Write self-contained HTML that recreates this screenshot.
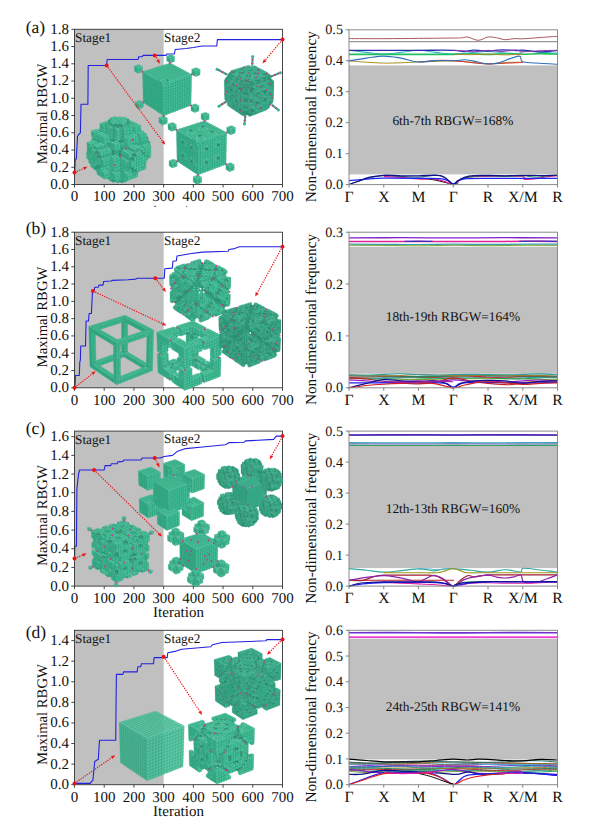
<!DOCTYPE html><html><head><meta charset="utf-8"><title>figure</title>
<style>html,body{margin:0;padding:0;background:#fff;}body{width:610px;height:833px;overflow:hidden;font-family:"Liberation Serif", serif;}svg{display:block;}.v path{stroke:#2b9876;stroke-width:2.8;stroke-linejoin:round}.vf path{stroke:#2a9474;stroke-width:2.8;stroke-linejoin:round}.vf .c0{fill:#3aae8c}.vf .c1{fill:#33a381}.vf .c2{fill:#48bf9b}.vf .c3{fill:#339f7e}.vf .c4{fill:#2e9476}.vf .c5{fill:#40b190}.vf .c6{fill:#2c8c6e}.vf .c7{fill:#278266}.vf .c8{fill:#369c7d}.vf .c9{fill:#1f6b56}.vf .c10{fill:#1b634f}.vf .c11{fill:#277a63}.c0{fill:#45c39b}.c1{fill:#3ab38d}.c2{fill:#58d1aa}.c3{fill:#3bb08c}.c4{fill:#35a582}.c5{fill:#54c8a4}.c6{fill:#2f9475}.c7{fill:#2a896c}.c8{fill:#40a787}.c9{fill:#20705a}.c10{fill:#1c6752}.c11{fill:#2a8269}.dot{stroke:#cc3594;stroke-linecap:round;fill:none}text{font-family:"Liberation Serif", serif;fill:#111;text-rendering:geometricPrecision;}</style>
</head><body>
<svg width="610" height="833" viewBox="0 0 610 833">
<rect width="610" height="833" fill="#fff"/>
<g>
<rect x="74.50" y="29.30" width="89.14" height="155.20" fill="#c0c0c0"/>
<path d="M74.5 172.4 L74.8 172.4 L75.1 160.4 L76.3 158.6 L77.5 136.2 L78.7 134.5 L80.4 132.8 L81.0 104.3 L87.9 104.3 L88.2 65.5 L106.6 65.5 L107.2 59.5 L138.1 59.5 L138.7 56.7 L142.2 56.7 L143.1 55.4 L166.0 55.4 L166.9 54.0 L174.3 54.0 L175.2 49.5 L185.9 48.5 L193.4 47.5 L202.3 46.0 L216.8 45.9 L217.4 39.6 L282.5 39.6" fill="none" stroke="#2222e0" stroke-width="1.1" stroke-linejoin="round"/>
<rect x="74.50" y="29.30" width="208.00" height="155.20" fill="none" stroke="#333" stroke-width="0.9"/>
<text x="69.1" y="188.9" font-size="15" text-anchor="end">0.0</text>
<text x="69.1" y="171.7" font-size="15" text-anchor="end">0.2</text>
<text x="69.1" y="154.4" font-size="15" text-anchor="end">0.4</text>
<text x="69.1" y="137.2" font-size="15" text-anchor="end">0.6</text>
<text x="69.1" y="119.9" font-size="15" text-anchor="end">0.8</text>
<text x="69.1" y="102.7" font-size="15" text-anchor="end">1.0</text>
<text x="69.1" y="85.4" font-size="15" text-anchor="end">1.2</text>
<text x="69.1" y="68.2" font-size="15" text-anchor="end">1.4</text>
<text x="69.1" y="50.9" font-size="15" text-anchor="end">1.6</text>
<text x="69.1" y="33.7" font-size="15" text-anchor="end">1.8</text>
<text x="74.5" y="201.3" font-size="15" text-anchor="middle">0</text>
<text x="104.2" y="201.3" font-size="15" text-anchor="middle">100</text>
<text x="133.9" y="201.3" font-size="15" text-anchor="middle">200</text>
<text x="163.6" y="201.3" font-size="15" text-anchor="middle">300</text>
<text x="193.4" y="201.3" font-size="15" text-anchor="middle">400</text>
<text x="223.1" y="201.3" font-size="15" text-anchor="middle">500</text>
<text x="252.8" y="201.3" font-size="15" text-anchor="middle">600</text>
<text x="282.5" y="201.3" font-size="15" text-anchor="middle">700</text>
<path d="M74.50 184.50h-3.2M74.50 167.26h-3.2M74.50 150.01h-3.2M74.50 132.77h-3.2M74.50 115.52h-3.2M74.50 98.28h-3.2M74.50 81.03h-3.2M74.50 63.79h-3.2M74.50 46.54h-3.2M74.50 29.30h-3.2M74.50 184.50v3M104.21 184.50v3M133.93 184.50v3M163.64 184.50v3M193.36 184.50v3M223.07 184.50v3M252.79 184.50v3M282.50 184.50v3" stroke="#333" stroke-width="0.9" fill="none"/>
<text x="25.7" y="33.1" font-size="17.5">(a)</text>
<text x="75.0" y="42.1" font-size="13.3">Stage1</text>
<text x="164.1" y="41.6" font-size="13.3">Stage2</text>
<text transform="translate(47.3 113.9) rotate(-90)" font-size="14.7" text-anchor="middle">Maximal RBGW</text>
<circle cx="74.5" cy="172.4" r="2" fill="#f01010"/>
<circle cx="106.6" cy="65.5" r="2" fill="#f01010"/>
<circle cx="154.7" cy="55.4" r="2" fill="#f01010"/>
<circle cx="282.5" cy="39.6" r="2" fill="#f01010"/>
</g>
<g>
<rect x="74.50" y="232.20" width="89.14" height="155.60" fill="#c0c0c0"/>
<path d="M74.5 387.8 L75.1 384.3 L75.4 375.5 L79.3 375.5 L79.8 361.9 L80.4 360.1 L80.7 346.0 L85.5 346.0 L86.1 321.0 L88.5 321.0 L89.1 313.5 L91.4 313.5 L92.0 301.4 L92.6 291.0 L94.1 291.0 L94.7 287.3 L98.3 287.3 L98.9 285.1 L103.0 285.1 L103.6 281.5 L111.3 281.0 L111.9 280.4 L128.0 279.7 L135.7 279.1 L137.5 278.2 L164.2 278.2 L164.8 268.7 L172.3 268.1 L172.9 261.3 L176.4 260.7 L177.0 256.0 L189.8 253.8 L202.3 252.1 L228.1 251.2 L229.0 249.5 L234.7 248.6 L239.4 246.7 L282.5 246.7" fill="none" stroke="#2222e0" stroke-width="1.1" stroke-linejoin="round"/>
<rect x="74.50" y="232.20" width="208.00" height="155.60" fill="none" stroke="#333" stroke-width="0.9"/>
<text x="69.1" y="392.2" font-size="15" text-anchor="end">0.0</text>
<text x="69.1" y="374.9" font-size="15" text-anchor="end">0.2</text>
<text x="69.1" y="357.6" font-size="15" text-anchor="end">0.4</text>
<text x="69.1" y="340.3" font-size="15" text-anchor="end">0.6</text>
<text x="69.1" y="323.0" font-size="15" text-anchor="end">0.8</text>
<text x="69.1" y="305.8" font-size="15" text-anchor="end">1.0</text>
<text x="69.1" y="288.5" font-size="15" text-anchor="end">1.2</text>
<text x="69.1" y="271.2" font-size="15" text-anchor="end">1.4</text>
<text x="69.1" y="253.9" font-size="15" text-anchor="end">1.6</text>
<text x="69.1" y="236.6" font-size="15" text-anchor="end">1.8</text>
<text x="74.5" y="404.6" font-size="15" text-anchor="middle">0</text>
<text x="104.2" y="404.6" font-size="15" text-anchor="middle">100</text>
<text x="133.9" y="404.6" font-size="15" text-anchor="middle">200</text>
<text x="163.6" y="404.6" font-size="15" text-anchor="middle">300</text>
<text x="193.4" y="404.6" font-size="15" text-anchor="middle">400</text>
<text x="223.1" y="404.6" font-size="15" text-anchor="middle">500</text>
<text x="252.8" y="404.6" font-size="15" text-anchor="middle">600</text>
<text x="282.5" y="404.6" font-size="15" text-anchor="middle">700</text>
<path d="M74.50 387.80h-3.2M74.50 370.51h-3.2M74.50 353.22h-3.2M74.50 335.93h-3.2M74.50 318.64h-3.2M74.50 301.36h-3.2M74.50 284.07h-3.2M74.50 266.78h-3.2M74.50 249.49h-3.2M74.50 232.20h-3.2M74.50 387.80v3M104.21 387.80v3M133.93 387.80v3M163.64 387.80v3M193.36 387.80v3M223.07 387.80v3M252.79 387.80v3M282.50 387.80v3" stroke="#333" stroke-width="0.9" fill="none"/>
<text x="25.7" y="234.4" font-size="17.5">(b)</text>
<text x="75.0" y="245.0" font-size="13.3">Stage1</text>
<text x="164.1" y="244.5" font-size="13.3">Stage2</text>
<text transform="translate(47.3 317.0) rotate(-90)" font-size="14.7" text-anchor="middle">Maximal RBGW</text>
<circle cx="74.5" cy="387.8" r="2" fill="#f01010"/>
<circle cx="92.9" cy="291.0" r="2" fill="#f01010"/>
<circle cx="155.3" cy="278.2" r="2" fill="#f01010"/>
<circle cx="282.5" cy="246.7" r="2" fill="#f01010"/>
</g>
<g>
<rect x="74.50" y="431.10" width="89.14" height="155.00" fill="#c0c0c0"/>
<path d="M74.5 558.5 L74.8 546.2 L76.4 546.2 L76.9 488.5 L78.5 474.4 L79.6 470.0 L104.2 470.0 L105.1 465.6 L110.8 465.6 L111.3 463.8 L117.0 463.8 L117.9 461.9 L122.9 461.4 L123.8 460.0 L141.1 459.9 L142.2 458.0 L160.1 458.0 L164.2 456.5 L172.6 455.4 L177.0 451.6 L185.6 448.6 L202.6 447.0 L225.4 444.7 L229.3 442.6 L243.9 442.3 L245.4 440.9 L273.6 439.4 L276.3 436.1 L282.5 436.1" fill="none" stroke="#2222e0" stroke-width="1.1" stroke-linejoin="round"/>
<rect x="74.50" y="431.10" width="208.00" height="155.00" fill="none" stroke="#333" stroke-width="0.9"/>
<text x="69.1" y="590.5" font-size="15" text-anchor="end">0.0</text>
<text x="69.1" y="571.8" font-size="15" text-anchor="end">0.2</text>
<text x="69.1" y="553.2" font-size="15" text-anchor="end">0.4</text>
<text x="69.1" y="534.5" font-size="15" text-anchor="end">0.6</text>
<text x="69.1" y="515.8" font-size="15" text-anchor="end">0.8</text>
<text x="69.1" y="497.1" font-size="15" text-anchor="end">1.0</text>
<text x="69.1" y="478.5" font-size="15" text-anchor="end">1.2</text>
<text x="69.1" y="459.8" font-size="15" text-anchor="end">1.4</text>
<text x="69.1" y="441.1" font-size="15" text-anchor="end">1.6</text>
<text x="74.5" y="602.9" font-size="15" text-anchor="middle">0</text>
<text x="104.2" y="602.9" font-size="15" text-anchor="middle">100</text>
<text x="133.9" y="602.9" font-size="15" text-anchor="middle">200</text>
<text x="163.6" y="602.9" font-size="15" text-anchor="middle">300</text>
<text x="193.4" y="602.9" font-size="15" text-anchor="middle">400</text>
<text x="223.1" y="602.9" font-size="15" text-anchor="middle">500</text>
<text x="252.8" y="602.9" font-size="15" text-anchor="middle">600</text>
<text x="282.5" y="602.9" font-size="15" text-anchor="middle">700</text>
<path d="M74.50 586.10h-3.2M74.50 567.43h-3.2M74.50 548.75h-3.2M74.50 530.08h-3.2M74.50 511.40h-3.2M74.50 492.73h-3.2M74.50 474.05h-3.2M74.50 455.38h-3.2M74.50 436.70h-3.2M74.50 586.10v3M104.21 586.10v3M133.93 586.10v3M163.64 586.10v3M193.36 586.10v3M223.07 586.10v3M252.79 586.10v3M282.50 586.10v3" stroke="#333" stroke-width="0.9" fill="none"/>
<text x="25.7" y="434.2" font-size="17.5">(c)</text>
<text x="75.0" y="443.9" font-size="13.3">Stage1</text>
<text x="164.1" y="443.4" font-size="13.3">Stage2</text>
<text transform="translate(47.3 515.6) rotate(-90)" font-size="14.7" text-anchor="middle">Maximal RBGW</text>
<text x="178.5" y="617.1" font-size="15" text-anchor="middle">Iteration</text>
<circle cx="74.5" cy="558.5" r="2" fill="#f01010"/>
<circle cx="94.1" cy="470.0" r="2" fill="#f01010"/>
<circle cx="154.7" cy="458.0" r="2" fill="#f01010"/>
<circle cx="282.5" cy="436.1" r="2" fill="#f01010"/>
</g>
<g>
<rect x="74.50" y="630.30" width="89.14" height="154.40" fill="#c0c0c0"/>
<path d="M74.5 783.4 L90.2 783.4 L91.4 781.6 L92.9 780.3 L94.7 761.5 L98.3 759.3 L99.5 740.2 L115.7 740.2 L116.4 674.4 L122.9 674.4 L123.5 671.9 L137.2 671.9 L137.8 666.8 L140.8 666.8 L141.4 663.7 L153.5 663.7 L154.1 657.6 L167.2 657.6 L167.8 652.7 L176.1 651.1 L181.5 649.3 L210.9 646.8 L212.4 644.7 L221.9 642.5 L266.2 640.8 L266.8 639.6 L282.5 639.6" fill="none" stroke="#2222e0" stroke-width="1.1" stroke-linejoin="round"/>
<rect x="74.50" y="630.30" width="208.00" height="154.40" fill="none" stroke="#333" stroke-width="0.9"/>
<text x="69.1" y="789.1" font-size="15" text-anchor="end">0.0</text>
<text x="69.1" y="768.5" font-size="15" text-anchor="end">0.2</text>
<text x="69.1" y="747.9" font-size="15" text-anchor="end">0.4</text>
<text x="69.1" y="727.3" font-size="15" text-anchor="end">0.6</text>
<text x="69.1" y="706.8" font-size="15" text-anchor="end">0.8</text>
<text x="69.1" y="686.2" font-size="15" text-anchor="end">1.0</text>
<text x="69.1" y="665.6" font-size="15" text-anchor="end">1.2</text>
<text x="69.1" y="645.0" font-size="15" text-anchor="end">1.4</text>
<text x="74.5" y="801.5" font-size="15" text-anchor="middle">0</text>
<text x="104.2" y="801.5" font-size="15" text-anchor="middle">100</text>
<text x="133.9" y="801.5" font-size="15" text-anchor="middle">200</text>
<text x="163.6" y="801.5" font-size="15" text-anchor="middle">300</text>
<text x="193.4" y="801.5" font-size="15" text-anchor="middle">400</text>
<text x="223.1" y="801.5" font-size="15" text-anchor="middle">500</text>
<text x="252.8" y="801.5" font-size="15" text-anchor="middle">600</text>
<text x="282.5" y="801.5" font-size="15" text-anchor="middle">700</text>
<path d="M74.50 784.70h-3.2M74.50 764.11h-3.2M74.50 743.53h-3.2M74.50 722.94h-3.2M74.50 702.35h-3.2M74.50 681.77h-3.2M74.50 661.18h-3.2M74.50 640.59h-3.2M74.50 784.70v3M104.21 784.70v3M133.93 784.70v3M163.64 784.70v3M193.36 784.70v3M223.07 784.70v3M252.79 784.70v3M282.50 784.70v3" stroke="#333" stroke-width="0.9" fill="none"/>
<text x="25.7" y="637.8" font-size="17.5">(d)</text>
<text x="75.0" y="643.1" font-size="13.3">Stage1</text>
<text x="164.1" y="642.6" font-size="13.3">Stage2</text>
<text transform="translate(47.3 714.5) rotate(-90)" font-size="14.7" text-anchor="middle">Maximal RBGW</text>
<text x="178.5" y="815.7" font-size="15" text-anchor="middle">Iteration</text>
<circle cx="74.5" cy="783.4" r="2" fill="#f01010"/>
<circle cx="163.6" cy="656.8" r="2" fill="#f01010"/>
<circle cx="282.5" cy="639.6" r="2" fill="#f01010"/>
</g>
<g class="v" transform="scale(.1)"><path class="c4" d="M1092 1800l20 13-1-28-19-13zM1112 1813l19 12 0-28-20-12zM919 1412l19 11-1-28-19-12zM988 1320l19 11-1-29-19-11zM1221 1775l20 12 0-28-20-13zM1007 1331l19 11-1-29-19-11zM1221 1746l20 13 0-29-19-12zM975 1417l19 11-1-28-19-12zM1026 1342l19 11 0-29-20-11zM1222 1718l19 12 1-28-20-13zM994 1428l19 12-1-29-19-11zM1045 1353l19 12 0-30-19-11zM934 1687l19 12-1-29-19-12zM1137 1711l20 12 0-29-20-12zM1064 1437l19 11 0-29-20-12zM1143 1572l20 13 0-30-20-12zM1083 1448l20 12 0-30-20-11zM1251 1671l20 12 0-29-20-13zM1143 1543l20 12 0-30-20-12zM1103 1460l20 12 0-30-20-12zM1271 1683l21 13 0-30-21-12zM1210 1558l20 12 1-30-21-12zM1143 1513l20 12 0-29-20-12zM1129 1392l20 11 0-29-20-12zM1230 1570l21 12 0-29-20-13zM1129 1362l20 12 0-30-20-12zM1222 1367l21 12 0-30-21-12zM1251 1582l21 13 0-30-21-12zM1304 1504l21 12 0-30-21-12zM1129 1332l20 12 0-30-20-12zM1222 1337l21 12 0-30-21-12zM1010 1619l20 13 0-30-20-12zM1292 1637l21 12 0-29-21-13zM1272 1595l20 12 1-30-21-12zM1325 1516l21 12 0-30-21-12zM1129 1302l20 12 0-31-20-11zM1222 1307l21 12 0-30-20-12z"/><path class="c3" d="M1272 1812l-25 9 0-28 25-9zM1500 1475l-24 8 0-28 25-9zM1247 1821l-26 10 0-28 26-10zM1501 1446l-25 9 1-29 24-9zM1131 1797l-26 10 0-29 26-9zM1131 1769l-26 9 0-28 26-9zM1221 1775l-25 9 0-28 25-10zM1452 1435l-25 9 0-29 25-9zM1131 1741l-26 9 0-28 26-10zM1221 1746l-25 10 0-29 26-9zM1427 1444l-26 8 1-29 25-8zM1387 1363l-25 9 0-30 25-8zM1131 1712l-26 10-1-29 26-10zM1222 1718l-26 9 0-28 26-10zM1401 1452l-25 9 1-29 25-9zM1346 1432l-26 9 1-29 25-9zM1184 1714l-27 9 0-29 27-9zM1393 1406l-26 8 0-29 26-9zM1004 1343l-26 9 0-30 26-8zM1117 1640l-26 10 0-30 26-9zM1300 1371l-25 8 0-29 26-9zM1091 1650l-27 9 0-29 27-10zM1190 1575l-27 10 0-30 27-9zM1269 1459l-27 9 1-29 26-9zM1064 1659l-26 10-1-30 27-9zM1190 1546l-27 9 0-30 27-9zM1242 1468l-26 9 0-29 27-9zM1301 1311l-26 9 0-30 26-9zM1038 1669l-27 9-1-29 27-10zM1117 1552l-27 10 0-30 27-9zM1190 1516l-27 9 0-29 27-9zM1216 1477l-26 10 0-30 26-9zM1222 1397l-26 9 0-30 26-9zM1301 1281l-26 9 0-30 26-9zM1090 1562l-26 9-1-30 27-9zM1129 1362l-26 9-1-30 27-9zM1222 1367l-26 9 0-30 26-9zM1292 1666l-26 10 0-30 26-9zM1064 1571l-27 9-1-29 27-10zM1023 1487l-27 10 0-30 27-9zM1129 1332l-27 9 0-30 27-9zM1222 1337l-26 9 0-30 26-9zM1010 1619l-27 10 0-30 27-9zM1292 1637l-26 9 0-29 26-10zM1037 1580l-27 10-1-30 27-9zM996 1497l-27 9 0-30 27-9zM1129 1302l-27 9 0-30 27-9zM1222 1307l-26 9 0-30 27-9zM1249 1269l-26 8 0-30 26-9z"/><path class="c2" d="M1332 1310l20 11-25 9-20-11zM1397 1295l20 11-25 8-20-11zM1440 1620l20 12-25 9-20-12zM1013 1283l19 11-26 8-19-11zM1417 1306l20 11-25 8-20-11zM1032 1294l19 11-26 8-19-11zM1392 1314l20 11-25 9-20-11zM1051 1305l19 11-25 8-20-11zM1367 1323l20 11-25 8-20-11zM1070 1316l20 11-26 8-19-11zM1342 1331l20 11-25 9-21-11zM1102 1201l19 11-25 8-20-11zM1328 1213l20 11-26 9-20-11zM1076 1209l20 11-26 8-19-11zM1302 1222l20 11-25 8-20-11zM1348 1224l20 11-25 8-21-10zM1013 1687l20 12-27 10-19-12zM1333 1707l21 13-26 9-20-12zM1051 1217l19 11-26 9-19-11zM1322 1233l21 10-26 9-20-11zM1368 1235l20 11-25 8-20-11zM1033 1699l19 13-26 9-20-12zM1308 1717l20 12-26 10-20-13zM1025 1226l19 11-26 8-20-11zM1070 1228l19 11-26 9-19-11zM1343 1243l20 11-26 9-20-11zM1388 1246l21 11-26 9-20-12zM1052 1712l20 12-27 10-19-13zM1282 1726l20 13-26 10-20-13zM1044 1237l19 11-26 8-19-11zM1363 1254l20 12-25 8-21-11zM966 1291l19 12-27 8-19-11zM939 1300l19 11-26 9-19-11zM985 1303l19 11-26 8-20-11zM958 1311l20 11-27 9-19-11zM1154 1164l20 11-26 8-20-11zM1200 1166l20 11-26 8-20-10zM1246 1169l20 11-26 8-20-11zM1128 1172l20 11-26 8-20-11zM1174 1175l20 10-26 9-20-11zM1220 1177l20 11-26 8-20-11zM1148 1183l20 11-26 8-20-11zM1194 1185l20 11-26 9-20-11zM1289 1441l21 12-26 9-21-12zM1168 1194l20 11-26 8-20-11zM1214 1196l20 11-26 9-20-11zM1016 1315l20 12-27 9-19-12zM1188 1205l20 11-26 8-20-11zM1234 1207l21 12-26 8-21-11zM1070 1490l20 12-27 9-20-12zM1003 1446l20 12-27 9-20-12zM1162 1213l20 11-27 9-20-11zM1208 1216l21 11-27 9-20-12zM1043 1499l20 12-27 10-20-12zM1278 1513l20 13-26 9-21-12zM976 1455l20 12-27 9-20-12zM1009 1336l20 11-27 9-20-12zM1182 1224l20 12-26 8-21-11zM1229 1227l20 11-26 9-21-11zM1016 1509l20 12-27 9-20-12zM1298 1526l21 12-26 9-21-12zM1029 1347l20 12-27 9-20-12zM1176 1275l20 11-27 9-20-12zM1049 1359l20 11-27 9-20-11zM1284 1372l21 12-27 9-20-12z"/><path class="c6" d="M1157 1816l-26 9 0-28 26-9zM1202 1819l-26 9 0-28 26-10zM1481 1406l-25 9 1-29 25-9zM1247 1680l-25 9 0-29 25-9zM1222 1689l-26 10 0-29 26-10zM1376 1461l-25 9 0-29 26-9zM1216 1653l-26 10 0-29 26-10zM1346 1462l-26 9 0-30 26-9zM1143 1572l-26 10 0-30 26-9zM1248 1418l-26 9 0-30 26-9zM1143 1543l-26 9 0-29 26-10zM1216 1507l-26 9 0-29 26-10zM1222 1427l-26 9 0-30 26-9zM990 1577l-27 10-1-30 28-9zM1319 1598l-27 9 1-30 26-9zM970 1536l-27 9-1-30 27-9zM1345 1558l-26 10 0-30 27-10zM1155 1263l-26 9 0-30 26-9zM1202 1266l-26 9 0-31 26-8z"/><path class="c7" d="M1157 1816l19 12 0-28-19-12zM1202 1819l19 12 0-28-19-13zM1190 1634l20 12 0-29-20-13zM1090 1398l20 12-1-30-19-11zM1190 1575l20 12 0-29-20-12zM1110 1410l19 11 0-29-20-12zM1190 1546l20 12 0-30-20-12zM1123 1501l20 12 0-29-20-12zM1129 1421l20 12 0-30-20-11zM991 1666l20 12-1-29-19-12zM990 1577l20 13-1-30-19-12zM1319 1598l21 12 0-30-21-12zM970 1536l20 12-1-30-20-12zM1345 1558l21 13 1-30-21-13zM1155 1263l21 12 0-31-21-11zM1202 1266l21 11 0-30-21-11z"/><path class="c1" d="M1053 1692l20 12-1-29-19-12zM1066 1782l20 12-1-28-19-12zM1086 1794l19 13 0-29-20-12zM1389 1695l20 12 1-28-21-12zM912 1432l18 11 0-29-19-11zM1150 1810l20 12 0-28-20-13zM1085 1766l20 12 0-28-20-12zM1085 1738l20 12 0-28-20-13zM969 1741l19 13-1-29-19-12zM1085 1709l20 13-1-29-19-12zM872 1539l18 11 0-28-19-12zM988 1754l19 12 0-28-20-13zM968 1713l19 12 0-28-19-13zM871 1510l19 12-1-29-18-12zM1007 1766l19 13 0-29-19-12zM987 1725l20 13-1-29-19-12zM890 1522l19 11-1-29-19-11zM871 1481l18 12 0-29-19-12zM999 1293l19 11 0-30-19-11zM1026 1779l20 12 0-28-20-13zM1007 1738l19 12 0-29-20-12zM889 1493l19 11 0-29-19-11zM1437 1525l21 12 0-29-20-12zM870 1452l19 12-1-29-19-12zM1018 1304l20 11-1-30-19-11zM999 1263l19 11 0-29-20-11zM1317 1281l20 11 0-29-20-11zM1026 1750l20 13-1-29-19-13zM889 1464l19 11-1-29-19-11zM1438 1496l20 12 1-29-21-12zM1018 1274l19 11 0-29-19-11zM1337 1292l20 12 1-30-21-11zM895 1633l19 13-1-29-19-13zM1111 1778l20 13 0-29-20-13zM914 1367l19 12-1-30-19-11zM913 1338l19 11 0-29-19-11zM1050 1346l20 11 0-29-20-12zM867 1585l19 12 0-29-20-13zM932 1349l19 12 0-30-19-11zM926 1680l19 12 0-29-20-12zM886 1597l19 12 0-29-19-12zM925 1651l20 12-1-29-19-13zM905 1609l20 12-1-29-19-12zM1184 1626l20 13 0-30-20-12zM925 1621l19 13 0-30-20-12zM905 1580l19 12 0-30-20-12zM1184 1597l20 12 0-30-20-12zM1083 1389l20 12 0-30-20-12zM944 1634l20 12-1-29-19-13zM924 1592l20 12-1-29-19-13zM1204 1609l20 12 1-29-21-13zM1083 1359l20 12-1-30-19-12zM944 1604l19 13 0-30-20-12zM1224 1621l21 13 0-30-20-12zM924 1562l19 13 0-30-20-12zM1149 1374l21 11-1-30-20-11zM1083 1329l19 12 0-30-20-12zM1124 1667l21 13-1-30-20-12zM963 1617l20 12 0-30-20-12zM1245 1634l21 12 0-29-21-13zM943 1575l20 12-1-30-19-12zM1251 1553l21 12 0-30-21-12zM983 1374l19 12 0-30-20-12zM1149 1344l20 11 0-30-20-11zM1124 1638l20 12 0-30-20-12zM990 1548l19 12 0-30-20-12zM1272 1565l21 12 0-30-21-12zM1149 1314l20 11 0-30-20-12zM1124 1608l20 12 0-29-20-13zM1257 1411l21 12 0-30-20-12z"/><path class="c8" d="M944 1375l19 11-26 9-19-12zM1481 1406l20 11-24 9-21-11zM1461 1366l21 11-25 9-21-11zM1064 1437l19 11-26 9-20-11zM1083 1448l20 12-26 9-20-12zM1269 1459l20 12-26 9-21-12zM1103 1460l20 12-26 9-20-12zM1242 1468l21 12-26 9-21-12zM990 1577l20 13-27 9-20-12zM1319 1598l21 12-27 10-21-13zM970 1536l20 12-28 9-19-12zM1345 1558l21 13-26 9-21-12zM1155 1263l21 12-27 8-20-11zM1202 1266l21 11-27 9-20-11z"/><path class="c5" d="M1442 1326l20 11-25 9-20-11zM937 1395l19 11-26 8-19-11zM1477 1426l20 11-25 9-20-11zM956 1406l19 11-26 9-19-12zM1452 1435l20 11-25 9-20-11zM975 1417l19 11-26 9-19-11zM1427 1444l20 11-25 9-21-12zM1111 1671l19 12-26 10-19-12zM1247 1680l20 12-25 10-20-13zM1401 1452l21 12-25 9-21-12zM1378 1344l20 12-25 8-21-11zM1433 1517l21 12-26 9-21-12zM1272 1190l20 11-26 8-20-10zM900 1496l19 12-26 9-19-12zM1373 1364l20 12-26 9-20-12zM1108 1191l20 11-26 8-20-11zM1292 1201l20 11-26 8-20-11zM1090 1398l20 12-27 9-20-12zM1110 1410l19 11-26 9-20-11zM1248 1418l21 12-26 9-21-12zM1129 1421l20 12-26 9-20-12zM1222 1427l21 12-27 9-20-12zM1117 1552l20 12-27 10-20-12zM1210 1558l20 12-26 9-20-12zM1077 1469l20 12-27 9-20-12zM1263 1480l20 12-26 9-20-12zM1196 1436l20 12-26 9-20-12zM1090 1562l20 12-26 9-20-12zM1230 1570l21 12-26 10-21-13zM1050 1478l20 12-27 9-20-12zM1283 1492l21 12-26 9-21-12zM1064 1571l20 12-27 10-20-13zM1251 1582l21 13-27 9-20-12zM1023 1487l20 12-27 10-20-12zM1304 1504l21 12-27 10-20-13zM1275 1260l21 11-27 9-20-11zM1037 1580l20 13-27 9-20-12zM1272 1595l20 12-26 10-21-13zM996 1497l20 12-27 9-20-12zM1325 1516l21 12-27 10-21-12zM1372 1519l21 12-26 10-21-13zM1249 1269l20 11-26 9-20-12z"/><path class="c0" d="M1292 1796l-25 10 0-28 25-10zM1459 1689l-25 9 1-28 25-10zM1267 1806l-26 9 0-28 26-9zM1434 1698l-25 9 1-28 25-9zM1460 1660l-25 10 0-29 25-9zM1497 1466l-25 9 0-29 25-9zM1196 1813l-26 9 0-28 26-10zM1267 1778l-26 9 0-28 26-10zM1477 1397l-25 9 1-29 25-9zM1452 1406l-25 9 1-29 25-9zM1379 1767l-26 10 0-29 26-9zM1267 1721l-26 9 1-28 25-10zM1507 1577l-25 9 1-29 25-9zM1421 1493l-25 9 1-29 25-9zM1427 1415l-25 8 0-29 26-8zM1353 1777l-25 10 0-29 25-10zM1379 1739l-26 9 1-28 25-10zM1482 1586l-25 9 0-29 26-9zM1508 1548l-25 9 0-29 26-9zM1098 1772l-26 10 0-29 26-10zM1328 1787l-26 9 0-28 26-10zM1353 1748l-25 10 0-29 26-9zM1483 1557l-26 9 1-29 25-9zM1509 1519l-26 9 1-29 25-9zM1408 1316l-25 8 0-29 25-9zM1072 1782l-26 9 0-28 26-10zM1098 1743l-26 10 0-29 26-9zM1328 1758l-26 10 0-29 26-10zM1483 1528l-25 9 0-29 26-9zM961 1457l-27 9 0-29 26-9zM1064 1306l-26 9-1-30 26-8zM1408 1286l-25 9 0-29 26-9zM1072 1753l-26 10-1-29 27-10zM934 1466l-26 9-1-29 27-9zM1063 1277l-26 8 0-29 26-8zM1383 1295l-26 9 1-30 25-8zM1117 1669l-26 10 0-29 26-10zM1178 1765l-27 10 0-29 27-10zM978 1352l-27 9 0-30 27-9zM1065 1688l-27 10 0-29 26-10zM1038 1698l-27 10 0-30 27-9zM1391 1680l-26 9 0-29 26-10zM1417 1641l-26 9 1-29 26-10zM1444 1602l-26 9 0-30 26-9zM1450 1521l-26 9 0-29 26-10zM1327 1273l-26 8 0-30 26-8zM1111 1633l-27 9 0-29 26-10zM1391 1650l-26 10 1-30 26-9zM1418 1611l-26 10 0-30 26-10zM1084 1642l-27 10 0-30 27-9zM1365 1660l-26 9 0-29 27-10zM1110 1603l-26 10 0-30 26-9zM1392 1621l-26 9 0-30 26-9zM1418 1581l-26 10 1-30 26-9zM1269 1370l-26 9 0-30 26-9zM1057 1652l-27 10 0-30 27-10zM1084 1613l-27 9 0-29 27-10zM1366 1630l-27 10 1-30 26-10zM1392 1591l-26 9 0-29 27-10zM1090 1532l-27 9 0-30 27-9zM1196 1376l-26 9-1-30 27-9zM1269 1340l-26 9 0-30 26-9zM1296 1301l-27 9 0-30 27-9zM1057 1622l-27 10 0-30 27-9zM1198 1631l-27 10 0-30 27-10zM1339 1640l-26 9 0-29 27-10zM1366 1600l-26 10 0-30 26-9zM1063 1541l-27 10 0-30 27-10zM1393 1561l-27 10 1-30 26-10zM1096 1421l-27 10 0-31 27-9zM1357 1396l-26 9 0-30 27-9zM1196 1346l-27 9 0-30 27-9zM1269 1310l-26 9 0-30 26-9zM1171 1641l-27 9 0-30 27-9zM1198 1601l-27 10 0-30 27-10zM1036 1551l-27 9 0-30 27-9zM1319 1568l-26 9 0-30 26-9zM1096 1391l-27 9 0-30 27-9zM1331 1405l-26 9 0-30 26-9zM1196 1316l-27 9 0-30 27-9zM1171 1611l-27 9 0-29 27-10zM1069 1400l-27 10 0-31 27-9zM1305 1414l-27 9 0-30 27-9z"/><path class="c4" d="M1131 1797l19 13 0-29-19-12zM1221 1803l20 12 0-28-20-12zM937 1395l19 11-1-29-18-11zM956 1406l19 11-1-29-19-11zM1006 1431l19 12 0-30-20-11zM1118 1727l20 13-1-29-19-13zM1118 1698l19 13 0-29-20-13zM1302 1710l21 13 0-30-20-12zM979 1411l19 11 0-29-20-12zM953 1699l19 13 0-29-20-13zM1323 1723l21 12 0-29-21-13zM874 1534l19 12 0-29-19-12zM1373 1364l20 12 1-30-21-11zM1082 1229l20 11 0-30-20-11zM1263 1480l20 12 1-30-21-12zM1222 1397l21 12 0-30-21-12zM1069 1268l20 11 0-30-20-11zM1283 1492l21 12 0-30-20-12zM1010 1649l20 13 0-30-20-13zM1137 1505l20 12 0-30-20-12z"/><path class="c3" d="M1221 1803l-25 10 0-29 25-9zM1477 1426l-25 9 0-29 25-9zM1437 1346l-25 8 0-29 25-8zM1242 1673l-26 9 0-29 26-9zM1216 1682l-26 10 0-29 26-10zM1371 1453l-25 9 0-30 26-9zM1210 1733l-26 10 0-29 26-10zM1418 1426l-26 9 1-29 25-9zM1395 1716l-25 9 0-29 26-9zM1474 1600l-26 9 1-29 25-9zM1025 1413l-27 9 0-29 26-9zM999 1702l-27 10 0-29 27-10zM1370 1725l-26 10 0-29 26-10zM1474 1571l-25 9 0-29 26-10zM1312 1242l-26 8 0-30 26-8zM1077 1469l-27 9 0-29 26-10zM1129 1392l-26 9 0-30 26-9zM1050 1478l-27 9 0-29 27-9zM1210 1499l-26 9 0-30 26-9zM1184 1508l-27 9 0-30 27-9zM1210 1469l-26 9 0-30 26-9z"/><path class="c2" d="M1457 1357l21 11-25 9-21-11zM1347 1312l20 11-25 8-20-11zM1322 1320l20 11-26 9-20-11zM1287 1704l21 13-26 9-20-12zM922 1406l19 11-26 9-19-12zM1468 1438l21 11-25 9-21-12zM1262 1714l20 12-26 10-20-13zM896 1414l19 12-27 9-19-12zM941 1417l19 11-26 9-19-11zM1443 1446l21 12-26 9-21-12zM1489 1449l21 12-26 9-20-12zM915 1426l19 11-27 9-19-11zM1464 1458l20 12-25 9-21-12zM1424 1317l21 12-26 8-20-11zM998 1422l20 12-27 9-19-12zM1367 1444l20 12-25 9-21-12zM1399 1326l20 11-25 9-21-11zM1445 1329l21 11-26 9-21-12zM1157 1723l21 13-27 10-20-13zM972 1431l19 12-27 9-19-12zM1387 1456l21 11-26 10-20-12zM1419 1337l21 12-26 9-20-12zM945 1440l19 12-26 9-20-12zM1266 1180l21 11-26 8-21-11zM918 1449l20 12-27 9-20-12zM1037 1416l20 12-27 9-20-12zM1315 1432l21 12-26 9-21-12zM1076 1219l19 11-26 8-20-11zM1307 1232l20 11-26 8-20-11zM1240 1188l21 11-27 8-20-11zM1057 1428l19 11-26 10-20-12zM1030 1437l20 12-27 9-20-12zM1310 1453l21 12-27 9-20-12zM1331 1465l20 12-26 9-21-12zM990 1324l19 12-27 8-19-11zM1036 1327l20 11-27 9-20-11zM1363 1345l21 12-26 9-21-12zM1157 1547l20 12-26 10-21-13zM1130 1556l21 13-27 9-20-12zM1177 1559l21 12-27 10-20-12zM1151 1569l20 12-27 10-20-13z"/><path class="c1" d="M1066 1697l19 12 0-28-20-13zM1236 1781l20 13 0-29-20-13zM1317 1311l20 11 0-30-20-11zM1256 1794l20 12 0-29-20-12zM1236 1752l20 13 0-29-20-13zM1417 1485l21 11 0-29-21-12zM1337 1322l20 11 0-29-20-12zM1256 1765l20 12 0-28-20-13zM1131 1791l20 13 0-29-20-13zM1111 1749l20 13 0-29-20-13zM1210 1675l20 13 0-30-20-12zM933 1379l19 11-1-29-19-12zM1131 1762l20 13 0-29-20-13zM906 1667l20 13-1-29-19-13zM1230 1688l20 12 1-29-21-13zM887 1626l19 12-1-29-19-12zM1393 1376l21 11 0-29-20-12zM1050 1316l20 12-1-30-19-11zM1250 1700l21 13 0-30-20-12zM906 1638l19 13 0-30-20-12zM866 1555l20 13-1-30-19-12zM1050 1287l19 11 0-30-20-11zM991 1695l20 13 0-30-20-12zM1271 1713l21 12 0-29-21-13zM886 1568l19 12-1-30-19-12zM892 1488l19 12 0-30-20-12zM1049 1257l20 11 0-30-20-11zM1104 1684l20 13 0-30-20-12zM1124 1697l21 13 0-30-21-13zM1104 1655l20 12 0-29-20-13zM983 1404l20 12-1-30-19-12zM1104 1625l20 13 0-30-20-12zM1003 1416l20 12-1-30-20-12zM1237 1430l20 12 0-31-20-11zM1082 1299l20 12 0-30-20-12zM1104 1596l20 12 0-30-20-12zM1023 1428l20 12-1-30-20-12zM1257 1442l21 12 0-31-21-12zM1002 1386l20 12 0-30-20-12zM1237 1400l20 11 1-30-21-11zM1022 1398l20 12 0-31-20-11zM1110 1454l20 12 0-30-20-12zM1130 1466l20 12 0-30-20-12z"/><path class="c2" d="M1059 1690l19 12-26 10-19-13zM1078 1702l20 13-26 9-20-12zM1408 1467l21 12-26 10-21-12zM1429 1479l21 12-26 10-21-12zM1010 1425l20 12-27 9-19-12zM1336 1444l21 12-26 9-21-12zM984 1434l19 12-27 9-19-12zM1357 1456l21 12-27 9-20-12zM957 1443l19 12-27 9-19-12z"/><path class="c0" d="M1302 1796l-26 10 0-29 26-9zM1509 1490l-25 9 0-29 26-9zM1383 1324l-26 9 0-29 26-9zM1302 1768l-26 9 0-28 26-10zM1484 1499l-26 9 1-29 25-9zM1447 1668l-26 9 1-29 26-9zM1204 1784l-26 10 0-29 26-10zM1465 1399l-26 9 1-29 25-9zM1178 1794l-27 10 0-29 27-10zM1204 1755l-26 10 0-29 26-10zM1439 1408l-26 9 1-30 26-8zM1326 1362l-26 9 1-30 26-9zM1465 1370l-25 9 0-30 26-9zM1091 1679l-26 9-1-29 27-9zM1440 1379l-26 8 0-29 26-9zM1327 1332l-26 9 0-30 26-9zM1391 1709l-26 10 0-30 26-9zM1470 1592l-26 10 0-30 26-9zM1327 1302l-26 9 0-30 26-8zM1318 1716l-26 9 0-29 26-10zM1383 1387l-26 9 1-30 26-9zM1331 1435l-27 9 1-30 26-9zM1069 1431l-26 9-1-30 27-10zM1304 1444l-26 10 0-31 27-9zM1204 1490l-27 9 0-30 27-9zM1177 1499l-26 10-1-31 27-9z"/><path class="c4" d="M960 1399l19 12-1-30-19-11zM1346 1432l21 12 0-30-21-11zM1393 1406l20 11 1-30-21-11zM1210 1646l20 12 0-29-20-12zM1230 1658l21 13 0-30-21-12z"/><path class="c3" d="M1210 1704l-26 10 0-29 26-10zM1392 1435l-25 9 0-30 26-8zM978 1381l-26 9-1-29 27-9zM1301 1341l-26 9 0-30 26-9z"/><path class="c5" d="M1190 1663l20 12-26 10-20-13zM1137 1711l20 12-26 10-20-13zM1184 1714l20 12-26 10-21-13zM1454 1529l21 12-26 10-21-13zM1382 1477l21 12-26 9-21-12zM938 1461l19 12-27 9-19-12zM1403 1489l21 12-26 9-21-12zM1089 1249l20 12-27 8-20-11zM1109 1261l20 11-27 9-20-12z"/><path class="c6" d="M1421 1677l-25 10 0-29 26-10zM1448 1639l-26 9 0-29 26-10zM972 1683l-27 9 0-29 27-10zM1344 1706l-26 10 0-30 26-9zM1449 1551l-26 9 1-30 26-9zM1286 1220l-26 9 1-30 26-8zM1318 1686l-26 10 0-30 26-9zM1424 1530l-26 10 0-30 26-9z"/><path class="c0" d="M1417 1699l-26 10 0-29 26-10zM1443 1660l-26 10 0-29 26-10zM1469 1622l-26 9 1-29 26-10zM1417 1670l-26 10 0-30 26-9zM1443 1631l-26 10 1-30 26-9zM1295 1361l-26 9 0-30 26-9zM1198 1690l-27 10 0-30 27-9zM1383 1417l-26 9 0-30 26-9zM1295 1331l-26 9 0-30 27-9zM1171 1700l-26 10 0-30 26-10zM1198 1661l-27 9 0-29 27-10zM1357 1426l-26 9 0-30 26-9zM1171 1670l-26 10-1-30 27-9z"/><path class="c7" d="M972 1683l19 12 0-29-19-13zM1344 1706l21 13 0-30-21-12zM893 1517l19 12-1-29-19-12zM1102 1210l20 11 0-30-20-11zM1318 1686l21 13 0-30-21-12zM911 1500l20 11-1-29-19-12z"/><path class="c8" d="M893 1517l19 12-27 9-19-12zM1449 1551l21 12-26 9-21-12zM1102 1210l20 11-27 9-19-11zM1286 1220l21 12-26 8-21-11zM911 1500l20 11-27 10-20-12zM1424 1530l21 12-26 10-21-12zM1095 1230l20 11-26 8-20-11zM1281 1240l20 11-26 9-20-11z"/><path class="c11" d="M1123 1501l20 12-26 10-20-12zM1216 1507l20 12-26 9-20-12z"/><path class="c9" d="M1123 1501l-26 10 0-30 26-9zM1176 1424l-27 9 0-30 27-9z"/><path class="c10" d="M1216 1507l20 12 1-30-21-12zM1176 1424l20 12 0-30-20-12z"/><path class="c6" d="M991 1666l-27 9 0-29 27-9zM1281 1240l-26 9 0-30 26-9z"/><path class="c1" d="M945 1663l19 12 0-29-20-12zM1204 1639l20 12 0-30-20-12zM885 1538l19 12 0-29-20-12zM1063 1348l20 11 0-30-20-11zM1224 1651l21 13 0-30-21-13zM904 1550l20 12-1-29-19-12zM1210 1528l21 12 0-29-21-12zM964 1393l19 11 0-30-20-11zM1149 1403l21 12 0-30-21-11zM1063 1318l20 11-1-30-20-11zM964 1646l19 13 0-30-20-12zM1245 1664l21 12 0-30-21-12zM904 1521l19 12 0-30-20-12zM1231 1540l20 13 0-30-20-12zM963 1363l20 11-1-30-19-11zM1062 1288l20 11 0-30-20-11zM923 1533l20 12-1-30-19-12z"/><path class="c0" d="M1365 1689l-26 10 0-30 26-9zM1444 1572l-26 9 1-29 26-10zM1117 1523l-27 9 0-30 27-9zM1196 1406l-26 9 0-30 26-9zM1339 1669l-26 10 0-30 26-9zM1419 1552l-26 9 0-30 26-9z"/><path class="c7" d="M1095 1230l20 11 0-30-20-11z"/><path class="c2" d="M1122 1191l20 11-27 9-20-11zM1261 1199l20 11-26 9-21-12zM1097 1481l20 12-27 9-20-12zM1237 1489l20 12-26 10-21-12zM1342 1334l21 11-26 9-21-11zM1142 1202l20 11-27 9-20-11zM1257 1501l21 12-27 10-20-12zM1378 1468l21 12-27 9-21-12zM1316 1343l21 11-27 9-20-11zM1115 1211l20 11-26 8-20-11zM1255 1219l20 11-26 8-20-11zM1351 1477l21 12-26 9-21-12zM1056 1338l20 12-27 9-20-12zM1290 1352l20 11-26 9-21-11zM1337 1354l21 12-27 9-21-12zM1135 1222l20 11-26 9-20-12zM1076 1350l20 11-27 9-20-11zM1263 1361l21 11-26 9-21-11zM1310 1363l21 12-26 9-21-12zM1163 1406l21 12-27 9-21-12zM1136 1415l21 12-27 9-20-12z"/><path class="c3" d="M1010 1649l-27 10 0-30 27-10zM1398 1510l-26 9 0-30 27-9zM1275 1260l-26 9 0-31 26-8zM1372 1519l-26 9 0-30 26-9z"/><path class="c4" d="M1292 1666l21 13 0-30-21-12zM930 1482l20 12-1-30-19-12zM1117 1493l20 12 0-30-21-12zM1089 1249l20 12 0-31-20-11zM950 1494l19 12 0-30-20-12zM1109 1261l20 11 0-30-20-12z"/><path class="c5" d="M930 1482l20 12-27 9-20-12zM1398 1510l21 12-26 9-21-12zM950 1494l19 12-27 9-19-12zM1190 1427l20 12-26 9-21-12z"/><path class="c1" d="M1110 1484l20 12 0-30-20-12zM1130 1496l21 13-1-31-20-12z"/><path class="c0" d="M1204 1460l-27 9 0-30 27-9zM1177 1469l-27 9 0-30 27-9z"/><path class="c2" d="M1184 1418l20 12-27 9-20-12zM1157 1427l20 12-27 9-20-12z"/></g>
<g class="v" transform="scale(.1)"><path class="c1" d="M1355 1068l16 11-1-25-16-10zM1909 1104l18 11 1-25-18-11zM1667 611l17 9 0-25-17-9zM1371 1079l16 11 0-25-17-11zM1927 1115l19 11 0-25-18-11zM1354 1044l16 10 0-24-16-11zM1910 1079l18 11 0-25-18-11zM1684 620l17 9 0-25-17-9zM1667 586l17 9 0-26-17-9zM1370 1054l17 11-1-25-16-10zM1928 1090l18 11 1-25-19-11zM1432 1024l17 11-1-25-16-11zM1684 595l17 9 0-26-17-9zM1449 1035l16 10 0-25-17-10zM1432 999l16 11 0-26-17-10zM1465 1045l17 11-1-25-16-11zM1448 1010l17 10-1-25-16-11zM1431 974l17 10-1-25-16-10zM1482 1056l17 11-1-25-17-11zM1465 1020l16 11 0-25-17-11zM1448 984l16 11 0-25-17-11zM1431 949l16 10 0-25-17-11zM1499 1067l17 11-1-25-17-11zM1481 1031l17 11 0-25-17-11zM1464 995l17 11 0-25-17-11zM1447 959l17 11-1-26-16-10zM1430 923l17 11-1-26-16-10zM1516 1078l17 11-1-25-17-11zM1498 1042l17 11 0-25-17-11zM1481 1006l17 11-1-26-16-10zM1464 970l17 11-1-26-17-11zM1447 934l16 10 0-25-17-11zM1430 898l16 10 0-25-17-10zM1533 1089l17 11-1-25-17-11zM1515 1053l17 11 0-25-17-11zM1498 1017l17 11-1-26-17-11zM1481 981l16 10 0-25-17-11zM1463 944l17 11 0-26-17-10zM1446 908l17 11-1-26-16-10zM1429 873l17 10-1-26-17-10zM1550 1100l17 12 0-26-18-11zM1532 1064l17 11 0-25-17-11zM1515 1028l17 11 0-26-18-11zM1497 991l17 11 0-26-17-10zM1480 955l17 11 0-26-17-11zM1463 919l17 10-1-25-17-11zM1446 883l16 10 0-25-17-11zM1428 847l17 10 0-26-17-10zM1567 1112l17 11 0-25-17-12zM1549 1075l18 11-1-25-17-11zM1532 1039l17 11 0-26-17-11zM1514 1002l18 11-1-26-17-11zM1497 966l17 10 0-25-17-11zM1480 929l17 11-1-26-17-10zM1462 893l17 11 0-26-17-10zM1445 857l17 11-1-26-16-11zM1428 821l17 10-1-26-17-10zM1584 1123l18 12 0-26-18-11zM1567 1086l17 12 0-26-18-11zM1549 1050l17 11 0-26-17-11zM1532 1013l17 11 0-26-18-11zM1514 976l17 11 0-25-17-11zM1497 940l17 11-1-26-17-11zM1479 904l17 10 0-26-17-10zM1462 868l17 10-1-26-17-10zM1445 831l16 11 0-26-17-11zM1427 795l17 10-1-26-16-10zM1602 1135l18 11-1-26-17-11zM1584 1098l18 11 0-26-18-11zM1566 1061l18 11 0-26-18-11zM1549 1024l17 11 0-26-17-11zM1531 987l18 11-1-26-17-10zM1514 951l17 11 0-26-18-11zM1496 914l17 11 0-26-17-11zM1479 878l17 10-1-26-17-10zM1461 842l17 10 0-26-17-10zM1444 805l17 11-1-27-17-10zM1427 769l16 10 0-26-17-10zM1620 1146l17 12 0-26-18-12zM1602 1109l17 11 0-25-17-12zM1584 1072l18 11-1-26-17-11zM1566 1035l18 11-1-26-17-11zM1549 998l17 11 0-26-18-11zM1531 962l17 10 0-26-17-10zM1513 925l18 11-1-26-17-11zM1496 888l17 11 0-26-18-11zM1478 852l17 10 0-26-17-10zM1461 816l17 10-1-26-17-11zM1443 779l17 10 0-26-17-10zM1426 743l17 10-1-26-16-10zM1590 1227l18 12 0-26-18-12zM1619 1120l18 12 0-26-18-11zM1602 1083l17 12 0-26-18-12zM1584 1046l17 11 0-26-18-11zM1566 1009l17 11 0-26-17-11zM1548 972l18 11-1-26-17-11zM1531 936l17 10 0-26-18-10zM1513 899l17 11 0-27-17-10zM1495 862l18 11-1-26-17-11zM1478 826l17 10 0-26-18-10zM1460 789l17 11 0-27-17-10zM1443 753l17 10-1-26-17-10zM1345 712l16 10-1-26-16-10zM1917 745l19 10 1-27-19-10zM1608 1239l18 12 0-26-18-12zM1590 1201l18 12 0-25-18-12zM1619 1095l18 11 0-26-18-11zM1601 1057l18 12 0-26-18-12zM1583 1020l18 11 0-26-18-11zM1566 983l17 11 0-26-18-11zM1548 946l17 11 0-26-17-11zM1530 910l18 10-1-26-17-11zM1513 873l17 10 0-26-18-10zM1495 836l17 11 0-27-17-10zM1477 800l18 10-1-27-17-10zM1460 763l17 10-1-26-17-10zM1361 722l17 10-1-26-17-10zM1936 755l19 10 1-27-19-10zM1344 686l16 10 0-27-17-9zM1918 718l19 10 0-27-19-10zM1608 1213l18 12 0-26-18-11zM1619 1069l18 11 0-26-18-11zM1601 1031l18 12 0-26-18-12zM1583 994l18 11 0-26-18-11zM1565 957l18 11 0-26-18-11zM1548 920l17 11 0-26-18-11zM1530 883l17 11 0-26-17-11zM1512 847l18 10-1-26-17-11zM1495 810l17 10-1-26-17-11zM1477 773l17 10 0-26-18-10zM1360 696l17 10-1-27-16-10zM1937 728l19 10 0-27-19-10zM1619 1043l18 11 0-26-18-11zM1601 1005l18 12 0-27-18-11zM1583 968l18 11 0-26-18-11zM1565 931l18 11 0-27-18-10zM1547 894l18 11 0-27-18-10zM1530 857l17 11 0-27-18-10zM1512 820l17 11 0-27-18-10zM1494 783l17 11 0-27-17-10zM1619 1017l18 11 0-27-18-11zM1601 979l18 11 0-26-18-11zM1583 942l18 11 0-27-18-11zM1565 905l18 10-1-26-17-11zM1547 868l18 10-1-26-17-11zM1529 831l18 10-1-27-17-10zM1511 794l18 10 0-27-18-10zM1619 990l18 11 0-26-18-11zM1601 953l18 11 0-27-18-11zM1583 915l18 11-1-26-18-11zM1565 878l17 11 0-27-18-10zM1547 841l17 11 0-27-18-11zM1529 804l17 10 0-26-17-11zM1619 964l18 11 0-27-18-11zM1601 926l18 11-1-26-18-11zM1582 889l18 11 0-27-18-11zM1564 852l18 10 0-26-18-11zM1546 814l18 11 0-27-18-10zM1619 937l18 11 0-26-19-11zM1600 900l18 11 0-27-18-11zM1582 862l18 11 0-27-18-10zM1564 825l18 11 0-27-18-11zM1618 911l19 11-1-27-18-11zM1600 873l18 11 0-27-18-11zM1582 836l18 10 0-27-18-10zM1618 884l18 11 0-27-18-11z"/><path class="c0" d="M1433 1073l-23 9 0-25 23-8zM1989 1109l-22 8 1-25 22-8zM1745 615l-22 7 0-25 22-7zM1410 1082l-23 8 0-25 23-8zM1967 1117l-21 9 0-25 22-9zM1433 1049l-23 8-1-25 23-8zM1990 1084l-22 8 1-25 22-8zM1723 622l-22 7 0-25 22-7zM1745 590l-22 7 1-26 22-7zM1410 1057l-23 8-1-25 23-8zM1968 1092l-22 9 1-25 22-9zM1910 1054l-22 8 1-25 22-8zM1723 597l-22 7 0-26 23-7zM1888 1062l-22 9 0-25 23-9zM1911 1029l-22 8 0-25 22-8zM1866 1071l-22 8 0-25 22-8zM1889 1037l-23 9 1-26 22-8zM1911 1004l-22 8 1-25 22-9zM1844 1079l-23 9 1-26 22-8zM1866 1046l-22 8 0-25 23-9zM1889 1012l-22 8 0-25 23-8zM1912 978l-22 9 0-26 22-8zM1821 1088l-22 8 0-25 23-9zM1844 1054l-22 8 0-25 22-8zM1867 1020l-23 9 1-26 22-8zM1890 987l-23 8 1-26 22-8zM1912 953l-22 8 1-26 22-8zM1799 1096l-23 9 0-25 23-9zM1822 1062l-23 9 0-26 23-8zM1844 1029l-22 8 0-26 23-8zM1867 995l-22 8 0-26 23-8zM1890 961l-22 8 0-25 23-9zM1913 927l-22 8 0-25 23-8zM1776 1105l-23 9 0-26 23-8zM1799 1071l-23 9 1-26 22-9zM1822 1037l-23 8 1-25 22-9zM1845 1003l-23 8 1-25 22-9zM1868 969l-23 8 1-25 22-8zM1891 935l-23 9 1-26 22-8zM1914 902l-23 8 1-26 22-8zM1753 1114l-23 8 0-25 23-9zM1776 1080l-23 8 1-25 23-9zM1799 1045l-22 9 0-26 23-8zM1822 1011l-22 9 0-26 23-8zM1845 977l-22 9 0-26 23-8zM1868 944l-22 8 0-26 23-8zM1891 910l-22 8 0-26 23-8zM1914 876l-22 8 0-26 23-8zM1730 1122l-23 9 0-25 23-9zM1753 1088l-23 9 1-26 23-8zM1777 1054l-23 9 0-26 23-9zM1800 1020l-23 8 0-25 23-9zM1823 986l-23 8 0-26 23-8zM1846 952l-23 8 0-26 23-8zM1869 918l-23 8 1-26 22-8zM1892 884l-23 8 1-26 22-8zM1915 850l-23 8 1-26 22-8zM1707 1131l-23 9 0-26 23-8zM1730 1097l-23 9 0-26 24-9zM1754 1063l-23 8 0-26 23-8zM1777 1028l-23 9 0-26 23-8zM1800 994l-23 9 0-26 23-9zM1823 960l-23 8 1-26 22-8zM1846 926l-23 8 1-26 23-8zM1869 892l-22 8 0-26 23-8zM1892 858l-22 8 0-26 23-8zM1915 824l-22 8 0-27 23-7zM1684 1140l-23 9 0-26 23-9zM1707 1106l-23 8 0-25 23-9zM1731 1071l-24 9 1-26 23-9zM1754 1037l-23 8 0-25 23-9zM1777 1003l-23 8 0-26 23-8zM1800 968l-23 9 1-26 23-9zM1823 934l-22 8 0-26 23-8zM1847 900l-23 8 0-26 23-8zM1870 866l-23 8 0-26 23-8zM1893 832l-23 8 1-27 22-8zM1916 798l-23 7 1-26 22-8zM1661 1149l-24 9 0-26 24-9zM1684 1114l-23 9 0-26 23-8zM1707 1080l-23 9 0-26 24-9zM1731 1045l-23 9 0-26 23-8zM1754 1011l-23 9 0-26 23-9zM1777 977l-23 8 0-26 24-8zM1801 942l-23 9 0-27 23-8zM1824 908l-23 8 0-26 23-8zM1847 874l-23 8 1-26 22-8zM1870 840l-23 8 1-27 23-8zM1893 805l-22 8 0-26 23-8zM1916 771l-22 8 0-27 23-7zM1673 1233l-23 9 0-26 23-9zM1661 1123l-24 9 0-26 24-9zM1684 1089l-23 8 0-26 23-8zM1708 1054l-24 9 0-26 24-9zM1731 1020l-23 8 0-26 23-8zM1754 985l-23 9 0-27 23-8zM1778 951l-24 8 1-26 23-9zM1801 916l-23 8 0-26 23-8zM1824 882l-23 8 1-26 23-8zM1847 848l-22 8 0-27 23-8zM1871 813l-23 8 0-26 23-8zM1894 779l-23 8 1-27 22-8zM1426 717l-24 8-1-27 24-7zM2000 749l-22 8 0-26 23-8zM1650 1242l-24 9 0-26 24-9zM1673 1207l-23 9 0-26 23-9zM1661 1097l-24 9 0-26 24-9zM1684 1063l-23 8 0-26 23-8zM1708 1028l-24 9 0-26 24-9zM1731 994l-23 8 0-26 23-9zM1754 959l-23 8 0-26 24-8zM1778 924l-23 9 0-27 23-8zM1801 890l-23 8 0-26 24-8zM1825 856l-23 8 0-27 23-8zM1848 821l-23 8 0-26 23-8zM1871 787l-23 8 1-27 23-8zM1402 725l-24 7-1-26 24-8zM1978 757l-23 8 1-27 22-7zM1425 691l-24 7-1-26 24-8zM2001 723l-23 8 1-27 23-8zM1650 1216l-24 9 0-26 24-9zM1661 1071l-24 9 0-26 24-9zM1684 1037l-23 8 0-26 23-8zM1708 1002l-24 9 0-27 24-8zM1731 967l-23 9 0-26 23-9zM1755 933l-24 8 0-26 24-9zM1778 898l-23 8 0-26 23-8zM1802 864l-24 8 1-27 23-8zM1825 829l-23 8 0-26 23-8zM1848 795l-23 8 1-27 23-8zM1401 698l-24 8-1-27 24-7zM1978 731l-22 7 0-27 23-7zM1661 1045l-24 9 0-26 24-9zM1684 1011l-23 8 0-26 23-9zM1708 976l-24 8 0-26 24-8zM1731 941l-23 9 0-27 23-8zM1755 906l-24 9 1-27 23-8zM1778 872l-23 8 0-27 24-8zM1802 837l-23 8 0-26 23-8zM1825 803l-23 8 0-27 24-8zM1661 1019l-24 9 0-27 24-8zM1684 984l-23 9 0-27 23-8zM1708 950l-24 8 0-27 24-8zM1731 915l-23 8 0-27 24-8zM1755 880l-23 8 0-26 23-9zM1779 845l-24 8 0-26 24-8zM1802 811l-23 8 0-27 23-8zM1661 993l-24 8 0-26 24-9zM1684 958l-23 8 0-26 23-9zM1708 923l-24 8 0-26 24-9zM1732 888l-24 8 0-26 24-8zM1755 853l-23 9 0-27 23-8zM1779 819l-24 8 1-27 23-8zM1661 966l-24 9 0-27 24-8zM1684 931l-23 9 0-27 23-8zM1708 896l-24 9 0-27 24-8zM1732 862l-24 8 0-27 24-8zM1755 827l-23 8 0-27 24-8zM1661 940l-24 8 0-26 24-9zM1684 905l-23 8 0-27 23-8zM1708 870l-24 8 0-27 24-8zM1732 835l-24 8 0-27 24-8zM1661 913l-24 9-1-27 25-9zM1684 878l-23 8-1-27 24-8zM1661 886l-25 9 0-27 24-9z"/><path class="c2" d="M1400 1003l16 10-23 8-16-10zM1954 1037l18 11-22 8-18-10zM1711 546l17 9-22 7-17-9zM1377 1011l16 10-23 9-16-11zM1416 1013l16 11-23 8-16-11zM1932 1046l18 10-22 9-18-11zM1972 1048l19 11-22 8-19-11zM1689 553l17 9-22 7-17-9zM1728 555l18 9-22 7-18-9zM1393 1021l16 11-23 8-16-10zM1950 1056l19 11-22 9-19-11zM1701 629l17 10-22 7-17-9zM1706 562l18 9-23 7-17-9zM1679 637l17 9-22 7-18-9zM1718 639l18 9-23 7-17-9zM1656 644l18 9-23 7-17-9zM1696 646l17 9-22 7-17-9zM1736 648l17 9-22 8-18-10zM1634 651l17 9-23 7-17-9zM1674 653l17 9-23 8-17-10zM1713 655l18 10-23 7-17-10zM1753 657l18 10-22 7-18-9zM1611 658l17 9-22 8-17-10zM1651 660l17 10-22 7-18-10zM1691 662l17 10-22 7-18-9zM1731 665l18 9-23 7-18-9zM1771 667l18 9-23 8-17-10zM1589 665l17 10-23 7-17-10zM1628 667l18 10-23 7-17-9zM1668 670l18 9-23 7-17-9zM1708 672l18 9-23 8-17-10zM1749 674l17 10-22 7-18-10zM1789 676l18 10-23 7-18-9zM1566 672l17 10-23 7-17-9zM1606 675l17 9-23 8-17-10zM1646 677l17 9-23 8-17-10zM1686 679l17 10-22 7-18-10zM1726 681l18 10-23 7-18-9zM1766 684l18 9-22 8-18-10zM1807 686l18 9-23 8-18-10zM1543 680l17 9-24 8-17-10zM1583 682l17 10-23 7-17-10zM1623 684l17 10-23 7-17-9zM1663 686l18 10-23 8-18-10zM1703 689l18 9-23 8-17-10zM1744 691l18 10-23 7-18-10zM1784 693l18 10-22 7-18-9zM1825 695l18 10-23 8-18-10zM1519 687l17 10-23 7-17-9zM1560 689l17 10-23 8-18-10zM1600 692l17 9-23 8-17-10zM1640 694l18 10-23 7-18-10zM1681 696l17 10-23 7-17-9zM1721 698l18 10-23 8-18-10zM1762 701l18 9-23 8-18-10zM1802 703l18 10-22 7-18-10zM1843 705l18 10-22 8-19-10zM1496 695l17 9-23 8-17-10zM1536 697l18 10-24 7-17-10zM1577 699l17 10-23 7-17-9zM1617 701l18 10-23 8-18-10zM1658 704l17 9-23 8-17-10zM1698 706l18 10-23 7-18-10zM1739 708l18 10-23 8-18-10zM1780 710l18 10-23 8-18-10zM1820 713l19 10-23 7-18-10zM1861 715l19 10-23 7-18-9zM1473 702l17 10-24 7-17-10zM1513 704l17 10-23 8-17-10zM1554 707l17 9-24 8-17-10zM1594 709l18 10-24 7-17-10zM1635 711l17 10-23 8-17-10zM1675 713l18 10-23 8-18-10zM1716 716l18 10-23 7-18-10zM1757 718l18 10-23 7-18-9zM1798 720l18 10-23 8-18-10zM1839 723l18 9-23 8-18-10zM1880 725l18 10-22 7-19-10zM1449 709l17 10-24 8-16-10zM1490 712l17 10-24 7-17-10zM1530 714l17 10-23 8-17-10zM1571 716l17 10-23 8-18-10zM1612 719l17 10-23 7-18-10zM1652 721l18 10-23 7-18-9zM1693 723l18 10-23 8-18-10zM1734 726l18 9-23 8-18-10zM1775 728l18 10-23 7-18-10zM1816 730l18 10-22 8-19-10zM1857 732l19 10-23 8-19-10zM1898 735l19 10-23 7-18-10zM1637 1158l18 11-23 9-18-11zM1466 719l17 10-24 8-17-10zM1507 722l17 10-24 7-17-10zM1547 724l18 10-24 7-17-9zM1588 726l18 10-24 8-17-10zM1629 729l18 9-24 8-17-10zM1670 731l18 10-23 8-18-11zM1711 733l18 10-23 8-18-10zM1752 735l18 10-23 8-18-10zM1793 738l19 10-23 8-19-11zM1834 740l19 10-23 8-18-10zM1876 742l18 10-22 8-19-10zM1391 645l17 10-24 7-17-10zM1963 676l19 10-22 8-19-10zM1614 1167l18 11-24 10-18-12zM1655 1169l18 12-23 9-18-12zM1483 729l17 10-24 8-17-10zM1524 732l17 9-24 8-17-10zM1565 734l17 10-23 8-18-11zM1606 736l17 10-23 8-18-10zM1647 738l18 11-24 7-18-10zM1688 741l18 10-23 8-18-10zM1729 743l18 10-23 8-18-10zM1770 745l19 11-24 7-18-10zM1812 748l18 10-23 8-18-10zM1853 750l19 10-23 8-19-10zM1367 652l17 10-24 7-17-9zM1408 655l16 9-24 8-16-10zM1941 684l19 10-23 7-19-10zM1982 686l20 10-23 8-19-10zM1632 1178l18 12-24 9-18-11zM1500 739l17 10-23 8-18-10zM1541 741l18 11-24 7-18-10zM1582 744l18 10-24 8-17-10zM1623 746l18 10-23 8-18-10zM1665 749l18 10-24 7-18-10zM1706 751l18 10-23 8-18-10zM1747 753l18 10-23 8-18-10zM1789 756l18 10-23 8-19-11zM1830 758l19 10-23 8-19-10zM1384 662l16 10-24 7-16-10zM1960 694l19 10-23 7-19-10zM1517 749l18 10-24 8-17-10zM1559 752l17 10-24 8-17-11zM1600 754l18 10-24 8-18-10zM1641 756l18 10-24 8-17-10zM1683 759l18 10-24 8-18-11zM1724 761l18 10-23 8-18-10zM1765 763l19 11-23 7-19-10zM1807 766l19 10-24 8-18-10zM1535 759l17 11-23 7-18-10zM1576 762l18 10-24 8-18-10zM1618 764l17 10-23 8-18-10zM1659 766l18 11-24 8-18-11zM1701 769l18 10-24 8-18-10zM1742 771l19 10-24 8-18-10zM1784 774l18 10-23 8-18-11zM1552 770l18 10-24 8-17-11zM1594 772l18 10-24 8-18-10zM1635 774l18 11-23 8-18-11zM1677 777l18 10-23 8-19-10zM1719 779l18 10-23 8-19-10zM1761 781l18 11-23 8-19-11zM1570 780l18 10-24 8-18-10zM1612 782l18 11-24 8-18-11zM1653 785l19 10-24 8-18-10zM1695 787l19 10-24 8-18-10zM1737 789l19 11-24 8-18-11zM1588 790l18 11-24 8-18-11zM1714 797l18 11-24 8-18-11zM1606 801l18 10-24 8-18-10z"/><path class="c6" d="M1672 822l-24 8 0-27 24-8z"/><path class="c10" d="M1672 822l18 10 0-27-18-10z"/><path class="c0" d="M1708 843l-24 8 0-27 24-8zM1684 851l-24 8 0-27 24-8zM1649 871l-25 8 0-27 25-9z"/><path class="c2" d="M1690 805l18 11-24 8-18-10zM1666 814l18 10-24 8-18-10zM1636 786l19 11-25 8-18-11zM1612 794l18 11-24 8-19-11zM1655 797l18 10-24 9-19-11zM1630 805l19 11-25 8-18-11z"/><path class="c1" d="M1588 857l18 11 0-27-19-11zM1606 868l18 11 0-27-18-11zM1587 830l19 11 0-28-19-11zM1606 841l18 11 0-28-18-11z"/><path class="c0" d="M1673 862l-24 9 0-28 24-8zM1673 835l-24 8 0-27 24-9zM1649 843l-25 9 0-28 25-8z"/></g><path class="dot" stroke-width="1.9" d="M170.1 62.9h.01M143.2 102.4h.01M142.6 71.7h.01M191.0 105.4h.01M191.7 74.5h.01M163.7 115.8h.01"/>
<g class="v" transform="scale(.1)"><path class="c1" d="M1691 1658l17 11-1-26-16-11zM2259 1694l18 11 1-25-19-11zM2011 1189l17 10 0-26-17-10zM1708 1669l16 11 0-25-17-12zM2277 1705l19 12 1-26-19-11zM1691 1632l16 11-1-25-16-11zM2259 1669l19 11 1-26-19-11zM2028 1199l18 9 0-26-18-9zM2011 1163l17 10 0-27-17-9zM1707 1643l17 12-1-26-17-11zM2278 1680l19 11 1-26-19-11zM1771 1612l16 11 0-25-17-11zM2028 1173l18 9 0-27-18-9zM1787 1623l17 11 0-25-17-11zM1770 1587l17 11-1-26-17-11zM1804 1634l17 11 0-25-17-11zM1787 1598l17 11-1-26-17-11zM1769 1561l17 11 0-26-17-11zM1821 1645l17 12 0-26-17-11zM1804 1609l17 11-1-26-17-11zM1786 1572l17 11 0-26-17-11zM1769 1535l17 11-1-26-17-11zM1838 1657l18 11-1-26-17-11zM1821 1620l17 11 0-26-18-11zM1803 1583l17 11 0-26-17-11zM1786 1546l17 11-1-26-17-11zM1768 1509l17 11 0-26-17-11zM1856 1668l17 11 0-26-18-11zM1838 1631l17 11 0-26-17-11zM1820 1594l18 11-1-26-17-11zM1803 1557l17 11-1-26-17-11zM1785 1520l17 11 0-26-17-11zM1768 1483l17 11-1-26-17-11zM1873 1679l18 12-1-26-17-12zM1855 1642l18 11 0-26-18-11zM1838 1605l17 11 0-26-18-11zM1802 1531l17 11 0-27-17-10zM1785 1494l17 11-1-27-17-10zM1767 1457l17 11 0-27-17-10zM1891 1691l17 11 0-26-18-11zM1873 1653l17 12 0-26-17-12zM1855 1616l18 11-1-26-17-11zM1802 1505l17 10 0-26-18-11zM1784 1468l17 10 0-26-17-11zM1767 1431l17 10-1-26-17-10zM1908 1702l18 12 0-26-18-12zM1890 1665l18 11 0-26-18-11zM1873 1627l17 12 0-27-18-11zM1819 1515l17 11 0-26-17-11zM1801 1478l18 11-1-26-17-11zM1784 1441l17 11-1-26-17-11zM1766 1405l17 10-1-27-17-10zM1926 1714l18 12 0-27-18-11zM1908 1676l18 12 0-27-18-11zM1890 1639l18 11 0-26-18-12zM1872 1601l18 11 0-26-18-11zM1854 1564l18 11-1-27-17-11zM1836 1526l18 11-1-26-17-11zM1819 1489l17 11 0-27-18-10zM1801 1452l17 11 0-27-18-10zM1783 1415l17 11 0-27-18-11zM1765 1378l17 10 0-26-17-10zM1944 1726l18 11 0-26-18-12zM1926 1688l18 11 0-26-18-12zM1908 1650l18 11 0-26-18-11zM1890 1612l18 12-1-27-17-11zM1872 1575l18 11-1-27-18-11zM1854 1537l17 11 0-26-18-11zM1836 1500l17 11 0-27-17-11zM1818 1463l18 10-1-26-17-11zM1800 1426l18 10-1-27-17-10zM1782 1388l18 11-1-27-17-10zM1765 1352l17 10-1-27-17-10zM1962 1737l18 12 0-26-18-12zM1944 1699l18 12 0-26-18-12zM1926 1661l18 12 0-26-18-12zM1890 1586l17 11 0-26-18-12zM1871 1548l18 11 0-26-18-11zM1853 1511l18 11 0-27-18-11zM1836 1473l17 11 0-27-18-10zM1800 1399l17 10 0-26-18-11zM1782 1362l17 10 0-27-18-10zM1764 1325l17 10 0-27-17-10zM1932 1820l19 12-1-26-18-12zM1962 1711l18 12 0-27-18-11zM1944 1673l18 12 0-27-18-11zM1889 1559l18 12 0-27-18-11zM1871 1522l18 11 0-27-18-11zM1853 1484l18 11-1-27-17-11zM1799 1372l18 11-1-27-17-11zM1781 1335l18 10-1-27-17-10zM1681 1293l17 10-1-27-17-10zM2267 1326l19 11 1-28-19-10zM1951 1832l18 13 0-26-19-13zM1932 1794l18 12 0-26-18-12zM1962 1685l18 11 0-26-18-12zM1907 1571l18 11 0-27-18-11zM1889 1533l18 11 0-27-18-11zM1871 1495l18 11-1-27-18-11zM1817 1383l17 10 0-27-18-10zM1799 1345l17 11 0-28-18-10zM1698 1303l17 10-1-27-17-10zM2286 1337l20 10 1-27-20-11zM1680 1266l17 10-1-27-17-10zM2268 1299l19 10 1-27-20-10zM1950 1806l19 13 0-27-19-12zM1962 1658l18 12 0-27-18-12zM1944 1620l18 11 0-26-19-12zM1925 1582l18 11 0-27-18-11zM1907 1544l18 11 0-27-18-11zM1889 1506l18 11-1-27-18-11zM1870 1468l18 11 0-27-18-11zM1852 1431l18 10 0-27-18-10zM1834 1393l18 11 0-28-18-10zM1816 1356l18 10-1-27-17-11zM1697 1276l17 10-1-27-17-10zM2287 1309l20 11 0-28-19-10zM1962 1631l18 12 0-27-18-11zM1943 1593l19 12 0-27-19-12zM1925 1555l18 11 0-27-18-11zM1907 1517l18 11 0-27-19-11zM1888 1479l18 11 0-27-18-11zM1870 1441l18 11 0-27-18-11zM1852 1404l18 10-1-27-17-11zM1834 1366l18 10-1-27-18-10zM1962 1605l18 11 0-27-18-11zM1943 1566l19 12-1-27-18-12zM1925 1528l18 11 0-27-18-11zM1888 1452l18 11 0-27-18-11zM1870 1414l18 11-1-27-18-11zM1852 1376l17 11 0-27-18-11zM1962 1578l18 11 0-27-19-11zM1943 1539l18 12 0-27-18-12zM1888 1425l18 11 0-28-19-10zM1869 1387l18 11 0-28-18-10zM1961 1551l19 11 0-27-19-11zM1906 1436l18 11 0-28-18-11zM1887 1398l19 10-1-27-18-11zM1961 1524l19 11 0-28-19-11zM1943 1485l18 11 0-27-19-11zM1924 1447l18 11 0-28-18-11zM1906 1408l18 11 0-27-19-11zM1961 1496l19 11 0-27-19-11zM1942 1458l19 11 0-28-19-11zM1924 1419l18 11 0-27-18-11zM1961 1469l19 11 0-28-19-11z"/><path class="c0" d="M1772 1663l-24 8-1-25 24-8zM2341 1699l-22 9 0-26 23-8zM2091 1194l-22 7 0-26 22-7zM1748 1671l-24 9 0-25 23-9zM2319 1708l-23 9 1-26 22-9zM1771 1638l-24 8 0-25 24-9zM2342 1674l-23 8 1-25 22-9zM2069 1201l-23 7 0-26 23-7zM2091 1168l-22 7 0-27 22-7zM1747 1646l-23 9-1-26 24-8zM2319 1682l-22 9 1-26 22-8zM2260 1643l-23 9 1-26 23-9zM2069 1175l-23 7 0-27 23-7zM2237 1652l-22 8 0-26 23-8zM2261 1617l-23 9 0-26 23-9zM2215 1660l-23 9 0-26 23-9zM2238 1626l-23 8 1-26 22-8zM2261 1591l-23 9 1-26 23-8zM2192 1669l-23 9 0-26 23-9zM2215 1634l-23 9 1-26 23-9zM2238 1600l-22 8 0-26 23-8zM2262 1566l-23 8 1-26 22-9zM2169 1678l-23 8 0-26 23-8zM2192 1643l-23 9 1-26 23-9zM2216 1608l-23 9 0-26 23-9zM2239 1574l-23 8 1-26 23-8zM2262 1539l-22 9 0-26 23-9zM2146 1686l-23 9 0-26 23-9zM2169 1652l-23 8 0-26 24-8zM2193 1617l-23 9 0-27 23-8zM2216 1582l-23 9 1-26 23-9zM2240 1548l-23 8 0-26 23-8zM2263 1513l-23 9 1-27 22-8zM2123 1695l-24 9 0-26 24-9zM2146 1660l-23 9 0-26 23-9zM2170 1626l-24 8 1-26 23-9zM2217 1556l-23 9 0-27 23-8zM2240 1522l-23 8 1-27 23-8zM2263 1487l-22 8 0-26 23-9zM2099 1704l-23 9 0-26 23-9zM2123 1669l-24 9 1-26 23-9zM2146 1634l-23 9 0-26 24-9zM2217 1530l-23 8 0-26 24-9zM2241 1495l-23 8 0-26 23-8zM2264 1460l-23 9 1-27 23-8zM2076 1713l-24 9 0-26 24-9zM2099 1678l-23 9 0-26 24-9zM2123 1643l-23 9 0-27 23-8zM2147 1608l-24 9 1-27 23-8zM2194 1538l-23 9 0-27 23-8zM2218 1503l-24 9 1-27 23-8zM2241 1469l-23 8 1-27 23-8zM2265 1434l-23 8 0-27 23-8zM2052 1722l-24 9 0-26 24-9zM2076 1687l-24 9 0-26 24-9zM2100 1652l-24 9 0-27 24-9zM2123 1617l-23 8 0-26 24-9zM2147 1582l-23 8 0-26 23-9zM2171 1547l-24 8 1-26 23-9zM2194 1512l-23 8 1-26 23-9zM2218 1477l-23 8 0-27 24-8zM2242 1442l-23 8 0-27 23-8zM2265 1407l-23 8 1-27 23-8zM2028 1731l-23 9-1-26 24-9zM2052 1696l-24 9 0-27 24-8zM2076 1661l-24 9 0-27 24-9zM2100 1625l-24 9 0-26 24-9zM2124 1590l-24 9 0-27 24-8zM2147 1555l-23 9 0-27 24-8zM2171 1520l-23 9 0-27 24-8zM2195 1485l-23 9 0-27 23-9zM2219 1450l-24 8 1-26 23-9zM2242 1415l-23 8 1-27 23-8zM2266 1380l-23 8 0-27 23-8zM2005 1740l-25 9 0-26 24-9zM2028 1705l-24 9 0-27 24-9zM2052 1670l-24 8 1-26 23-9zM2100 1599l-24 9 1-27 23-9zM2124 1564l-24 8 1-26 23-9zM2148 1529l-24 8 0-27 24-8zM2172 1494l-24 8 0-27 24-8zM2219 1423l-23 9 0-27 24-9zM2243 1388l-23 8 0-27 23-8zM2266 1353l-23 8 1-27 23-8zM2017 1826l-24 9 0-26 24-9zM2004 1714l-24 9 0-27 24-9zM2028 1678l-24 9 0-26 25-9zM2100 1572l-23 9 0-27 24-8zM2124 1537l-23 9 0-27 23-9zM2148 1502l-24 8 1-27 23-8zM2220 1396l-24 9 1-28 23-8zM2243 1361l-23 8 1-27 23-8zM1764 1298l-25 8-1-27 25-8zM2352 1331l-23 8 1-27 23-8zM1993 1835l-24 10 0-26 24-10zM2017 1800l-24 9 0-26 24-10zM2004 1687l-24 9 0-26 24-9zM2029 1652l-25 9 0-27 25-9zM2077 1581l-24 9 0-27 24-9zM2101 1546l-24 8 0-27 24-8zM2124 1510l-23 9 0-27 24-9zM2148 1475l-23 8 0-27 24-8zM2196 1405l-23 8 0-27 24-9zM2220 1369l-23 8 0-27 24-8zM1739 1306l-24 7-1-27 24-7zM2329 1339l-23 8 1-27 23-8zM1763 1271l-25 8 0-28 24-7zM2353 1304l-23 8 1-28 23-8zM1993 1809l-24 10 0-27 24-9zM2004 1661l-24 9 0-27 24-9zM2029 1625l-25 9 0-27 25-8zM2053 1590l-24 9 0-27 24-9zM2077 1554l-24 9 0-27 24-9zM2101 1519l-24 8 0-27 24-8zM2125 1483l-24 9 0-27 24-9zM2149 1448l-24 8 0-27 24-8zM2173 1413l-24 8 0-27 24-8zM2197 1377l-24 9 0-28 24-8zM1738 1279l-24 7-1-27 25-8zM2330 1312l-23 8 0-28 24-8zM2004 1634l-24 9 0-27 24-9zM2029 1599l-25 8 0-27 25-8zM2053 1563l-24 9 0-27 24-9zM2077 1527l-24 9 0-27 24-9zM2101 1492l-24 8 0-27 24-8zM2125 1456l-24 9 0-27 24-9zM2149 1421l-24 8 1-27 23-8zM2173 1386l-24 8 1-28 23-8zM2004 1607l-24 9 0-27 24-9zM2029 1572l-25 8 0-27 25-8zM2053 1536l-24 9 0-27 24-9zM2101 1465l-24 8 0-27 24-8zM2125 1429l-24 9 1-28 24-8zM2149 1394l-23 8 0-27 24-9zM2004 1580l-24 9 0-27 24-9zM2029 1545l-25 8 0-27 25-8zM2101 1438l-24 8 0-27 25-9zM2126 1402l-24 8 0-27 24-8zM2004 1553l-24 9 0-27 24-9zM2029 1518l-25 8 0-27 25-9zM2077 1446l-24 8 0-27 24-8zM2102 1410l-25 9 1-28 24-8zM2004 1526l-24 9 0-28 24-8zM2029 1490l-25 9 0-28 25-8zM2053 1454l-24 9 0-28 24-8zM2077 1419l-24 8 0-28 25-8zM2004 1499l-24 8 0-27 24-9zM2029 1463l-25 8 0-27 25-9zM2053 1427l-24 8 0-27 24-9zM2004 1471l-24 9 0-28 24-8zM2029 1435l-25 9 0-28 25-8z"/><path class="c2" d="M1737 1590l17 11-24 9-16-11zM2305 1626l19 11-23 9-19-12zM2056 1123l18 9-23 7-17-9zM1714 1599l16 11-24 8-16-11zM1754 1601l17 11-24 9-17-11zM2282 1634l19 12-22 8-19-11zM2324 1637l18 11-22 9-19-11zM2034 1130l17 9-23 7-17-9zM2074 1132l17 9-22 7-18-9zM1730 1610l17 11-24 8-17-11zM2301 1646l19 11-22 8-19-11zM2046 1208l18 10-23 7-18-10zM2051 1139l18 9-23 7-18-9zM2023 1215l18 10-23 7-18-9zM2064 1218l17 9-22 8-18-10zM2000 1223l18 9-23 8-18-10zM2041 1225l18 10-23 7-18-10zM2081 1227l18 10-23 7-17-9zM1977 1230l18 10-24 7-17-10zM2018 1232l18 10-24 7-17-9zM2059 1235l17 9-23 8-17-10zM2099 1237l18 9-22 8-19-10zM1954 1237l17 10-23 8-17-10zM1995 1240l17 9-23 8-18-10zM2036 1242l17 10-23 7-18-10zM2076 1244l19 10-24 7-18-9zM2117 1246l19 10-23 8-18-10zM1931 1245l17 10-23 7-18-10zM1971 1247l18 10-23 7-18-9zM2012 1249l18 10-23 8-18-10zM2053 1252l18 9-23 8-18-10zM2095 1254l18 10-23 7-19-10zM2136 1256l18 10-23 8-18-10zM1907 1252l18 10-24 8-17-10zM1948 1255l18 9-24 8-17-10zM1989 1257l18 10-23 7-18-10zM2071 1261l19 10-24 8-18-10zM2113 1264l18 10-23 7-18-10zM2154 1266l19 10-24 7-18-9zM1884 1260l17 10-24 7-17-10zM1925 1262l17 10-23 8-18-10zM1966 1264l18 10-24 8-18-10zM2090 1271l18 10-23 8-19-10zM2131 1274l18 9-23 8-18-10zM2173 1276l18 10-23 7-19-10zM1860 1267l17 10-24 8-17-10zM1901 1270l18 10-24 7-18-10zM1942 1272l18 10-24 7-17-9zM1984 1274l17 10-23 8-18-10zM2108 1281l18 10-23 8-18-10zM2149 1283l19 10-23 8-19-10zM2191 1286l19 10-23 8-19-11zM1836 1275l17 10-24 8-17-10zM1877 1277l18 10-24 8-18-10zM1919 1280l17 9-24 8-17-10zM1960 1282l18 10-24 8-18-11zM2085 1289l18 10-23 8-19-11zM2126 1291l19 10-23 8-19-10zM2168 1293l19 11-23 7-19-10zM2210 1296l19 10-23 8-19-10zM1812 1283l17 10-24 7-17-10zM1853 1285l18 10-24 8-18-10zM1895 1287l17 10-24 8-17-10zM1936 1289l18 11-24 7-18-10zM1978 1292l18 10-24 8-18-10zM2019 1294l19 10-24 8-18-10zM2061 1296l19 11-24 7-18-10zM2103 1299l19 10-24 8-18-10zM2145 1301l19 10-24 8-18-10zM2187 1304l19 10-24 8-18-11zM2229 1306l19 10-23 8-19-10zM1788 1290l17 10-24 8-17-10zM1829 1293l18 10-24 7-18-10zM1871 1295l17 10-24 8-17-10zM1954 1300l18 10-24 7-18-10zM1996 1302l18 10-24 8-18-10zM2038 1304l18 10-24 8-18-10zM2080 1307l18 10-24 8-18-11zM2164 1311l18 11-23 7-19-10zM2206 1314l19 10-24 8-19-10zM2248 1316l19 10-23 8-19-10zM1980 1749l19 12-24 10-19-13zM1805 1300l18 10-25 8-17-10zM1847 1303l17 10-24 8-17-11zM1972 1310l18 10-24 8-18-11zM2014 1312l18 10-24 8-18-10zM2056 1314l18 11-23 8-19-11zM2182 1322l19 10-23 8-19-11zM2225 1324l19 10-23 8-20-10zM1728 1224l17 10-24 7-17-9zM2315 1256l19 10-23 8-20-10zM1956 1758l19 13-25 9-18-12zM1999 1761l18 12-24 10-18-12zM1823 1310l17 11-24 7-18-10zM1864 1313l18 10-24 8-18-10zM1990 1320l18 10-24 8-18-10zM2032 1322l19 11-24 7-19-10zM2074 1325l19 10-24 8-18-10zM2201 1332l20 10-24 8-19-10zM1704 1232l17 9-25 8-17-10zM1745 1234l17 10-24 7-17-10zM2291 1264l20 10-23 8-20-10zM2334 1266l20 10-23 8-20-10zM1975 1771l18 12-24 9-19-12zM1840 1321l18 10-25 8-17-11zM1966 1328l18 10-24 8-18-10zM2008 1330l19 10-24 8-19-10zM2051 1333l18 10-24 8-18-11zM2178 1340l19 10-24 8-19-10zM1721 1241l17 10-25 8-17-10zM2311 1274l20 10-24 8-19-10zM1858 1331l18 10-25 8-18-10zM1900 1333l18 11-24 8-18-11zM1942 1336l18 10-24 8-18-10zM1984 1338l19 10-24 9-19-11zM2027 1340l18 11-24 8-18-11zM2069 1343l19 10-24 8-19-10zM2112 1345l19 11-24 8-19-11zM2154 1348l19 10-23 8-19-10zM1876 1341l18 11-25 8-18-11zM1918 1344l18 10-24 8-18-10zM1960 1346l19 11-25 8-18-11zM2045 1351l19 10-24 9-19-11zM2088 1353l19 11-24 8-19-11zM2131 1356l19 10-24 9-19-11zM1894 1352l18 10-25 8-18-10zM1936 1354l18 11-24 8-18-11zM2064 1361l19 11-24 8-19-10zM2107 1364l19 11-24 8-19-11zM1912 1362l18 11-25 8-18-11zM1954 1365l19 10-25 8-18-10zM2083 1372l19 11-24 8-19-11zM1930 1373l18 10-24 9-19-11zM2059 1380l19 11-25 8-19-11zM1948 1383l19 11-25 9-18-11zM2034 1388l19 11-24 9-19-11zM2010 1397l19 11-25 8-19-11z"/><path class="c11" d="M1844 1559l17 11-24 9-17-11zM2174 1580l19 11-23 8-19-11zM1932 1615l18 11-24 9-18-11zM2058 1623l18 11-24 9-18-11zM1842 1428l17 11-24 8-17-11zM2176 1448l19 10-23 9-19-11zM1931 1482l18 11-24 8-19-11zM2058 1489l19 11-24 9-19-11z"/><path class="c9" d="M1844 1559l-24 9-1-26 24-9zM2174 1580l-23 8 1-26 23-8zM2030 1286l-23 7 0-26 23-8zM1932 1615l-24 9-1-27 25-8zM2058 1623l-24 9 0-27 24-9zM1842 1428l-24 8-1-27 24-8zM2176 1448l-23 8 0-27 24-8zM1913 1324l-24 8-1-27 24-8zM2121 1336l-23 8 0-27 24-8zM1931 1482l-25 8 0-27 25-8zM2058 1489l-24 9 0-27 24-9zM2003 1376l-24 8 0-27 24-9z"/><path class="c10" d="M2174 1580l19 11 1-26-19-11zM2030 1286l18 10 0-27-18-10zM2058 1623l18 11 0-26-18-12zM2176 1448l19 10 1-26-19-11zM1913 1324l17 10 0-27-18-10zM2121 1336l19 10 0-27-18-10zM2058 1489l19 11 0-27-19-11zM2003 1376l18 10 0-27-18-11z"/><path class="c1" d="M1837 1579l18 11-1-26-17-11zM1819 1542l18 11-1-27-17-11zM1855 1590l17 11 0-26-18-11zM1837 1553l17 11 0-27-18-11zM1926 1635l18 12 0-27-19-11zM1907 1597l18 12 0-27-18-11zM1835 1447l18 10-1-26-17-11zM1817 1409l18 11-1-27-17-10zM1944 1647l18 11 0-27-18-11zM1925 1609l19 11-1-27-18-11zM1853 1457l17 11 0-27-18-10zM1835 1420l17 11 0-27-18-11zM1925 1501l18 11 0-27-19-11zM1906 1463l18 11 0-27-18-11zM1943 1512l18 12 0-28-18-11zM1924 1474l19 11-1-27-18-11zM1930 1441l18 12 0-28-19-12zM1948 1453l19 11 0-28-19-11zM1929 1413l19 12 0-29-19-11zM1948 1425l19 11 0-29-19-11z"/><path class="c0" d="M2170 1599l-23 9 0-26 23-9zM2194 1565l-24 8 1-26 23-9zM2170 1573l-23 9 0-27 24-8zM2052 1643l-23 9 0-27 24-8zM2076 1608l-23 9 0-27 24-9zM2172 1467l-24 8 1-27 23-8zM2196 1432l-24 8 1-27 23-8zM2053 1617l-24 8 0-26 24-9zM2172 1440l-23 8 0-27 24-8zM2053 1509l-24 9 0-28 24-8zM2077 1473l-24 9 0-28 24-8zM2053 1482l-24 8 0-27 24-9zM2017 1447l-25 8 0-28 25-8zM1992 1455l-25 9 0-28 25-9zM1992 1427l-25 9 0-29 25-8z"/><path class="c2" d="M2007 1267l18 10-24 7-17-10zM2048 1269l18 10-23 7-18-9zM2025 1277l18 9-24 8-18-10zM2066 1279l19 10-24 7-18-10zM2001 1284l18 10-23 8-18-10zM2043 1286l18 10-23 8-19-10zM1888 1305l18 10-24 8-18-10zM1930 1307l18 10-24 8-18-10zM2098 1317l19 10-24 8-19-10zM2140 1319l19 10-24 8-18-10zM1906 1315l18 10-24 8-18-10zM1948 1317l18 11-24 8-18-11zM2117 1327l18 10-23 8-19-10zM2159 1329l19 11-24 8-19-11zM1882 1323l18 10-24 8-18-10zM1924 1325l18 11-24 8-18-11zM2093 1335l19 10-24 8-19-10zM2135 1337l19 11-23 8-19-11zM1979 1357l18 10-24 8-19-10zM2021 1359l19 11-24 8-19-11zM1997 1367l19 11-25 8-18-11zM2040 1370l19 10-25 8-18-10zM2016 1378l18 10-24 9-19-11zM1954 1377l19 11-25 8-19-11zM1973 1388l19 11-25 8-19-11z"/><path class="c2" d="M1979 1368l19 11-25 9-19-11zM1998 1379l19 11-25 9-19-11z"/><path class="c0" d="M2017 1419l-25 8 0-28 25-9z"/></g><path class="dot" stroke-width="1.9" d="M204.6 120.8h.01M177.1 161.2h.01M176.4 129.8h.01M226.0 164.3h.01M226.7 132.6h.01M198.0 174.9h.01"/>
<g class="vf" transform="scale(.1)"><path class="c4" d="M2308 1077l13 8-1-18-12-8zM2346 1102l12 8 0-18-13-9zM2396 1136l39 26 0-19-39-26zM2291 1065l12 8 0-18-13-9zM2315 1081l25 17 0-19-25-16zM2379 1123l13 9-1-19-13-9zM2404 1141l14 8-1-19-13-8zM2278 1038l12 8 0-18-12-8zM2265 1012l25 16-1-19-24-16zM2417 1111l13 9 0-20-13-8zM2483 1157l13 9 0-19-13-9zM2254 801l12 7-1-19-12-8zM2288 751l12 7 0-20-13-7zM2248 814l13 7-1-19-12-8zM2654 798l14 8 1-20-14-8zM2443 1051l14 8 0-19-14-9zM2475 1053l13 8 0-19-13-9zM2323 800l13 8-1-20-13-8zM2375 831l13 8 0-21-13-7zM2603 816l14 8 0-20-14-8zM2340 774l13 8 0-20-13-8zM2393 805l13 7 0-20-13-8zM2443 972l14 8-1-20-13-8zM2475 974l13 8 0-20-13-8zM2532 840l14 8 0-20-14-8zM2415 895l28 16 0-20-28-16zM2415 875l14 8 0-20-14-8z"/><path class="c3" d="M2665 1100l-66 26 0-19 67-25zM2565 1139l-69 27 0-19 69-27zM2733 1001l-17 6 1-19 16-6zM2733 982l-16 6 0-19 17-6zM2679 1090l-16 6 0-18 17-7zM2646 1103l-33 13 0-19 33-13zM2562 1135l-18 7 1-19 17-7zM2527 1149l-17 6 0-19 17-6zM2730 1015l-16 6 0-19 17-6zM2734 963l-17 6 1-19 16-6zM2734 944l-16 6 0-19 17-6zM2443 1051l-18 6 0-19 18-7zM2731 977l-16 6 0-19 17-6zM2732 958l-17 6 1-19 16-6zM2475 1053l-18 6 0-19 18-7zM2736 887l-17 5 1-19 16-6zM2736 867l-16 6 0-19 17-6zM2443 972l-18 6 0-20 18-6zM2737 848l-17 6 1-20 16-6zM2453 1155l-18 7 0-19 18-7zM2734 881l-17 6 0-20 17-6zM2475 974l-18 6-1-20 19-6zM2737 828l-16 6 0-19 17-6zM2710 774l-16 6 0-20 17-5zM2735 842l-17 6 0-20 17-6zM2417 1130l-17 7 0-19 17-7zM2510 1117l-18 7 0-19 18-7zM2702 834l-17 6 0-20 17-6zM2510 901l-36 12 0-20 36-13zM2354 802l-18 6-1-20 18-6zM2634 818l-17 6 0-20 17-6zM2620 790l-17 6 0-20 18-6zM2550 814l-18 6 1-21 17-6zM2406 833l-18 6 0-21 18-6zM2510 880l-18 7 1-21 18-6z"/><path class="c6" d="M2699 1050l-16 7 0-19 16-6zM2277 1001l-17 6-1-19 18-6zM2340 1060l-18 7 0-19 18-7zM2275 925l-17 6-1-19 18-6zM2429 700l-35 11 0-19 35-11zM2579 709l-17 5 0-20 17-5zM2389 770l-18 6 0-20 18-6zM2314 987l-18 6 0-19 17-6zM2275 906l-18 6 0-19 17-6zM2502 711l-34 11 0-20 34-11zM2433 733l-35 11 0-20 35-11zM2313 968l-17 6-1-19 18-6zM2435 1143l-17 6-1-19 18-6zM2496 1147l-17 6 0-19 17-6zM2708 788l-17 5 0-19 17-6zM2447 877l-18 6 0-20 18-7zM2312 910l-18 6 0-19 18-6zM2273 829l-18 6 0-20 18-6zM2312 891l-18 6-1-20 18-6zM2376 950l-17 6-1-19 18-7zM2499 770l-17 5 0-20 17-5zM2416 1014l-17 7-1-20 18-6zM2479 1018l-18 7 0-20 18-7zM2336 847l-18 6 0-19 18-6zM2354 822l-18 6 0-20 18-6zM2602 836l-34 12 0-20 35-12zM2479 879l-18 6 0-21 18-6zM2371 796l-17 6-1-20 18-6zM2575 781l-35 11 0-20 35-11zM2487 810l-18 6 0-20 18-6zM2416 995l-18 6 0-20 18-6zM2479 998l-18 7 0-20 18-6zM2416 915l-18 6-1-20 18-6zM2461 905l-18 6 0-20 18-6zM2433 848l-18 7 0-21 18-6zM2465 850l-18 6 0-20 18-6zM2497 852l-18 6 0-20 18-6z"/><path class="c4" d="M2649 1088l14 8 0-18-13-9zM2599 1107l14 9 0-19-14-9zM2531 1133l13 9 1-19-14-9zM2417 1130l14 9-1-19-13-9zM2510 1136l13 9 0-19-13-9zM2475 993l13 9 0-20-13-8z"/><path class="c3" d="M2696 1065l-16 6 0-19 17-6zM2713 1040l-33 12 1-19 33-12z"/><path class="c5" d="M2501 667l12 7-16 5-13-7zM2530 669l13 6-17 6-13-7zM2720 854l14 7-17 6-13-7zM2461 945l14 9-19 6-13-8zM2271 776l12 7-18 6-12-8zM2724 801l14 8-17 6-14-8zM2305 726l12 7-17 5-13-7zM2697 748l14 7-17 5-14-7zM2317 713l13 8-18 5-13-7zM2681 734l14 7-17 5-14-7zM2260 802l13 7-18 6-13-8zM2718 828l15 8-17 6-14-8zM2661 752l14 7-17 6-14-7zM2469 816l14 8-36 12-14-8zM2461 1083l14 9-18 6-13-8zM2461 1025l14 8-18 7-14-9zM2323 800l13 8-18 6-13-8zM2340 774l13 8-18 6-13-8zM2582 836l14 8-36 12-14-8zM2375 831l13 8-18 6-13-8zM2393 805l13 7-18 6-13-7zM2483 824l14 8-18 6-14-8z"/><path class="c1" d="M2358 1110l13 9 0-19-13-8zM2273 1053l88 58 0-19-89-58zM2387 1128l13 9 0-19-14-9zM2247 999l13 8-1-19-12-8zM2272 1015l63 41-1-19-62-41zM2360 1073l26 17 0-19-26-17zM2247 980l152 99 0-19-153-99zM2246 961l50 32 0-19-50-32zM2399 1060l27 17-1-20-26-17zM2246 942l50 32-1-19-50-32zM2334 999l12 8 0-20-13-8zM2386 1032l39 25 0-19-40-26zM2310 1058l12 9 0-19-13-8zM2373 1101l13 8 0-19-13-9zM2245 923l13 8-1-19-12-8zM2295 955l64 41 0-20-64-40zM2385 1012l14 9-1-20-13-8zM2245 904l12 8 0-19-13-8zM2270 920l128 81 0-20-129-80zM2412 1009l13 9 0-20-13-8zM2244 885l50 31 0-19-50-31zM2333 940l26 16-1-19-26-16zM2398 981l27 17 0-20-27-17zM2244 866l50 31-1-20-50-31zM2385 953l40 25 0-20-41-25zM2243 846l63 39 0-20-63-38zM2332 901l13 8 0-20-13-8zM2384 933l41 25 0-20-41-25zM2243 827l12 8 0-20-13-8zM2293 858l105 63-1-20-104-63zM2305 846l13 7 0-19-13-8zM2371 885l13 8 0-20-14-8zM2305 826l26 15 0-20-26-15zM2357 857l27 16-1-20-26-16zM2353 782l13 7 0-20-13-7zM2475 1013l13 9 0-20-13-9z"/><path class="c0" d="M2599 1126l-34 13 0-19 34-13zM2694 1079l-101 39 0-19 101-38zM2558 1132l-35 13 0-19 35-13zM2728 1029l-17 6 0-19 17-6zM2661 1054l-34 13 0-19 34-13zM2576 1087l-35 13 0-19 35-14zM2735 925l-17 6 1-19 16-6zM2728 1010l-17 6 1-19 17-6zM2678 1029l-154 58 0-19 154-58zM2735 906l-16 6 0-20 17-5zM2729 991l-67 25 0-19 67-25zM2611 1035l-18 7 1-20 17-6zM2541 1061l-53 20 0-20 53-19zM2661 1073l-34 13 0-19 34-13zM2576 1106l-35 13 0-19 35-13zM2729 972l-67 25 0-20 68-24zM2611 1016l-17 6 0-19 17-7zM2541 1042l-53 19 0-19 53-20zM2730 953l-17 6 0-19 17-7zM2679 971l-17 6 1-19 17-6zM2628 990l-52 19 1-20 52-18zM2541 1022l-17 6 0-19 18-7zM2730 933l-17 7 1-20 17-6zM2680 952l-156 57 0-20 156-57zM2714 901l-51 18 1-20 51-18zM2612 937l-17 7 0-20 17-6zM2542 963l-54 19 0-20 54-19zM2732 875l-68 24 0-20 68-24zM2612 918l-17 6 0-20 17-6zM2542 943l-36 12 0-20 36-12zM2680 932l-17 7 0-20 18-6zM2629 951l-52 19 0-20 52-19zM2542 983l-18 6 0-20 18-6zM2732 855l-17 6 1-19 17-6zM2681 873l-157 56 0-20 158-55zM2665 860l-35 12 0-20 35-12zM2578 890l-36 13 0-21 36-12zM2648 846l-18 6 1-20 17-6zM2578 870l-18 6 0-20 18-6z"/><path class="c8" d="M2290 1028l12 8-17 6-13-8zM2680 1052l14 9-17 6-13-8zM2613 1078l14 8-34 13-14-8zM2527 1111l14 8-18 7-13-9zM2340 1060l13 9-18 6-13-8zM2275 925l13 8-18 6-12-8zM2699 951l14 8-17 6-14-8zM2510 1020l14 8-18 7-14-8zM2353 1069l12 8-17 7-13-9zM2314 987l12 8-17 6-13-8zM2648 1008l14 8-34 13-14-9zM2580 1033l13 9-34 13-14-9zM2326 995l13 8-18 7-12-9zM2265 789l13 7-18 6-12-8zM2721 815l14 7-17 6-14-8zM2461 905l13 8-18 7-13-9zM2283 764l12 7-18 6-12-8zM2708 788l14 7-17 6-14-8zM2447 877l14 8-18 6-14-8zM2300 738l12 8-17 5-13-7zM2694 760l14 8-17 6-14-8zM2433 848l14 8-18 7-14-8zM2404 1103l13 8-17 7-14-9zM2364 1020l13 8-17 6-13-8zM2691 774l14 7-17 6-14-8zM2589 808l14 8-35 12-14-8zM2465 850l14 8-18 6-14-8zM2377 1028l13 8-17 7-13-9zM2363 922l13 8-18 7-13-8zM2581 936l14 8-18 6-14-8zM2416 1014l14 9-18 6-13-8zM2448 1016l13 9-18 6-13-8zM2479 1018l13 9-17 6-14-8zM2336 847l13 8-18 6-13-8zM2616 864l14 8-35 12-14-8zM2528 894l14 9-18 6-14-8zM2371 796l14 8-18 5-13-7zM2349 855l13 8-18 6-13-8zM2402 887l13 8-18 6-13-8zM2479 879l13 8-18 6-13-8zM2497 852l14 8-18 6-14-8z"/><path class="c9" d="M2680 1052l-16 7 0-19 17-7zM2613 1078l-34 13 0-19 34-13zM2527 1111l-17 6 0-19 17-7zM2697 1027l-16 6 0-19 17-6zM2510 1098l-18 7 0-20 18-6zM2699 951l-17 6 1-19 16-6zM2510 1020l-18 7 0-20 18-7zM2648 1008l-34 12 0-19 34-12zM2580 1033l-35 13 0-19 35-13zM2699 932l-16 6 0-20 17-6zM2510 1000l-18 7 0-20 18-6zM2648 989l-17 6 1-19 17-7zM2563 1020l-18 7 0-20 18-6zM2404 1103l-18 6 0-19 18-7zM2364 1020l-17 6-1-19 18-7zM2649 930l-17 7 0-20 18-6zM2563 962l-17 6 0-20 17-6zM2701 854l-17 6 1-20 17-6zM2510 921l-18 6 0-20 18-6zM2555 740l-17 5 0-20 17-5zM2468 768l-17 6 0-20 17-6zM2647 745l-17 5 0-20 17-5zM2456 808l-18 6 0-20 18-6zM2650 911l-35 12 1-20 34-12zM2581 936l-35 12 0-20 35-12zM2685 840l-17 6 0-20 17-6zM2616 864l-35 12 0-20 35-12zM2528 894l-18 7 0-21 18-6zM2448 1075l-18 6 0-19 18-7zM2479 1077l-18 6 0-19 18-7zM2315 799l-18 6 0-20 18-6zM2654 818l-17 6 0-20 17-6zM2532 860l-17 6 0-20 17-6zM2333 773l-18 6 0-20 17-5zM2640 791l-17 6 1-20 17-6zM2589 808l-35 12 0-20 35-12zM2519 832l-18 6 0-20 18-6zM2363 922l-18 7 0-20 18-6zM2448 1016l-18 7 0-20 18-7zM2448 996l-18 7 0-20 17-6zM2447 937l-18 6 0-20 18-6zM2479 939l-18 6 0-20 18-6zM2407 853l-19 6 0-20 18-6zM2424 827l-18 6 0-21 18-5zM2402 887l-18 6 0-20 18-6z"/><path class="c7" d="M2697 1027l14 8 0-19-13-8zM2526 681l13 7 1-20-14-7zM2579 709l27 14 0-20-27-14zM2647 745l14 7 0-20-14-7zM2457 1140l13 8 0-19-13-8zM2613 1078l14 8 0-19-14-8zM2699 951l14 8 0-19-14-8zM2429 700l13 7 0-19-13-7zM2575 781l14 7 0-20-14-7zM2648 1008l14 8 0-19-14-8zM2699 932l14 8 1-20-14-8zM2502 711l26 14 0-20-26-14zM2555 740l27 14 0-20-27-14zM2648 989l14 8 0-20-13-8zM2435 1143l13 8 0-19-13-8zM2466 1145l13 8 0-19-13-8zM2496 1147l14 8 0-19-14-8zM2265 789l13 7-1-19-12-8zM2461 905l13 8 0-20-13-8zM2283 764l12 7 0-20-13-7zM2479 879l13 8 1-21-14-8zM2300 738l12 8 0-20-13-7zM2479 1134l13 9 0-19-13-9zM2649 930l14 9 0-20-13-8zM2701 854l14 7 1-19-14-8zM2277 777l13 7 0-20-13-7zM2354 822l13 7 0-20-13-7zM2447 877l14 8 0-21-14-8zM2295 751l12 8 0-20-13-7zM2465 850l14 8 0-20-14-8zM2650 911l13 8 1-20-14-8zM2510 1098l14 9 0-20-14-8zM2563 1020l13 9 0-20-13-8zM2563 962l14 8 0-20-14-8zM2468 768l14 7 0-20-14-7zM2448 1016l13 9 0-20-13-9zM2510 1020l14 8 0-19-14-9zM2616 864l14 8 0-20-14-8zM2602 836l14 8 1-20-14-8zM2589 808l14 8 0-20-14-8zM2389 770l26 15 0-20-26-15zM2456 808l13 8 0-20-13-8zM2448 996l13 9 0-20-14-8zM2510 1000l14 9 0-20-14-8zM2510 921l14 8 0-20-14-8zM2433 848l14 8 0-20-14-8z"/><path class="c6" d="M2497 679l-17 5 0-19 17-5zM2342 728l-17 5-1-19 18-6zM2466 1145l-18 6 0-19 18-6zM2721 815l-17 5 1-19 17-6zM2694 760l-17 6 1-20 17-5zM2448 1132l-17 7-1-19 18-7zM2479 1134l-18 7 0-19 18-7zM2705 801l-17 6 0-20 17-6zM2691 774l-17 5 1-20 17-5zM2688 787l-17 6 1-20 17-6z"/><path class="c2" d="M2484 653l13 7-173 54-12-8zM2543 656l13 7-16 5-14-7zM2510 667l13 6-156 49-12-7zM2556 663l13 7-189 60-13-8zM2480 665l13 7-51 16-13-7zM2394 692l13 7-52 16-13-7zM2569 670l14 7-68 21-13-7zM2468 702l13 7-35 11-13-7zM2398 724l13 7-35 12-13-8zM2583 677l13 7-68 21-13-7zM2498 704l13 7-52 17-13-8zM2393 737l14 7-54 18-13-8zM2596 684l14 7-17 5-14-7zM2562 694l14 8-103 33-14-7zM2407 744l13 8-18 6-13-8zM2371 756l13 7-18 6-13-7zM2610 691l13 7-17 5-13-7zM2576 702l13 7-121 39-13-7zM2420 752l13 7-18 6-13-7zM2384 763l13 8-18 6-13-8zM2623 698l14 7-68 22-14-7zM2538 725l14 8-70 22-14-7zM2451 754l13 7-71 23-14-7zM2637 705l13 7-68 22-13-7zM2517 744l13 7-17 6-14-7zM2464 761l14 8-72 23-13-8zM2650 712l14 7-85 28-14-7zM2478 769l13 7-72 24-13-8zM2664 719l14 8-17 5-14-7zM2630 730l14 8-104 34-13-7zM2491 776l14 8-36 12-13-8zM2438 794l13 8-18 6-14-8zM2610 749l14 8-35 11-14-7zM2540 772l14 8-53 18-14-8zM2607 762l14 8-106 35-14-7zM2336 808l13 7-18 6-13-7zM2617 824l14 8-35 12-14-8zM2349 815l13 8-18 6-13-8z"/><path class="c1" d="M2285 1042l25 16-1-18-25-17zM2361 1092l12 9 0-20-13-8zM2270 939l25 16 0-19-25-16zM2412 1029l13 9 0-20-13-9zM2334 1018l13 8-1-19-12-8zM2386 1051l13 9 0-20-13-8zM2386 1090l13 8 0-19-13-8zM2346 1007l13 8 0-19-13-9zM2292 818l13 8 0-20-13-8zM2384 873l13 8 0-20-14-8zM2345 909l13 8 0-20-13-8zM2475 1033l13 9 0-20-13-9zM2357 877l14 8-1-20-13-8z"/><path class="c0" d="M2677 1067l-16 6 0-19 17-6zM2593 1099l-17 7 0-19 17-7zM2694 1042l-33 12 0-19 34-12zM2627 1067l-51 20 0-20 51-19zM2711 1016l-33 13 0-19 34-13zM2524 1087l-18 7 0-20 18-6zM2696 965l-17 6 1-19 17-6zM2662 977l-34 13 1-19 34-13zM2576 1009l-35 13 1-20 35-13zM2506 1035l-18 7 0-20 18-7zM2697 946l-17 6 0-20 17-6zM2506 1015l-18 7 0-20 18-7zM2714 920l-34 12 1-19 33-12zM2524 989l-36 13 0-20 36-13zM2628 1029l-17 6 0-19 17-7zM2559 1055l-18 6 0-19 18-7zM2645 1003l-34 13 0-20 34-12zM2559 1035l-18 7 0-20 18-6zM2664 899l-52 19 0-20 52-19zM2577 930l-35 13 0-20 35-13zM2443 1031l-18 7 0-20 18-7zM2559 956l-17 7 0-20 18-7zM2630 852l-52 18 0-20 53-18zM2603 796l-35 12 0-20 35-12zM2443 1011l-18 7 0-20 18-7zM2595 884l-17 6 0-20 17-6z"/><path class="c4" d="M2366 1115l13 8-1-19-12-8zM2260 802l25 15 0-20-25-15zM2312 726l13 7-1-19-12-8zM2430 1120l14 8 0-19-14-9zM2475 1072l13 9 0-20-13-8zM2327 767l13 7 0-20-13-7zM2406 812l27 16 0-20-27-16zM2443 991l14 9 0-20-14-8zM2362 823l13 8 0-20-14-8zM2402 847l13 8 0-21-14-8zM2474 933l14 9 0-21-14-8zM2510 880l14 9 0-21-13-8z"/><path class="c3" d="M2579 1129l-17 6 0-19 17-6zM2733 900l-16 6 0-19 17-6zM2475 993l-18 7 0-20 18-6zM2510 1136l-18 7 0-19 18-7zM2718 828l-16 6 0-20 17-6zM2678 746l-17 6 0-20 17-5zM2492 1124l-17 7 0-20 17-6zM2444 1109l-18 7 0-20 18-6zM2443 1070l-17 7-1-20 18-6zM2638 784l-18 6 1-20 17-6zM2568 808l-18 6 0-21 18-5zM2443 991l-18 7 0-20 18-6zM2582 836l-36 12 0-20 36-12z"/><path class="c10" d="M2340 1060l13 9-1-19-12-9zM2404 1103l13 8 0-19-13-9zM2314 987l12 8 0-19-13-8zM2364 1020l13 8 0-19-13-9zM2527 1111l14 8 0-19-14-9zM2580 1033l13 9 1-20-14-8zM2312 910l13 8-1-19-12-8zM2273 829l13 7-1-19-12-8zM2416 915l13 8 0-20-14-8zM2342 728l13 7 0-20-13-7zM2487 810l14 8 0-20-14-8zM2433 733l13 7 0-20-13-7zM2499 770l14 7 0-20-14-7zM2312 891l12 8 0-20-13-8zM2363 922l13 8 0-19-13-8zM2448 1075l13 8 0-19-13-9zM2654 818l14 8 0-20-14-8zM2640 791l14 7 1-20-14-7zM2581 936l14 8 0-20-14-8zM2336 847l13 8 0-20-13-7zM2402 887l13 8 0-20-13-8zM2371 796l14 8-1-20-13-8zM2447 937l14 8 0-20-14-8zM2532 860l14 8 0-20-14-8zM2519 832l13 8 0-20-13-8zM2528 894l14 9 0-21-14-8z"/><path class="c0" d="M2593 1118l-35 14 0-19 35-14zM2731 914l-17 6 0-19 17-6zM2731 895l-17 6 1-20 17-6zM2541 1100l-17 7 0-20 17-6zM2506 1113l-18 7 0-20 18-6zM2594 1022l-18 7 0-20 18-6zM2682 834l-34 12 0-20 35-12zM2560 876l-36 13 0-21 36-12zM2595 924l-18 6 0-20 18-6z"/><path class="c1" d="M2361 1111l26 17-1-19-25-17zM2348 1084l13 8-1-19-13-9zM2335 1056l25 17 0-19-26-17zM2321 1010l13 8 0-19-13-9zM2373 1043l13 8 0-19-14-9zM2308 982l26 17-1-20-25-16zM2306 885l26 16 0-20-26-16zM2358 917l26 16 0-20-26-16zM2371 945l14 8-1-20-13-8zM2344 869l13 8 0-20-13-8zM2331 841l26 16 0-20-26-16zM2366 789l14 8-1-20-13-8z"/><path class="c7" d="M2448 1132l13 9 0-19-13-9zM2461 1122l14 9 0-20-14-8z"/><path class="c11" d="M2312 910l13 8-18 6-13-8zM2649 930l14 9-17 6-14-8zM2563 962l14 8-18 6-13-8zM2273 829l13 7-18 6-13-7zM2701 854l14 7-17 6-14-7zM2510 921l14 8-18 6-14-8zM2342 728l13 7-18 6-12-8zM2433 733l13 7-17 6-13-8zM2555 740l14 7-18 6-13-8zM2647 745l14 7-17 6-14-8zM2456 808l13 8-18 6-13-8zM2448 1075l13 8-17 7-14-9zM2479 1077l13 8-17 7-14-9zM2376 950l14 8-18 7-13-9zM2447 937l14 8-18 7-14-9zM2479 939l13 8-17 7-14-9zM2519 832l13 8-17 6-14-8zM2416 915l13 8-18 7-13-9zM2487 810l14 8-18 6-14-8z"/><path class="c8" d="M2277 777l13 7-18 6-12-8zM2705 801l14 7-17 6-14-7zM2295 751l12 8-17 5-13-7zM2324 899l13 8-18 6-12-8zM2632 917l14 8-17 6-14-8zM2285 817l13 7-18 6-13-7zM2685 840l14 8-17 6-14-8zM2290 764l12 8-18 5-12-7zM2688 787l15 7-17 6-15-7z"/><path class="c5" d="M2312 726l13 7-18 6-13-7zM2678 746l14 8-17 5-14-7zM2307 739l13 7-18 6-13-7zM2675 759l14 8-17 6-14-8zM2672 773l14 7-17 6-14-8zM2638 784l14 8-35 12-14-8zM2568 808l14 8-36 12-14-8zM2515 826l14 8-18 6-14-8zM2668 806l15 8-52 18-14-8zM2546 848l14 8-36 12-13-8zM2310 792l13 8-18 6-13-8zM2362 823l13 8-18 6-13-8zM2380 797l13 8-18 6-14-8zM2388 839l14 8-19 6-13-8zM2429 903l14 8-19 7-13-9zM2492 907l14 8-18 6-14-8zM2402 847l13 8-18 6-14-8zM2420 820l13 8-18 6-14-8z"/><path class="c6" d="M2461 1122l-17 6 0-19 17-6zM2417 1092l-18 6 0-19 18-6zM2377 1009l-18 6 0-19 18-7zM2551 753l-17 5 0-20 18-5zM2644 758l-17 5 0-20 17-5z"/><path class="c1" d="M2307 924l26 16-1-19-25-16zM2372 965l26 16 0-20-27-16zM2268 842l25 16 0-20-26-15zM2411 930l14 8-1-20-13-9zM2413 1107l13 9 0-20-14-8zM2399 1079l27 17 0-19-27-17zM2372 1023l14 9-1-20-13-8zM2359 996l26 16 0-19-26-17zM2319 913l26 16 0-20-26-16zM2280 830l25 16 0-20-26-16z"/><path class="c0" d="M2646 945l-17 6 0-20 17-6zM2559 976l-17 7 0-20 17-7zM2698 867l-17 6 1-19 17-6zM2506 935l-18 7 0-21 18-6zM2629 931l-17 6 0-19 17-7zM2682 854l-17 6 0-20 17-6zM2506 1094l-18 6 0-19 18-7zM2506 955l-18 7 0-20 18-7z"/><path class="c4" d="M2272 790l13 7-1-20-12-7zM2444 1109l13 9 0-20-13-8zM2475 1111l13 9 0-20-13-8zM2302 752l25 15 0-20-26-15zM2380 797l13 8 0-21-14-7zM2475 1092l13 8 0-19-13-9zM2443 1070l14 9 0-20-14-8zM2475 954l13 8 0-20-14-9zM2443 931l13 9 0-20-13-9zM2483 824l14 8 0-21-14-7z"/><path class="c3" d="M2702 814l-17 6 1-20 17-6zM2475 1111l-18 7 0-20 18-6zM2686 800l-18 6 1-20 17-6zM2651 812l-17 6 0-20 18-6zM2528 854l-17 6 0-20 18-6zM2672 773l-34 11 0-20 34-11zM2532 820l-35 12 0-21 36-12zM2444 1090l-18 6 0-19 17-7zM2475 1072l-18 7 0-20 18-6zM2443 952l-18 6 0-20 18-7zM2443 931l-18 7-1-20 19-7zM2474 933l-18 7 0-20 18-7zM2415 875l-18 6 0-20 18-6zM2451 822l-18 6 0-20 18-6z"/><path class="c7" d="M2290 764l12 8 0-20-13-7zM2337 741l13 7 0-20-13-7zM2429 746l13 7 0-20-13-7zM2497 852l14 8 0-20-14-8z"/><path class="c2" d="M2355 715l12 7-17 6-13-7zM2319 726l13 8-18 5-13-7zM2446 720l13 8-17 5-13-7zM2411 731l13 8-17 5-14-7zM2367 722l13 8-53 17-13-8zM2459 728l14 7-53 17-13-8zM2534 738l14 8-18 5-13-7zM2565 740l14 7-88 29-13-7zM2627 743l14 8-17 6-14-8zM2658 745l14 8-51 17-14-8zM2501 798l14 7-18 6-14-7zM2363 735l13 8-36 11-13-7zM2455 741l13 7-35 11-13-7zM2527 765l13 7-35 12-14-8z"/><path class="c1" d="M2267 803l25 15 0-20-26-15z"/><path class="c5" d="M2284 777l13 8-18 6-13-8zM2686 800l14 8-17 6-15-8zM2302 752l13 7-18 6-13-7zM2297 785l13 7-18 6-13-7z"/><path class="c0" d="M2699 828l-17 6 1-20 17-6z"/><path class="c3" d="M2315 779l-18 6 0-20 18-6z"/><path class="c4" d="M2284 777l13 8 0-20-13-7zM2310 792l13 8-1-20-13-8z"/><path class="c5" d="M2327 767l13 7-18 6-13-8z"/></g><path class="dot" stroke-width="1.6" d="M270.2 104.8h.01M226.6 102.0h.01M251.2 66.0h.01M270.5 94.3h.01M226.3 91.6h.01M241.8 69.0h.01M270.8 83.5h.01M226.1 80.9h.01M232.2 72.0h.01M261.0 108.3h.01M233.5 106.6h.01M258.4 69.9h.01M261.1 97.7h.01M233.3 96.0h.01M249.0 72.9h.01M261.3 86.8h.01M233.1 85.1h.01M239.3 76.1h.01M251.5 112.0h.01M240.6 111.2h.01M266.0 73.9h.01M251.5 101.2h.01M240.5 100.5h.01M256.5 77.0h.01M251.5 90.2h.01M240.4 89.5h.01M246.7 80.3h.01M266.4 89.9h.01M229.3 87.7h.01M239.8 72.4h.01M255.9 105.5h.01M237.3 104.3h.01M258.2 73.4h.01M256.9 86.3h.01M236.4 85.1h.01M240.8 78.5h.01M272.1 97.5h.01M225.2 94.6h.01M243.9 67.2h.01"/>
<g class="v" transform="scale(.1)"><path class="c3" d="M1242 3570l-17 6 0-19 17-6zM1276 3520l-17 6 0-19 17-6zM1242 3551l-17 6 0-19 17-6zM1259 3526l-17 6 0-19 17-6zM1277 3227l-17 5 0-20 17-5zM979 3645l-18 6 0-19 18-7zM1260 3232l-17 6 0-20 17-6zM1243 3198l-18 5 0-20 18-6zM935 3336l-19 6-1-21 19-6zM971 3283l-19 5 0-20 19-6z"/><path class="c4" d="M1242 3570l13 8 0-19-13-8zM1216 3516l13 8 0-19-13-8zM1242 3551l13 8 0-19-13-8zM1229 3524l13 8 0-19-13-8zM1216 3224l13 7 0-20-13-8zM1447 3674l15 9 0-20-14-8zM1229 3231l14 7 0-20-14-7zM1243 3218l13 7 0-20-13-7zM1243 3198l13 7 0-21-13-7zM1469 3359l15 8 1-21-15-8zM1484 3367l15 8 1-21-15-8zM1456 3310l14 7 1-21-15-7z"/><path class="c5" d="M1216 3516l13 8-17 6-13-8zM1276 3520l13 8-17 6-13-8zM1229 3524l13 8-17 6-13-8zM1259 3526l13 8-17 6-13-8zM953 3608l13 9-18 6-13-8zM966 3617l13 8-18 7-13-9zM1465 3648l14 9-17 6-14-8zM961 3632l12 8-18 7-13-9zM942 3638l13 9-18 6-13-8zM1477 3672l14 9-17 6-15-8zM1194 3766l14 9-18 7-14-9zM1143 3771l14 9-19 7-14-9zM1208 3775l15 9-19 8-14-10z"/><path class="c0" d="M1225 3576l-17 6 0-19 17-6zM1276 3501l-17 6 0-19 17-6zM1208 3582l-17 6 0-19 17-6zM1225 3557l-17 6 0-19 17-6zM1259 3507l-17 6 0-20 17-5zM1276 3482l-17 6 0-20 17-6zM1208 3563l-17 6-1-19 18-6zM1259 3488l-17 5 0-19 17-6zM1276 3462l-17 6 0-19 17-6zM1259 3468l-17 6 0-19 17-6zM1276 3443l-17 6 0-19 17-6zM1259 3449l-17 6 0-19 17-6zM1139 3607l-18 6 0-19 18-6zM1121 3613l-17 6 0-19 17-6zM1139 3588l-18 6 0-19 18-7zM1104 3619l-18 7 0-20 18-6zM1121 3594l-17 6 0-19 17-6zM1276 3366l-17 5 0-19 18-6zM1086 3626l-17 6 0-19 17-7zM1104 3600l-18 6 0-19 18-6zM1259 3371l-17 6 0-20 17-5zM1277 3346l-18 6 1-20 17-6zM1069 3632l-18 6 0-19 18-6zM1086 3606l-17 7-1-20 18-6zM1259 3352l-17 5 0-19 18-6zM1277 3326l-17 6 0-20 17-5zM1051 3638l-18 7 0-20 18-6zM1069 3613l-18 6 0-19 17-7zM1260 3332l-18 6 0-20 18-6zM1277 3307l-17 5 0-20 17-5zM1033 3645l-18 6 0-19 18-7zM1051 3619l-18 6 0-19 18-6zM1260 3312l-18 6 0-20 18-6zM1277 3287l-17 5 0-20 17-5zM1015 3651l-17 7-1-20 18-6zM1033 3625l-18 7 0-20 18-6zM1260 3292l-18 6 0-20 18-6zM1277 3267l-17 5 0-20 17-5zM998 3658l-18 6-1-19 18-7zM1015 3632l-18 6 0-19 18-7zM1260 3272l-18 6 1-20 17-6zM1277 3247l-17 5 0-20 17-5zM997 3638l-18 7 0-20 18-6zM1260 3252l-17 6 0-20 17-6zM1524 3707l-17 6 1-19 17-7zM1507 3713l-17 7 1-20 17-6zM1525 3687l-17 7 0-20 18-7zM1490 3720l-17 7 0-20 18-7zM1508 3694l-17 6 0-19 17-7zM1526 3667l-18 7 1-20 17-6zM1473 3727l-17 7 0-20 17-7zM1491 3700l-18 7 1-20 17-6zM1508 3674l-17 7 1-20 17-7zM1526 3648l-17 6 1-20 17-6zM1456 3734l-18 6 0-19 18-7zM1473 3707l-17 7 0-20 18-7zM942 3618l-19 7 0-20 18-6zM1509 3654l-17 7 0-20 18-7zM960 3592l-19 7 0-20 18-6zM1527 3628l-17 6 0-20 17-6zM1208 3229l-18 5 0-20 18-5zM1225 3203l-17 6 0-21 17-5zM1438 3740l-17 7 0-19 17-7zM1456 3714l-18 7 1-20 17-7zM941 3599l-18 6-1-20 19-6zM1510 3634l-18 7 1-20 17-7zM959 3573l-18 6-1-20 19-6zM1527 3608l-17 6 1-20 17-6zM1190 3234l-18 6 0-20 18-6zM1208 3209l-18 5 0-20 18-6zM1421 3747l-18 7 0-20 18-6zM1438 3721l-17 7 0-20 18-7zM941 3579l-19 6 0-19 18-7zM1510 3614l-17 7 0-20 18-7zM959 3553l-19 6 0-20 18-6zM1528 3588l-17 6 0-20 18-6zM1172 3240l-18 6 0-21 18-5zM1190 3214l-18 6 0-21 18-5zM1403 3754l-18 7 1-20 17-7zM1421 3728l-18 6 1-20 17-6zM940 3559l-18 7-1-20 19-7zM1511 3594l-18 7 1-20 17-7zM958 3533l-18 6-1-20 19-6zM1529 3568l-18 6 1-20 17-6zM1154 3246l-18 5 0-20 18-6zM1172 3220l-18 5 0-20 18-6zM1385 3761l-17 7 0-20 18-7zM1403 3734l-17 7 0-20 18-7zM940 3539l-19 7 0-20 18-7zM1511 3574l-17 7 0-20 18-7zM958 3513l-19 6 0-20 18-6zM1529 3548l-17 6 0-20 18-7zM1136 3251l-18 6 0-21 18-5zM1154 3225l-18 6 0-21 18-5zM1368 3768l-18 7 0-20 18-7zM1386 3741l-18 7 0-20 18-7zM939 3519l-18 7-1-20 19-7zM1512 3554l-18 7 1-21 17-6zM957 3493l-18 6-1-20 19-6zM1530 3527l-18 7 1-20 17-7zM1118 3257l-18 6 0-21 18-6zM1136 3231l-18 5 0-20 18-6zM1350 3775l-18 7 0-20 18-7zM1368 3748l-18 7 0-20 18-7zM939 3499l-19 7 0-21 18-6zM1512 3534l-17 6 1-20 17-6zM957 3473l-19 6 0-20 18-6zM1530 3507l-17 7 1-21 17-6zM1100 3263l-18 5 0-20 18-6zM1118 3236l-18 6 0-20 18-6zM1332 3782l-18 7 0-20 18-7zM1350 3755l-18 7 0-20 18-7zM938 3479l-18 6-1-20 19-6zM1513 3514l-17 6 0-21 18-6zM956 3453l-18 6-1-20 19-7zM1531 3487l-17 6 0-20 18-7zM1082 3268l-18 6 0-20 18-6zM1100 3242l-18 6 0-21 18-5zM1314 3789l-18 7 0-20 18-7zM1332 3762l-18 7 0-20 18-7zM938 3459l-19 6 0-20 18-6zM1514 3493l-18 6 1-20 17-6zM956 3432l-19 7 0-21 18-6zM1532 3466l-18 7 1-21 17-6zM1064 3274l-18 6-1-21 19-5zM1082 3248l-18 6-1-21 19-6zM1296 3796l-19 7 1-20 18-7zM1314 3769l-18 7 0-20 18-7zM937 3439l-18 6-1-21 19-6zM1514 3473l-17 6 0-21 18-6zM955 3412l-18 6-1-20 19-6zM1532 3446l-17 6 0-21 18-6zM1046 3280l-19 6 0-21 18-6zM1064 3254l-19 5 0-20 18-6zM1277 3803l-18 7 0-20 19-7zM1296 3776l-18 7 0-20 18-7zM937 3418l-19 6-1-20 19-6zM1515 3452l-18 6 1-20 17-7zM955 3392l-19 6 0-21 18-6zM1533 3425l-18 6 1-20 18-6zM1027 3286l-18 6-1-21 19-6zM1045 3259l-18 6 0-21 18-5zM1259 3810l-18 8 0-21 18-7zM1278 3783l-19 7 0-20 19-7zM936 3398l-19 6 0-21 19-6zM1515 3431l-17 7 0-21 18-6zM954 3371l-18 6-1-20 19-6zM1534 3405l-18 6 1-21 17-6zM1009 3292l-19 5 0-20 18-6zM1027 3265l-19 6 0-21 19-6zM1241 3818l-19 7 0-20 19-8zM1259 3790l-18 7 0-20 18-7zM936 3377l-19 6-1-20 19-6zM1516 3411l-18 6 1-21 18-6zM954 3351l-19 6 0-21 18-6zM1534 3384l-17 6 0-21 18-6zM990 3297l-18 6-1-20 19-6zM1008 3271l-18 6-1-21 19-6zM1222 3825l-18 7 0-20 18-7zM1241 3797l-19 8 1-21 18-7zM935 3357l-19 6 0-21 19-6zM1517 3390l-18 6 0-21 18-6zM1535 3363l-18 6 1-21 17-6zM990 3277l-19 6 0-21 18-6zM1204 3832l-19 7 0-20 19-7zM1222 3805l-18 7 0-20 19-8zM1517 3369l-18 6 1-21 18-6zM1535 3342l-17 6 0-21 18-6zM1185 3839l-18 8 0-21 18-7zM1204 3812l-19 7 0-20 19-7zM1518 3348l-18 6 1-21 17-6zM1536 3321l-18 6 1-21 18-6zM1185 3819l-18 7-1-20 19-7zM1500 3354l-18 6 1-21 18-6zM1518 3327l-17 6 0-21 18-6zM1185 3799l-19 7 0-20 19-8zM1501 3333l-18 6 0-21 18-6zM1185 3778l-19 8 0-21 19-7zM1204 3751l-19 7 0-21 19-7zM1464 3367l-18 6 1-21 18-7zM1483 3339l-18 6 0-21 18-6zM1185 3758l-19 7 0-20 19-8zM1204 3730l-19 7 0-20 19-7zM1446 3373l-18 6 0-21 19-6zM1185 3737l-19 8 0-21 19-7zM1204 3710l-19 7 0-21 19-7zM1428 3379l-18 6 0-21 18-6zM1447 3352l-19 6 1-22 18-6zM1185 3717l-19 7 0-21 19-7zM1204 3689l-19 7 0-21 19-7zM1410 3385l-19 7 1-22 18-6zM1428 3358l-18 6 1-21 18-7zM1185 3696l-19 7 0-21 19-7zM1204 3668l-19 7 0-21 19-7zM1391 3392l-18 6 0-21 19-7zM1410 3364l-18 6 0-21 19-6zM1185 3675l-19 7 0-21 19-7zM1204 3647l-19 7 0-21 19-6zM1373 3398l-18 6 0-21 18-6zM1392 3370l-19 7 1-22 18-6zM1185 3654l-19 7 0-21 19-7zM1204 3627l-19 6 0-21 19-6zM1355 3404l-19 7 0-22 19-6zM1373 3377l-18 6 0-22 19-6zM1185 3633l-19 7 0-21 19-7zM1204 3606l-19 6 0-21 19-7zM1336 3411l-19 6 1-21 18-7zM1355 3383l-19 6 1-21 18-7zM1185 3612l-19 7 0-21 19-7zM1317 3417l-18 6 0-21 19-6zM1336 3389l-18 7 0-22 19-6zM1185 3591l-19 7 0-21 19-7zM1299 3423l-19 7 0-22 19-6zM1318 3396l-19 6 0-22 19-6zM1185 3570l-19 7-1-21 20-7zM1299 3402l-19 6 0-21 19-7zM1204 3521l-19 6 0-21 19-7zM1280 3408l-19 7 0-22 19-6zM1185 3527l-20 7 0-21 20-7zM1204 3499l-19 7-1-22 20-6zM1261 3415l-19 6 0-21 19-7zM1185 3506l-20 7 0-22 19-7zM1204 3478l-20 6 0-21 20-7zM1242 3421l-19 7 0-22 19-6zM1184 3484l-19 7 0-22 19-6zM1204 3456l-20 7 0-22 20-7zM1223 3428l-19 6 0-21 19-7zM1184 3463l-19 6 0-21 19-7zM1204 3434l-20 7 0-22 20-6zM1184 3441l-19 7 0-22 19-7z"/><path class="c1" d="M1255 3578l13 8 0-19-13-8zM1216 3497l13 8 0-19-13-8zM1268 3586l13 8 0-19-13-8zM1255 3559l13 8 0-19-13-8zM1229 3505l13 8 0-20-13-7zM1216 3478l13 8 0-19-13-8zM1281 3594l14 8 0-19-14-8zM1268 3567l13 8 1-19-14-8zM1229 3486l13 7 0-19-13-7zM1216 3459l13 8 0-20-13-7zM1295 3602l13 8 0-19-13-8zM1281 3575l14 8 0-19-13-8zM1229 3467l13 7 0-19-13-8zM1308 3610l14 8 0-19-14-8zM1295 3583l13 8 0-19-13-8zM1229 3447l13 8 0-19-13-8zM1322 3618l13 8 0-19-13-8zM1308 3591l14 8 0-19-14-8zM1335 3626l14 9 0-20-14-8zM1322 3599l13 8 1-19-14-8zM1216 3382l13 7 0-19-13-8zM1349 3635l14 8 0-19-14-9zM1335 3607l14 8 0-19-13-8zM1229 3389l13 8 0-20-13-7zM1216 3362l13 8 0-20-13-8zM1363 3643l14 8 0-19-14-8zM1349 3615l14 9 0-20-14-8zM1229 3370l13 7 0-20-13-7zM1216 3342l13 8 0-20-13-7zM1377 3651l13 9 1-20-14-8zM1363 3624l14 8 0-19-14-9zM1229 3350l13 7 0-19-13-8zM1216 3323l13 7 0-20-13-7zM1390 3660l14 8 1-19-14-9zM1377 3632l14 8 0-19-14-8zM1229 3330l13 8 0-20-13-8zM1216 3303l13 7 0-19-13-8zM1404 3668l15 9 0-20-14-8zM1391 3640l14 9 0-20-14-8zM1229 3310l13 8 0-20-13-7zM1216 3283l13 8 0-20-13-8zM1419 3677l14 8 0-19-14-9zM1405 3649l14 8 0-19-14-9zM1229 3291l13 7 0-20-13-7zM1216 3263l13 8 0-20-13-7zM1433 3685l14 9 0-20-14-8zM1419 3657l14 9 1-20-15-8zM1229 3271l13 7 1-20-14-7zM1216 3244l13 7 0-20-13-7zM1433 3666l14 8 1-19-14-9zM1229 3251l14 7 0-20-14-7zM900 3667l12 8 0-19-13-9zM912 3675l13 9-1-20-12-8zM899 3647l13 9-1-20-12-8zM925 3684l13 8-1-19-13-9zM912 3656l12 8 0-19-13-9zM899 3628l12 8 0-19-13-9zM938 3692l13 9-1-20-13-8zM924 3664l13 9 0-20-13-8zM911 3636l13 9-1-20-12-8zM898 3608l13 9-1-20-13-8zM1256 3225l14 7 0-20-14-7zM951 3701l13 9-1-20-13-9zM937 3673l13 8 0-19-13-9zM911 3617l12 8 0-20-13-8zM897 3589l13 8 0-20-13-8zM1463 3624l15 8 0-20-14-8zM1270 3232l14 8 0-21-14-7zM1256 3205l14 7 0-21-14-7zM964 3710l13 8-1-19-13-9zM950 3681l13 9 0-20-13-8zM910 3597l13 8-1-20-12-8zM1478 3632l14 9 1-20-15-9zM897 3569l13 8-1-20-13-8zM1464 3604l14 8 1-20-15-8zM1284 3240l14 7 0-21-14-7zM1270 3212l14 7 0-20-14-8zM977 3718l13 9-1-19-13-9zM963 3690l13 9 0-20-13-9zM910 3577l12 8 0-19-13-9zM1478 3612l15 9 0-20-14-9zM896 3549l13 8-1-20-12-8zM1464 3584l15 8 0-20-14-8zM1298 3247l13 7 1-20-14-8zM1284 3219l14 7 0-20-14-7zM990 3727l13 9-1-20-13-8zM976 3699l13 9 0-20-13-9zM909 3557l13 9-1-20-13-9zM1479 3592l14 9 1-20-15-9zM896 3529l12 8 0-20-13-8zM1465 3564l14 8 1-20-15-8zM1311 3254l14 8 1-21-14-7zM1298 3226l14 8 0-21-14-7zM1003 3736l13 9 0-20-14-9zM989 3708l13 8 0-19-13-9zM908 3537l13 9 0-20-13-9zM1479 3572l15 9 0-20-14-9zM895 3509l13 8-1-20-13-8zM1465 3544l15 8 0-20-14-8zM1325 3262l14 7 1-20-14-8zM1312 3234l14 7 0-20-14-8zM1016 3745l13 9 0-20-13-9zM1002 3716l14 9-1-20-13-8zM908 3517l13 9-1-20-13-9zM1480 3552l14 9 1-21-15-8zM894 3489l13 8 0-20-13-8zM1466 3524l14 8 1-20-15-9zM1339 3269l15 8 0-21-14-7zM1326 3241l14 8 0-21-14-7zM1029 3754l14 9-1-20-13-9zM1016 3725l13 9 0-20-14-9zM907 3497l13 9 0-21-13-8zM1480 3532l15 8 1-20-15-8zM894 3469l13 8-1-20-13-8zM1466 3503l15 9 0-21-14-8zM1354 3277l14 7 0-20-14-8zM1340 3249l14 7 0-21-14-7zM1043 3763l13 9 0-20-14-9zM1029 3734l13 9 0-20-13-9zM907 3477l13 8-1-20-13-8zM1481 3512l15 8 0-21-15-8zM893 3449l13 8 0-20-13-8zM1467 3483l14 8 1-20-15-8zM1368 3284l14 8 1-21-15-7zM1354 3256l14 8 0-21-14-8zM1056 3772l14 9-1-20-13-9zM1042 3743l14 9-1-20-13-9zM906 3457l13 8 0-20-13-8zM1481 3491l15 8 1-20-15-8zM893 3429l13 8-1-21-13-8zM1467 3463l15 8 0-21-15-8zM1382 3292l15 7 0-20-14-8zM1368 3264l15 7 0-21-15-7zM1070 3781l13 9 0-20-14-9zM1056 3752l13 9 0-20-14-9zM906 3437l13 8-1-21-13-8zM1482 3471l15 8 0-21-15-8zM892 3408l13 8-1-20-13-8zM1467 3442l15 8 1-20-15-9zM1397 3299l14 8 1-21-15-7zM1383 3271l14 8 0-21-14-8zM1083 3790l14 10 0-20-14-10zM1069 3761l14 9 0-20-14-9zM905 3416l13 8-1-20-13-8zM1482 3450l15 8 1-20-15-8zM891 3388l13 8 0-21-13-7zM1468 3421l15 9 0-21-15-8zM1411 3307l15 8 0-21-14-8zM1397 3279l15 7 0-21-15-7zM1097 3800l14 9 0-20-14-9zM1083 3770l14 10-1-21-13-9zM904 3396l13 8 0-21-13-8zM1483 3430l15 8 0-21-15-8zM891 3368l13 7-1-20-13-8zM1468 3401l15 8 1-21-15-8zM1426 3315l14 8 1-21-15-8zM1412 3286l14 8 1-21-15-8zM1111 3809l14 9-1-20-13-9zM1097 3780l14 9-1-20-14-10zM904 3375l13 8-1-20-13-8zM1483 3409l15 8 1-21-15-8zM890 3347l13 8 0-21-13-8zM1469 3380l15 8 0-21-15-8zM1440 3323l15 7 1-20-15-8zM1426 3294l15 8 0-21-14-8zM1125 3818l14 10-1-21-14-9zM1111 3789l13 9 0-20-14-9zM903 3355l13 8 0-21-13-8zM1484 3388l15 8 0-21-15-8zM890 3326l13 8-1-21-13-7zM1441 3302l15 8 0-21-15-8zM1139 3828l14 9-1-20-14-10zM1124 3798l14 9 0-20-14-9zM903 3334l13 8-1-21-13-8zM889 3306l13 7-1-20-13-8zM1153 3837l14 10 0-21-15-9zM1138 3807l14 10 0-20-14-10zM902 3313l13 8 0-21-14-7zM888 3285l13 8 0-21-13-8zM1152 3817l15 9-1-20-14-9zM915 3321l13 8 0-21-13-8zM901 3293l14 7-1-21-13-7zM1152 3797l14 9 0-20-14-10zM928 3329l14 8-1-21-13-8zM915 3300l13 8-1-21-13-8zM1138 3746l14 10 0-21-14-9zM942 3337l13 8-1-21-13-8zM928 3308l13 8 0-21-14-8zM1152 3756l14 9 0-20-14-10zM1138 3726l14 9 0-20-14-10zM955 3345l13 8 0-21-14-8zM941 3316l13 8 0-21-13-8zM1152 3735l14 10 0-21-14-9zM1138 3705l14 10 0-21-14-9zM968 3353l14 8-1-21-13-8zM954 3324l14 8-1-22-13-7zM1152 3715l14 9 0-21-14-9zM1138 3685l14 9 0-21-15-9zM982 3361l13 8 0-21-14-8zM968 3332l13 8 0-22-14-8zM1152 3694l14 9 0-21-14-9zM1137 3664l15 9 0-21-15-9zM995 3369l14 8 0-21-14-8zM981 3340l14 8 0-22-14-8zM1152 3673l14 9 0-21-14-9zM1137 3643l15 9-1-21-14-9zM1009 3377l14 8-1-21-13-8zM995 3348l14 8-1-22-13-8zM1152 3652l14 9 0-21-15-9zM1137 3622l14 9 0-21-14-9zM1023 3385l14 8-1-21-14-8zM1009 3356l13 8 0-22-14-8zM1151 3631l15 9 0-21-15-9zM1137 3601l14 9 0-21-14-9zM1037 3393l14 9-1-22-14-8zM1022 3364l14 8 0-21-14-9zM1151 3610l15 9 0-21-15-9zM1051 3402l14 8-1-22-14-8zM1036 3372l14 8 0-21-14-8zM1151 3589l15 9 0-21-15-9zM1065 3410l14 8-1-21-14-9zM1050 3380l14 8 0-21-14-8zM1079 3418l14 9 0-22-15-8zM1064 3388l14 9 0-22-14-8zM1136 3517l15 8 0-21-15-9zM1093 3427l14 8 0-22-14-8zM1078 3397l15 8-1-22-14-8zM1151 3525l14 9 0-21-14-9zM1136 3495l15 9 0-22-15-8zM1107 3435l14 9 0-22-14-9zM1093 3405l14 8 0-21-15-9zM1151 3504l14 9 0-22-14-9zM1136 3474l15 8-1-21-14-9zM1121 3444l15 8 0-22-15-8zM1107 3413l14 9 0-22-14-8zM1151 3482l14 9 0-22-15-8zM1136 3452l14 9 0-22-14-9zM1121 3422l15 8 0-21-15-9zM1150 3461l15 8 0-21-15-9zM1136 3430l14 9 0-22-14-8zM1150 3439l15 9 0-22-15-9z"/><path class="c2" d="M1199 3522l13 8-17 6-13-8zM1289 3528l13 7-17 6-13-7zM1212 3530l13 8-17 6-13-8zM1272 3534l13 7-17 7-13-8zM1302 3535l13 8-16 6-14-8zM1195 3536l13 8-18 6-13-8zM1285 3541l14 8-17 7-14-8zM1315 3543l14 8-17 6-13-8zM1147 3540l13 8-17 6-13-8zM1299 3549l13 8-17 7-13-8zM1329 3551l13 8-16 6-14-8zM1130 3546l13 8-17 6-13-8zM1312 3557l14 8-18 7-13-8zM1342 3559l14 8-17 6-13-8zM1113 3552l13 8-18 7-13-9zM1143 3554l13 8-17 6-13-8zM1326 3565l13 8-17 7-14-8zM1356 3567l14 8-17 7-14-9zM1095 3558l13 9-17 6-13-8zM1126 3560l13 8-18 7-13-8zM1339 3573l14 9-17 6-14-8zM1370 3575l14 8-17 7-14-8zM1078 3565l13 8-18 6-13-8zM1108 3567l13 8-17 6-13-8zM1353 3582l14 8-18 6-13-8zM1384 3583l13 9-17 6-13-8zM1060 3571l13 8-18 6-12-8zM1091 3573l13 8-18 6-13-8zM1367 3590l13 8-17 6-14-8zM1397 3592l14 8-17 6-14-8zM1043 3577l12 8-17 6-13-8zM1073 3579l13 8-18 6-13-8zM1380 3598l14 8-17 7-14-9zM1411 3600l14 8-17 7-14-9zM1025 3583l13 8-18 7-13-8zM1055 3585l13 8-17 7-13-9zM1394 3606l14 9-17 6-14-8zM1425 3608l14 8-17 7-14-8zM1007 3590l13 8-18 6-13-8zM1038 3591l13 9-18 6-13-8zM1408 3615l14 8-17 6-14-8zM1439 3616l15 9-18 6-14-8zM989 3596l13 8-18 6-13-8zM1020 3598l13 8-18 6-13-8zM1422 3623l14 8-17 7-14-9zM1454 3625l14 8-17 7-15-9zM971 3602l13 8-18 7-13-9zM1002 3604l13 8-18 7-13-9zM1436 3631l15 9-17 6-15-8zM1468 3633l14 9-17 6-14-8zM984 3610l13 9-18 6-13-8zM1451 3640l14 8-17 7-14-9zM1251 3152l13 7-17 6-14-7zM1233 3158l14 7-18 5-13-7zM1264 3159l14 7-18 6-13-7zM1216 3163l13 7-17 6-14-8zM1247 3165l13 7-17 5-14-7zM1278 3166l13 7-17 6-14-7zM973 3640l13 9-18 6-13-8zM1445 3670l14 9-17 6-15-8zM1198 3168l14 8-18 5-13-7zM1229 3170l14 7-18 6-13-7zM1260 3172l14 7-18 5-13-7zM1291 3173l14 8-17 5-14-7zM955 3647l13 8-18 7-13-9zM986 3649l13 8-18 7-13-9zM1427 3677l15 8-18 7-14-9zM1459 3679l15 8-18 7-14-9zM1181 3174l13 7-18 5-13-7zM1212 3176l13 7-17 5-14-7zM1274 3179l14 7-18 5-14-7zM1305 3181l14 7-17 5-14-7zM968 3655l13 9-18 6-13-8zM999 3657l13 9-18 6-13-8zM1410 3683l14 9-17 7-15-9zM1442 3685l14 9-17 7-15-9zM1163 3179l13 7-17 6-14-7zM1194 3181l14 7-18 6-14-8zM1288 3186l14 7-18 6-14-8zM1319 3188l14 7-18 5-13-7zM981 3664l13 8-18 7-13-9zM1012 3666l14 8-19 7-13-9zM1392 3690l15 9-18 7-14-9zM1424 3692l15 9-18 7-14-9zM1145 3185l14 7-18 6-14-8zM1176 3186l14 8-18 5-13-7zM1302 3193l13 7-17 6-14-7zM1333 3195l14 7-18 6-14-8zM994 3672l13 9-18 7-13-9zM1026 3674l13 9-19 7-13-9zM1375 3697l14 9-18 6-14-8zM1407 3699l14 9-17 6-15-8zM1127 3190l14 8-18 5-14-7zM1159 3192l13 7-18 6-13-7zM1315 3200l14 8-17 5-14-7zM1347 3202l14 7-18 6-14-7zM1007 3681l13 9-18 7-13-9zM1039 3683l13 9-18 7-14-9zM1357 3704l14 8-17 7-15-9zM1389 3706l15 8-18 7-15-9zM1109 3196l14 7-18 6-14-8zM1141 3198l13 7-18 5-13-7zM1329 3208l14 7-17 6-14-8zM1361 3209l14 8-17 5-15-7zM1020 3690l14 9-19 6-13-8zM1052 3692l14 9-19 6-13-8zM1339 3710l15 9-18 7-15-9zM1371 3712l15 9-18 7-14-9zM1091 3201l14 8-18 5-14-7zM1123 3203l13 7-18 6-13-7zM1343 3215l15 7-18 6-14-7zM1375 3217l14 7-17 6-14-8zM1034 3699l13 8-18 7-14-9zM1066 3701l13 8-18 7-14-9zM1321 3717l15 9-18 7-14-9zM1354 3719l14 9-18 7-14-9zM1073 3207l14 7-19 6-13-7zM1105 3209l13 7-18 6-13-8zM1358 3222l14 8-18 5-14-7zM1389 3224l15 7-18 6-14-7zM1047 3707l14 9-19 7-13-9zM1079 3709l14 9-19 7-13-9zM1304 3724l14 9-18 7-14-9zM1336 3726l14 9-18 7-14-9zM1055 3213l13 7-18 6-13-8zM1087 3214l13 8-18 5-14-7zM1372 3230l14 7-18 6-14-8zM1404 3231l14 8-17 6-15-8zM1061 3716l13 9-19 7-13-9zM1093 3718l13 9-18 7-14-9zM1286 3731l14 9-18 7-15-9zM1318 3733l14 9-18 7-14-9zM1037 3218l13 8-18 5-13-7zM1068 3220l14 7-19 6-13-7zM1386 3237l15 8-18 5-15-7zM1418 3239l15 7-18 6-14-7zM1074 3725l14 9-19 7-14-9zM1106 3727l14 9-19 7-13-9zM1267 3738l15 9-19 7-14-9zM1300 3740l14 9-18 7-14-9zM1019 3224l13 7-19 6-13-8zM1050 3226l13 7-18 6-13-8zM1401 3245l14 7-18 6-14-8zM1433 3246l14 8-17 6-15-8zM1088 3734l13 9-18 7-14-9zM1120 3736l14 9-19 7-14-9zM1249 3745l14 9-18 7-14-9zM1282 3747l14 9-18 7-15-9zM1000 3229l13 8-18 6-13-8zM1032 3231l13 8-18 5-14-7zM1415 3252l15 8-18 5-15-7zM1447 3254l15 7-18 6-14-7zM1101 3743l14 9-19 7-13-9zM1134 3745l14 10-19 7-14-10zM1231 3752l14 9-18 7-14-9zM1263 3754l15 9-19 7-14-9zM982 3235l13 8-19 5-13-7zM1013 3237l14 7-19 6-13-7zM1430 3260l14 7-17 6-15-8zM1462 3261l15 8-18 6-15-8zM1115 3752l14 10-19 7-14-10zM1148 3755l14 9-19 7-14-9zM1213 3759l14 9-19 7-14-9zM1245 3761l14 9-18 7-14-9zM963 3241l13 7-19 6-13-7zM995 3243l13 7-19 6-13-8zM1444 3267l15 8-18 6-14-8zM1477 3269l15 8-18 6-15-8zM1129 3762l14 9-19 7-14-9zM1227 3768l14 9-18 7-15-9zM944 3247l13 7-18 6-13-8zM976 3248l13 8-18 6-14-8zM1459 3275l15 8-18 6-15-8zM1492 3277l15 7-18 6-15-7zM926 3252l13 8-19 6-13-8zM957 3254l14 8-19 6-13-8zM1474 3283l15 7-18 6-15-7zM1507 3284l15 8-18 6-15-8zM907 3258l13 8-19 6-13-8zM939 3260l13 8-19 5-13-7zM1489 3290l15 8-18 6-15-8zM1522 3292l15 8-18 6-15-8zM920 3266l13 7-19 6-13-7zM952 3268l13 7-19 6-13-8zM1471 3296l15 8-18 6-15-8zM1504 3298l15 8-18 6-15-8zM933 3273l13 8-19 6-13-8zM965 3275l14 8-19 6-14-8zM1453 3302l15 8-18 6-15-8zM1486 3304l15 8-18 6-15-8zM946 3281l14 8-19 6-14-8zM979 3283l13 8-19 6-13-8zM1435 3308l15 8-18 6-15-8zM1468 3310l15 8-18 6-15-8zM960 3289l13 8-19 6-13-8zM992 3291l13 7-18 6-14-7zM1417 3314l15 8-18 6-15-8zM1450 3316l15 8-18 6-15-8zM973 3297l14 7-20 6-13-7zM1005 3298l14 8-19 6-13-8zM1399 3320l15 8-18 7-15-8zM1432 3322l15 8-18 6-15-8zM987 3304l13 8-19 6-14-8zM1019 3306l14 8-19 6-14-8zM1381 3327l15 8-19 6-15-8zM1414 3328l15 8-18 7-15-8zM1000 3312l14 8-19 6-14-8zM1033 3314l14 8-20 6-13-8zM1362 3333l15 8-18 6-15-8zM1396 3335l15 8-19 6-15-8zM1014 3320l13 8-19 6-13-8zM1047 3322l13 8-19 6-14-8zM1344 3339l15 8-19 6-15-8zM1377 3341l15 8-18 6-15-8zM1027 3328l14 8-19 6-14-8zM1060 3330l14 8-19 6-14-8zM1325 3345l15 8-18 6-15-8zM1359 3347l15 8-19 6-15-8zM1041 3336l14 8-19 7-14-9zM1074 3338l14 8-19 6-14-8zM1307 3351l15 8-19 7-15-8zM1340 3353l15 8-18 7-15-9zM1055 3344l14 8-19 7-14-8zM1088 3346l14 8-19 7-14-9zM1288 3358l15 8-19 6-15-8zM1322 3359l15 9-19 6-15-8zM1069 3352l14 9-19 6-14-8zM1102 3354l15 9-20 6-14-8zM1269 3364l15 8-19 6-14-8zM1303 3366l15 8-19 6-15-8zM1083 3361l14 8-19 6-14-8zM1117 3363l14 8-19 6-15-8zM1251 3370l14 8-19 7-14-8zM1284 3372l15 8-19 7-15-9zM1097 3369l15 8-20 6-14-8zM1131 3371l14 8-19 6-14-8zM1232 3377l14 8-19 6-14-8zM1265 3378l15 9-19 6-15-8zM1112 3377l14 8-19 7-15-9zM1145 3379l15 8-20 7-14-9zM1213 3383l14 8-19 7-14-9zM1246 3385l15 8-19 7-15-9zM1126 3385l14 9-19 6-14-8zM1160 3387l14 9-19 6-15-8zM1194 3389l14 9-19 6-15-8zM1227 3391l15 9-19 6-15-8zM1140 3394l15 8-19 7-15-9zM1174 3396l15 8-19 7-15-9zM1208 3398l15 8-19 7-15-9zM1155 3402l15 9-20 6-14-8zM1189 3404l15 9-20 6-14-8zM1170 3411l14 8-19 7-15-9z"/><path class="c5" d="M1462 3663l15 9-18 7-14-9z"/><path class="c3" d="M961 3632l-19 6 0-20 18-6zM1243 3218l-18 5 0-20 18-5zM942 3638l-18 7-1-20 19-7z"/><path class="c4" d="M1462 3663l15 9 0-20-14-8zM1477 3672l14 9 1-20-15-9z"/><path class="c0" d="M960 3612l-18 6-1-19 19-7zM1225 3223l-17 6 0-20 17-6zM1204 3792l-19 7 0-21 19-7zM1204 3771l-19 7 0-20 19-7zM1482 3360l-18 7 1-22 18-6zM1465 3345l-18 7 0-22 18-6zM1204 3584l-19 7 0-21 19-7zM1204 3563l-19 7 0-21 19-7zM1204 3542l-19 7 0-22 19-6zM1280 3430l-19 6 0-21 19-7zM1185 3549l-20 7 0-22 20-7zM1261 3436l-19 7 0-22 19-6zM1242 3443l-19 7 0-22 19-7zM1223 3450l-19 6 0-22 19-6z"/><path class="c1" d="M1463 3644l14 8 1-20-15-8zM1477 3652l15 9 0-20-14-9zM1138 3787l14 10 0-21-14-9zM1138 3767l14 9 0-20-14-10zM1152 3776l14 10 0-21-14-9zM1137 3580l14 9 0-21-14-9zM1137 3559l14 9 0-21-14-9zM1151 3568l15 9-1-21-14-9zM1137 3538l14 9 0-22-15-8zM1151 3547l14 9 0-22-14-9z"/></g>
<g class="v" transform="scale(.1)"><path class="c0" d="M2244 3097l-20 7 1-23 20-7zM2265 3066l-20 8 0-24 21-7zM1991 2877l-21 7 0-23 21-8zM2117 3163l-21 8 0-24 21-8zM2286 2912l-20 7 0-24 21-7zM2214 3113l-21 8 1-24 21-8zM2278 3018l-21 8 1-24 21-8zM2152 3113l-22 8 1-24 21-8zM2173 3081l-21 8 0-24 22-8zM2238 2986l-21 8 0-25 21-7zM2259 2954l-21 8 1-25 21-7zM2130 3121l-21 8 0-24 22-8zM2152 3089l-21 8 0-24 21-8zM2238 2962l-21 7 1-24 21-8zM2260 2930l-21 7 0-24 21-7zM2131 3097l-22 8 1-24 21-8zM2152 3065l-21 8 0-24 22-8zM2217 2969l-21 8 1-24 21-8zM2239 2937l-21 8 0-24 21-8zM2066 3170l-22 8 0-24 22-8zM2109 3105l-21 9 0-24 22-9zM2131 3073l-21 8 0-24 21-8zM2218 2945l-21 8 0-25 21-7zM2239 2913l-21 8 1-25 21-7zM2283 2849l-21 8 0-25 21-7zM2045 3057l-22 8 0-24 22-8zM2067 3025l-22 8 0-25 22-8zM2155 2895l-22 7 0-25 22-7zM2221 2797l-22 8 1-25 21-8zM2045 3033l-22 8 0-25 22-8zM2067 3000l-22 8 0-25 22-8zM2133 2902l-22 8 1-25 21-8zM2155 2870l-22 7 1-25 22-7zM2023 3041l-23 8 0-25 23-8zM2045 3008l-22 8 0-25 22-8zM2133 2877l-21 8 0-25 22-8zM2023 3016l-23 8 0-25 23-8zM2045 2983l-22 8 0-25 22-8zM2112 2885l-22 8 0-25 22-8zM2134 2852l-22 8 0-25 22-8zM2001 2949l-23 8 0-25 23-8zM2068 2850l-22 8 0-26 22-7z"/><path class="c8" d="M2228 3064l17 10-20 7-17-10zM1754 3056l15 10-21 7-16-10zM2239 3086l17 11-21 8-17-11zM1775 3025l16 10-22 7-15-10zM2011 2623l16 9-21 6-16-8zM2048 2625l16 9-21 6-16-8zM2159 3123l17 11-21 8-17-11zM2185 3027l17 10-21 8-17-10zM1800 3086l16 10-22 8-15-10zM2176 3110l17 11-21 8-17-11zM2198 3079l17 10-21 8-17-10zM1737 2952l15 10-22 7-15-9zM2261 2984l18 10-21 8-17-10zM1985 2645l16 9-21 6-16-8zM1864 3128l16 10-22 8-16-10zM2092 3142l17 11-22 8-17-10zM1734 2857l16 10-22 7-16-10zM2264 2888l17 10-21 8-17-10zM2011 3180l16 11-21 8-17-11zM2016 3090l16 10-21 9-17-11zM2188 2835l17 10-21 7-17-9zM1856 2685l16 9-21 7-16-9zM2159 2702l18 9-22 7-17-9zM1934 3128l16 10-22 9-16-11zM2011 3133l16 10-21 9-17-11zM1917 3093l17 11-22 8-17-11zM2032 3100l17 11-22 8-16-10zM1863 3056l16 11-22 8-16-11zM1901 3059l16 10-22 8-16-10zM2054 3068l17 11-22 8-17-11zM2093 3071l17 10-22 9-17-11zM1846 3022l16 10-22 8-16-10zM1884 3024l17 11-22 8-17-11zM2076 3036l17 11-22 8-17-11zM2114 3039l17 10-21 8-17-10zM1868 2990l16 10-22 8-16-10zM2097 3004l17 11-21 8-17-11zM1797 2920l16 10-22 7-16-10zM1835 2922l16 10-22 8-16-10zM2141 2940l17 11-21 7-18-10zM2179 2943l18 10-22 8-17-10zM1781 2886l16 10-22 7-16-10zM1819 2888l16 10-22 7-16-9zM2162 2909l18 9-22 8-17-10zM2201 2911l17 10-21 7-17-10zM1803 2854l15 10-22 7-16-9zM1954 2863l17 10-22 7-16-9zM2184 2877l17 9-21 8-17-10zM1786 2820l16 10-22 7-16-9zM2205 2845l18 9-21 8-18-10zM1770 2787l16 9-22 7-16-9zM2227 2813l18 10-22 7-17-10zM1910 2696l16 10-21 7-17-10zM1948 2699l16 9-21 7-17-9zM2062 2705l17 9-22 7-16-9zM2100 2707l17 9-21 7-17-9zM2215 2713l17 10-21 7-17-10zM1839 2783l16 10-22 7-16-10zM2146 2801l18 9-22 8-17-10zM2125 2808l17 10-21 7-18-9zM2016 2895l17 10-22 8-17-10zM1927 2976l17 10-22 8-17-10zM2006 2981l17 10-23 8-17-10zM2028 2948l17 10-22 8-17-10zM1860 2836l16 10-22 8-17-10zM2094 2850l18 10-22 8-18-10zM1943 2774l17 9-23 8-16-10z"/><path class="c7" d="M2228 3064l17 10 0-24-16-10zM1754 3056l15 10 0-24-15-10zM1738 3022l16 10-1-23-15-10zM2260 3055l17 10 0-23-17-10zM2027 2656l16 8 0-24-16-8zM2048 2625l16 9 0-24-16-9zM2185 3027l17 10 0-24-17-10zM2265 2967l17 10 1-24-18-10zM2176 3110l17 11 1-24-17-10zM1753 2985l15 10-1-23-15-10zM2240 3016l17 10 1-24-17-10zM1948 2643l16 9 0-25-16-8zM2092 3142l17 11 0-24-17-10zM2264 2888l17 10 1-24-18-10zM1862 2670l16 9 0-25-16-9zM2163 2686l17 9 1-24-17-9zM2269 2798l17 10 1-25-17-9zM1879 3115l17 10-1-24-16-10zM2016 3090l16 10 0-24-16-10zM1749 2842l16 10-1-24-15-10zM2188 2835l17 10 1-25-17-9zM2011 3133l16 10 0-24-16-10zM2032 3100l17 11 0-24-17-11zM1863 3056l16 11 0-24-17-11zM2054 3068l17 11 0-24-17-11zM2093 3071l17 10 0-24-17-10zM1846 3022l16 10 0-24-16-10zM2076 3036l17 11 0-24-17-11zM2114 3039l17 10 1-24-18-10zM1797 2920l16 10 0-25-16-9zM2141 2940l17 11 0-25-17-10zM2179 2943l18 10 0-25-17-10zM1781 2886l16 10-1-25-16-9zM2162 2909l18 9 0-24-17-10zM2201 2911l17 10 1-25-18-10zM1954 2863l17 10 0-25-17-9zM2184 2877l17 9 1-24-18-10zM2205 2845l18 9 0-24-17-10zM2227 2813l18 10 0-25-17-10zM1965 2732l16 9 0-24-17-9zM2155 2743l17 9 1-24-18-10zM1910 2696l16 10 0-25-16-9zM1948 2699l16 9 0-25-16-9zM2062 2705l17 9 0-25-17-9zM2100 2707l17 9 0-25-17-9zM1972 3058l17 10 0-24-17-10zM1839 2783l16 10 0-25-16-9zM1972 3034l17 10 0-24-17-11zM1855 2793l17 9-1-25-16-9zM1855 2768l16 9 0-25-16-9zM2016 2895l17 10 0-25-17-10zM2006 2981l17 10 0-25-17-10zM1877 2871l16 10 0-25-17-10zM2072 2883l18 10 0-25-18-10zM2094 2850l18 10 0-25-17-10zM1904 2771l17 10-1-25-16-10zM2060 2780l18 10 0-25-18-10z"/><path class="c4" d="M2208 3048l17 10 1-23-17-10zM1755 3102l15 10 0-23-15-10zM1770 3112l16 10-1-23-15-10zM1786 3122l15 11 0-24-16-10zM1801 3133l16 10-1-23-15-11zM2138 3155l17 10 0-23-17-11zM1706 2933l15 9 0-23-15-10zM1895 2656l16 9 0-24-16-9zM2043 2640l16 9 0-24-16-9zM1864 3175l16 10 0-23-16-11zM1880 3185l16 11 0-23-16-11zM1896 3196l16 11 0-24-16-10zM1912 3207l17 11 0-24-17-11zM1972 3178l17 10 0-23-17-11zM1702 2766l15 9-1-24-15-9zM2027 3167l17 11 0-24-17-11zM1896 3125l16 11 0-24-17-11zM1879 3091l16 10 0-24-16-10zM2071 3103l17 11 0-24-17-11zM1765 2852l15 10 0-25-16-9zM1749 2818l15 10 0-25-16-9zM2244 2847l18 10 0-25-17-9zM1797 2690l16 9-1-24-15-9zM1872 2694l16 9 0-24-16-9zM2177 2711l17 9 0-24-17-9zM1962 3144l16 11 0-24-17-11zM1972 3009l17 11 0-25-17-10zM1961 3120l17 11 0-25-17-10zM1778 2739l16 9 0-25-17-9zM1865 2769l17 10-1-25-16-10zM1961 2972l17 10 0-25-17-10zM1961 2947l17 10 0-25-17-10zM1892 2806l17 9 0-25-17-10z"/><path class="c3" d="M2238 3133l-21 8 0-23 21-8zM2300 3040l-20 7 1-23 20-8zM2217 3141l-21 8 1-23 20-8zM2301 3016l-20 8 0-24 21-7zM2196 3149l-20 8 0-23 21-8zM2302 2993l-21 7 1-23 20-8zM1838 3135l-21 8-1-23 22-8zM2138 3155l-21 8 0-24 21-8zM2176 3157l-21 8 0-23 21-8zM2302 2969l-20 8 1-24 20-8zM2286 2935l-21 8 1-24 20-7zM2154 2670l-20 7 0-24 21-7zM1816 3120l-21 8-1-24 22-8zM2091 3190l-21 8 0-24 22-8zM2305 2873l-21 8 1-24 21-8zM1956 3190l-22 9 0-24 22-8zM2070 3198l-21 8 0-23 21-9zM2306 2849l-21 8 1-25 21-7zM2255 2748l-20 7 0-24 21-7zM2049 3206l-22 9 0-24 22-8zM2307 2825l-21 7 0-24 21-7zM2027 3215l-21 8 0-24 21-8zM2307 2801l-21 7 1-25 21-7zM1912 3160l-22 8 0-24 22-8zM2049 3135l-22 8 0-24 22-8zM1879 3091l-22 8 0-24 22-8zM2071 3103l-22 8 0-24 22-8zM1971 2897l-22 8 0-25 22-7zM1992 2865l-21 8 0-25 21-7zM2222 2879l-21 7 1-24 21-8zM1749 2818l-23 7 0-24 22-7zM2244 2847l-21 7 0-24 22-7zM1835 2692l-22 7-1-24 22-7zM2138 2709l-21 7 0-25 22-7zM2215 2713l-21 7 0-24 21-7zM2027 3119l-21 9 0-25 22-8zM2049 3087l-21 8 0-24 21-8zM2202 2862l-22 7 1-24 21-8zM2223 2830l-21 7 1-24 21-8zM1962 3144l-23 9 0-25 22-8zM1972 3009l-22 8 0-24 22-8zM2103 2816l-21 7 0-25 22-7zM1961 3120l-22 8 0-24 22-8zM1950 3017l-22 8-1-24 23-8zM2104 2791l-22 7 0-25 22-7zM2204 2763l-22 7 0-25 22-7zM1961 2972l-23 8 0-25 23-8zM2073 2807l-22 8 0-26 22-7zM1961 2947l-23 8 0-25 23-8zM2051 2815l-23 7 0-25 23-8z"/><path class="c1" d="M1733 3087l15 10 0-24-16-10zM1702 3020l15 10-1-23-15-10zM1748 3097l16 10-1-23-15-11zM1701 2997l15 10-1-24-15-10zM1764 3107l15 10 0-23-16-10zM1748 3073l15 11 0-24-16-10zM1700 2973l15 10 0-23-15-10zM1779 3117l16 11-1-24-15-10zM1763 3084l16 10-1-24-15-10zM1715 2983l16 10-1-24-15-9zM1700 2950l15 10-1-24-15-10zM1810 3115l16 10-1-23-16-11zM1842 3159l16 11 0-24-16-10zM1826 3125l16 11-1-24-16-10zM1809 3091l16 11 0-24-16-11zM1745 2956l15 9 0-23-16-10zM1713 2888l15 10 0-24-16-10zM1697 2855l15 9 0-24-16-9zM1989 3212l17 11 0-24-17-11zM1858 3170l16 11 0-24-16-11zM1825 3102l16 10 0-24-16-10zM1809 3067l16 11 0-24-16-10zM1744 2932l16 10-1-25-15-9zM1728 2898l16 10-1-24-15-10zM1696 2831l16 9-1-24-15-9zM1744 2704l16 9-1-25-15-9zM1874 3181l16 11 0-24-16-11zM1825 3078l16 10 0-24-16-10zM1760 2942l16 9-1-24-16-10zM1744 2908l15 9 0-24-16-9zM1696 2807l15 9-1-24-15-10zM1890 3192l17 11-1-24-16-11zM1874 3157l16 11 0-24-16-11zM1841 3088l16 11 0-24-16-11zM1825 3054l16 10-1-24-16-10zM1759 2917l16 10 0-24-16-10zM1743 2884l16 9-1-24-15-10zM1711 2816l15 9 0-24-16-9zM1695 2782l15 10 0-25-16-9zM1906 3131l17 11-1-25-16-10zM1873 3061l16 11 0-25-17-10zM1806 2923l17 10-1-25-16-10zM1923 3142l16 11 0-25-17-11zM1922 3117l17 11 0-24-17-11zM1889 3047l16 11 0-25-16-10zM1889 3023l16 10 0-24-17-11zM1822 2884l16 10 0-25-17-10zM1805 2849l16 10 0-25-16-10zM1905 3033l17 11 0-25-17-10zM1983 3038l17 11 0-25-17-10zM1888 2998l17 11 0-25-17-10zM1821 2859l17 10-1-25-16-10zM1905 3009l17 10 0-25-17-10zM1838 2869l16 10 0-25-17-10zM1821 2834l16 10 0-25-17-10zM1870 2839l17 9-1-25-16-10z"/><path class="c0" d="M2255 3120l-20 8 0-23 21-8zM2297 3057l-20 8 0-23 21-8zM2235 3128l-21 8 0-23 21-8zM2298 3034l-21 8 1-24 21-8zM2214 3136l-21 8 0-23 21-8zM2299 3010l-21 8 1-24 20-7zM2193 3144l-21 8 0-23 21-8zM2299 2987l-20 7 0-24 21-7zM2151 3137l-21 8 0-24 22-8zM2109 3177l-22 8 0-24 22-8zM2130 3145l-21 8 0-24 21-8zM2281 2922l-21 8 0-24 21-8zM2302 2891l-21 7 1-24 21-8zM1951 3210l-22 8 0-24 22-8zM2087 3185l-21 9 0-24 21-9zM2303 2866l-21 8 1-25 20-7zM2273 2733l-20 7 0-24 21-7zM2066 3194l-22 8 0-24 22-8zM2303 2842l-20 7 0-24 21-8zM2044 3202l-22 8 0-24 22-8zM2304 2817l-21 8 1-25 21-7zM2000 3122l-22 9 0-25 22-8zM2177 2862l-22 8 1-25 21-8z"/><path class="c6" d="M2239 3086l-21 8 0-23 21-8zM1738 3022l-21 8-1-23 22-8zM1775 3025l-21 7-1-23 22-8zM2260 3055l-21 8 1-24 20-7zM2027 2656l-21 6 0-24 21-6zM2011 2623l-21 7 0-24 21-7zM1800 3086l-21 8-1-24 22-7zM2198 3079l-21 8 0-24 21-8zM1753 2985l-22 8-1-24 22-7zM2240 3016l-21 7 1-23 21-8zM1737 2952l-22 8-1-24 22-8zM1985 2645l-21 7 0-25 21-6zM2097 2651l-21 7 0-25 21-6zM1864 3128l-22 8-1-24 22-8zM1734 2857l-22 7 0-24 22-7zM1862 2670l-21 7-1-25 22-7zM2163 2686l-21 7 1-24 21-7zM2011 3180l-22 8 0-23 22-9zM1739 2768l-22 7-1-24 23-7zM2269 2798l-21 8 1-25 21-7zM1782 2706l-22 7-1-25 22-7zM2071 3127l-22 8 0-24 22-8zM2243 2871l-21 8 1-25 21-7zM1917 3093l-22 8 0-24 22-8zM1863 3056l-22 8-1-24 22-8zM2093 3071l-22 8 0-24 22-8zM1884 3024l-22 8 0-24 22-8zM2114 3039l-21 8 0-24 21-8zM1797 2920l-22 7 0-24 22-7zM2179 2943l-21 8 0-25 22-8zM1781 2886l-22 7-1-24 22-7zM1819 2888l-22 8-1-25 22-7zM2201 2911l-21 7 0-24 21-8zM1803 2854l-23 8 0-25 22-7zM1786 2820l-22 8 0-25 22-7zM1770 2787l-22 7-1-25 23-7zM1851 2726l-22 7 0-25 22-7zM2155 2743l-21 7 0-25 21-7zM1910 2696l-22 7 0-24 22-7zM1948 2699l-22 7 0-25 22-7zM2100 2707l-21 7 0-25 21-7zM2071 3055l-22 8 1-24 21-8zM2093 3023l-22 8 0-25 22-8zM2158 2926l-21 8 0-25 22-7zM2180 2894l-21 8 0-25 21-8zM2028 3095l-22 8 0-24 22-8zM1972 3058l-22 8 0-24 22-8zM2202 2837l-21 8 0-25 22-7zM2146 2801l-21 7 0-25 22-7zM1972 3034l-22 8 0-25 22-8zM2125 2808l-22 8 1-25 21-8zM1950 3042l-22 8 0-25 22-8zM2125 2783l-21 8 0-25 22-8zM1927 2976l-22 8-1-25 23-8zM1877 2871l-23 8 0-25 22-8zM2072 2883l-22 7 0-25 22-7zM1860 2836l-23 8 0-25 22-8zM1904 2771l-22 8-1-25 23-8zM1943 2774l-22 7-1-25 23-8zM2060 2780l-22 8 0-26 22-7z"/><path class="c8" d="M2222 3053l17 10-21 8-17-11zM1790 3011l16 10-22 8-16-10zM2202 3037l17 10-21 8-17-10zM1784 3052l16 11-22 7-15-10zM2181 3021l18 10-21 8-18-10zM1934 3175l17 11-22 8-17-11zM2235 2731l18 9-21 7-18-9zM1879 3115l17 10-22 8-17-10zM1749 2842l16 10-22 7-16-9zM2027 3167l17 11-22 8-16-10zM1797 2690l16 9-22 7-16-9zM1949 2856l16 10-21 7-17-10zM2006 3079l17 11-23 8-16-11zM1950 3042l17 10-23 8-16-10zM1989 3044l17 11-22 8-17-11zM2181 2820l18 10-22 7-17-10zM2164 2786l18 9-22 8-17-10zM2011 2888l17 10-22 8-17-10z"/><path class="c7" d="M2222 3053l17 10 1-24-17-10zM2202 3037l17 10 0-24-17-10zM2022 2671l16 9 0-24-16-9zM2261 2984l18 10 0-24-17-10zM2059 2649l17 9 0-25-17-8zM2181 3021l18 10 0-24-17-10zM1934 3175l17 11-1-24-16-11zM2235 2731l18 9 0-24-17-10zM1856 2685l16 9 0-24-16-9zM2159 2702l18 9 0-24-17-9zM1733 2784l15 10-1-25-15-9zM2266 2815l17 10 1-25-18-9zM1949 2856l16 10 0-25-16-10zM1967 3077l17 10 0-24-17-11zM2006 3079l17 11 0-25-17-10zM2142 2818l18 9 0-24-17-10zM2181 2820l18 10 0-25-17-10zM2125 2783l18 10 0-25-17-10zM1839 2734l16 9-1-25-16-9zM2147 2751l18 10 0-25-17-10zM2011 2888l17 10 0-25-17-10z"/><path class="c5" d="M2121 2629l17 9-21 6-16-8zM1727 2902l16 9-22 8-15-10zM2286 2935l17 10-20 8-18-10zM1916 2626l16 8-21 7-16-9zM2138 2638l17 8-21 7-17-9zM1769 3042l15 10-21 8-16-10zM2218 3071l18 10-21 8-17-10zM2006 2638l16 9-21 7-16-9zM2043 2640l16 9-21 7-16-9zM1721 2919l15 9-22 8-15-10zM2283 2953l17 10-21 7-17-10zM2239 2690l18 9-21 7-17-9zM2252 2765l18 9-21 7-18-9zM1766 2672l15 9-22 7-15-9zM2257 2699l17 10-21 7-17-10zM1896 3125l16 11-22 8-16-11zM2049 3135l17 11-22 8-17-11zM1765 2852l15 10-22 7-15-10zM2222 2879l18 10-21 7-18-10zM1733 2784l15 10-22 7-16-9zM2266 2815l17 10-21 7-17-9zM1754 2753l16 9-23 7-15-9zM2249 2781l17 10-21 7-17-10zM1835 2692l16 9-22 7-16-9zM1872 2694l16 9-21 7-16-9zM2138 2709l17 9-21 7-17-9zM2177 2711l17 9-21 8-18-10zM1746 2720l16 9-22 8-16-10zM1762 2729l16 10-22 7-16-9zM1778 2739l16 9-23 7-15-9zM2204 2763l17 9-21 8-18-10zM1994 2878l17 10-22 8-17-10zM1843 2802l16 9-22 8-17-10zM2117 2817l17 10-22 8-17-10zM1859 2786l17 10-23 7-17-9zM2095 2800l17 10-22 7-17-10zM1876 2796l16 10-22 7-17-10zM2073 2807l17 10-22 8-17-10zM1892 2806l17 9-23 8-16-10zM2051 2815l17 10-22 7-18-10z"/><path class="c2" d="M1995 2591l16 8-21 7-16-9zM2068 2595l17 8-21 7-16-9zM1974 2597l16 9-21 6-16-8zM2085 2603l16 8-21 7-16-8zM1953 2604l16 8-21 7-16-9zM1990 2606l16 8-21 7-16-9zM2064 2610l16 8-21 7-16-9zM2101 2611l17 9-21 7-17-9zM1932 2610l16 9-22 6-15-8zM1969 2612l16 9-21 6-16-8zM2080 2618l17 9-21 6-17-8zM2118 2620l16 9-21 6-16-8zM2076 2633l16 9-21 7-16-9zM2055 2640l16 9-21 7-16-9zM1846 2637l16 8-22 7-15-9zM1884 2639l16 8-22 7-16-9zM1959 2643l16 8-22 7-16-9zM2071 2649l17 9-21 6-17-8zM2147 2653l17 9-21 7-17-9zM2185 2655l17 9-21 7-17-9zM1723 2735l16 9-23 7-15-9zM2290 2767l18 9-21 7-17-9zM1825 2643l15 9-21 7-16-9zM1900 2647l16 9-22 7-16-9zM1937 2649l16 9-21 7-16-9zM2088 2658l17 8-21 7-17-9zM2126 2660l17 9-21 6-17-9zM2202 2664l17 9-21 7-17-9zM1803 2650l16 9-22 7-16-9zM1840 2652l16 9-22 7-15-9zM1878 2654l16 9-22 7-16-9zM1916 2656l16 9-22 7-16-9zM1953 2658l17 9-22 7-16-9zM2105 2666l17 9-22 7-16-9zM2143 2669l17 9-21 6-17-9zM2181 2671l17 9-21 7-17-9zM2219 2673l17 9-21 7-17-9zM1716 2751l16 9-22 7-16-9zM2287 2783l18 10-21 7-18-9zM1781 2657l16 9-22 7-16-9zM1819 2659l15 9-22 7-15-9zM1894 2663l16 9-22 7-16-9zM1932 2665l16 9-22 7-16-9zM2084 2673l16 9-21 7-17-9zM2122 2675l17 9-22 7-17-9zM2198 2680l17 9-21 7-17-9zM2236 2682l18 9-21 7-18-9zM1806 2691l16 9-22 7-16-9zM1882 2695l17 9-22 7-17-9zM1921 2697l16 9-22 7-16-9zM2074 2705l17 10-21 7-17-9zM2113 2708l17 9-21 7-18-9zM2190 2712l18 9-22 7-17-9zM1784 2698l16 9-23 7-15-9zM1822 2700l16 9-22 7-16-9zM1860 2702l17 9-23 7-16-9zM1899 2704l16 9-22 7-16-9zM1937 2706l17 9-22 7-17-9zM2053 2713l17 9-22 7-17-9zM2091 2715l18 9-22 7-17-9zM2130 2717l18 9-22 7-17-9zM2169 2719l17 9-21 8-17-10zM2208 2721l17 10-21 7-18-10zM1800 2707l16 9-22 7-17-9zM1877 2711l16 9-22 7-17-9zM1915 2713l17 9-22 8-17-10zM2070 2722l17 9-22 7-17-9zM2109 2724l17 9-22 8-17-10zM2186 2728l18 10-22 7-17-9zM1893 2720l17 10-23 7-16-10zM1932 2722l16 10-22 7-16-9zM2087 2731l17 10-22 7-17-10zM2138 2810l18 10-22 7-17-10zM1871 2727l16 10-22 7-17-9zM1910 2730l16 9-22 7-17-9zM2065 2738l17 10-22 7-17-9zM2104 2741l18 9-22 7-18-9zM1887 2737l17 9-23 8-16-10zM1926 2739l17 9-23 8-16-10zM2082 2748l18 9-22 8-18-10zM1920 2756l17 9-22 8-17-10zM1898 2763l17 10-23 7-17-9zM1915 2773l17 10-23 7-17-10z"/><path class="c0" d="M2235 3105l-21 8 1-24 21-8zM2277 3042l-20 7 0-23 21-8zM2280 2946l-21 8 1-24 21-8zM2253 2716l-21 7 1-25 21-7zM2066 3073l-21 9 0-25 22-8zM2088 3041l-21 8 0-24 22-8zM2176 2912l-21 7 0-24 21-8zM2198 2879l-22 8 1-25 21-7zM2023 3114l-23 8 0-24 23-8zM2045 3082l-22 8 0-25 22-8zM2067 3049l-22 8 0-24 22-8zM2089 3017l-22 8 0-25 22-8zM2155 2919l-22 8 0-25 22-7zM2176 2887l-21 8 0-25 22-8zM2198 2855l-21 7 0-25 22-7zM2220 2822l-21 8 0-25 22-8zM1944 3036l-22 8 0-25 22-8zM2156 2845l-22 7 0-25 22-7zM2121 2775l-22 8 1-26 22-7z"/><path class="c4" d="M1769 3042l15 10 0-23-16-10zM1753 3009l15 10 0-24-15-10zM2240 3039l17 10 0-23-17-10zM2155 3142l17 10 0-23-17-11zM1911 2641l16 9-1-25-15-8zM1989 3165l17 11 0-24-17-11zM1895 3077l16 11 0-24-16-11zM1764 2803l16 10-1-25-16-9zM1987 2858l17 10 0-25-17-9zM1746 2720l16 9 0-24-16-10zM1762 2729l16 10-1-25-15-9zM1983 3014l17 10 0-25-17-10zM1961 2997l17 10 0-25-17-10zM1876 2796l16 10 0-26-17-9z"/><path class="c3" d="M2218 3071l-20 8 0-24 21-8zM1753 3009l-22 8 0-24 22-8zM2240 3039l-21 8 0-24 21-7zM2006 2638l-21 7 0-24 21-7zM2134 2653l-21 7 0-25 21-6zM2198 3055l-21 8 1-24 21-8zM2219 3023l-20 8 0-24 21-7zM1972 3178l-21 8-1-24 22-8zM2252 2765l-21 7 1-25 21-7zM1966 2890l-22 8 0-25 21-7zM1987 2858l-22 8 0-25 22-7zM2225 2756l-21 7 0-25 21-7zM1944 3011l-22 8 0-25 22-8zM2099 2783l-21 7 0-25 22-8z"/><path class="c1" d="M1716 3007l15 10 0-24-16-10zM1794 3104l16 11-1-24-15-10zM1778 3070l16 11-1-24-15-10zM1730 2969l15 10 0-23-16-10zM1714 2936l15 10 0-24-15-10zM1794 3081l15 10 0-24-16-10zM1745 2979l16 10-1-24-15-9zM1729 2946l16 10-1-24-15-10zM1714 2912l15 10-1-24-15-10zM1729 2922l15 10 0-24-16-10zM1858 3146l16 11 0-24-17-10zM1841 3112l16 11 0-24-16-11zM1728 2874l15 10 0-25-16-9zM1712 2840l15 10-1-25-15-9zM2006 3199l16 11 0-24-16-10zM1759 2688l16 9 0-24-16-9zM1856 3026l16 11 0-25-16-10zM1790 2889l16 9 0-24-17-10zM1774 2854l15 10 0-25-16-9zM1741 2786l16 9-1-24-16-10zM1725 2752l15 9 0-24-16-10zM1906 3107l16 10 0-24-16-11zM1889 3072l17 10-1-24-16-11zM1872 3037l17 10 0-24-17-11zM1806 2898l16 10 0-24-16-10zM1789 2864l17 10-1-25-16-10zM1773 2830l16 9 0-24-16-10zM1757 2795l16 10-1-25-16-9zM1740 2761l16 10 0-25-16-9zM1872 3012l17 11-1-25-16-10zM1806 2874l16 10-1-25-16-10zM1789 2839l16 10 0-25-16-9zM1756 2771l16 9-1-25-15-9zM1922 2994l16 11 0-25-17-10zM1854 2854l16 10 0-25-17-10zM1870 2864l17 10 0-26-17-9zM1853 2829l17 10 0-26-17-10z"/><path class="c6" d="M1790 3011l-22 8 0-24 22-7zM2022 2671l-21 7 0-24 21-7zM1948 2643l-21 7-1-25 22-6zM1879 3115l-22 8 0-24 22-8zM1749 2842l-22 8-1-25 23-7zM1856 2685l-21 7-1-24 22-7zM2159 2702l-21 7 1-25 21-6zM2027 3167l-21 9 0-24 21-9zM1733 2784l-23 8 0-25 22-7zM2266 2815l-21 8 0-25 21-7zM1797 2690l-22 7 0-24 22-7zM2006 3152l-22 8 0-24 22-8zM2245 2798l-21 7 0-25 22-7zM1928 3074l-22 8-1-24 23-8zM1967 3077l-22 8-1-25 23-8zM1795 2798l-22 7-1-25 22-7zM2164 2786l-21 7 0-25 22-7zM1839 2734l-23 7 0-25 22-7zM2147 2751l-21 7 0-25 22-7z"/><path class="c9" d="M2176 3110l-21 8 1-23 21-8zM2261 2984l-20 8 0-24 21-8zM2092 3142l-22 9 1-24 21-8zM2264 2888l-21 8 0-25 21-7zM2006 3079l-22 8 0-24 22-8zM2181 2820l-21 7 0-24 22-8zM2006 2981l-23 8 0-25 23-8zM2094 2850l-22 8 1-25 22-8z"/><path class="c11" d="M2164 3011l17 10-21 8-16-10zM2144 2995l17 10-21 8-17-10zM1918 3164l16 11-22 8-16-10zM2123 2979l17 10-21 8-17-11zM2102 2962l17 10-21 8-17-10zM1823 2774l16 9-22 7-16-9zM2059 2929l17 10-21 8-17-10zM1801 2756l16 10-23 7-16-9zM2038 2912l17 10-22 8-17-10zM1915 2823l17 10-23 8-16-10z"/><path class="c10" d="M2164 3011l17 10 1-24-17-10zM2144 2995l17 10 0-24-17-10zM1918 3164l16 11 0-24-16-10zM2123 2979l17 10 0-24-17-10zM2102 2962l17 10 0-24-17-10zM2081 2946l17 10 0-25-17-10zM1823 2774l16 9 0-24-16-10zM2059 2929l17 10 1-24-17-10zM1801 2756l16 10-1-25-16-9zM2038 2912l17 10 0-24-17-10zM1915 2823l17 10 0-25-17-10z"/><path class="c7" d="M2097 2651l16 9 0-25-16-8zM2017 2687l17 8 0-24-17-9zM2161 3005l17 10 0-24-17-10zM2199 3007l17 11 1-24-18-11zM2140 2989l17 10 1-24-18-10zM2071 3127l17 11 0-24-17-11zM2243 2871l18 10 1-24-18-10zM1912 3160l17 10-1-23-16-11zM2097 3004l17 11 1-25-17-10zM2119 2972l17 11 1-25-18-10zM2215 2713l17 10 1-25-18-9zM2098 2956l17 10 0-24-17-11zM2076 2939l18 10 0-24-17-10zM1817 2766l16 9 0-25-17-9zM2055 2922l17 10 0-24-17-10zM1943 2848l17 10 0-25-17-9zM2033 2905l17 10 0-25-17-10zM1966 2904l17 10 0-25-17-11z"/><path class="c4" d="M1784 3029l15 10 0-24-16-10zM1768 2995l15 10 0-23-16-10zM1962 3168l16 11 0-24-16-11zM1982 2851l17 10 0-25-17-10zM1961 3096l17 10 0-24-17-11zM1984 3063l16 11 0-25-17-11zM2160 2803l18 9 0-25-18-10zM1794 2748l16 9 0-25-16-9zM2143 2768l17 9 1-25-18-9zM1909 2815l17 10 0-25-17-10z"/><path class="c8" d="M1805 2998l16 10-22 7-16-10zM1799 3015l16 11-22 7-16-10zM2178 3039l17 10-21 8-18-10zM2161 3005l17 10-21 8-17-10zM2140 2989l17 10-21 8-17-10zM2071 3127l17 11-22 8-17-11zM2243 2871l18 10-21 8-18-10zM1912 3160l17 10-23 9-16-11zM2119 2972l17 11-21 7-17-10zM2098 2956l17 10-22 8-17-10zM2076 2939l18 10-22 8-17-10zM1928 3074l17 11-23 8-16-11zM1795 2798l16 9-22 8-16-10zM1817 2766l16 9-22 7-17-9zM2055 2922l17 10-22 8-17-10zM1943 2848l17 10-22 8-17-10zM2033 2905l17 10-22 8-17-10z"/><path class="c6" d="M1805 2998l-22 7 0-23 22-8zM2017 2687l-21 6 0-24 21-7zM2178 3039l-22 8 1-24 21-8zM1783 2982l-22 7-1-24 22-7zM2199 3007l-21 8 0-24 21-8zM2157 3023l-21 8 0-24 21-8zM2178 2991l-21 8 1-24 21-8zM2093 2974l-21 8 0-25 22-8zM2115 2942l-21 7 0-24 22-8zM1833 2800l-22 7 0-25 22-7zM1855 2768l-22 7 0-25 22-7zM2072 2957l-22 8 0-25 22-8zM2094 2925l-22 7 0-24 22-8zM2028 2948l-22 8 0-25 22-8z"/><path class="c5" d="M2001 2654l16 8-21 7-16-9zM2038 2656l17 8-21 7-17-9zM2136 3007l17 10-21 8-18-10zM2246 2748l18 10-21 7-18-9zM2225 2756l18 9-22 7-17-9zM1944 3060l17 11-22 8-17-10zM1984 3063l16 11-22 8-17-11zM1811 2782l16 10-23 7-16-9zM2160 2803l18 9-22 8-18-10zM1794 2748l16 9-22 8-17-10zM2182 2770l18 10-22 7-18-10zM2050 2940l17 11-22 7-17-10zM1909 2815l17 10-23 8-17-10z"/><path class="c0" d="M2172 3129l-21 8 1-24 21-8zM2194 3097l-21 8 0-24 21-8zM2258 3002l-21 8 1-24 21-8zM2279 2970l-20 8 0-24 21-8zM2173 3105l-21 8 0-24 21-8zM2194 3073l-21 8 1-24 21-8zM2237 3010l-21 8 1-24 21-8zM2259 2978l-21 8 0-24 21-8zM2174 3057l-22 8 1-24 21-8zM2217 2994l-21 7 0-24 21-8zM2087 3161l-21 9 0-24 22-8zM2109 3129l-21 9 0-24 21-9zM2260 2906l-21 7 1-24 21-8zM2282 2874l-21 7 1-24 21-8zM1929 3194l-22 9-1-24 23-9zM2000 3171l-22 8 0-24 22-8zM2023 3138l-23 9 0-25 23-8zM2242 2815l-22 7 1-25 21-7zM2263 2783l-21 7 1-25 21-7zM2000 3147l-22 8 0-24 22-9zM2242 2790l-21 7 0-25 22-7zM2000 3098l-22 8 0-24 22-8zM2023 3065l-23 9 0-25 23-8zM2177 2837l-21 8 0-25 22-8zM2199 2805l-21 7 0-25 22-7zM2000 2999l-22 8 0-25 22-8zM2023 2966l-23 8 1-25 22-8zM2090 2868l-22 7 0-25 22-8zM2112 2835l-22 7 0-25 22-7zM2000 2974l-22 8 0-25 23-8zM2090 2842l-22 8 0-25 22-8z"/><path class="c2" d="M1926 2625l16 9-21 7-16-9zM1964 2627l16 9-21 7-17-9zM2113 2635l17 9-21 7-17-9zM1905 2632l16 9-21 6-16-8zM1942 2634l17 9-22 6-16-8zM1980 2636l16 9-21 6-16-8zM2092 2642l17 9-21 7-17-9zM2130 2644l17 9-21 7-17-9zM1921 2641l16 8-21 7-16-9zM2109 2651l17 9-21 6-17-8zM1768 2688l16 10-22 7-16-10zM2229 2714l18 9-22 8-17-10zM1816 2716l16 9-22 7-16-9zM1854 2718l17 9-23 8-16-10zM2126 2733l17 10-21 7-18-9zM2165 2736l17 9-21 7-18-9zM1827 2792l16 10-23 7-16-10zM2078 2765l17 9-22 8-17-10z"/><path class="c1" d="M1778 3047l15 10 0-24-16-10zM1793 3057l16 10 0-23-16-11zM1760 2965l16 10 0-24-16-9zM1923 3166l16 11 0-24-16-11zM1922 3093l17 11 0-25-17-10zM1905 3058l17 11 0-25-17-11zM1789 2815l16 9-1-25-16-9zM1772 2780l16 10 0-25-17-10zM1805 2824l16 10-1-25-16-10zM1849 2760l16 9 0-25-17-9zM1837 2819l16 10 0-26-17-9z"/><path class="c7" d="M1799 3015l16 11-1-24-15-10zM1783 2982l16 10-1-24-16-10zM2012 2702l17 9 0-24-17-9zM2034 2671l16 9 0-24-16-9zM2178 2991l18 10 0-24-17-10zM2094 2925l17 10 0-25-17-10zM1938 2841l17 10-1-25-16-10z"/><path class="c8" d="M1820 2984l16 10-22 8-15-10zM1996 2669l16 9-21 7-16-9zM2034 2671l16 9-21 7-17-9zM1814 3002l16 10-22 8-16-11zM2157 3023l17 10-21 8-17-10zM2072 2957l17 10-22 8-17-10zM1938 2841l17 10-23 7-17-10z"/><path class="c6" d="M1820 2984l-21 8-1-24 22-8zM2012 2702l-21 7 0-24 21-7zM1996 2669l-21 7 0-25 21-6zM1798 2968l-22 7 0-24 22-7z"/><path class="c1" d="M1793 3033l16 11-1-24-16-11zM1809 3044l16 10-1-24-16-10zM1776 2951l15 10 0-24-16-10z"/><path class="c7" d="M1814 3002l16 10 0-24-16-10zM1798 2968l16 10 0-24-16-10zM2007 2718l17 9 0-24-17-9zM2029 2687l16 9 0-25-16-9zM1932 2833l17 10 0-25-17-10z"/><path class="c8" d="M1836 2970l16 10-22 8-16-10zM1991 2685l16 9-21 7-16-9zM2029 2687l16 9-21 7-17-9zM1932 2833l17 10-23 8-17-10z"/><path class="c6" d="M1836 2970l-22 8 0-24 22-8zM2007 2718l-21 7 0-24 21-7zM1991 2685l-21 7 0-25 21-7zM1846 3022l-22 8 0-24 22-8zM2062 2705l-21 7 0-25 21-7z"/><path class="c2" d="M1975 2651l16 9-21 7-17-9zM2050 2656l17 8-22 7-16-9zM2067 2664l17 9-22 7-17-9zM1970 2667l16 9-22 7-16-9zM2045 2671l17 9-21 7-17-9zM1881 2754l17 9-23 8-16-10z"/><path class="c1" d="M1808 3020l16 10 0-24-16-10z"/><path class="c5" d="M1830 2988l16 10-22 8-16-10zM1986 2701l17 9-22 7-17-9zM2024 2703l17 9-22 7-16-9z"/><path class="c0" d="M2153 3041l-22 8 1-24 21-8zM2196 2977l-21 8 0-24 22-8zM2067 2975l-22 8 0-25 22-7zM2111 2910l-22 8 1-25 22-8z"/><path class="c4" d="M1830 2988l16 10 0-24-17-10zM1814 2954l15 10 0-24-16-10zM2158 2975l17 10 0-24-17-10zM2024 2703l17 9 0-25-17-9zM1833 2750l16 10-1-25-16-10zM2072 2908l17 10 1-25-18-10zM1994 2878l17 10 0-25-17-10zM1859 2786l17 10-1-25-16-10z"/><path class="c8" d="M1851 2956l17 10-22 8-17-10z"/><path class="c3" d="M2136 3007l-22 8 1-25 21-7zM1814 2954l-23 7 0-24 22-7zM2158 2975l-22 8 1-25 21-7zM1986 2701l-22 7 0-25 22-7zM2115 2990l-22 8 0-24 22-8zM2137 2958l-22 8 0-24 22-8zM1962 3168l-23 9 0-24 23-9zM2246 2748l-21 8 0-25 22-8zM1960 2883l-22 8 0-25 22-8zM1982 2851l-22 7 0-25 22-7zM1961 3096l-22 8 0-25 22-8zM1944 3060l-22 9 0-25 22-8zM1811 2782l-23 8 0-25 22-8zM1833 2750l-23 7 0-25 22-7zM2143 2768l-22 7 1-25 21-7zM2182 2770l-22 7 1-25 21-7zM2050 2940l-22 8 0-25 22-8zM2072 2908l-22 7 0-25 22-7zM2028 2923l-22 8 0-25 22-8zM2050 2890l-22 8 0-25 22-8zM1961 2997l-23 8 0-25 23-8zM2095 2800l-22 7 0-25 22-8z"/><path class="c6" d="M1851 2956l-22 8 0-24 22-8zM2003 2734l-22 7 0-24 22-7zM2006 2906l-23 8 0-25 23-8zM2028 2873l-22 8 0-26 22-7z"/><path class="c7" d="M2003 2734l16 10 0-25-16-9zM2115 2942l18 10 0-25-17-10z"/><path class="c4" d="M1846 2974l16 10-1-24-16-10zM1829 2940l16 10 0-25-16-10zM1977 2843l17 10 0-25-17-10zM2028 2873l17 10 1-25-18-10z"/><path class="c8" d="M1867 2942l17 10-23 8-16-10zM1861 2960l17 10-23 8-16-11zM2093 2974l18 10-22 8-17-10zM2011 2838l17 10-22 7-17-10z"/><path class="c6" d="M1867 2942l-22 8 0-25 22-7zM1997 2751l-21 7 0-25 21-7zM1845 2925l-22 8-1-25 22-7z"/><path class="c5" d="M1981 2717l16 9-21 7-17-9zM2019 2719l17 9-22 7-17-9zM2006 2906l17 10-22 8-18-10zM1989 2871l17 10-23 8-17-11z"/><path class="c7" d="M1997 2751l17 9 0-25-17-9zM1861 2960l17 10-1-25-16-10zM1845 2925l16 10 0-24-17-10zM2014 2735l17 10 0-25-17-10z"/><path class="c1" d="M1839 2992l17 10-1-24-16-11zM1856 3002l16 10 0-24-17-10zM1855 2978l17 10-1-25-16-10zM1822 2908l16 10 0-24-16-10zM1872 2988l16 10 0-24-17-11z"/><path class="c0" d="M2110 3009l-21 8 0-25 22-8zM2154 2944l-21 8 0-25 22-8zM2089 2992l-22 8 0-25 22-8zM2133 2927l-22 8 0-25 22-8zM2023 2941l-22 8 0-25 22-8zM2068 2875l-23 8 1-25 22-8zM2001 2924l-23 8 0-25 23-8zM2046 2858l-23 8 0-26 23-8z"/><path class="c8" d="M1883 2928l17 10-23 7-16-10zM1976 2733l16 9-22 8-16-10zM2014 2735l17 10-22 7-17-10zM1877 2945l17 10-23 8-16-10z"/><path class="c6" d="M1883 2928l-22 7 0-24 22-8zM1992 2767l-21 7-1-24 22-8zM1976 2733l-22 7 0-25 22-7zM1861 2911l-23 7 0-24 22-8z"/><path class="c7" d="M1992 2767l17 10 0-25-17-10zM1877 2945l17 10 0-24-17-10zM1861 2911l16 10 0-25-17-10zM2009 2752l17 9 0-25-17-9z"/><path class="c2" d="M1959 2699l17 9-22 7-17-9zM2036 2703l17 10-22 7-17-10zM1954 2715l16 10-22 7-16-10zM2031 2720l17 9-22 7-17-9zM2048 2729l17 9-22 8-17-10zM2026 2736l17 10-22 7-17-10zM2043 2746l17 9-22 7-17-9z"/><path class="c8" d="M1899 2913l17 10-22 8-17-10zM1970 2750l17 9-22 7-17-9zM2009 2752l17 9-22 8-17-10zM1910 2941l17 10-23 8-16-10z"/><path class="c6" d="M1899 2913l-22 8 0-25 22-8zM1987 2784l-22 7 0-25 22-7zM1970 2750l-22 7 0-25 22-7z"/><path class="c7" d="M1987 2784l17 10 0-25-17-10zM2021 2778l17 10 0-26-17-9z"/><path class="c1" d="M1871 2963l17 11 0-25-17-10zM1838 2894l16 10 0-25-16-10zM1888 2974l17 10-1-25-16-10zM1921 2970l17 10 0-25-17-11z"/><path class="c5" d="M1894 2931l16 10-22 8-17-10zM1965 2766l17 10-22 7-17-9zM2004 2769l17 9-22 8-17-10z"/><path class="c4" d="M1894 2931l16 10 0-25-17-10zM1877 2896l16 10 0-25-16-10zM2004 2769l17 9 0-25-17-10zM1989 2871l17 10 0-26-17-10z"/><path class="c8" d="M1916 2898l16 10-22 8-17-10z"/><path class="c3" d="M1877 2896l-23 8 0-25 23-8zM1965 2766l-22 8 0-26 22-7zM1955 2876l-23 7 0-25 23-7zM1977 2843l-22 8-1-25 23-8z"/><path class="c6" d="M1916 2898l-23 8 0-25 23-8zM1982 2801l-22 7 0-25 22-7z"/><path class="c7" d="M1982 2801l17 10 0-25-17-10z"/><path class="c2" d="M1948 2732l17 9-22 7-17-9zM2038 2762l18 10-23 8-17-10zM1937 2765l17 10-22 8-17-10zM2016 2770l17 10-22 7-17-10zM2056 2772l17 10-22 7-18-9zM2033 2780l18 9-23 8-17-10z"/><path class="c4" d="M1910 2916l17 10 0-25-17-10zM1893 2881l17 10 0-25-17-10z"/><path class="c8" d="M1932 2883l17 10-22 8-17-10z"/><path class="c6" d="M1932 2883l-22 8 0-25 22-8zM1977 2818l-23 8 0-26 23-7zM1966 2904l-22 7-1-25 23-8z"/><path class="c5" d="M1960 2783l17 10-23 7-17-9zM1999 2786l17 9-22 8-17-10zM1927 2901l17 10-23 8-17-10zM1949 2868l17 10-23 8-16-10z"/><path class="c7" d="M1977 2818l17 10 0-25-17-10zM1927 2901l17 10-1-25-16-10zM1910 2866l17 10-1-25-17-10z"/><path class="c1" d="M1904 2959l17 11 0-26-17-10zM1904 2934l17 10 0-25-17-10zM1921 2944l17 11 0-25-17-11zM1921 2919l17 11 0-26-17-10z"/><path class="c3" d="M1910 2866l-23 8 0-26 22-7zM1949 2868l-22 8-1-25 23-8zM1971 2836l-22 7 0-25 22-8zM1954 2800l-22 8 0-25 22-8zM1961 2922l-23 8 0-26 23-8z"/><path class="c8" d="M1954 2800l17 10-22 8-17-10zM1994 2803l17 10-23 7-17-10z"/><path class="c6" d="M2011 2838l-22 7-1-25 23-7z"/><path class="c4" d="M1971 2836l18 9-1-25-17-10zM1994 2803l17 10 0-26-17-10zM1961 2922l17 10 0-25-17-11z"/><path class="c2" d="M1943 2886l18 10-23 8-17-10zM1983 2889l18 10-23 8-17-11zM1932 2783l17 9-23 8-17-10zM2011 2787l17 10-22 7-18-9z"/><path class="c0" d="M1926 2851l-22 8-1-26 23-8zM1949 2818l-23 7 0-25 23-8z"/><path class="c1" d="M1887 2848l17 11-1-26-17-10zM2006 2855l17 11 0-26-17-10zM1988 2820l18 10 0-26-18-9z"/><path class="c5" d="M2028 2822l18 10-23 8-17-10z"/><path class="c3" d="M2028 2822l-22 8 0-26 22-7z"/></g><path class="dot" stroke-width="1.9" d="M205.6 291.7h.01M187.9 290.6h.01M197.9 275.9h.01M223.0 285.6h.01M205.5 311.4h.01M222.6 304.9h.01M175.0 282.8h.01M188.1 310.3h.01M175.4 302.0h.01M215.4 270.2h.01M184.7 268.5h.01M202.0 263.0h.01M195.9 304.0h.01M213.3 278.4h.01M182.8 276.6h.01M229.5 291.8h.01M170.9 288.3h.01M212.8 316.4h.01M183.4 314.5h.01M187.4 264.1h.01M216.5 265.7h.01"/>
<g class="v" transform="scale(.1)"><path class="c4" d="M1914 3655l18 11 0-26-18-10zM1914 3630l18 10 0-25-18-11zM1914 3604l18 11 0-26-18-11zM1973 3617l18 11 0-26-18-11zM1991 3628l18 11 0-26-18-11zM2046 3661l19 11 0-26-19-11zM1920 3403l18 10 0-26-18-10zM1861 3338l18 10 0-27-18-10zM1879 3348l18 10 0-27-18-10zM1915 3314l18 10 0-28-18-9zM2118 3700l20 11 0-26-19-12zM2105 3588l19 12 1-27-20-11zM1993 3363l19 10 0-27-18-10zM1915 3287l18 9 0-27-18-10zM2103 3472l20 10 1-27-20-11zM2123 3482l20 11 0-27-19-11zM2066 3367l19 11 1-29-20-10z"/><path class="c5" d="M1983 3554l17 11-22 8-18-11zM1960 3562l18 11-23 8-18-11zM1937 3570l18 11-23 8-18-11zM1973 3617l18 11-23 8-18-10zM1991 3628l18 11-23 8-18-11zM1757 3643l17 11-24 8-17-11zM2046 3661l19 11-23 9-19-12zM1691 3623l17 11-24 8-17-11zM1677 3662l18 11-25 9-17-11zM1755 3714l18 11-25 9-17-11zM2009 3730l19 12-24 9-19-12zM1653 3671l17 11-24 9-18-12zM2118 3700l20 11-24 9-19-11zM1908 3760l19 12-25 10-19-12zM1796 3764l19 12-25 9-19-12zM1927 3772l19 13-25 9-19-12z"/><path class="c3" d="M1983 3554l-23 8 0-26 23-8zM1960 3562l-23 8 0-26 23-8zM1937 3570l-23 8 0-26 23-8zM1920 3430l-23 7 0-26 23-8zM1757 3643l-24 8-1-26 24-8zM1920 3403l-23 8 0-27 23-7zM1984 3345l-23 7 0-26 24-8zM1727 3697l-24 9-1-26 24-9zM1961 3352l-23 8 0-27 23-7zM1677 3662l-24 9-1-27 25-8zM1683 3590l-24 8-1-27 25-8zM1849 3346l-23 8-1-27 24-8zM1915 3314l-24 7 0-27 24-7zM1653 3671l-25 8 0-26 24-9zM1683 3563l-25 8 0-26 24-9zM1826 3354l-24 7-1-27 24-7zM1915 3287l-24 7 0-27 24-8zM1682 3509l-25 9 0-27 24-9zM1778 3369l-25 8 0-27 24-8zM1681 3482l-24 9-1-28 25-8zM1673 3447l-25 8 0-28 25-8zM1648 3455l-25 8-1-28 26-8zM1721 3348l-25 8 0-28 25-8z"/><path class="c1" d="M1932 3666l18 11 0-26-18-11zM1787 3667l17 11 0-26-17-11zM1950 3677l18 11 0-26-18-11zM1769 3630l18 11-1-26-17-10zM1932 3640l18 11 0-25-18-11zM1804 3678l18 11-1-26-17-11zM1968 3688l18 11 0-26-18-11zM1950 3651l18 11 0-26-18-10zM1769 3605l17 10 0-25-17-11zM1968 3662l18 11 0-26-18-11zM1786 3615l18 11 0-26-18-10zM1861 3417l18 10 0-26-18-10zM2022 3721l19 12 0-26-18-11zM1879 3427l18 10 0-26-18-10zM1861 3391l18 10 0-27-18-9zM2041 3733l19 11 0-26-19-11zM2023 3696l18 11 1-26-19-12zM1879 3401l18 10 0-27-18-10zM1861 3365l18 9 0-26-18-10zM2041 3707l19 11 0-26-18-11zM1879 3374l18 10 0-26-18-10zM1579 3724l17 11 0-26-17-11zM1596 3735l17 12 0-26-17-12zM1579 3698l17 11-1-26-17-11zM1613 3747l17 11 0-26-17-11zM1596 3709l17 12-1-27-17-11zM1578 3672l17 11-1-26-17-11zM1630 3758l18 12-1-26-17-12zM1613 3721l17 11-1-26-17-12zM1595 3683l17 11-1-26-17-11zM1577 3646l17 11-1-27-17-11zM1648 3770l17 12-1-27-17-11zM1630 3732l17 12-1-27-17-11zM1612 3694l17 12-1-27-17-11zM1594 3657l17 11-1-26-17-12zM1576 3619l17 11 0-26-17-11zM1665 3782l18 11-1-26-18-12zM2004 3804l19 12 0-27-19-12zM1647 3744l17 11 0-26-18-12zM1629 3706l17 11 0-26-18-12zM1611 3668l17 11 0-26-18-11zM1593 3630l17 12 0-27-17-11zM1576 3593l17 11-1-27-17-11zM1784 3351l18 10-1-27-17-10zM1683 3793l17 12 0-26-18-12zM2023 3816l19 12 0-27-19-12zM1664 3755l18 12-1-27-17-11zM2004 3777l19 12 0-27-19-11zM1646 3717l18 12-1-27-17-11zM1610 3642l18 11-1-27-17-11zM1593 3604l17 11-1-27-17-11zM1575 3566l17 11-1-27-17-11zM1784 3324l17 10 0-27-18-10zM1765 3287l18 10 0-27-18-10zM1933 3296l19 10 0-27-19-10zM1682 3767l18 12-1-27-18-12zM2023 3789l19 12 1-27-20-12zM1664 3729l17 11 0-26-18-12zM2004 3751l19 11 1-26-20-12zM1610 3615l17 11-1-27-17-11zM1592 3577l17 11-1-27-17-11zM2101 3608l19 11 1-27-20-11zM1801 3334l18 10 0-27-18-10zM1783 3297l18 10 0-28-18-9zM1952 3306l18 10 0-27-18-10zM1681 3740l18 12 0-26-18-12zM2023 3762l20 12 0-26-19-12zM1609 3588l17 11 0-27-18-11zM2120 3619l20 12 0-27-19-12zM1573 3513l17 10 0-27-18-10zM1801 3307l18 10 0-28-18-10zM1970 3316l19 10 0-27-19-10zM1736 3829l18 13 0-27-18-12zM1572 3486l18 10-1-27-17-10zM1754 3842l18 12 0-27-18-12zM1736 3803l18 12-1-27-18-12zM1590 3496l17 11-1-27-17-11zM2102 3527l20 11 0-28-19-11zM1572 3459l17 10-1-27-17-11zM1772 3854l19 12-1-27-18-12zM1754 3815l18 12 0-27-19-12zM1735 3776l18 12 0-27-18-12zM1607 3507l17 11 0-27-18-11zM2122 3538l19 11 1-28-20-11zM1589 3469l17 11-1-28-17-10zM2103 3499l19 11 1-28-20-10zM1571 3431l17 11-1-28-17-10zM2046 3384l19 11 1-28-20-10zM1791 3866l18 13 0-27-19-13zM1772 3827l18 12 0-27-18-12zM1753 3788l19 12-1-27-18-12zM1606 3480l18 11-1-28-18-11zM2122 3510l20 11 1-28-20-11zM1588 3442l17 10 0-27-18-11zM1570 3404l17 10-1-27-17-11zM2046 3357l20 10 0-28-19-10zM1809 3879l19 12 0-27-19-12zM1790 3839l19 13 0-27-19-13zM1772 3800l18 12 0-27-19-12zM1605 3452l18 11-1-28-17-10zM1587 3414l18 11-1-28-18-10zM1569 3376l17 11 0-28-18-10zM1828 3891l19 13 0-27-19-13zM1809 3852l19 12-1-27-18-12zM1790 3812l19 13-1-27-18-13zM1605 3425l17 10 0-27-18-11zM1586 3387l18 10-1-28-17-10zM1568 3349l18 10-1-28-18-10zM1828 3864l19 13-1-27-19-13zM1809 3825l18 12 0-27-19-12zM1622 3435l18 11-1-28-17-10zM1604 3397l18 11-1-28-18-11zM1586 3359l17 10 0-28-18-10zM1827 3837l19 13 0-28-19-12zM1808 3798l19 12 0-27-19-13zM1622 3408l17 10 0-28-18-10zM1603 3369l18 11-1-28-17-11zM1827 3810l19 12 0-27-19-12zM1789 3731l19 12 0-28-19-12zM2007 3477l20 11 0-28-20-11zM1639 3418l18 11 0-28-18-11zM1621 3380l18 10-1-28-18-10zM1827 3783l19 12 0-28-19-12zM1808 3743l19 12 0-28-19-12zM1676 3468l18 11 0-28-19-11zM2027 3488l20 11 0-28-20-11zM1657 3429l18 11 0-28-18-11zM2007 3449l20 11 0-28-19-11zM1639 3390l18 11-1-28-18-11zM1988 3410l20 11 0-29-20-10zM1827 3755l19 12 0-27-19-13zM1808 3715l19 12 0-28-19-12zM1675 3440l19 11-1-29-18-10zM2027 3460l20 11 0-28-20-11zM1657 3401l18 11-1-29-18-10zM2008 3421l19 11 1-29-20-11zM1827 3727l19 13 0-28-19-13zM1675 3412l18 10 0-28-19-11zM2027 3432l20 11 1-29-20-11zM1731 3501l19 11-1-28-18-11zM1807 3631l19 12 0-28-19-12zM1750 3512l18 11 0-28-19-11zM1731 3473l18 11 0-29-19-11zM1826 3643l20 12-1-28-19-12zM1788 3563l19 12 0-29-20-11zM1768 3523l19 12 0-29-19-11zM1749 3484l19 11 0-29-19-11zM1730 3444l19 11 0-28-19-11zM1826 3615l19 12 0-29-19-11zM1807 3575l19 12 0-29-19-12zM1787 3535l20 11-1-28-19-12zM1768 3495l19 11 0-28-19-12zM1749 3455l19 11 0-28-19-11zM1826 3587l19 11 0-28-19-12zM1807 3546l19 12 0-29-20-11zM1787 3506l19 12 0-29-19-11zM1768 3466l19 12 0-29-19-11zM1826 3558l19 12 0-29-19-12zM1806 3518l20 11-1-29-19-11zM1787 3478l19 11 0-29-19-11zM1826 3529l19 12 0-29-20-12zM1806 3489l19 11 0-29-19-11zM1825 3500l20 12 0-29-20-12z"/><path class="c2" d="M2000 3565l19 10-23 8-18-10zM1978 3573l18 10-23 8-18-10zM2019 3575l18 11-23 8-18-11zM1792 3571l17 10-23 9-17-11zM1996 3583l18 11-23 8-18-11zM2037 3586l18 10-23 9-18-11zM2014 3594l18 11-23 8-18-11zM1745 3587l18 11-24 8-17-11zM1722 3595l17 11-24 8-17-10zM1763 3598l17 11-24 8-17-11zM2092 3618l19 11-23 8-19-11zM1698 3604l17 10-24 9-17-11zM1739 3606l17 11-24 8-17-11zM2069 3626l19 11-23 9-19-11zM2111 3629l19 11-23 8-19-11zM1715 3614l17 11-24 9-17-11zM2088 3637l19 11-23 9-19-11zM1931 3209l18 9-24 8-18-10zM1907 3216l18 10-23 7-18-10zM1949 3218l18 10-23 7-19-9zM1884 3223l18 10-23 7-18-9zM1925 3226l19 9-24 7-18-9zM1967 3228l18 9-23 7-18-9zM1861 3231l18 9-24 7-18-9zM1902 3233l18 9-23 8-18-10zM1944 3235l18 9-24 8-18-10zM1985 3237l19 10-24 7-18-10zM1837 3238l18 9-24 8-18-10zM1879 3240l18 10-24 7-18-10zM1920 3242l18 10-23 7-18-9zM1962 3244l18 10-23 7-19-9zM2004 3247l18 9-23 8-19-10zM1623 3523l17 11-24 8-17-11zM1665 3526l17 10-24 9-18-11zM2128 3553l20 11-23 9-20-11zM2171 3556l20 11-24 8-19-11zM1813 3245l18 10-24 7-18-9zM1855 3247l18 10-24 7-18-9zM1897 3250l18 9-24 8-18-10zM1938 3252l19 9-24 8-18-10zM1980 3254l19 10-24 7-18-10zM2022 3256l19 10-23 7-19-9zM1670 3682l18 11-25 9-17-11zM1599 3531l17 11-25 8-17-11zM1640 3534l18 11-25 8-17-11zM2148 3564l19 11-23 9-19-11zM2191 3567l19 11-23 8-20-11zM1789 3253l18 9-24 8-18-10zM1831 3255l18 9-24 8-18-10zM1873 3257l18 10-24 7-18-10zM1957 3261l18 10-23 8-19-10zM1999 3264l19 9-24 8-19-10zM2041 3266l19 10-23 7-19-10zM1616 3542l17 11-25 8-17-11zM1658 3545l17 10-24 9-18-11zM2125 3573l19 11-23 8-20-11zM2167 3575l20 11-23 9-20-11zM1807 3262l18 10-24 7-18-9zM1849 3264l18 10-24 8-18-10zM1975 3271l19 10-24 8-18-10zM2018 3273l19 10-24 8-19-10zM2047 3727l20 11-24 10-19-12zM1633 3553l18 11-25 8-18-11zM2144 3584l20 11-24 9-19-12zM1741 3267l18 10-25 8-17-10zM1825 3272l18 10-24 7-18-10zM1994 3281l19 10-24 8-19-10zM1980 3733l20 12-25 9-19-12zM1717 3275l17 10-24 7-18-10zM1759 3277l18 10-25 8-18-10zM2098 3296l20 10-24 7-19-10zM1784 3731l19 12-25 9-18-12zM1956 3742l19 12-24 9-19-12zM2000 3745l19 12-24 9-20-12zM1692 3282l18 10-25 8-17-10zM1734 3285l18 10-24 7-18-10zM1777 3287l18 10-25 8-18-10zM2075 3303l19 10-23 8-20-10zM2118 3306l19 10-23 7-20-10zM1760 3740l18 12-25 9-18-12zM1803 3743l18 12-25 9-18-12zM1932 3751l19 12-24 9-19-12zM1975 3754l20 12-25 9-19-12zM1668 3290l17 10-25 8-17-10zM1710 3292l18 10-25 8-18-10zM1752 3295l18 10-24 7-18-10zM2051 3311l20 10-24 8-20-10zM2094 3313l20 10-24 8-19-10zM2137 3316l20 10-24 8-19-11zM1778 3752l18 12-25 9-18-12zM1951 3763l19 12-24 10-19-13zM1643 3298l17 10-25 7-17-10zM1685 3300l18 10-25 8-18-10zM1728 3302l18 10-25 8-18-10zM2071 3321l19 10-24 8-19-10zM2114 3323l19 11-23 7-20-10zM2157 3326l20 10-24 8-20-10zM1618 3305l17 10-25 8-17-10zM1660 3308l18 10-25 8-18-11zM1703 3310l18 10-25 8-18-10zM2090 3331l20 10-24 8-20-10zM2133 3334l20 10-24 8-19-11zM2177 3336l20 10-24 8-20-10zM1593 3313l17 10-25 8-18-10zM1635 3315l18 11-25 7-18-10zM1678 3318l18 10-25 8-18-10zM2110 3341l19 11-24 8-19-11zM2153 3344l20 10-24 8-20-10zM2197 3346l20 11-24 8-20-11zM1610 3323l18 10-25 8-18-10zM1653 3326l18 10-25 8-18-11zM1696 3328l18 10-25 8-18-10zM2086 3349l19 11-24 8-19-11zM2129 3352l20 10-24 8-20-10zM2173 3354l20 11-24 8-20-11zM1628 3333l18 11-26 8-17-11zM1671 3336l18 10-25 8-18-10zM2105 3360l20 10-24 9-20-11zM2149 3362l20 11-24 8-20-11zM1839 3657l19 12-25 9-19-12zM1883 3660l19 12-25 9-19-12zM1646 3344l18 10-26 8-18-10zM1689 3346l18 10-25 8-18-10zM2081 3368l20 11-24 8-20-11zM2125 3370l20 11-24 8-20-10zM1858 3669l19 12-25 9-19-12zM1902 3672l19 12-25 9-19-12zM1664 3354l18 10-26 9-18-11zM2013 3374l20 10-25 8-20-10zM2101 3379l20 10-24 8-20-10zM1833 3678l19 12-25 9-19-12zM1877 3681l19 12-25 9-19-12zM1682 3364l18 11-26 8-18-10zM2033 3384l19 11-24 8-20-11zM2077 3387l20 10-25 9-20-11zM1852 3690l19 12-25 10-19-13zM1700 3375l18 11-25 8-19-11zM2052 3395l20 11-24 8-20-11zM1806 3391l19 10-25 9-19-11zM1781 3399l19 11-26 8-19-11zM1825 3401l19 11-25 9-19-11zM1914 3406l19 11-25 9-19-11zM1755 3407l19 11-25 9-19-11zM1800 3410l19 11-26 8-19-11zM1844 3412l20 11-26 9-19-11zM1889 3415l19 11-25 8-19-11zM1933 3417l20 11-25 9-20-11zM1774 3418l19 11-25 9-19-11zM1819 3421l19 11-26 8-19-11zM1864 3423l19 11-26 9-19-11zM1908 3426l20 11-26 8-19-11zM1953 3428l20 11-25 9-20-11zM1793 3429l19 11-25 9-19-11zM1838 3432l19 11-25 8-20-11zM1883 3434l19 11-25 9-20-11zM1928 3437l20 11-26 9-20-12zM1812 3440l20 11-26 9-19-11zM1857 3443l20 11-26 9-19-12zM1902 3445l20 12-25 8-20-11zM1832 3451l19 12-26 8-19-11zM1877 3454l20 11-26 9-20-11zM1851 3463l20 11-26 9-20-12z"/><path class="c0" d="M1983 3528l-23 8 0-26 23-7zM1960 3536l-23 8 0-26 23-8zM2009 3691l-23 8 0-26 23-8zM2032 3656l-23 9 0-26 23-8zM2055 3622l-23 9 0-26 23-9zM2009 3665l-23 8 0-26 23-8zM2032 3631l-23 8 0-26 23-8zM1798 3697l-23 9-1-26 24-9zM1984 3424l-23 8 0-26 23-8zM1775 3706l-24 8 0-25 23-9zM1798 3671l-24 9 0-26 24-8zM1984 3398l-23 8 0-27 23-8zM1751 3714l-24 9 0-26 24-8zM1774 3680l-23 9-1-27 24-8zM1961 3406l-23 7 0-26 23-8zM1984 3371l-23 8 0-27 23-7zM1751 3689l-24 8-1-26 24-9zM1961 3379l-23 8 0-27 23-8zM2205 3764l-23 9 1-26 23-9zM2182 3773l-23 9 1-26 23-9zM2206 3738l-23 9 0-27 23-9zM2159 3782l-23 9 0-26 24-9zM2183 3747l-23 9 0-27 23-9zM2206 3711l-23 9 1-26 23-9zM2136 3791l-24 9 1-26 23-9zM2160 3756l-24 9 1-27 23-9zM2183 3720l-23 9 1-26 23-9zM2207 3685l-23 9 1-27 23-9zM2112 3800l-23 9 1-26 23-9zM2136 3765l-23 9 1-27 23-9zM2160 3729l-23 9 1-27 23-8zM2184 3694l-23 9 1-27 23-9zM2208 3658l-23 9 1-27 23-8zM2089 3809l-24 9 1-26 24-9zM2113 3774l-23 9 0-27 24-9zM2137 3738l-23 9 0-27 24-9zM2161 3703l-23 8 0-26 24-9zM2185 3667l-23 9 0-27 24-9zM2209 3632l-23 8 0-27 24-8zM2036 3365l-24 8 0-27 24-8zM1725 3796l-25 9 0-26 24-9zM2065 3818l-23 10 0-27 24-9zM2090 3783l-24 9 0-27 24-9zM2114 3747l-24 9 1-27 23-9zM1652 3644l-24 9-1-27 25-9zM2162 3676l-24 9 1-27 23-9zM2186 3640l-24 9 1-27 23-9zM2210 3605l-24 8 1-27 23-8zM1891 3294l-24 8 0-28 24-7zM2060 3303l-24 8 1-28 23-7zM1724 3770l-24 9-1-27 25-9zM2066 3792l-24 9 1-27 23-9zM2090 3756l-24 9 1-27 24-9zM1652 3617l-25 9-1-27 25-8zM2162 3649l-23 9 1-27 23-9zM1676 3582l-25 9 0-27 24-9zM2186 3613l-23 9 1-27 23-9zM1843 3337l-24 7 0-27 24-8zM1867 3302l-24 7 0-27 24-8zM2036 3311l-23 7 0-27 24-8zM2018 3837l-24 9 0-26 24-10zM2066 3765l-23 9 0-26 24-10zM1651 3591l-25 8 0-27 25-8zM2163 3622l-23 9 0-27 24-9zM2211 3551l-23 8 1-27 23-9zM1843 3309l-24 8 0-28 24-7zM2013 3318l-24 8 0-27 24-8zM1994 3846l-24 10 0-27 24-9zM2018 3810l-24 10 0-27 25-9zM1675 3528l-25 9-1-27 25-9zM2188 3559l-24 9 1-28 24-8zM2212 3523l-23 9 0-28 24-8zM1795 3352l-24 8 0-28 24-7zM1970 3856l-25 9 1-26 24-10zM1994 3820l-24 9 0-27 24-9zM2019 3784l-25 9 1-27 24-9zM1650 3537l-25 8-1-27 25-8zM2164 3568l-23 8 0-27 24-9zM1674 3501l-25 9 0-28 25-8zM2189 3532l-24 8 1-27 23-9zM2213 3496l-24 8 1-27 24-9zM1771 3360l-25 8 0-28 25-8zM1795 3325l-24 7-1-27 25-8zM1945 3865l-24 10 0-27 25-9zM1970 3829l-24 10 0-27 24-10zM1994 3793l-24 9 0-27 25-9zM1649 3510l-25 8 0-27 25-9zM2165 3540l-24 9 1-28 24-8zM1674 3474l-25 8-1-27 25-8zM2189 3504l-23 9 1-28 23-8zM2214 3468l-24 9 1-28 24-8zM1746 3368l-24 8-1-28 25-8zM1771 3332l-25 8 0-28 24-7zM1921 3875l-25 10 0-27 25-10zM1946 3839l-25 9 0-27 25-9zM1970 3802l-24 10 0-27 24-10zM1649 3482l-25 9-1-28 25-8zM2166 3513l-24 8 1-28 24-8zM2190 3477l-23 8 0-28 24-8zM2215 3441l-24 8 1-28 23-8zM1746 3340l-25 8 0-28 25-8zM1896 3885l-24 9-1-27 25-9zM1921 3848l-25 10 0-27 25-10zM1946 3812l-25 9 0-27 25-9zM2167 3485l-24 8 0-27 24-9zM2191 3449l-24 8 1-28 24-8zM2215 3413l-23 8 1-28 23-8zM1872 3894l-25 10 0-27 24-10zM1896 3858l-25 9 0-27 25-9zM1921 3821l-25 10 0-28 25-9zM2167 3457l-24 9 1-29 24-8zM2192 3421l-24 8 1-28 24-8zM2216 3385l-23 8 0-28 24-8zM1871 3867l-24 10-1-27 25-10zM1896 3831l-25 9 0-27 25-10zM1921 3794l-25 9 0-27 25-9zM2143 3466l-24 8 1-28 24-9zM2168 3429l-24 8 1-28 24-8zM2193 3393l-24 8 0-28 24-8zM1871 3840l-25 10 0-28 25-9zM1896 3803l-25 10 0-28 25-9zM1921 3767l-25 9 0-28 25-9zM2119 3474l-24 8 1-28 24-8zM2144 3437l-24 9 1-28 24-9zM2169 3401l-24 8 0-28 24-8zM1871 3813l-25 9 0-27 25-10zM1896 3776l-25 9 0-27 25-10zM1921 3739l-25 9 0-27 25-9zM2095 3482l-24 9 0-28 25-9zM2120 3446l-24 8 0-28 25-8zM2145 3409l-24 9 0-29 24-8zM1871 3785l-25 10 0-28 25-9zM1896 3748l-25 10 0-28 25-9zM1921 3712l-25 9 0-28 25-9zM1720 3470l-26 9 0-28 25-9zM2071 3491l-24 8 0-28 24-8zM2096 3454l-25 9 1-29 24-8zM1769 3398l-25 8 0-28 25-9zM2121 3418l-25 8 1-29 24-8zM1871 3758l-25 9 0-27 25-10zM1896 3721l-25 9 0-28 25-9zM1719 3442l-25 9-1-29 26-8zM2071 3463l-24 8 0-28 25-9zM1744 3406l-25 8-1-28 26-8zM2096 3426l-24 8 0-28 25-9zM1871 3730l-25 10 0-28 25-10zM1922 3656l-26 9 0-28 26-9zM2022 3508l-25 9 0-29 25-8zM1719 3414l-26 8 0-28 25-8zM2072 3434l-25 9 1-29 24-8zM1896 3665l-25 9 0-28 25-9zM1922 3628l-26 9 0-28 26-9zM2022 3480l-25 8 1-28 25-9zM1871 3674l-25 10 0-29 25-9zM1896 3637l-25 9 0-28 25-9zM1922 3600l-26 9 0-29 26-9zM1997 3488l-25 9 1-29 25-8zM2023 3451l-25 9 0-29 25-9zM1871 3646l-25 9-1-28 26-9zM1896 3609l-25 9 0-29 25-9zM1972 3497l-25 9 0-29 26-9zM1998 3460l-25 8 0-29 25-8zM1871 3618l-26 9 0-29 26-9zM1896 3580l-25 9 0-28 26-9zM1973 3468l-26 9 1-29 25-9zM1871 3589l-26 9 0-28 26-9zM1897 3552l-26 9 0-29 26-9zM1947 3477l-25 9 0-29 26-9zM1871 3561l-26 9 0-29 26-9zM1897 3523l-26 9 0-29 26-9zM1922 3486l-25 8 0-29 25-8zM1871 3532l-26 9 0-29 26-9zM1897 3494l-26 9 0-29 26-9zM1871 3503l-26 9 0-29 26-9z"/><path class="c8" d="M1955 3607l18 10-23 9-18-11zM1919 3534l18 10-23 8-18-10zM1733 3651l17 11-24 9-17-11zM2065 3672l19 11-24 9-18-11zM1684 3616l17 11-24 9-17-12zM2104 3642l19 11-24 9-19-12z"/><path class="c6" d="M1955 3607l-23 8 0-26 23-8zM1733 3651l-24 9-1-26 24-9zM1920 3377l-23 7 0-26 23-8zM1684 3616l-24 8-1-26 24-8zM1873 3338l-24 8 0-27 24-8z"/><path class="c7" d="M1955 3607l18 10 0-26-18-10zM1919 3534l18 10 0-26-18-10zM2065 3672l19 11 0-26-19-11zM1920 3377l18 10 0-27-18-10zM1873 3338l18 10 0-27-18-10zM1956 3343l19 10 0-27-18-10z"/><path class="c1" d="M2004 3710l18 11 1-25-19-12zM2004 3684l19 12 0-27-19-11zM2099 3662l20 11 0-27-19-11zM2119 3673l19 12 1-27-20-12zM2100 3635l19 11 1-27-19-11zM2119 3646l20 12 1-27-20-12zM1718 3817l18 12 0-26-18-12zM1718 3791l18 12-1-27-18-12zM1590 3523l18 11-1-27-17-11zM2102 3554l19 11 1-27-20-11zM1608 3534l17 11-1-27-17-11zM2121 3565l20 11 0-27-19-11zM2027 3374l19 10 0-27-19-11zM2027 3346l19 11 1-28-20-10zM1790 3785l18 13 0-28-18-12zM1790 3758l18 12 0-27-19-12zM1640 3446l18 11-1-28-18-11zM1808 3770l19 13 0-28-19-12zM1658 3457l18 11-1-28-18-11zM1789 3703l19 12 0-28-19-11zM1713 3490l18 11 0-28-19-11zM1807 3660l19 11 0-28-19-12zM1788 3620l19 11 0-28-19-11zM1712 3462l19 11-1-29-18-11zM1826 3671l20 13 0-29-20-12zM1788 3592l19 11 0-28-19-12zM1712 3433l18 11 0-28-19-11zM1807 3603l19 12 0-28-19-12z"/><path class="c2" d="M2074 3607l18 11-23 8-18-11zM2051 3615l18 11-23 9-18-11zM2028 3715l19 12-23 9-20-12zM2079 3286l19 10-23 7-19-10zM2056 3293l19 10-24 8-19-10zM2032 3301l19 10-24 8-19-10zM1714 3338l18 10-25 8-18-10zM2062 3357l19 11-24 8-20-11zM1732 3348l18 11-25 8-18-11zM1814 3666l19 12-25 9-19-11zM1707 3356l18 11-25 8-18-11zM1750 3359l19 10-25 9-19-11zM2057 3376l20 11-25 8-19-11zM1725 3367l19 11-26 8-18-11zM1788 3380l18 11-25 8-19-11zM1964 3390l19 11-25 8-19-11zM1762 3388l19 11-26 8-18-11zM1939 3398l19 11-25 8-19-11zM1983 3401l20 11-25 8-20-11zM1737 3396l18 11-25 9-19-11zM1958 3409l20 11-25 8-20-11zM2003 3412l20 10-25 9-20-11zM1978 3420l20 11-25 8-20-11z"/><path class="c5" d="M1780 3635l18 11-24 8-17-11zM2028 3650l18 11-23 8-19-11zM1708 3634l18 11-24 8-18-11zM2084 3657l19 11-23 9-19-11zM1737 3702l18 12-24 9-18-12z"/><path class="c3" d="M1780 3635l-23 8-1-26 24-8zM1726 3671l-24 9 0-27 24-8zM1938 3360l-23 8 0-27 23-8zM1702 3653l-25 9 0-26 24-9z"/><path class="c4" d="M2028 3650l18 11 0-26-18-11zM2060 3692l19 11 1-26-19-11zM1897 3358l18 10 0-27-18-10zM2080 3677l19 11 0-26-19-12zM1915 3341l18 10 0-27-18-10zM2099 3688l19 12 1-27-20-11zM1975 3353l18 10 1-27-19-10z"/><path class="c6" d="M1720 3691l-25 9 0-27 24-8zM1956 3343l-23 8 0-27 24-8z"/><path class="c5" d="M1702 3653l17 12-24 8-18-11zM2080 3677l19 11-23 9-20-11zM2099 3688l19 12-23 9-19-12z"/><path class="c7" d="M2056 3712l19 12 1-27-20-11z"/><path class="c3" d="M1915 3341l-24 7 0-27 24-7z"/><path class="c2" d="M1695 3673l17 12-24 8-18-11zM2076 3697l19 12-24 9-19-12zM1712 3685l18 11-24 9-18-12zM2052 3706l19 12-24 9-19-12zM2095 3709l19 11-23 9-20-11zM1688 3693l18 12-25 9-18-12zM1730 3696l18 12-25 9-17-12zM2071 3718l20 11-24 9-20-11zM1706 3705l17 12-24 9-18-12z"/><path class="c0" d="M1677 3636l-25 8 0-27 24-8zM1891 3321l-24 8 0-27 24-8zM1676 3609l-24 8-1-26 25-9zM1867 3329l-24 8 0-28 24-7zM1748 3734l-24 9-1-26 25-9zM2012 3346l-23 8 0-28 24-8zM1724 3743l-25 9 0-26 24-9zM1997 3517l-25 8 0-28 25-9zM1972 3525l-25 9 0-28 25-9zM1922 3571l-26 9 1-28 25-9zM1947 3534l-25 9 0-29 25-8zM1922 3543l-25 9 0-29 25-9zM1947 3506l-25 8 0-28 25-9zM1922 3514l-25 9 0-29 25-8z"/><path class="c1" d="M1933 3324l18 10 1-28-19-10zM1951 3334l19 10 0-28-18-10zM1970 3344l19 10 0-28-19-10zM2008 3364l19 10 0-28-19-10zM1717 3764l18 12 0-27-18-12zM2008 3336l19 10 0-27-19-10zM1788 3648l19 12 0-29-19-11z"/><path class="c2" d="M1766 3719l18 12-24 9-19-12zM1741 3728l19 12-25 9-18-12zM2037 3365l20 11-24 8-20-10z"/></g><path class="dot" stroke-width="1.9" d="M177.4 327.8h.01M159.5 354.1h.01M204.8 329.3h.01M171.2 378.8h.01M170.6 340.4h.01M218.9 357.6h.01M203.2 380.8h.01M203.8 342.3h.01M184.9 370.1h.01"/>
<g class="vf" transform="scale(.1)"><path class="c0" d="M2760 3542l-15 6 0-17 15-6zM2775 3520l-15 5 1-17 15-5zM2738 3554l-15 6 0-17 15-6zM2692 3572l-16 6 1-17 15-6zM2582 3614l-15 7 0-18 16-6zM2535 3633l-17 6 0-17 17-7zM2785 3485l-15 5 0-17 15-6zM2662 3532l-16 5 0-17 16-6zM2486 3598l-16 7 0-18 16-7zM2620 3609l-16 6 1-17 15-6zM2792 3354l-15 5 1-18 15-5zM2786 3432l-15 6 1-18 15-5zM2486 3544l-17 7 0-19 17-6zM2646 3573l-32 12 0-18 32-12zM2662 3549l-16 6 0-18 16-5zM2757 3408l-31 12 0-18 31-12zM2535 3490l-33 12 0-18 33-12zM2772 3385l-15 5 0-17 16-6zM2325 3510l-17 6 0-18 16-6zM2773 3367l-16 6 1-18 15-6zM2593 3115l-15 5 0-18 16-5zM2435 3166l-17 6 0-19 16-5zM2324 3475l-16 6-1-18 17-6zM2758 3355l-16 5 1-18 15-5zM2535 3435l-33 12 0-18 33-12zM2790 3308l-16 5 1-18 15-5zM2486 3416l-17 6 0-18 17-6zM2791 3253l-15 6 0-18 16-6zM2665 3298l-16 5 1-18 16-6zM2617 3314l-16 6 0-18 16-6zM2486 3361l-17 5 0-18 17-6zM2746 3215l-16 5 0-18 16-6zM2698 3231l-16 6 1-19 16-5zM2585 3270l-16 6 0-19 16-6zM2536 3287l-17 6 0-19 17-6zM2321 3296l-17 5 0-18 17-6zM2666 3279l-16 6 0-19 16-5zM2617 3296l-16 6 0-19 17-6z"/><path class="c8" d="M2748 3518l12 7-15 6-12-7zM2234 3502l11 7-16 6-11-8zM2756 3535l12 8-15 5-12-7zM2664 3570l12 8-15 6-13-8zM2601 3594l13 8-16 6-12-8zM2516 3047l11 7-15 5-12-7zM2263 3126l11 7-16 5-11-6zM2543 3049l12 6-16 5-12-6zM2291 3128l11 7-16 5-12-7zM2221 3426l11 7-16 6-11-8zM2773 3460l12 7-15 6-13-7zM2490 3566l12 8-16 6-13-8zM2651 3580l13 8-16 6-12-8zM2494 3641l12 8-16 6-12-8zM2302 3547l12 8-16 6-12-8zM2220 3374l11 7-16 5-11-7zM2774 3407l13 8-15 5-13-7zM2490 3512l12 8-16 6-13-8zM2696 3506l12 8-15 6-13-8zM2489 3086l12 6-15 5-12-6zM2363 3126l11 7-16 5-11-7zM2258 3347l11 7-16 6-11-7zM2731 3376l13 7-15 6-13-8zM2510 3456l12 8-16 6-12-8zM2349 3578l12 8-17 6-11-8zM2325 3528l12 7-17 6-11-8zM2633 3547l13 8-16 6-12-8zM2538 3583l13 8-16 7-13-8zM2218 3303l11 7-16 6-11-7zM2776 3336l13 8-16 5-13-7zM2490 3440l12 7-16 6-13-8zM2344 3403l12 7-17 6-11-7zM2625 3420l13 8-16 5-13-7zM2594 3432l12 7-16 6-12-8zM2217 3250l11 7-16 5-12-7zM2777 3283l13 7-15 5-13-7zM2475 3150l12 7-16 5-12-7zM2343 3367l12 8-16 5-12-7zM2626 3384l12 8-16 6-12-8zM2730 3317l13 7-15 6-13-7zM2539 3385l13 8-17 6-12-8zM2643 3141l13 7-16 5-12-6zM2451 3205l13 7-17 5-12-7zM2408 3600l12 8-16 6-12-8zM2437 3602l12 8-16 6-13-8zM2494 3605l12 8-16 7-13-8zM2522 3607l13 8-17 7-12-9zM2396 3574l12 8-16 6-12-8zM2424 3576l13 8-17 6-12-8zM2510 3582l12 8-16 6-12-8zM2412 3551l12 7-16 6-12-7zM2526 3558l12 8-16 6-12-8zM2400 3525l12 8-16 6-12-8zM2542 3534l12 8-16 6-12-8zM2388 3500l12 7-17 6-12-8zM2558 3510l13 8-16 6-13-8zM2347 3472l12 8-16 6-12-8zM2376 3474l12 8-17 6-12-8zM2574 3487l13 7-16 6-13-7zM2603 3488l12 8-16 6-12-8zM2363 3449l12 7-16 6-12-7zM2590 3463l13 8-16 5-13-7zM2315 3348l12 7-17 6-11-8zM2654 3368l13 8-16 5-13-7zM2303 3323l12 7-17 5-11-7zM2670 3345l13 7-16 6-13-8zM2291 3298l12 7-17 5-11-7zM2686 3321l13 7-16 6-12-7zM2279 3273l12 7-17 5-12-7zM2702 3297l13 8-16 5-12-7zM2239 3246l12 7-17 5-11-7zM2267 3248l11 7-16 5-11-7zM2718 3274l13 7-16 5-12-7zM2747 3275l13 8-16 5-13-7zM2227 3221l12 7-17 5-11-7zM2255 3223l11 7-16 5-11-7zM2734 3250l13 7-16 6-12-7zM2763 3252l13 7-16 5-13-7zM2243 3198l12 7-17 5-11-7zM2750 3227l13 7-15 5-13-7zM2319 3130l11 6-16 5-12-6zM2431 3136l12 6-17 6-12-7zM2571 3144l13 6-16 5-13-6zM2684 3150l13 7-16 5-12-7zM2713 3151l12 7-15 5-13-6zM2741 3153l13 7-16 5-13-7zM2432 3563l13 8-17 6-12-8zM2329 3216l12 7-16 5-12-7zM2296 3226l12 8-16 5-12-7zM2643 3234l13 7-32 11-13-7zM2432 3509l12 8-16 6-12-8zM2669 3248l13 7-16 6-13-8zM2605 3270l13 7-17 6-13-7zM2432 3436l12 8-17 6-12-8zM2344 3255l12 7-16 6-12-8zM2497 3321l13 7-16 6-13-8z"/><path class="c1" d="M2233 3485l11 8-1-17-11-8zM2218 3525l68 45 0-17-68-46zM2333 3601l12 8-1-17-11-8zM2368 3625l36 24 0-17-36-24zM2195 3476l11 7 0-17-11-8zM2309 3551l23 15 0-17-23-16zM2195 3458l11 8-1-17-11-8zM2332 3549l12 8 0-18-12-8zM2229 3515l23 15-1-17-22-15zM2356 3600l12 8 0-18-12-8zM2194 3441l23 15-1-17-22-15zM2297 3508l11 8 0-18-12-7zM2332 3531l12 8-1-18-11-7zM2194 3424l11 7 0-17-12-7zM2404 3561l12 8 0-18-12-8zM2193 3407l12 7-1-17-11-8zM2193 3389l22 15 0-18-23-14zM2428 3541l12 8 0-18-12-8zM2226 3376l23 14-1-17-23-15zM2391 3481l24 16 0-19-24-15zM2202 3326l23 15-1-18-22-14zM2190 3302l12 7-1-18-11-7zM2224 3323l23 14 0-18-23-14zM2403 3434l12 8 0-19-13-7zM2633 3530l13 7 0-17-12-8zM2190 3284l11 7 0-18-12-7zM2427 3106l23 13 0-18-24-13zM2462 3125l12 7 0-18-12-7zM2561 3180l12 7 1-19-13-7zM2634 3512l12 8 1-18-13-8zM2189 3266l23 14 0-18-23-14zM2634 3494l13 8 0-18-13-7zM2189 3248l11 7 0-18-12-7zM2478 3664l12 8 0-17-12-8zM2634 3477l13 7 0-18-13-7zM2188 3230l12 7-1-18-11-6zM2224 3136l11 7 0-18-11-7zM2188 3213l23 13-1-18-23-13zM2328 3297l12 8 0-19-12-7zM2636 3351l13 7 0-18-13-7zM2636 3333l13 7 0-18-13-8zM2636 3314l13 8 0-19-12-7zM2292 3257l12 8-1-19-11-7zM2328 3279l12 7 0-18-12-8zM2267 3206l12 7 0-18-12-7zM2352 3256l12 8 0-19-13-7zM2389 3278l12 8 0-19-12-8zM2316 3253l12 7-1-18-12-7z"/><path class="c7" d="M2748 3518l12 7 1-17-13-7zM2234 3502l11 7 0-17-11-7zM2421 3625l12 9 0-18-13-8zM2222 3477l12 8-1-18-11-7zM2408 3600l12 8 0-18-12-8zM2771 3512l13 7 0-17-12-7zM2527 3071l12 7 0-18-12-6zM2543 3049l12 6 0-18-12-6zM2665 3113l12 6 1-18-13-6zM2716 3491l13 8 0-18-13-7zM2539 3060l12 6 0-18-12-6zM2710 3552l13 8 0-17-13-8zM2469 3062l12 6 0-18-12-6zM2691 3181l13 7 1-19-13-7zM2714 3487l12 8 1-18-13-7zM2664 3570l12 8 1-17-13-8zM2774 3407l13 8 0-18-13-7zM2423 3076l11 7 0-18-11-6zM2255 3430l11 8 0-18-12-7zM2727 3460l13 7 0-18-12-7zM2621 3540l12 7 0-17-12-8zM2601 3594l13 8 0-17-12-8zM2744 3383l13 7 0-17-12-8zM2776 3336l13 8 0-18-13-7zM2359 3096l12 7 0-18-12-7zM2431 3136l12 6-1-18-12-7zM2579 3218l13 8 0-19-13-7zM2609 3110l12 6 1-18-13-6zM2554 3613l13 8 0-18-13-8zM2625 3420l13 8 0-18-13-8zM2503 3170l12 7 0-18-12-7zM2311 3111l12 7 0-18-12-7zM2340 3434l11 7 0-18-12-7zM2316 3383l11 8 0-18-12-7zM2781 3216l13 7 1-18-14-7zM2372 3541l12 8 0-18-12-8zM2626 3384l12 8 0-18-12-7zM2251 3289l12 7-1-18-11-7zM2730 3317l13 7 1-18-13-7zM2494 3605l12 8 0-17-12-8zM2522 3607l13 8 0-17-13-8zM2396 3574l12 8 0-18-12-7zM2510 3582l12 8 0-18-12-8zM2538 3583l13 8 0-17-13-8zM2526 3558l12 8 0-18-12-8zM2542 3534l12 8 1-18-13-8zM2558 3510l13 8 0-18-13-7zM2347 3472l12 8 0-18-12-7zM2574 3487l13 7 0-18-13-7zM2590 3463l13 8 0-18-13-8zM2287 3346l12 7-1-18-11-7zM2654 3368l13 8 0-18-13-8zM2683 3370l13 7 0-18-13-7zM2670 3345l13 7 0-18-12-7zM2686 3321l13 7 0-18-12-7zM2702 3297l13 8 0-19-12-7zM2239 3246l12 7-1-18-11-7zM2369 3325l13 7-1-18-12-8zM2718 3274l13 7 0-18-12-7zM2747 3275l13 8 0-19-13-7zM2227 3221l12 7-1-18-11-7zM2734 3250l13 7 1-18-13-7zM2763 3252l13 7 0-18-13-7zM2750 3227l13 7 1-19-13-7zM2640 3172l13 6 0-18-13-7zM2571 3144l13 6 0-18-13-7zM2456 3302l12 7 0-18-13-7zM2717 3232l13 7 0-19-13-7zM2465 3497l12 7 0-18-12-7zM2490 3512l12 8 0-18-12-8zM2451 3297l13 7 0-18-13-7zM2329 3216l24 14 0-19-24-14zM2439 3280l13 7 0-18-13-8zM2465 3479l12 7 0-18-12-8zM2624 3289l13 7 0-19-13-7zM2669 3248l13 7 0-18-13-8zM2341 3204l12 7 0-18-12-7zM2447 3291l13 8 0-19-13-7zM2497 3321l13 7 0-19-13-7zM2572 3337l13 7 0-18-13-8zM2490 3440l12 7 0-18-12-8zM2443 3286l13 7 0-19-13-7zM2494 3315l12 8 0-19-12-7zM2605 3270l13 7 0-18-13-8zM2377 3207l12 7 0-19-12-7zM2435 3274l12 8 0-19-12-7z"/><path class="c4" d="M2733 3507l13 7 0-17-13-8zM2291 3574l23 15 0-17-23-15zM2349 3613l12 7 0-17-12-8zM2409 3652l24 17 0-18-24-16zM2635 3603l13 8 0-17-12-8zM2197 3359l11 7 0-17-11-7zM2384 3086l11 7 0-18-11-6zM2633 3547l13 8 0-18-13-7zM2621 3522l12 8 1-18-13-8zM2415 3099l12 7-1-18-11-7zM2586 3194l13 7 0-19-13-7zM2621 3504l13 8 0-18-13-7zM2621 3487l13 7 0-17-12-8zM2450 3137l37 20 0-18-37-20zM2622 3469l12 8 0-18-12-8zM2465 3639l13 8-1-18-12-8zM2192 3183l12 6-1-18-11-6zM2506 3631l12 8 0-17-12-9zM2384 3549l12 8 0-18-12-8zM2457 3596l13 9 0-18-13-8zM2372 3523l12 8-1-18-12-8zM2457 3579l13 8 0-18-13-8zM2570 3536l13 8 0-18-12-8zM2359 3498l12 7 0-17-12-8zM2457 3561l13 8-1-18-12-8zM2275 3321l12 7-1-18-11-7zM2457 3433l12 8 0-19-13-7zM2263 3296l12 7-1-18-12-7zM2456 3415l13 7 0-18-13-8zM2251 3271l11 7 0-18-11-7zM2456 3396l13 8 0-19-13-8zM2731 3299l13 7 0-18-13-7zM2263 3126l11 7 0-18-12-7zM2623 3380l12 7 1-18-13-8zM2623 3361l13 8 0-18-13-8zM2623 3343l13 8 0-18-13-8zM2225 3149l47 27 0-19-47-27zM2284 3183l12 7-1-19-12-7zM2368 3232l25 15 0-19-25-15zM2405 3254l13 7 0-19-13-7zM2457 3614l13 8 0-17-13-9zM2623 3325l13 8 0-19-13-7zM2623 3307l13 7 1-18-13-7zM2465 3460l12 8 0-18-12-8zM2637 3296l12 7 1-18-13-8zM2457 3543l12 8 0-19-12-8zM2473 3464l13 8 0-19-13-8zM2348 3205l12 7 0-18-12-7zM2456 3377l13 8 0-19-13-7zM2456 3359l13 7 0-18-13-8z"/><path class="c3" d="M2755 3569l-107 42 0-17 107-42zM2601 3629l-111 43 0-17 111-43zM2801 3500l-15 6 1-17 15-6zM2802 3483l-15 6 0-17 15-6zM2457 3614l-16 7 0-18 16-7zM2802 3466l-15 6 1-18 15-6zM2554 3560l-16 6 0-18 16-6zM2457 3596l-16 7 0-18 16-6zM2803 3448l-15 6 0-17 15-6zM2570 3536l-16 6 1-18 16-6zM2457 3579l-16 6 0-18 16-6zM2803 3431l-15 6 1-18 15-5zM2586 3512l-15 6 0-18 16-6zM2457 3561l-16 6-1-18 17-6zM2804 3414l-15 5 0-17 15-6zM2571 3500l-16 6 0-18 16-6zM2457 3543l-17 6 0-18 17-7zM2330 3583l-16 6 0-17 16-6zM2635 3603l-15 6 0-17 16-6zM2804 3396l-15 6 1-18 15-6zM2792 3371l-15 6 0-18 15-5zM2658 3101l-15 5 0-18 15-5zM2314 3572l-16 6 0-17 16-6zM2806 3325l-15 6 1-18 15-5zM2457 3451l-17 6 0-18 17-6zM2807 3308l-15 5 0-18 15-5zM2699 3346l-16 6 0-18 16-6zM2457 3433l-17 6 0-18 16-6zM2325 3528l-16 5-1-17 17-6zM2807 3290l-15 5 1-18 15-5zM2715 3323l-16 5 0-18 16-5zM2683 3334l-15 5 0-18 16-5zM2456 3415l-16 6 0-19 16-6zM2609 3110l-16 5 1-18 15-5zM2386 3182l-17 6 0-19 16-5zM2808 3272l-15 5 0-18 15-5zM2731 3299l-16 6 0-19 16-5zM2453 3648l-16 6 0-17 16-6zM2808 3254l-15 5 1-18 15-5zM2456 3377l-16 6-1-18 17-6zM2771 3179l-15 5 0-18 15-5zM2468 3282l-16 5 0-18 16-6zM2340 3451l-16 6-1-17 17-6zM2809 3236l-15 5 0-18 15-5zM2456 3359l-17 6 0-19 17-6zM2546 3148l-15 5 0-18 15-5zM2465 3639l-16 6 0-18 16-6zM2809 3218l-15 5 1-18 15-6zM2768 3191l-15 5 0-18 16-5zM2611 3245l-16 5 0-18 16-6zM2421 3625l-17 7 0-18 16-6zM2251 3271l-16 5-1-18 17-5zM2741 3153l-16 5 1-18 15-5zM2484 3304l-16 5 0-18 16-5zM2464 3322l-16 6-1-18 17-6zM2480 3298l-16 6 0-18 16-6zM2733 3189l-63 22 0-19 63-21zM2605 3233l-49 16 0-18 49-17zM2523 3261l-17 5 0-19 17-5zM2465 3460l-33 12 0-18 33-12zM2321 3277l-17 6 0-18 16-6zM2476 3293l-16 6 0-19 16-5zM2611 3226l-16 6 1-19 16-5zM2444 3462l-16 6-1-18 17-6zM2472 3287l-16 6 0-19 16-5zM2608 3220l-16 6 0-19 17-6z"/><path class="c0" d="M2768 3560l-107 41 0-17 107-41zM2614 3620l-112 43 0-18 112-43zM2799 3514l-15 5 0-17 15-6zM2799 3496l-15 6 1-17 15-6zM2800 3479l-15 6 0-18 15-5zM2800 3462l-15 5 1-17 15-6zM2631 3526l-16 6 0-18 16-6zM2801 3444l-15 6 0-18 15-5zM2631 3508l-16 6 0-18 16-6zM2801 3427l-15 5 1-17 15-6zM2631 3490l-16 6 0-18 16-6zM2802 3409l-15 6 0-18 15-6zM2645 3590l-31 12 0-17 32-12zM2788 3361l-15 6 0-18 16-5zM2502 3466l-16 6 0-19 16-6zM2804 3338l-15 6 0-18 16-6zM2805 3320l-16 6 1-18 15-6zM2805 3302l-15 6 0-18 16-6zM2633 3364l-16 6 0-19 16-5zM2806 3284l-16 6 1-18 15-6zM2633 3346l-16 5 0-18 16-6zM2449 3662l-16 7 0-18 16-6zM2806 3266l-15 6 0-19 16-5zM2633 3327l-16 6 0-19 16-5zM2784 3168l-15 5 0-18 16-6zM2807 3248l-16 5 1-18 15-5zM2633 3309l-16 5 0-18 17-6zM2807 3230l-15 5 0-18 16-5zM2650 3285l-33 11 1-19 32-11zM2322 3332l-17 6 0-19 16-5zM2502 3484l-16 6 0-18 16-6zM2634 3272l-16 5 0-18 16-6z"/><path class="c8" d="M2250 3479l11 7-16 6-11-7zM2743 3510l13 8-15 5-13-7zM2245 3492l11 7-16 6-11-7zM2729 3499l12 7-15 6-13-8zM2714 3487l12 8-15 5-13-7zM2437 3637l12 8-16 6-12-8zM2756 3166l13 7-16 5-12-7zM2435 3274l12 8-16 5-13-7zM2451 3297l13 7-17 6-12-8zM2443 3286l13 7-17 6-12-8zM2439 3280l13 7-17 6-13-7zM2494 3315l12 8-16 5-13-7z"/><path class="c6" d="M2756 3535l-15 6 0-18 15-5zM2506 3631l-16 6 0-17 16-7zM2222 3477l-16 6 0-17 16-6zM2250 3479l-16 6-1-18 16-5zM2771 3512l-15 6 1-18 15-5zM2741 3523l-15 6 0-17 15-6zM2522 3607l-16 6 0-17 16-6zM2527 3071l-15 5 0-17 15-5zM2516 3047l-16 5 0-18 16-4zM2359 3096l-15 5-1-18 16-5zM2233 3467l-16 6 0-17 16-6zM2260 3469l-16 6 0-17 16-6zM2524 3083l-15 4 0-17 15-5zM2512 3059l-15 4 0-17 15-5zM2291 3128l-17 5 0-18 16-5zM2268 3524l-16 6-1-17 16-6zM2579 3068l-16 5 0-18 16-5zM2293 3158l-16 6-1-19 17-5zM2726 3512l-15 6 0-18 15-5zM2538 3583l-16 7 0-18 16-6zM2506 3596l-16 6 0-18 16-6zM2271 3459l-16 6 0-17 16-6zM2520 3094l-15 5 0-18 15-5zM2302 3547l-16 6 0-18 16-5zM2282 3449l-16 6 0-17 16-6zM2220 3374l-16 5-1-17 16-6zM2517 3105l-16 5 0-18 16-5zM2359 3156l-17 5 0-18 16-5zM2615 3087l-15 5 0-18 15-5zM2696 3506l-16 6 1-18 15-5zM2570 3554l-16 6 0-18 16-6zM2522 3572l-16 6 0-18 16-6zM2727 3460l-15 5 0-17 16-6zM2294 3439l-17 6 0-18 16-5zM2513 3117l-15 5 0-18 15-5zM2349 3578l-16 6-1-18 17-6zM2305 3429l-16 6-1-18 17-5zM2242 3353l-17 5 0-17 16-6zM2218 3303l-16 6-1-18 16-5zM2510 3128l-16 5 0-18 16-5zM2415 3099l-16 5 0-18 16-5zM2319 3130l-17 5 0-19 16-5zM2665 3113l-16 5 1-18 15-5zM2571 3144l-16 5 0-19 16-5zM2377 3207l-17 5 0-18 17-6zM2316 3419l-16 6 0-18 16-6zM2506 3140l-16 5 0-18 16-5zM2384 3601l-16 7 0-18 16-6zM2344 3403l-16 6-1-18 17-6zM2503 3170l-16 5 0-18 16-5zM2703 3133l-16 5 0-18 16-5zM2494 3641l-16 6-1-18 17-6zM2622 3451l-16 6 0-18 16-6zM2461 3510l-17 7 0-19 17-6zM2654 3404l-16 6 0-18 16-6zM2220 3184l-16 5-1-18 17-5zM2781 3216l-15 5 0-18 15-5zM2355 3393l-16 5 0-18 16-5zM2343 3367l-16 6 0-18 16-6zM2730 3317l-15 6 0-18 16-6zM2499 3182l-16 5 0-18 16-5zM2408 3600l-16 6 0-18 16-6zM2437 3602l-17 6 0-18 17-6zM2396 3574l-16 6 0-17 16-6zM2400 3525l-16 6-1-18 17-6zM2347 3472l-16 6 0-18 16-5zM2603 3488l-16 6 0-18 16-5zM2683 3370l-16 6 0-18 16-6zM2303 3323l-16 5-1-18 17-5zM2291 3298l-16 5-1-18 17-5zM2279 3273l-17 5 0-18 16-5zM2239 3246l-16 5-1-18 17-5zM2267 3248l-16 5-1-18 16-5zM2747 3275l-16 6 0-18 16-6zM2572 3337l-17 6 1-19 16-6zM2227 3221l-16 5-1-18 17-5zM2255 3223l-16 5-1-18 17-5zM2763 3252l-16 5 1-18 15-5zM2731 3263l-15 5 0-18 16-6zM2215 3196l-16 5-1-18 17-5zM2243 3198l-16 5-1-18 17-5zM2779 3228l-16 6 1-19 15-5zM2748 3239l-16 5 0-18 16-5zM2640 3172l-16 5 0-18 16-6zM2480 3225l-16 5 0-18 16-6zM2587 3476l-16 6 0-18 16-5zM2667 3358l-16 5 1-18 16-6zM2491 3188l-16 5 0-18 16-5zM2261 3206l-17 5 0-18 17-6zM2465 3497l-17 6 0-18 17-6zM2432 3509l-16 6-1-18 17-6zM2643 3234l-32 11 0-19 32-11zM2488 3200l-17 5 0-18 17-5zM2465 3479l-33 12 0-19 33-12zM2296 3226l-16 6-1-19 17-5zM2484 3213l-16 5-1-19 17-5zM2628 3221l-17 5 1-18 16-6zM2656 3222l-16 6 1-19 16-5zM2369 3325l-16 5-1-18 17-6zM2432 3436l-17 6 0-19 16-5zM2344 3255l-16 5-1-18 17-6zM2476 3238l-16 5 0-19 16-5zM2579 3218l-16 6 0-19 16-5zM2472 3250l-16 6 0-19 16-5zM2468 3263l-16 6-1-19 17-6z"/><path class="c7" d="M2743 3510l13 8 1-18-13-7zM2245 3492l11 7 0-17-12-7zM2233 3467l11 8 0-17-11-8zM2729 3499l12 7 1-17-13-8zM2757 3500l12 8 1-18-13-7zM2524 3083l12 6 0-18-12-6zM2244 3458l11 7 0-17-11-8zM2520 3094l12 6 0-18-12-6zM2517 3105l12 7 0-18-12-7zM2513 3117l12 6 0-18-12-6zM2510 3128l12 7 0-18-12-7zM2288 3417l12 8 0-18-12-7zM2506 3140l12 7 0-18-12-7zM2437 3637l12 8 0-18-12-8zM2756 3166l13 7 0-18-13-7zM2499 3182l12 7 0-18-12-7zM2215 3196l12 7-1-18-11-7zM2779 3228l13 7 0-18-13-7zM2491 3188l13 7 0-19-13-6zM2488 3200l12 7 0-18-12-7zM2461 3510l12 8 0-18-12-8zM2640 3246l13 7 0-18-13-7zM2484 3213l12 7 0-19-12-7zM2628 3221l12 7 1-19-13-7zM2480 3225l12 7 0-18-12-8zM2476 3238l13 7 0-19-13-7zM2472 3250l13 8 0-19-13-7zM2468 3263l13 7 0-18-13-8z"/><path class="c2" d="M2504 3024l12 6-109 33-12-6zM2348 3072l11 6-113 35-11-6zM2558 3026l12 7-15 4-12-6zM2497 3046l12 6-16 5-12-7zM2387 3080l12 6-48 15-12-6zM2570 3033l12 6-31 9-12-6zM2430 3076l12 7-16 5-11-7zM2399 3086l12 7-32 10-12-7zM2269 3127l12 6-33 11-12-7zM2500 3034l12 7-31 9-12-6zM2438 3054l12 6-16 5-11-6zM2375 3073l12 7-16 5-12-7zM2343 3083l12 7-32 10-12-7zM2279 3103l11 7-16 5-12-7zM2582 3039l12 6-46 15-12-7zM2411 3093l11 6-32 10-11-6zM2281 3133l12 7-33 11-12-7zM2594 3045l12 6-15 5-12-6zM2563 3055l13 6-16 5-12-6zM2422 3099l12 7-16 5-12-7zM2309 3135l12 7-16 5-12-7zM2276 3145l12 7-16 5-12-6zM2606 3051l12 7-15 5-12-7zM2434 3106l12 6-16 5-12-6zM2618 3058l13 6-16 5-12-6zM2652 3088l13 7-62 20-13-7zM2365 3181l12 7-17 6-12-7zM2680 3090l13 6-15 5-13-6zM2650 3100l12 6-47 16-12-7zM2410 3178l12 7-33 10-12-7zM2253 3360l11 7-16 6-11-7zM2729 3389l13 7-63 23-13-7zM2571 3446l13 8-49 18-13-8zM2693 3096l13 7-47 15-12-7zM2389 3195l12 7-33 11-12-7zM2264 3367l12 7-16 6-12-7zM2706 3103l12 6-31 11-12-7zM2564 3149l13 7-16 5-13-7zM2385 3208l12 7-17 6-12-8zM2276 3374l12 8-17 5-11-7zM2718 3109l13 7-15 5-13-6zM2288 3382l11 7-16 6-12-8zM2208 3159l12 7-17 5-11-6zM2797 3193l13 6-15 6-14-7zM2731 3116l13 7-16 5-12-7zM2744 3123l13 6-16 6-13-7zM2203 3171l12 7-17 5-11-6zM2795 3205l13 7-16 5-13-7zM2422 3141l12 7-16 5-12-7zM2679 3155l13 7-16 6-13-7zM2567 3193l12 7-16 5-13-7zM2707 3157l13 7-15 5-13-7zM2612 3189l13 7-33 11-13-7zM2736 3159l13 7-31 10-13-7zM2592 3207l13 7-32 11-13-7zM2383 3442l12 7-17 6-12-8zM2395 3449l12 8-16 6-13-8zM2369 3169l12 7-16 5-13-7zM2637 3240l13 8-16 5-13-7z"/><path class="c0" d="M2753 3548l-15 6 0-17 16-6zM2784 3502l-15 6 1-18 15-5zM2519 3586l-33 12 0-18 33-12zM2583 3490l-16 6 0-18 17-6zM2680 3347l-31 11 0-18 32-11zM2745 3252l-32 11 1-19 31-11zM2519 3568l-17 6 0-18 17-6zM2584 3472l-17 6 1-18 16-6zM2745 3233l-15 6 0-19 16-5zM2650 3266l-16 6 0-19 16-5zM2444 3480l-16 6 0-18 16-6zM2625 3215l-17 5 1-19 16-5z"/><path class="c8" d="M2741 3523l13 8-16 6-12-8zM2260 3469l12 8-16 5-12-7zM2512 3059l12 6-15 5-12-7zM2539 3060l12 6-15 5-12-6zM2509 3070l11 6-15 5-12-6zM2256 3482l11 8-16 5-11-7zM2726 3512l13 8-16 5-12-7zM2271 3459l12 8-16 5-12-7zM2536 3071l12 7-16 4-12-6zM2282 3449l12 8-16 5-12-7zM2294 3439l11 8-16 5-12-7zM2305 3429l11 8-16 5-11-7zM2316 3419l12 7-16 6-12-7zM2494 3115l12 7-16 5-12-7zM2522 3117l12 6-16 6-12-7zM2506 3631l12 8-16 6-12-8zM2475 3175l13 7-17 5-12-7zM2504 3176l12 7-16 6-12-7zM2448 3485l13 7-17 6-12-7zM2477 3486l13 8-17 6-12-8zM2656 3222l13 7-16 6-13-7zM2460 3224l12 8-16 5-13-7zM2489 3226l12 7-16 6-13-7zM2456 3237l12 7-17 6-12-7zM2485 3239l12 7-16 6-13-8zM2451 3250l13 7-17 6-12-7zM2481 3252l12 7-16 6-13-8z"/><path class="c1" d="M2206 3466l11 7 0-17-12-7zM2320 3541l12 8 0-18-12-7zM2416 3604l25 17 0-18-25-16zM2240 3505l23 15-1-17-22-15zM2297 3543l12 8 0-18-12-7zM2332 3566l24 16 0-17-24-16zM2429 3630l12 8 0-17-13-9zM2217 3456l11 7-1-17-11-7zM2320 3524l12 7 0-17-12-8zM2404 3579l37 24 0-18-37-24zM2286 3570l12 8 0-17-12-8zM2345 3609l23 16 0-17-24-16zM2404 3649l13 8-1-17-12-8zM2192 3372l12 7-1-17-11-8zM2215 3386l11 8 0-18-12-7zM2355 3476l12 7-1-18-12-7zM2428 3523l12 8 0-19-12-8zM2298 3561l35 23-1-18-35-23zM2344 3592l12 8 0-18-12-8zM2225 3341l23 14-1-18-23-14zM2213 3316l11 7 0-18-12-7zM2427 3450l13 7 0-18-13-8zM2201 3291l23 14-1-18-22-14zM2294 3348l11 8 0-18-12-8zM2427 3431l13 8 0-18-13-8zM2490 3655l12 8 0-18-12-8zM2187 3195l12 6-1-18-11-6zM2233 3222l23 14 0-18-23-14zM2304 3265l24 14 0-19-25-14zM2392 3553l12 8 0-18-13-8zM2367 3501l12 8 0-18-12-8zM2281 3323l24 15 0-19-24-14zM2269 3298l12 7 0-18-12-7zM2245 3247l12 7-1-18-11-7zM2316 3290l12 7 0-18-12-7zM2233 3204l11 7 0-18-12-7zM2292 3239l11 7 0-18-12-7zM2340 3268l12 7 0-19-13-7zM2244 3193l23 13 0-18-23-14zM2415 3497l13 7 0-18-13-8zM2473 3482l13 8 0-18-13-8z"/><path class="c6" d="M2757 3500l-16 6 1-17 15-6zM2244 3458l-16 5-1-17 17-6zM2742 3489l-16 6 1-18 15-6zM2509 3070l-16 5 0-18 16-5z"/><path class="c11" d="M2268 3524l11 8-16 6-11-8zM2710 3552l13 8-16 6-12-8zM2554 3613l13 8-16 6-13-8zM2279 3514l11 8-16 6-11-8zM2743 3436l13 8-16 5-12-7zM2621 3540l12 7-15 6-13-8zM2301 3477l12 8-17 6-11-8zM2665 3500l13 8-16 6-13-8zM2602 3524l13 8-16 6-13-8zM2265 3402l12 8-17 5-11-7zM2713 3430l12 7-15 6-13-7zM2555 3488l12 8-16 6-12-8zM2641 3432l12 8-16 5-12-7zM2613 3413l12 7-16 6-12-8zM2425 3629l12 8-16 6-12-8zM2384 3601l12 8-16 7-12-8zM2372 3576l12 8-16 6-12-8zM2570 3589l13 8-16 6-13-8zM2360 3551l12 8-16 6-12-8zM2586 3565l13 8-16 6-13-8zM2240 3300l12 7-17 5-11-7zM2745 3330l13 7-15 5-13-7zM2523 3409l12 8-16 6-13-8zM2228 3275l12 7-17 5-11-7zM2761 3306l13 7-15 6-13-7zM2462 3144l13 6-16 5-12-6zM2301 3196l11 7-16 5-12-7zM2348 3508l12 7-17 6-11-7zM2597 3401l13 7-16 6-13-8zM2264 3332l11 7-16 5-12-7zM2714 3359l13 7-16 6-13-8zM2555 3416l13 8-16 5-13-7zM2689 3290l13 7-15 6-13-7zM2530 3346l13 8-17 5-12-7zM2578 3384l13 7-16 6-13-8zM2383 3478l12 7-16 6-12-8zM2298 3299l11 8-16 5-12-7zM2668 3321l13 8-16 5-13-7zM2604 3344l13 7-16 6-13-7zM2420 3537l12 8-16 6-12-8zM2506 3542l13 8-17 6-12-8zM2273 3231l12 7-17 5-12-7zM2700 3255l13 8-15 5-13-7zM2261 3206l12 6-17 6-12-7zM2317 3209l12 7-16 5-12-7zM2717 3232l13 7-16 5-13-7zM2546 3359l13 7-16 6-13-8zM2382 3405l13 8-17 6-12-8zM2345 3328l12 8-16 5-12-7zM2407 3402l12 8-17 6-12-8zM2514 3333l12 8-16 6-13-8zM2357 3299l12 7-17 6-12-7zM2588 3313l13 7-16 6-13-8zM2422 3267l13 7-17 6-12-7z"/><path class="c9" d="M2710 3552l-15 6 0-17 15-6zM2664 3570l-16 6 1-17 15-6zM2601 3594l-15 6 0-17 16-6zM2554 3613l-16 6 0-18 16-6zM2221 3426l-16 5 0-17 16-6zM2773 3460l-16 6 1-18 15-6zM2665 3500l-16 6 1-17 15-6zM2602 3524l-16 6 0-18 16-6zM2490 3566l-17 6 0-18 17-6zM2469 3062l-15 5 0-18 15-5zM2311 3111l-16 5 0-18 16-5zM2279 3514l-16 6-1-17 17-6zM2695 3541l-15 6 0-18 15-5zM2570 3589l-16 6 0-18 16-6zM2232 3416l-16 5-1-17 16-6zM2466 3073l-16 5 0-18 16-5zM2339 3113l-16 5 0-18 16-5zM2575 3079l-15 5 0-18 16-5zM2321 3160l-16 5 0-18 16-5zM2774 3407l-15 6 0-18 15-5zM2713 3430l-16 6 0-18 16-6zM2555 3488l-16 6 0-18 16-6zM2490 3512l-17 6 0-18 17-6zM2290 3505l-16 6 0-18 16-6zM2680 3529l-16 6 1-17 15-6zM2586 3565l-16 6 0-17 16-6zM2243 3405l-16 6-1-17 16-6zM2743 3436l-15 6 0-18 15-5zM2522 3518l-16 6 0-18 16-6zM2462 3084l-16 5 0-18 16-5zM2367 3114l-16 5 0-18 16-5zM2572 3090l-15 5 0-18 15-5zM2350 3162l-17 5 0-19 16-5zM2265 3402l-16 6 0-18 16-5zM2776 3336l-16 6 1-18 15-5zM2714 3359l-16 5 1-18 15-5zM2555 3416l-16 6 0-18 16-6zM2490 3440l-17 5 0-18 17-6zM2685 3393l-31 11 0-18 31-11zM2372 3576l-16 6 0-17 16-6zM2360 3551l-16 6 0-18 16-6zM2622 3469l-16 6 0-18 16-6zM2240 3300l-16 5-1-18 17-5zM2228 3275l-16 5 0-18 16-5zM2761 3306l-15 6 0-18 16-6zM2506 3397l-16 6 0-19 16-6zM2217 3250l-17 5 0-18 16-5zM2777 3283l-15 5 0-18 16-5zM2668 3321l-16 6 0-18 16-6zM2604 3344l-16 6 0-19 16-6zM2490 3384l-17 6 0-18 17-6zM2646 3130l-15 5 0-18 16-6zM2422 3203l-16 6 0-19 16-5zM2674 3131l-15 5 0-18 16-5zM2418 3216l-16 5-1-19 17-5zM2348 3508l-16 6-1-18 17-6zM2264 3332l-17 5 0-18 16-5zM2407 3122l-16 5-1-18 16-5zM2603 3133l-16 5 0-18 16-5zM2443 3185l-17 6 0-19 17-5zM2383 3478l-16 5-1-18 17-5zM2298 3299l-17 6 0-18 16-6zM2432 3563l-16 6 0-18 16-6zM2420 3537l-16 6-1-18 17-6zM2506 3542l-16 6 0-18 16-6zM2684 3279l-16 6 1-19 16-5zM2588 3313l-16 5 0-18 16-6zM2273 3231l-17 5 0-18 17-6zM2700 3255l-15 6 0-19 16-5zM2572 3300l-16 6 0-19 16-6zM2717 3232l-16 5 0-18 16-6zM2669 3248l-16 5 0-18 16-6zM2605 3270l-17 6 1-19 16-6zM2556 3287l-17 6 0-19 17-6zM2634 3178l-16 5 0-19 16-5zM2663 3179l-16 5 0-18 16-5zM2691 3181l-15 5 0-18 16-6zM2345 3328l-16 6-1-18 17-6zM2407 3402l-17 6 0-18 17-6zM2523 3409l-17 6 0-18 17-6zM2357 3299l-17 6 0-19 17-5zM2369 3288l-17 6 0-19 17-6z"/><path class="c10" d="M2701 3479l13 8 0-17-12-8zM2773 3460l12 7 1-17-13-8zM2579 3068l12 6 0-18-12-6zM2703 3133l12 6 1-18-13-6zM2695 3541l13 8 0-18-13-7zM2686 3468l13 7 0-17-12-8zM2758 3448l13 8 0-18-13-7zM2466 3073l11 6 0-17-11-7zM2663 3179l13 7 0-18-13-7zM2575 3079l13 6 0-18-12-6zM2674 3131l13 7 0-18-12-7zM2680 3529l13 8 0-17-13-8zM2671 3456l13 8 0-18-13-8zM2743 3436l13 8 0-18-13-7zM2462 3084l12 7 0-18-12-7zM2634 3178l13 6 0-18-13-7zM2572 3090l12 7 0-18-12-7zM2646 3130l13 6 0-18-12-7zM2656 3444l12 8 1-18-13-7zM2731 3376l13 7 1-18-13-7zM2665 3500l13 8 0-18-13-7zM2713 3430l12 7 1-17-13-8zM2641 3432l12 8 0-18-12-8zM2613 3413l12 7 0-18-12-7zM2292 3369l24 14-1-17-23-15zM2570 3589l13 8 0-18-13-8zM2586 3565l13 8 0-18-13-7zM2745 3330l13 7 1-18-13-7zM2761 3306l13 7 1-18-13-7zM2777 3283l13 7 1-18-13-7zM2339 3113l12 6 0-18-12-6zM2367 3114l12 7 0-18-12-7zM2538 3210l12 7 0-19-12-7zM2602 3524l13 8 0-18-13-8zM2597 3401l13 7 0-18-13-7zM2714 3359l13 7 0-18-13-7zM2407 3122l12 7-1-18-12-7zM2529 3190l12 7 0-18-12-7zM2603 3133l12 7 0-18-12-7zM2529 3526l13 8 0-18-12-7zM2689 3290l13 7 1-18-13-7zM2578 3384l13 7 0-18-13-8zM2555 3488l12 8 0-18-12-8zM2668 3321l13 8 0-19-13-7zM2490 3566l12 8 0-18-12-8zM2506 3542l13 8 0-18-13-8zM2562 3371l13 8 0-19-13-7zM2700 3255l13 8 1-19-13-7zM2317 3209l12 7 0-19-12-7zM2293 3158l12 7 0-18-12-7zM2414 3228l12 7 0-18-12-7zM2321 3160l12 7 0-19-12-6zM2418 3216l13 7-1-19-12-7zM2350 3162l12 6-1-18-12-7zM2422 3203l13 7 0-18-13-7zM2546 3359l13 7 0-18-13-8zM2301 3196l11 7 0-19-12-7zM2422 3267l13 7 0-18-13-8zM2555 3416l13 8 0-19-13-7zM2604 3344l13 7 0-18-13-8zM2443 3185l12 7 0-18-12-7zM2530 3346l13 8 0-19-13-7zM2523 3409l12 8 0-18-12-8zM2514 3333l12 8 0-19-12-7zM2588 3313l13 7 0-18-13-8zM2506 3397l13 8 0-19-13-8zM2572 3300l13 7 0-18-13-8zM2490 3384l12 8 0-19-12-7z"/><path class="c5" d="M2634 3071l12 6-15 5-13-6zM2525 3105l13 7-16 5-12-7zM2284 3183l12 7-17 5-12-7zM2213 3336l11 8-16 5-11-7zM2792 3371l13 7-15 6-13-7zM2638 3428l12 7-15 6-13-8zM2606 3439l13 8-16 6-13-8zM2444 3498l13 8-17 6-12-8zM2399 3064l12 6-16 5-11-6zM2240 3113l11 7-16 5-11-7zM2646 3077l12 6-15 5-12-6zM2490 3127l13 7-16 5-13-7zM2459 3137l12 7-16 5-12-7zM2296 3190l12 7-17 5-12-7zM2711 3500l13 8-16 6-12-8zM2554 3560l13 8-16 6-13-8zM2208 3349l11 7-16 6-11-8zM2790 3384l12 7-15 6-13-7zM2473 3500l13 8-17 6-12-8zM2505 3081l12 6-16 5-12-6zM2347 3131l11 7-16 5-12-7zM2248 3162l12 7-16 5-12-7zM2532 3082l13 7-16 5-12-7zM2501 3092l12 7-15 5-12-7zM2374 3133l12 6-16 5-12-6zM2260 3169l12 7-17 5-11-7zM2529 3094l12 6-16 5-12-6zM2498 3104l12 6-16 5-12-6zM2402 3134l12 7-16 5-12-7zM2272 3176l12 7-17 5-12-7zM2242 3353l11 7-16 6-12-8zM2269 3354l12 8-17 5-11-7zM2716 3381l13 8-78 28-13-7zM2574 3433l13 7-65 24-12-8zM2744 3383l13 7-15 6-13-7zM2522 3464l13 8-16 6-13-8zM2281 3362l11 7-16 5-12-7zM2292 3369l12 7-16 6-12-8zM2304 3376l12 7-17 6-11-7zM2759 3136l13 7-16 5-12-7zM2405 3254l13 7-17 6-12-8zM2328 3409l11 7-16 6-12-8zM2316 3383l11 8-16 5-12-7zM2768 3191l13 7-15 5-13-7zM2518 3129l13 6-16 5-12-6zM2772 3143l13 6-16 6-13-7zM2418 3261l13 8-17 5-13-7zM2487 3157l12 7-16 5-12-7zM2515 3159l12 6-16 6-12-7zM2384 3549l12 8-16 6-12-8zM2619 3465l12 7-16 6-12-7zM2263 3296l12 7-17 6-12-8zM2715 3323l13 7-16 6-13-8zM2215 3196l12 7-17 5-11-7zM2779 3228l13 7-16 6-13-7zM2231 3173l12 7-17 5-11-7zM2766 3203l13 7-15 5-13-7zM2599 3145l13 7-16 5-12-7zM2471 3187l13 7-17 5-12-7zM2356 3225l12 7-17 6-12-8zM2628 3147l12 6-16 6-12-7zM2500 3189l12 7-16 5-12-7zM2467 3199l13 7-16 6-13-7zM2368 3232l13 7-17 6-13-7zM2656 3148l13 7-16 5-13-7zM2496 3201l13 7-17 6-12-8zM2464 3212l12 7-16 5-13-7zM2381 3239l12 8-17 5-12-7zM2375 3421l12 7-16 6-12-8zM2387 3428l12 8-16 6-12-8zM2225 3149l12 6-17 5-11-6zM2479 3163l12 7-16 5-12-7zM2507 3164l13 7-16 5-13-6zM2344 3218l12 7-17 5-12-7zM2764 3179l14 7-111 37-13-7zM2605 3233l13 7-99 34-13-8zM2399 3436l12 7-16 6-12-7zM2237 3155l11 7-16 5-12-7zM2411 3443l13 8-17 6-12-8zM2407 3457l12 8-16 6-12-8zM2653 3235l13 7-16 6-13-8zM2621 3246l13 7-16 6-13-8zM2332 3229l12 7-17 6-12-7zM2492 3214l13 7-16 5-13-7zM2393 3247l12 7-16 5-13-7zM2481 3308l13 7-17 6-13-8z"/><path class="c0" d="M2738 3537l-30 12 0-18 31-11zM2677 3561l-31 12 0-18 31-12zM2614 3585l-31 12 0-18 31-12zM2567 3603l-32 12 0-17 32-13zM2770 3490l-16 6 1-17 15-6zM2693 3520l-31 12 0-18 31-12zM2630 3543l-47 19 0-18 48-18zM2707 3566l-15 6 0-17 16-6zM2598 3608l-16 6 1-17 15-6zM2551 3627l-16 6 0-18 16-6zM2770 3473l-15 6 0-18 16-5zM2662 3514l-16 6 1-18 15-6zM2599 3538l-16 6 0-18 16-6zM2486 3580l-16 7 0-18 16-7zM2786 3450l-15 6 0-18 15-6zM2662 3496l-15 6 0-18 16-6zM2615 3514l-16 6 0-18 16-6zM2502 3556l-32 13-1-18 33-13zM2723 3525l-30 12 0-17 31-12zM2630 3561l-31 12 0-18 31-12zM2583 3579l-32 12 0-17 32-12zM2771 3438l-15 6 0-18 16-6zM2740 3449l-15 6 0-18 16-5zM2502 3538l-16 6 0-18 16-6zM2772 3420l-47 17 1-17 46-17zM2551 3502l-16 6 0-18 16-6zM2519 3514l-17 6 0-18 17-6zM2486 3526l-17 6 0-18 17-6zM2787 3397l-30 11 0-18 31-11zM2726 3420l-31 11 0-18 31-11zM2567 3478l-32 12 0-18 33-12zM2502 3502l-16 6 0-18 16-6zM2788 3379l-16 6 1-18 15-6zM2519 3478l-17 6 0-18 17-6zM2324 3492l-16 6 0-17 16-6zM2757 3373l-77 28 0-18 78-28zM2568 3442l-66 24 0-19 66-23zM2773 3349l-15 6 0-18 16-6zM2742 3360l-15 6 0-18 16-6zM2711 3372l-15 5 0-18 16-5zM2552 3429l-17 6 0-18 17-6zM2486 3453l-17 6 0-18 17-6zM2789 3326l-31 11 1-18 31-11zM2743 3342l-31 12 0-18 31-12zM2552 3411l-17 6 0-18 17-6zM2519 3423l-50 18 0-19 50-17zM2759 3319l-16 5 1-18 15-5zM2775 3295l-31 11 0-18 31-11zM2665 3334l-16 6 0-18 16-6zM2519 3386l-17 6 0-19 17-6zM2791 3272l-31 11 0-19 31-11zM2681 3310l-32 12 0-19 32-11zM2617 3333l-32 11 0-18 32-12zM2502 3373l-33 12 0-19 33-11zM2433 3651l-16 6-1-17 17-6zM2769 3155l-15 5 0-19 16-5zM2321 3314l-16 5-1-18 17-5zM2714 3244l-32 11 0-18 32-11zM2666 3261l-16 5 0-18 16-6zM2601 3283l-32 11 0-18 33-12zM2730 3220l-32 11 1-18 31-11zM2682 3237l-16 5 1-19 16-5zM2618 3259l-33 11 0-19 33-11zM2552 3281l-16 6 0-19 16-6zM2682 3274l-16 5 0-18 16-6zM2601 3302l-16 5 0-18 16-6zM2585 3326l-17 6 1-19 16-6z"/><path class="c7" d="M2256 3482l11 8 0-18-12-7zM2742 3489l12 7 1-17-13-8zM2536 3071l12 7 0-18-12-7zM2684 3150l13 7 0-19-12-7zM2699 3475l12 8 1-18-13-7zM2615 3087l12 6 1-18-13-6zM2741 3153l13 7 0-19-13-6zM2545 3089l12 6 0-18-12-6zM2643 3141l13 7 0-18-12-7zM2684 3464l12 7 1-18-13-7zM2668 3452l13 7 0-18-12-7zM2525 3105l13 7 0-18-12-7zM2599 3145l13 7 0-18-12-7zM2300 3442l12 8 0-18-12-7zM2653 3440l13 7 0-18-13-7zM2522 3117l12 6 0-18-12-6zM2570 3554l13 8 0-18-13-8zM2594 3432l12 7 0-18-12-7zM2610 3408l12 8 0-18-12-8zM2363 3126l11 7 0-19-12-6zM2586 3512l13 8 0-18-12-8zM2603 3488l12 8 0-18-12-7zM2699 3346l13 8 0-18-13-8zM2291 3128l11 7 0-19-12-6zM2485 3239l12 7 0-19-12-7zM2319 3130l11 6 0-18-12-7zM2489 3226l12 7 0-18-12-8zM2402 3134l12 7 0-18-12-7zM2500 3189l12 7 1-19-13-7zM2713 3151l12 7 1-18-13-7zM2594 3396l13 7 0-18-13-7zM2591 3391l12 8 1-19-13-7zM2575 3379l13 7 0-18-13-8zM2504 3176l12 7 0-18-12-7zM2559 3366l13 8 0-19-13-7zM2312 3203l12 7 0-19-12-7zM2329 3179l12 7-1-19-12-6zM2644 3197l13 7 0-19-13-7zM2543 3354l12 7 0-18-12-8zM2526 3341l13 7 0-18-13-8zM2510 3328l13 8 0-19-13-8zM2556 3287l13 7 0-18-13-8zM2460 3327l13 7 0-19-13-7z"/><path class="c1" d="M2263 3538l23 15 0-18-23-15zM2380 3616l24 16 0-18-24-16zM2216 3439l23 14-1-17-22-15zM2320 3506l12 8-1-18-12-8zM2343 3521l12 8 0-18-12-7zM2428 3577l13 8 0-18-13-8zM2205 3414l11 7-1-17-11-7zM2319 3488l24 16 0-18-24-15zM2416 3551l25 16-1-18-24-16zM2251 3495l23 16 0-18-23-15zM2356 3565l24 15 0-17-24-16zM2274 3528l23 15 0-17-23-15zM2368 3590l24 16 0-18-24-16zM2215 3404l12 7-1-17-11-8zM2203 3362l23 14-1-18-22-14zM2249 3390l23 15-1-18-23-14zM2366 3465l25 16 0-18-25-16zM2226 3394l23 14 0-18-23-14zM2379 3491l12 8 0-18-12-8zM2203 3344l22 14 0-17-23-15zM2403 3471l25 15 0-18-25-16zM2248 3355l35 22-1-18-35-22zM2378 3437l50 31-1-18-49-31zM2344 3539l12 8-1-18-12-8zM2235 3312l23 15 0-18-23-15zM2402 3416l25 15 0-18-25-16zM2223 3287l12 7 0-18-12-7zM2212 3262l23 14-1-18-23-14zM2293 3312l12 7-1-18-11-7zM2317 3327l12 7-1-18-12-8zM2200 3237l23 14-1-18-23-14zM2281 3287l23 14 0-18-24-14zM2316 3308l37 22-1-18-36-22zM2259 3344l12 8-1-18-12-7zM2390 3426l13 8-1-18-12-8zM2235 3125l12 7-1-19-11-6zM2221 3197l12 7-1-18-11-7zM2256 3218l24 14-1-19-23-14zM2352 3275l12 7 0-18-12-8zM2209 3172l35 21 0-19-35-20zM2279 3213l12 8 0-19-12-7zM2339 3249l13 7-1-18-12-8zM2352 3312l25 15 0-19-25-14zM2340 3286l12 8 0-19-12-7z"/><path class="c11" d="M2695 3541l13 8-16 6-12-8zM2232 3416l11 7-16 5-11-7zM2758 3448l13 8-16 5-12-7zM2290 3505l12 7-17 6-11-7zM2680 3529l13 8-16 6-13-8zM2243 3405l11 8-16 5-11-7zM2419 3392l12 7-16 6-13-8zM2506 3397l13 8-17 5-12-7zM2369 3288l12 7-17 6-12-7zM2572 3300l13 7-16 6-13-7zM2381 3277l12 7-16 6-13-8zM2556 3287l13 7-17 6-13-7z"/><path class="c2" d="M2454 3049l12 6-16 5-12-6zM2295 3098l12 7-17 5-11-7zM2481 3050l12 7-16 5-11-7zM2450 3060l12 6-16 5-12-6zM2323 3100l12 6-33 10-12-6zM2591 3056l12 7-15 4-12-6zM2560 3066l12 6-15 5-12-6zM2418 3111l12 6-16 6-12-7zM2337 3136l12 7-16 5-12-6zM2305 3147l11 7-33 10-11-7zM2493 3057l12 6-31 10-12-7zM2446 3071l12 7-16 5-12-7zM2351 3101l11 7-32 10-12-7zM2548 3060l12 6-15 5-12-6zM2390 3109l12 7-16 5-12-7zM2603 3063l12 6-31 10-12-7zM2366 3138l12 7-17 5-12-7zM2333 3148l12 7-50 16-12-7zM2631 3064l12 6-15 5-13-6zM2600 3074l12 6-46 15-13-6zM2361 3150l12 7-33 10-12-6zM2612 3080l13 7-47 15-12-7zM2357 3162l12 7-17 5-12-7zM2458 3078l12 6-32 10-12-6zM2379 3103l11 6-16 5-12-6zM2297 3128l12 7-16 5-12-7zM2631 3117l13 6-32 11-12-7zM2439 3179l12 7-16 6-13-7zM2406 3190l12 7-17 5-12-7zM2659 3118l13 7-16 5-12-7zM2516 3165l13 7-16 5-13-7zM2401 3202l13 8-17 5-12-7zM2687 3120l13 6-31 11-13-7zM2716 3121l12 7-31 10-12-7zM2622 3152l12 7-16 5-12-6zM2587 3120l13 7-16 5-13-7zM2426 3172l13 7-17 6-12-7zM2728 3128l13 7-15 5-13-7zM2650 3154l13 7-16 5-13-7zM2554 3186l13 7-17 5-12-7zM2422 3229l13 8-17 5-13-7zM2757 3129l13 7-16 5-13-6zM2647 3166l13 7-48 16-13-7zM2501 3215l13 7-17 5-12-7zM2723 3152l13 7-16 5-13-7zM2676 3168l13 7-32 10-13-7zM2563 3205l13 7-16 6-13-7zM2497 3227l13 8-17 5-12-7zM2752 3153l13 7-16 6-13-7zM2705 3169l13 7-48 16-13-7zM2352 3174l13 7-17 6-12-7z"/><path class="c4" d="M2648 3594l13 7 0-17-13-8zM2267 3472l11 8 0-18-12-7zM2255 3448l11 7 0-17-11-8zM2278 3462l11 8 0-18-12-7zM2727 3477l13 8 0-18-13-7zM2395 3075l12 6 0-18-12-6zM2532 3082l13 7 0-18-12-6zM2656 3148l13 7 0-18-13-7zM2266 3438l11 7 0-18-11-7zM2289 3452l12 8-1-18-11-7zM2383 3513l13 8-1-18-12-8zM2277 3427l12 8-1-18-11-7zM2312 3432l11 8 0-18-12-8zM2457 3524l12 8 0-18-12-8zM2622 3451l12 8 1-18-13-8zM2300 3407l11 7 0-18-12-7zM2638 3428l12 7 1-18-13-7zM2503 3152l12 7 0-19-12-6zM2653 3235l13 7 1-19-13-7zM2518 3129l13 6 0-18-13-7zM2339 3416l12 7 0-17-12-8zM2473 3500l13 8 0-18-13-8zM2327 3391l12 7 0-18-12-7zM2477 3629l13 8 0-17-13-8zM2299 3371l12 8-1-18-11-8zM2346 3401l12 7 0-18-12-7zM2638 3392l13 7 0-18-13-7zM2667 3394l13 7 0-18-13-7zM2374 3133l12 6 0-18-12-7zM2496 3201l13 7 0-19-13-7zM2339 3380l12 8 0-18-12-8zM2262 3260l12 7-1-18-11-7zM2457 3632l13 8 0-18-13-8zM2272 3176l12 7-1-19-11-7zM2296 3190l12 7-1-19-12-7zM2356 3225l12 7 0-19-12-7zM2418 3261l13 8-1-19-12-8zM2472 3287l13 8 0-19-13-7zM2457 3451l12 8 0-18-12-8zM2481 3308l13 7 0-18-13-8zM2468 3282l13 7 0-19-13-7zM2477 3302l13 8 0-19-13-8zM2464 3276l13 7 0-18-13-8zM2481 3252l12 7 0-19-12-7z"/><path class="c5" d="M2267 3472l11 8-16 6-11-8zM2312 3432l11 8-16 5-12-7zM2363 3413l12 8-16 5-12-7zM2590 3427l13 8-16 5-13-7zM2477 3302l13 8-17 5-13-7z"/><path class="c3" d="M2711 3500l-15 6 0-17 15-6zM2255 3448l-16 5-1-17 17-6zM2727 3477l-16 6 1-18 15-5zM2538 3548l-16 6 0-18 16-6zM2505 3081l-16 5 0-18 16-5zM2347 3131l-17 5 0-18 16-5zM2643 3088l-16 5 1-18 15-5zM2712 3465l-16 6 1-18 15-5zM2555 3524l-17 6 0-18 17-6zM2697 3453l-16 6 0-18 16-5zM2340 3434l-17 6 0-18 16-6zM2328 3409l-17 5 0-18 16-5zM2666 3429l-16 6 1-18 15-5zM2603 3453l-16 6 0-19 16-5zM2503 3152l-16 5 0-18 16-5zM2471 3162l-16 5 0-18 16-5zM2531 3153l-16 6 0-19 16-5zM2622 3433l-16 6 0-18 16-5zM2444 3498l-16 6 0-18 16-6zM2638 3410l-16 6 0-18 16-6zM2372 3523l-17 6 0-18 16-6zM2619 3465l-16 6 0-18 16-6zM2457 3524l-17 7 0-19 17-6zM2299 3371l-16 6-1-18 17-6zM2327 3373l-16 6-1-18 17-6zM2667 3394l-16 5 0-18 16-5zM2628 3147l-16 5 0-18 16-6zM2622 3398l-15 5 0-18 16-5zM2339 3362l-17 6 0-18 16-6zM2651 3381l-16 6 1-18 15-6zM2619 3393l-16 6 1-19 16-5zM2699 3310l-15 6 0-19 16-5zM2572 3355l-17 6 0-18 17-6zM2715 3286l-15 6 0-18 16-6zM2555 3343l-16 5 0-18 17-6zM2457 3632l-16 6 0-17 16-7zM2764 3179l-31 10 0-18 32-11zM2670 3211l-16 5 0-18 16-6zM2588 3368l-16 6 0-19 16-5zM2460 3317l-17 6 0-19 17-5zM2456 3312l-17 5 0-18 17-6zM2452 3306l-17 6 0-19 17-6zM2464 3276l-17 6 0-19 17-6z"/><path class="c8" d="M2699 3475l12 8-15 6-13-8zM2278 3480l12 7-16 6-12-7zM2684 3464l12 7-15 6-13-8zM2289 3452l12 8-17 6-11-8zM2668 3452l13 7-15 6-13-8zM2300 3442l12 8-16 5-12-7zM2653 3440l13 7-16 6-13-8zM2372 3541l12 8-16 6-12-8zM2570 3554l13 8-16 6-13-8zM2610 3408l12 8-16 5-12-7zM2251 3289l12 7-17 5-11-7zM2421 3625l12 9-17 6-12-8zM2359 3498l12 7-16 6-12-7zM2586 3512l13 8-16 6-12-8zM2287 3346l12 7-17 6-11-7zM2683 3370l13 7-16 6-13-7zM2275 3321l12 7-17 6-12-7zM2699 3346l13 8-16 5-13-7zM2362 3377l13 8-17 5-12-7zM2591 3391l12 8-16 5-12-7zM2358 3390l12 8-16 6-12-8zM2575 3379l13 7-17 6-12-8zM2559 3366l13 8-17 5-12-7zM2312 3203l12 7-16 5-12-7zM2543 3354l12 7-16 6-13-8zM2526 3341l13 7-16 6-13-7zM2510 3328l13 8-17 5-12-7zM2490 3384l12 8-16 6-13-8zM2494 3278l12 7-16 6-13-8z"/><path class="c0" d="M2755 3479l-15 6 0-18 15-6zM2535 3562l-16 6 0-18 16-6zM2692 3555l-15 6 0-18 16-6zM2755 3461l-15 6 0-18 16-5zM2661 3584l-16 6 1-17 15-6zM2677 3543l-15 6 0-17 15-6zM2725 3455l-16 6 1-18 15-6zM2567 3514l-16 6 0-18 16-6zM2324 3457l-17 6 0-18 16-5zM2546 3130l-15 5 0-18 15-5zM2600 3466l-16 6 0-18 16-6zM2664 3371l-16 5 1-18 16-6zM2632 3382l-16 6 1-18 16-6zM2697 3323l-16 6 0-19 16-5zM2486 3398l-17 6 0-19 17-6zM2729 3275l-16 6 0-18 16-6zM2568 3332l-16 5 0-18 17-6zM2584 3436l-16 6 0-18 16-6zM2502 3410l-16 6 0-18 16-6zM2569 3313l-17 6 0-19 17-6zM2552 3300l-16 6 0-19 16-6zM2569 3276l-17 5 0-19 17-5z"/><path class="c6" d="M2423 3076l-16 5 0-18 16-4zM2263 3126l-16 6-1-19 16-5zM2255 3430l-17 6 0-18 16-5zM2489 3086l-15 5 0-18 15-5zM2363 3126l-16 5-1-18 16-5zM2277 3427l-16 6-1-18 17-5zM2498 3104l-16 5 0-18 16-5zM2402 3134l-16 5 0-18 16-5zM2666 3465l-16 6 0-18 16-6zM2288 3417l-16 6 0-18 16-5zM2681 3441l-15 6 0-18 16-5zM2372 3541l-16 6-1-18 17-6zM2251 3289l-16 5 0-18 16-5zM2643 3141l-15 6 0-19 16-5zM2451 3205l-16 5 0-18 16-6zM2359 3498l-16 6 0-18 16-6zM2287 3346l-16 6-1-18 17-6zM2275 3321l-17 6 0-18 17-6zM2431 3136l-17 5 0-18 16-6zM2599 3145l-15 5 0-18 16-5zM2471 3187l-16 5 0-18 16-5zM2684 3150l-15 5 0-18 16-6zM2460 3224l-17 6 0-19 16-5zM2713 3151l-16 6 0-19 16-5zM2456 3237l-17 6 0-19 16-6zM2490 3620l-16 6 0-18 16-6zM2764 3215l-16 6 0-19 16-5zM2506 3304l-16 6 0-19 16-6zM2538 3530l-16 6 0-18 16-6zM2700 3292l-16 5 0-18 16-5zM2523 3354l-17 6 0-19 17-5zM2362 3377l-16 6 0-18 16-6zM2587 3404l-16 6 0-18 17-6zM2374 3366l-16 6 0-18 16-6zM2604 3380l-16 6 0-18 16-6zM2475 3175l-16 5 0-18 16-6zM2386 3356l-16 5 0-18 16-6zM2325 3228l-17 6 0-19 16-5zM2341 3204l-17 6 0-19 17-5zM2329 3179l-17 5 0-18 16-5zM2644 3197l-16 5 0-18 16-6zM2398 3345l-16 6 0-19 16-5zM2539 3385l-16 6 0-18 16-6zM2410 3334l-16 6 0-19 16-6zM2423 3323l-17 6 0-19 17-6zM2539 3330l-16 6 0-19 16-6zM2506 3341l-16 6 0-19 16-5zM2381 3277l-17 5 0-18 17-6zM2414 3228l-17 6 0-19 17-5zM2435 3312l-17 5 0-18 17-6zM2523 3317l-17 6 0-19 17-6zM2490 3328l-17 6 0-19 17-5zM2494 3278l-17 5 0-18 16-6z"/><path class="c1" d="M2227 3428l11 8 0-18-11-7zM2391 3535l13 8-1-18-12-8zM2285 3518l24 15-1-17-23-15zM2274 3493l23 15-1-17-23-15zM2238 3418l23 15-1-18-22-14zM2296 3455l11 8 0-18-12-7zM2319 3471l12 7 0-18-12-7zM2379 3509l12 8 0-18-12-8zM2273 3476l12 7-1-17-11-8zM2260 3415l12 8 0-18-12-7zM2272 3405l11 8 0-18-12-8zM2636 3369l12 7 1-18-13-7zM2269 3280l12 7-1-18-11-8zM2257 3254l12 7-1-18-12-7zM2342 3414l36 23 0-18-36-23zM2303 3246l13 7-1-18-12-7zM2377 3290l12 7 0-19-13-7zM2336 3198l12 7 0-18-12-7zM2364 3301l13 7 0-18-13-8zM2427 3413l13 8 0-19-13-8zM2364 3264l25 14 0-19-25-14zM2490 3291l12 7 0-19-12-7zM2477 3265l13 7 0-19-13-7z"/><path class="c3" d="M2696 3489l-15 5 0-17 15-6zM2681 3477l-16 6 1-18 15-6zM2650 3453l-16 6 1-18 15-6zM2300 3407l-17 6 0-18 16-6zM2606 3421l-16 6 1-18 16-6zM2603 3417l-16 5 0-18 16-5zM2571 3392l-16 6 0-19 17-5zM2555 3379l-16 6 0-18 16-6zM2308 3215l-17 6 0-19 17-5zM2324 3191l-16 6-1-19 17-5zM2467 3199l-16 6 0-19 16-5zM2641 3209l-16 6 0-19 16-5zM2539 3367l-16 6 0-19 16-6zM2448 3300l-17 6 0-19 16-5zM2451 3250l-16 6 0-19 16-6zM2506 3266l-16 6 0-19 16-6z"/><path class="c2" d="M2407 3063l12 7-32 10-12-7zM2434 3065l12 6-47 15-12-6zM2241 3125l12 7-17 5-11-7zM2628 3075l12 7-15 5-13-7zM2340 3167l12 7-16 6-12-7zM2474 3073l12 6-16 5-12-6zM2557 3077l12 7-31 10-12-7zM2382 3133l12 7-16 5-12-7zM2640 3082l12 6-30 10-13-6zM2486 3079l12 7-16 5-12-7zM2326 3130l11 6-16 6-12-7zM2587 3440l13 8-16 6-13-8zM2410 3134l12 7-16 5-12-6zM2312 3166l12 7-17 5-12-7zM2580 3144l13 7-16 5-13-7zM2435 3192l12 7-17 5-12-7zM2609 3145l13 7-16 6-13-7zM2447 3199l12 7-33 11-12-7zM2397 3215l13 7-17 6-13-7zM2666 3149l13 6-16 6-13-7zM2439 3224l12 7-16 6-13-8zM2695 3150l12 7-15 5-13-7zM2435 3237l12 7-17 6-12-8zM2459 3162l12 7-16 5-12-7zM2360 3194l12 7-16 5-13-7zM2455 3174l12 7-16 5-12-7zM2628 3184l13 7-16 5-13-7zM2657 3185l13 7-16 6-13-7zM2493 3240l13 7-16 6-13-7zM2320 3222l12 7-17 6-12-7zM2443 3211l12 7-50 17-12-7z"/><path class="c9" d="M2301 3477l-16 6-1-17 17-6zM2470 3102l-16 5 0-18 16-5zM2553 3107l-15 5 0-18 15-5zM2394 3158l-16 5 0-18 16-5zM2593 3169l-16 5 0-18 16-5zM2529 3190l-17 6 1-19 16-5zM2408 3511l-17 6 0-18 16-6zM2285 3256l-16 5-1-18 17-5zM2538 3210l-17 5 0-18 17-6z"/><path class="c0" d="M2693 3502l-15 6 0-18 16-6zM2486 3634l-16 6 0-18 16-6zM2502 3610l-32 12 0-17 32-13zM2761 3228l-16 5 1-18 15-6zM2777 3204l-31 11 0-19 32-10zM2535 3544l-16 6 0-18 16-6zM2551 3520l-16 6 0-18 16-6zM2697 3305l-16 5 0-18 16-6zM2713 3281l-16 5 1-18 15-5zM2600 3430l-16 6 0-18 16-6zM2535 3399l-16 6 0-19 16-6zM2535 3380l-16 6 0-19 16-5zM2447 3263l-16 6-1-19 17-6z"/><path class="c8" d="M2681 3477l13 7-16 6-13-7zM2666 3465l12 8-15 5-13-7zM2587 3404l13 8-16 6-13-8zM2374 3366l12 8-16 6-12-8zM2571 3392l13 7-16 6-13-7zM2386 3356l12 7-16 6-12-8zM2398 3345l13 7-17 6-12-7zM2410 3334l13 7-17 6-12-7zM2523 3354l12 8-16 5-13-7zM2423 3323l12 7-17 6-12-7zM2506 3341l13 8-17 6-12-8zM2435 3312l13 7-17 6-13-8z"/><path class="c7" d="M2697 3453l12 8 1-18-13-7zM2681 3441l13 8 1-18-13-7zM2358 3390l12 8 0-18-12-8zM2346 3365l12 7 0-18-12-7zM2604 3380l12 8 1-18-13-8zM2588 3368l12 7 1-18-13-7zM2509 3208l12 7 0-18-12-8zM2406 3347l13 8-1-19-12-7zM2394 3321l12 8 0-19-13-7zM2418 3336l13 8 0-19-13-8zM2539 3330l13 7 0-18-13-8zM2406 3310l12 7 0-18-12-8zM2431 3325l13 7-1-18-12-8zM2523 3317l13 7 0-18-13-8zM2418 3299l13 7 0-19-13-7z"/><path class="c10" d="M2470 3102l12 7 0-18-12-7zM2593 3169l12 7 1-18-13-7zM2553 3107l12 6 1-18-13-6zM2394 3158l12 7 0-19-12-6zM2522 3518l13 8 0-18-13-8zM2684 3279l13 7 1-18-13-7zM2534 3222l13 7 0-18-13-7z"/><path class="c1" d="M2296 3491l12 7 0-17-12-8zM2284 3466l24 15-1-18-23-15zM2450 3119l12 6 0-18-12-6zM2573 3187l13 7 0-19-12-7zM2391 3499l25 16-1-18-24-16zM2268 3243l24 14 0-18-24-14zM2354 3404l12 7 0-18-13-8zM2327 3242l12 7 0-19-12-7z"/><path class="c0" d="M2678 3490l-16 6 1-18 15-5zM2710 3443l-16 6 1-18 15-6zM2535 3508l-16 6 0-18 16-6zM2578 3120l-32 10 0-18 32-10zM2418 3172l-32 10-1-18 33-11zM2663 3478l-16 6 0-18 16-5zM2695 3431l-16 6 0-18 16-6zM2698 3268l-16 6 0-19 16-5zM2552 3319l-16 5 0-18 16-6zM2584 3418l-16 6 0-19 16-6zM2617 3370l-17 5 1-18 16-6zM2568 3405l-16 6 0-18 16-6zM2601 3357l-17 6 1-19 16-5zM2519 3367l-17 6 0-18 17-6zM2502 3355l-16 6 0-19 16-6zM2536 3306l-17 5 0-18 17-6z"/><path class="c2" d="M2454 3089l12 7-16 5-12-7zM2482 3091l12 6-32 10-12-6zM2538 3094l12 6-16 5-12-6zM2378 3145l12 7-17 5-12-7zM2566 3095l12 7-47 15-13-7zM2406 3146l12 7-49 16-12-7zM2590 3108l13 7-48 15-12-6zM2414 3165l12 7-49 16-12-7zM2446 3112l12 7-16 5-12-7zM2577 3156l13 7-16 5-13-7zM2513 3177l12 7-16 5-13-7zM2606 3158l12 6-32 11-12-7zM2541 3179l13 7-33 11-12-8zM2618 3164l13 7-32 11-13-7zM2570 3180l13 7-16 6-13-7zM2521 3197l13 7-33 11-12-8zM2599 3182l13 7-33 11-12-7zM2550 3198l13 7-16 6-13-7zM2560 3218l13 7-17 6-13-8z"/><path class="c6" d="M2494 3115l-16 5 0-18 16-5zM2460 3327l-16 5-1-18 17-6z"/><path class="c5" d="M2650 3453l13 8-16 5-13-7zM2335 3447l12 8-16 5-12-7zM2351 3423l12 8-16 6-12-8zM2543 3142l12 7-16 5-12-7zM2455 3149l12 7-16 5-12-7zM2555 3379l13 8-16 6-13-8zM2308 3215l12 7-17 6-12-7zM2431 3325l13 7-17 6-13-7zM2490 3328l12 8-16 6-13-8zM2448 3300l12 8-17 6-12-8zM2506 3266l13 8-17 5-12-7z"/><path class="c4" d="M2666 3429l13 8 0-18-13-7zM2335 3447l12 8 0-18-12-8zM2527 3165l12 7 0-18-12-7zM2543 3142l12 7 0-19-12-6zM2347 3437l12 7 0-18-12-7zM2310 3361l12 7 0-18-12-7zM2334 3375l12 8 0-18-12-8zM2370 3380l12 7 0-18-12-8zM2358 3354l12 7 0-18-13-7zM2382 3369l12 7 0-18-12-7zM2370 3343l12 8 0-19-13-7zM2394 3358l12 8 0-19-12-7zM2572 3355l12 8 1-19-13-7zM2324 3191l12 7 0-18-12-7zM2641 3209l13 7 0-18-13-7zM2382 3332l12 8 0-19-13-7zM2344 3218l12 7 0-19-13-7zM2393 3247l12 7 0-19-12-7zM2506 3304l13 7 0-18-13-8zM2456 3340l13 8 0-19-13-8z"/><path class="c3" d="M2490 3127l-16 5 0-18 16-5zM2459 3137l-16 5-1-18 16-5zM2456 3340l-17 6 0-19 17-6z"/><path class="c2" d="M2478 3102l12 7-16 5-12-7zM2359 3426l12 8-17 6-12-8zM2438 3136l13 7-17 5-12-7zM2552 3142l12 7-16 5-12-6zM2371 3434l12 8-17 5-12-7zM2443 3314l13 7-17 6-12-8zM2473 3315l13 8-17 6-13-8z"/><path class="c5" d="M2539 3154l13 7-16 5-13-7zM2382 3369l12 7-16 6-13-7z"/><path class="c1" d="M2342 3450l24 15 0-18-24-15zM2536 3166l25 14 0-19-25-13zM2390 3371l12 8 0-19-12-7zM2427 3338l12 8 0-19-12-8z"/><path class="c0" d="M2322 3350l-17 6 0-18 17-6zM2451 3161l-16 5-1-18 17-5zM2486 3342l-17 6 0-19 17-6zM2519 3293l-17 5 0-19 17-5z"/><path class="c11" d="M2408 3511l12 8-17 6-12-8zM2522 3518l13 8-16 6-13-8zM2285 3256l12 7-17 6-11-8zM2684 3279l13 7-16 6-13-7z"/><path class="c6" d="M2346 3365l-17 5 0-18 17-5zM2358 3354l-17 6 0-19 16-5zM2394 3321l-17 6 0-19 16-5zM2406 3310l-17 6 0-19 17-6z"/><path class="c1" d="M2317 3363l12 7 0-18-12-7zM2403 3525l25 16 0-18-25-16zM2317 3345l24 15 0-19-24-14zM2280 3269l24 14 0-18-24-15zM2341 3341l12 8 0-19-12-7zM2377 3308l12 8 0-19-12-7zM2389 3297l12 7 0-18-12-8z"/><path class="c2" d="M2463 3150l12 6-49 16-12-7zM2520 3153l12 7-16 5-12-7zM2532 3160l13 6-16 6-13-7zM2545 3166l12 7-16 6-12-7zM2557 3173l13 7-16 6-13-7z"/><path class="c0" d="M2519 3532l-17 6 0-18 17-6zM2681 3292l-16 6 1-19 16-5z"/><path class="c9" d="M2382 3405l-16 6 0-18 16-6zM2534 3222l-16 6 0-19 16-5zM2530 3235l-16 6 0-19 16-6z"/><path class="c8" d="M2370 3380l12 7-16 6-13-8zM2394 3376l13 8-17 6-12-8zM2406 3347l13 8-17 5-12-7zM2418 3336l13 8-17 5-12-7z"/><path class="c1" d="M2378 3419l12 7 0-18-12-7zM2366 3393l24 15 0-18-25-15zM2390 3390l12 7 0-18-12-8zM2402 3360l12 8 0-19-12-7zM2414 3349l25 16 0-19-25-15z"/><path class="c3" d="M2370 3343l-17 6 0-19 16-5zM2418 3299l-17 5 0-18 17-6z"/><path class="c9" d="M2419 3392l-17 5 0-18 17-6zM2431 3381l-16 6-1-19 17-6z"/><path class="c1" d="M2415 3405l12 8 0-19-12-7zM2402 3379l13 8-1-19-12-8zM2414 3368l26 15-1-18-25-16zM2401 3286l13 7 0-19-13-7z"/><path class="c8" d="M2431 3381l13 7-17 6-12-7z"/><path class="c2" d="M2518 3209l12 7-16 6-13-7zM2547 3211l13 7-17 5-13-7zM2514 3222l13 7-17 6-13-8zM2510 3235l13 7-17 5-13-7z"/><path class="c7" d="M2530 3235l13 7 0-19-13-7z"/><path class="c3" d="M2456 3396l-16 6 0-19 16-6zM2556 3249l-33 12 0-19 33-11z"/><path class="c1" d="M2427 3394l13 8 0-19-13-7z"/><path class="c2" d="M2543 3223l13 8-33 11-13-7z"/><path class="c0" d="M2431 3287l-17 6 0-19 17-5z"/></g><path class="dot" stroke-width="1.6" d="M255.2 335.6h.01M237.7 334.5h.01M247.6 320.0h.01M272.8 329.4h.01M255.1 355.6h.01M272.4 349.0h.01M224.6 326.5h.01M237.9 354.5h.01M225.0 346.1h.01M265.3 314.2h.01M234.2 312.5h.01M251.7 306.9h.01M245.5 348.3h.01M263.3 322.1h.01M232.0 320.3h.01M279.9 335.8h.01M219.9 332.2h.01M262.8 361.0h.01M232.7 359.0h.01M236.8 307.5h.01M266.6 309.1h.01M251.1 341.7h.01M259.1 358.5h.01M234.6 328.1h.01M221.8 329.3h.01M264.6 317.2h.01M233.1 315.5h.01M276.4 343.2h.01M228.0 352.3h.01"/>
<g class="v" transform="scale(.1)"><path class="c0" d="M924 5689l-22 8-1-23 22-8zM1523 5728l-20 8 0-24 21-8zM1260 5196l-20 6 0-24 21-6zM1486 5702l-21 8 1-24 21-8zM1465 5710l-20 8 0-24 21-8zM1487 5678l-21 8 1-24 20-8zM1445 5718l-21 8 0-24 21-8zM1466 5686l-21 8 1-24 21-8zM1487 5654l-20 8 0-24 21-7zM1445 5694l-21 8 1-24 21-8zM1467 5662l-21 8 0-24 21-8zM1326 5729l-21 8 0-24 22-8zM1446 5670l-21 8 0-24 21-8zM1455 5539l-21 7 0-24 21-7zM1425 5678l-21 8 0-24 21-8zM1446 5646l-21 8 1-24 21-8zM1284 5745l-22 9 0-24 22-9zM1404 5686l-22 8 1-24 21-8zM1447 5622l-21 8 0-24 21-8zM957 5526l-22 8 0-24 22-8zM1490 5559l-21 7 0-24 21-8zM1456 5490l-21 8 1-24 21-8zM1129 5275l-22 7 0-24 21-7zM1355 5288l-21 7 1-25 21-7zM1318 5767l-22 8 0-24 22-8zM956 5478l-22 8-1-25 23-7zM1491 5510l-21 8 1-25 21-7zM1085 5289l-21 7-1-25 22-7zM1296 5775l-22 8 1-24 21-8zM1054 5659l-23 8 0-24 22-8zM1492 5486l-21 7 0-24 21-8zM1292 5309l-22 7 1-25 21-7zM1053 5635l-22 8 0-24 22-8zM1270 5316l-21 7 0-25 22-7zM1053 5611l-22 8-1-25 23-8zM1362 5630l-21 8 0-25 22-8zM1384 5598l-21 7 0-24 21-8zM1428 5508l-21 8 0-25 22-7zM1209 5809l-23 8 0-24 23-8zM1253 5744l-22 8 0-24 22-9zM1297 5678l-22 9 0-25 22-8zM1407 5516l-22 8 1-25 21-8zM1451 5451l-22 8 1-25 21-8zM1494 5387l-21 7 1-25 21-7zM1186 5817l-22 9 0-24 22-9zM1209 5785l-23 8 0-24 23-9zM1231 5752l-22 8 0-24 22-8zM1297 5654l-22 8 0-24 22-9zM1451 5426l-21 8 0-25 22-8zM1473 5394l-21 7 0-25 22-7zM1495 5362l-21 7 0-25 22-8zM1181 5862l-22 8 0-24 22-9zM1186 5793l-22 9 0-25 22-8zM1209 5760l-23 9 0-25 23-8zM1452 5401l-22 8 1-25 21-8zM1474 5369l-22 7 1-25 21-7zM914 5304l-23 7 0-25 22-7zM1535 5339l-21 7 0-25 22-8zM1186 5769l-22 8 0-24 22-9zM1275 5638l-22 8 0-25 23-8zM1051 5488l-22 8-1-25 23-8zM1430 5409l-21 7 0-25 22-7zM1140 5359l-23 7 0-25 22-8zM1452 5376l-21 8 0-26 22-7zM1051 5463l-23 8 0-25 23-8zM1117 5366l-22 7 0-25 22-7zM1152 5649l-22 8-1-25 23-8zM1231 5654l-22 8 0-25 22-8zM1051 5438l-23 8 0-25 22-8zM1365 5457l-22 7 0-25 22-8zM1276 5563l-22 8 0-25 22-8zM1298 5530l-22 8 0-25 22-8zM1254 5571l-23 8 0-25 23-8zM1298 5505l-22 8 0-26 23-7zM1299 5480l-23 7 1-25 22-8zM1209 5511l-23 8 0-26 23-8zM1232 5478l-23 7 0-25 23-8zM1209 5485l-23 8 0-25 23-8zM1186 5493l-23 8 0-25 23-8zM1209 5460l-23 8 0-26 23-8zM1186 5468l-23 8 0-26 23-8z"/><path class="c1" d="M887 5687l15 10-1-23-15-10zM1485 5725l18 11 0-24-17-10zM1223 5194l17 8 0-24-17-8zM923 5666l16 10-1-23-15-10zM939 5676l15 10-1-23-15-10zM923 5643l15 10-1-24-15-10zM954 5686l16 11-1-24-16-10zM938 5653l15 10 0-24-16-10zM922 5619l15 10 0-24-16-9zM953 5663l16 10-1-24-15-10zM937 5629l16 10-1-23-15-11zM1061 5712l16 10-1-23-16-11zM1288 5727l17 10 0-24-17-10zM953 5639l15 10 0-23-16-10zM964 5509l15 10 0-24-16-10zM968 5649l16 11 0-24-16-10zM936 5582l16 10-1-24-15-10zM920 5548l16 10-1-24-15-10zM984 5660l16 10 0-24-16-10zM952 5592l15 10 0-24-16-10zM920 5524l15 10 0-24-16-10zM1091 5273l16 9 0-24-16-9zM918 5476l16 10-1-25-15-9zM1452 5508l18 10 1-25-18-10zM1351 5304l17 9 1-25-17-9zM1065 5760l16 11 0-24-16-11zM918 5452l15 9 0-24-16-10zM1139 5300l17 9 0-25-17-9zM1323 5652l17 10 1-24-18-11zM982 5564l16 10 0-25-16-10zM1156 5309l16 9 0-24-16-10zM1015 5608l16 11-1-25-16-10zM1323 5627l18 11 0-25-17-10zM998 5574l16 10 0-24-16-11zM1172 5318l17 10 0-25-17-9zM1081 5723l16 10 0-24-17-10zM1064 5688l16 11 0-25-16-10zM1047 5653l17 11-1-25-16-10zM965 5481l16 10-1-25-16-10zM932 5412l16 10-1-25-15-9zM916 5378l16 10-1-25-16-9zM1131 5804l16 11 0-24-17-11zM1097 5733l17 11-1-24-16-11zM1064 5664l16 10 0-24-17-11zM981 5491l16 9-1-24-16-10zM948 5422l16 10-1-25-16-10zM932 5388l15 9 0-25-16-9zM915 5354l16 9-1-25-15-9zM1147 5815l17 11 0-24-17-11zM1130 5780l17 11 0-25-17-11zM1114 5744l16 11 0-24-17-11zM1063 5639l17 11-1-25-16-10zM997 5500l16 10-1-24-16-10zM947 5397l16 10 0-25-16-10zM931 5363l16 9-1-24-16-10zM915 5329l15 9 0-25-16-9zM1142 5859l17 11 0-24-17-11zM1147 5791l17 11 0-25-17-11zM1130 5755l17 11 0-24-17-11zM947 5372l16 10-1-25-16-9zM930 5338l16 10 0-25-16-10zM876 5302l15 9 0-25-16-9zM1496 5336l18 10 0-25-18-10zM1147 5766l17 11 0-24-17-11zM1325 5504l17 10 1-25-18-10zM963 5382l16 10-1-26-16-9zM946 5348l16 9 0-25-16-9zM1096 5636l17 10 0-24-17-11zM1325 5479l18 10 0-25-18-10zM1274 5375l17 9 0-25-17-10zM1113 5646l17 11-1-25-16-10zM1192 5651l17 11 0-25-17-10zM1012 5436l16 10 0-25-17-10zM1325 5454l18 10 0-25-17-10zM1291 5384l17 10 0-25-17-10zM1079 5551l16 10 0-25-17-10zM1062 5516l16 10 0-25-17-10zM1045 5481l16 10 0-25-17-10zM1095 5561l17 11 0-25-17-11zM1061 5491l17 10 0-25-17-10zM1112 5572l17 10 0-25-17-10zM1061 5466l17 10-1-26-16-10zM1129 5506l17 11 0-26-18-10zM1128 5481l18 10 0-26-18-10zM1146 5491l17 10 0-25-17-11zM1146 5465l17 11 0-26-18-11z"/><path class="c2" d="M908 5656l15 10-22 8-15-10zM1507 5694l17 10-21 8-17-10zM1244 5163l17 9-21 6-17-8zM1240 5202l16 9-21 6-16-8zM1219 5209l16 8-21 7-16-9zM1256 5211l16 8-21 7-16-9zM1198 5215l16 9-21 7-17-9zM1235 5217l16 9-21 7-16-9zM1272 5219l17 9-21 7-17-9zM1214 5224l16 9-21 6-16-8zM1251 5226l17 9-21 6-17-8zM1438 5505l17 10-21 7-17-10zM1230 5233l17 8-22 7-16-9zM1134 5235l16 9-22 7-16-9zM1247 5241l16 9-21 7-17-9zM1322 5245l17 9-21 7-17-9zM941 5493l16 9-22 8-16-10zM1473 5524l17 10-21 8-17-10zM1112 5242l16 9-21 7-16-9zM1339 5254l17 9-21 7-17-9zM1301 5732l17 11-22 8-17-11zM1069 5256l16 8-22 7-16-9zM1373 5272l17 9-21 7-17-9zM1047 5262l16 9-22 7-16-9zM1390 5281l17 9-21 7-17-9zM1004 5532l16 10-22 7-16-10zM1388 5555l18 10-22 8-17-10zM1101 5273l16 9-21 7-17-9zM1020 5542l16 10-22 8-16-11zM1367 5563l17 10-21 8-18-10zM1348 5295l17 9-22 7-17-9zM981 5283l16 9-22 7-16-9zM1096 5289l16 9-22 8-16-10zM1326 5302l17 9-21 7-17-9zM1442 5309l18 9-21 7-18-9zM959 5290l16 9-23 7-16-9zM997 5292l16 9-22 7-16-9zM1112 5298l16 10-22 7-16-9zM1305 5309l17 9-22 8-17-10zM1421 5316l18 9-22 7-17-9zM1460 5318l18 9-22 7-17-9zM936 5297l16 9-22 7-16-9zM975 5299l16 9-23 7-16-9zM1013 5301l16 9-22 8-16-10zM1128 5308l17 9-22 7-17-9zM1283 5316l17 10-22 7-17-10zM1400 5323l17 9-21 7-18-9zM1439 5325l17 9-21 8-18-10zM1478 5327l18 9-22 8-18-10zM1164 5826l17 11-22 9-17-11zM952 5306l16 9-22 8-16-10zM991 5308l16 10-23 7-16-10zM1417 5332l18 10-22 7-17-10zM1456 5334l18 10-21 7-18-9zM898 5270l15 9-22 7-16-9zM1518 5304l18 9-22 8-18-10zM1258 5602l18 11-23 8-17-11zM968 5315l16 10-22 7-16-9zM1007 5318l16 9-23 7-16-9zM1435 5342l18 9-22 7-18-9zM1118 5603l17 11-22 8-17-11zM1236 5610l17 11-22 8-17-11zM1135 5614l17 10-23 8-16-10zM1214 5618l17 11-22 8-17-10zM1034 5403l16 10-22 8-17-10zM1347 5422l18 9-22 8-17-10zM1173 5352l17 10-22 7-17-9zM1151 5360l17 9-23 8-17-10zM1229 5364l18 10-23 7-17-9zM1128 5367l17 10-23 7-16-9zM1247 5374l17 10-22 7-18-10zM1191 5424l18 10-23 8-18-10zM1168 5432l18 10-23 8-18-11z"/><path class="c6" d="M991 5689l-21 8-1-24 22-8zM1406 5715l-20 8 0-23 21-8zM1470 5620l-20 8 0-24 21-7zM1289 5252l-21 7 0-24 21-7zM1045 5702l-22 7-1-23 22-8zM1386 5723l-22 8 1-23 21-8zM1471 5597l-21 7 1-24 21-7zM1322 5294l-21 7 0-24 21-7zM1348 5697l-21 8 0-24 21-8zM1012 5610l-22 8 0-24 21-8zM1391 5634l-21 8 0-24 21-8zM1225 5297l-21 7 0-25 21-6zM1301 5277l-21 7 0-25 21-7zM1103 5763l-22 8 0-24 22-8zM1257 5773l-21 8 0-24 21-8zM1475 5451l-21 8 0-25 21-7zM1407 5315l-21 7 0-25 21-7zM1236 5781l-22 8 0-24 22-8zM1475 5427l-21 7 1-25 21-7zM1125 5682l-22 8-1-24 22-8zM1241 5690l-22 8 0-25 22-8zM1036 5576l-22 8 0-24 22-8zM1306 5593l-21 8 0-25 22-8zM1345 5595l-21 8 0-24 21-8zM1328 5560l-21 8 0-24 21-8zM1009 5441l-22 8-1-25 22-7zM1394 5464l-22 7 1-24 21-8zM1074 5346l-22 7 0-25 22-7zM1343 5361l-22 7 1-25 21-7zM1008 5417l-22 7 0-25 22-7zM1169 5733l-22 9 0-25 22-8zM1352 5404l-22 8 0-25 22-8zM985 5350l-23 7 0-25 22-7zM1413 5374l-22 7 1-25 21-7zM1169 5709l-22 8 0-24 22-9zM1197 5608l-23 8 0-25 23-8zM1308 5444l-22 8 0-25 22-8zM1040 5361l-23 8 0-25 22-8zM1391 5381l-21 8 0-25 22-8zM1123 5510l-22 8 0-25 22-8zM1241 5517l-22 8 0-25 22-8zM1190 5412l-22 8 0-25 22-8zM1123 5485l-22 8-1-25 23-8zM1169 5534l-23 8 0-25 23-8zM1237 5434l-23 8 0-26 23-7z"/><path class="c7" d="M991 5689l16 10 0-23-16-11zM1406 5715l18 11 0-24-17-10zM1177 5246l16 9 0-24-17-9zM1347 5721l17 10 1-23-17-11zM1391 5634l17 10 0-24-17-10zM1225 5297l17 9 0-24-17-9zM1365 5708l17 10 0-24-17-10zM1391 5610l17 10 1-24-18-10zM1150 5268l16 9 0-24-16-9zM1103 5763l17 10-1-24-16-10zM1257 5773l17 10 1-24-18-10zM1026 5294l16 9-1-25-16-9zM1241 5690l17 10 0-24-17-11zM1036 5576l17 10-1-24-16-10zM1345 5595l18 10 0-24-18-10zM1058 5544l17 10-1-24-16-10zM1394 5464l17 10 1-25-18-10zM1074 5346l16 9 0-25-16-9zM1343 5361l17 9 0-24-17-10zM1211 5321l16 9 0-25-16-9zM1241 5665l17 11 0-24-17-11zM1394 5439l18 10 0-25-18-10zM1169 5733l17 11 0-24-17-11zM1175 5665l17 11 0-25-17-10zM1040 5386l16 10 0-25-16-10zM985 5350l16 9-1-25-16-9zM1413 5374l18 10 0-26-18-9zM1169 5709l17 11 0-25-17-11zM1369 5414l18 10 0-25-17-10zM1001 5359l16 10 0-25-17-10zM1241 5517l18 11 0-25-18-11zM1190 5412l17 10 0-25-17-10zM1241 5492l18 11 0-26-18-10zM1174 5566l17 11 0-26-17-10zM1169 5534l17 11 0-26-17-10z"/><path class="c8" d="M943 5588l16 10-22 7-16-9zM1470 5620l18 11-21 7-17-10zM1454 5563l18 10-21 7-18-10zM1012 5610l16 10-22 8-16-10zM1391 5634l17 10-21 8-17-10zM1370 5642l17 10-21 8-18-11zM958 5550l15 10-22 8-15-10zM1451 5580l17 10-21 8-17-10zM939 5420l16 10-22 7-16-10zM1475 5451l17 10-21 8-17-10zM1125 5682l16 11-22 8-16-11zM1241 5690l17 10-22 8-17-10zM1036 5576l17 10-23 8-16-10zM1345 5595l18 10-22 8-17-10zM1009 5441l16 10-22 7-16-9zM1394 5464l17 10-21 7-18-10zM1211 5321l16 9-21 7-17-9zM1219 5698l17 10-22 9-17-11zM1372 5471l18 10-22 8-17-10zM1169 5733l17 11-22 9-17-11zM1040 5386l16 10-22 7-17-9zM1352 5404l17 10-22 8-17-10zM985 5350l16 9-23 7-16-9zM1413 5374l18 10-22 7-18-10zM1152 5674l17 10-22 9-17-11zM1192 5676l17 11-23 8-17-11zM1001 5359l16 10-23 7-16-10zM1391 5381l18 10-22 8-17-10zM1123 5510l17 11-22 7-17-10zM1241 5517l18 11-23 8-17-11zM1219 5525l17 11-22 7-17-10zM1264 5434l17 10-22 8-17-10zM1117 5427l17 10-23 8-17-10z"/><path class="c4" d="M1045 5702l16 10-1-24-16-10zM964 5533l16 10-1-24-15-10zM1408 5644l17 10 1-24-18-10zM1225 5273l17 9 0-25-17-9zM1301 5277l17 9 0-25-17-9zM1408 5620l18 10 0-24-17-10zM1242 5282l16 8 0-24-16-9zM1306 5665l17 11 0-24-17-11zM1306 5641l17 11 0-25-17-10zM1453 5483l18 10 0-24-17-10zM1156 5334l16 9 0-25-16-9zM1368 5313l18 9 0-25-17-9zM1306 5617l17 10 1-24-18-10zM1172 5343l17 9 0-24-17-10zM1306 5593l18 10 0-24-17-11zM1189 5352l17 10 0-25-17-9zM1258 5700l17 11 0-24-17-11zM1411 5474l18 10 0-25-17-10zM1074 5321l16 9 0-24-16-10zM1343 5336l17 10 1-25-18-10zM1258 5676l17 11 0-25-17-10zM1307 5544l17 10 0-25-17-10zM1412 5449l17 10 1-25-18-10zM1090 5330l16 10 0-25-16-9zM1360 5346l18 9 0-25-17-9zM1307 5519l17 10 1-25-18-10zM1307 5494l18 10 0-25-17-10zM1308 5469l17 10 0-25-17-10zM1273 5400l18 10 0-26-17-9zM1192 5676l17 11 0-25-17-11zM1175 5641l17 10 0-24-18-11zM1308 5444l17 10 1-25-18-10zM1056 5396l17 10-1-25-16-10zM1291 5410l17 9 0-25-17-10zM1040 5361l16 10 0-25-17-10zM1174 5591l18 11-1-25-17-11zM1259 5528l17 10 0-25-17-10zM1190 5387l17 10 0-25-17-10zM1259 5503l17 10 0-26-17-10zM1207 5397l17 10 0-26-17-9zM1106 5400l17 10-1-26-16-9z"/><path class="c3" d="M1347 5721l-21 8 1-24 21-8zM1454 5563l-21 7 1-24 21-7zM1327 5705l-22 8 0-24 22-8zM990 5618l-22 8-1-24 23-8zM958 5550l-22 8-1-24 22-8zM1434 5546l-21 8 0-24 21-8zM1150 5268l-21 7-1-24 22-7zM1225 5273l-21 6 0-24 21-7zM990 5594l-23 8 0-24 22-8zM1204 5279l-21 7 0-24 21-7zM956 5454l-23 7 0-24 22-7zM1064 5296l-22 7-1-25 22-7zM1075 5603l-22 8 0-25 22-7zM1249 5347l-22 8 0-25 22-7zM1075 5579l-22 7-1-24 23-8zM1227 5355l-21 7 0-25 21-7zM1103 5690l-23 9 0-25 22-8zM1307 5568l-22 8 0-24 22-8zM987 5449l-23 7 0-24 22-8zM1074 5321l-22 7-1-25 23-7zM1343 5336l-21 7 0-25 21-7zM1102 5666l-22 8 0-24 22-8zM986 5424l-22 8-1-25 23-8zM1052 5328l-22 7-1-25 22-7zM1322 5343l-22 8 0-25 22-8zM1152 5674l-22 8 0-25 22-8zM1175 5641l-23 8 0-25 22-8zM1073 5431l-22 7-1-25 23-7zM1095 5398l-22 8-1-25 23-8zM1330 5412l-22 7 0-25 22-7zM1352 5379l-22 8 0-26 22-7zM1101 5518l-23 8 0-25 23-8zM1190 5387l-22 8 0-26 22-7zM1101 5493l-23 8 0-25 22-8zM1168 5395l-23 7 0-25 23-8zM1152 5574l-23 8 0-25 23-8zM1264 5409l-22 8 0-26 22-7z"/><path class="c1" d="M969 5673l16 10-1-23-16-11zM937 5605l15 11 0-24-16-10zM1001 5718l16 10-1-24-16-10zM985 5683l15 11 0-24-16-10zM952 5616l16 10-1-24-15-10zM1017 5728l16 11-1-24-16-11zM1322 5748l17 11 0-24-17-11zM1451 5556l18 10 0-24-17-10zM1318 5286l16 9 1-25-17-9zM951 5568l16 10-1-24-15-10zM1322 5700l18 11 0-25-17-10zM967 5578l16 10-1-24-16-10zM951 5544l15 10 0-25-16-9zM1123 5291l16 9 0-25-16-9zM1323 5676l17 10 0-24-17-10zM999 5622l16 10 0-24-16-10zM983 5588l16 10-1-24-16-10zM966 5554l16 10 0-25-16-10zM1015 5632l16 11 0-24-16-11zM999 5598l16 10-1-24-16-10zM950 5495l15 10 0-24-16-10zM1064 5712l17 11-1-24-16-11zM949 5471l16 10-1-25-16-9zM933 5437l15 10 0-25-16-10zM1114 5793l17 11-1-24-16-11zM948 5447l16 9 0-24-16-10zM1114 5769l16 11 0-25-16-11zM1047 5629l16 10 0-24-16-11zM1080 5650l16 10 0-24-17-11zM963 5407l16 9 0-24-16-10zM1113 5696l17 10 0-24-17-11zM1096 5660l17 11 0-25-17-10zM996 5451l16 10 0-25-17-10zM979 5416l16 10 0-25-16-9zM1130 5706l17 11 0-24-17-11zM1113 5671l17 11 0-25-17-11zM1012 5461l16 10 0-25-16-10zM995 5426l17 10-1-25-16-10zM979 5392l16 9-1-25-16-10zM1062 5541l17 10-1-25-16-10zM1056 5371l16 10 0-26-16-9zM1044 5456l17 10 0-26-17-10zM1078 5476l17 10-1-26-17-10zM1112 5521l17 11 0-26-17-10zM1095 5486l17 10-1-25-17-11zM1129 5532l17 10 0-25-17-11zM1112 5496l17 10-1-25-17-10zM1111 5471l17 10 0-26-17-10zM1146 5517l17 10 0-26-17-10z"/><path class="c10" d="M1348 5697l17 11 0-24-17-11zM1026 5524l16 10 0-24-16-10zM1042 5534l16 10 0-24-16-10zM1352 5404l17 10 1-25-18-10z"/><path class="c0" d="M1424 5702l-21 8 1-24 21-8zM1467 5638l-21 8 1-24 21-7zM1382 5742l-22 8 1-24 21-8zM1403 5710l-21 8 0-24 22-8zM1468 5615l-21 7 0-24 21-8zM1489 5583l-21 7 1-24 21-7zM1055 5730l-22 9-1-24 22-8zM1360 5750l-21 9 0-24 22-9zM1382 5694l-21 8 0-24 22-8zM1054 5683l-22 8-1-24 23-8zM1361 5702l-21 9 0-25 21-8zM1313 5302l-21 7 0-25 21-7zM1361 5678l-21 8 0-24 22-8zM1383 5646l-21 8 0-24 22-8zM1405 5614l-21 8 0-24 21-8zM1362 5654l-22 8 1-24 21-8zM1384 5622l-22 8 1-25 21-7zM1405 5590l-21 8 0-25 22-8zM1449 5525l-21 8 0-25 21-7zM1296 5727l-21 8 0-24 22-8zM1449 5501l-21 7 1-24 21-8zM1471 5469l-21 7 1-25 21-7zM1249 5323l-22 7 0-25 22-7zM1231 5800l-22 9 0-24 22-9zM1253 5768l-22 8 0-24 22-8zM1275 5735l-22 9 0-25 22-8zM1297 5703l-22 8 0-24 22-9zM1450 5476l-21 8 0-25 22-8zM1472 5444l-21 7 0-25 21-7zM1494 5412l-22 7 1-25 21-7zM1231 5776l-22 9 0-25 22-8zM1319 5646l-22 8 0-25 22-8zM1472 5419l-21 7 1-25 21-7zM1275 5662l-22 8 0-24 22-8zM1430 5434l-22 7 1-25 21-7zM1209 5736l-23 8 0-24 23-9zM1231 5703l-22 8 0-24 22-8zM1253 5670l-22 9 0-25 22-8zM1364 5507l-22 7 1-25 21-7zM1386 5474l-22 8 1-25 22-8zM1408 5441l-21 8 0-25 22-8zM1209 5711l-23 9 0-25 23-8zM1231 5679l-22 8 0-25 22-8zM1253 5646l-22 8 0-25 22-8zM1364 5482l-21 7 0-25 22-7zM1387 5449l-22 8 0-26 22-7zM1409 5416l-22 8 0-25 22-8zM1320 5522l-22 8 0-25 23-8zM1095 5373l-23 8 0-26 23-7zM1330 5387l-22 7 0-25 22-8zM1321 5497l-23 8 1-25 22-8zM1321 5472l-22 8 0-26 22-7zM1286 5402l-22 7 0-25 22-8zM1276 5487l-22 8 0-25 23-8zM1186 5595l-23 8 0-25 23-8zM1231 5529l-22 8 0-26 22-8zM1254 5495l-23 8 1-25 22-8zM1209 5537l-23 8 0-26 23-8zM1231 5503l-22 8 0-26 23-7zM1254 5470l-22 8 0-26 22-8zM1186 5519l-23 8 0-26 23-8zM1180 5460l-23 8 0-26 23-8z"/><path class="c11" d="M1433 5570l18 10-21 8-17-10zM1175 5665l17 11-23 8-17-10z"/><path class="c2" d="M1193 5231l16 8-21 7-17-9zM1268 5235l16 8-21 7-16-9zM1171 5237l17 9-22 7-16-9zM1209 5239l16 9-21 7-16-9zM1284 5243l17 9-21 7-17-9zM1038 5696l16 11-22 8-16-11zM1344 5716l17 10-22 9-17-11zM1188 5246l16 9-21 7-17-9zM1263 5250l17 9-22 7-16-9zM1166 5253l17 9-22 7-16-9zM1280 5259l17 9-22 7-17-9zM1070 5717l17 11-22 8-17-11zM972 5512l16 10-22 7-16-9zM1431 5540l17 10-21 7-17-10zM1145 5260l16 9-22 6-16-9zM1183 5262l16 9-22 7-16-9zM1258 5266l17 9-21 7-17-9zM1297 5268l16 9-21 7-17-9zM988 5522l16 10-22 7-16-10zM1410 5547l17 10-21 8-18-10zM1161 5269l16 9-21 6-17-9zM1199 5271l17 9-22 7-17-9zM1237 5273l17 9-22 7-16-9zM1275 5275l17 9-21 7-17-9zM1177 5278l17 9-22 7-16-10zM1216 5280l16 9-21 7-17-9zM1254 5282l17 9-22 7-17-9zM1330 5286l18 9-22 7-17-9zM1041 5278l16 9-22 7-16-9zM1079 5280l17 9-22 7-17-9zM1117 5282l17 9-22 7-16-9zM1194 5287l17 9-22 7-17-9zM1232 5289l17 9-22 7-16-9zM1309 5293l17 9-21 7-17-9zM1386 5297l18 9-22 7-17-9zM1019 5285l16 9-22 7-16-9zM1057 5287l17 9-23 7-16-9zM1134 5291l16 10-22 7-16-10zM1288 5300l17 9-22 7-17-9zM1365 5304l17 9-21 8-18-10zM1404 5306l17 10-21 7-18-10zM1035 5294l16 9-22 7-16-9zM1150 5301l17 9-22 7-17-9zM1266 5307l17 9-22 7-17-9zM1382 5313l18 10-22 7-17-9zM1029 5310l16 10-22 7-16-9zM1106 5315l17 9-22 7-17-9zM1300 5326l17 9-21 7-18-9zM1378 5330l18 9-22 8-17-10zM1045 5320l17 9-23 7-16-9zM1084 5322l17 9-23 7-16-9zM1123 5324l16 9-22 8-16-10zM1317 5335l18 9-22 8-17-10zM1357 5337l17 10-22 7-17-10zM1396 5339l17 10-21 7-18-9zM1023 5327l16 9-22 8-17-10zM1062 5329l16 9-22 8-17-10zM1101 5331l16 10-22 7-17-10zM1296 5342l17 10-22 7-17-10zM1335 5344l17 10-22 7-17-9zM1374 5347l18 9-22 8-18-10zM1078 5338l17 10-23 7-16-9zM1195 5345l17 10-22 7-17-10zM1313 5352l17 9-22 8-17-10zM1017 5344l16 9-23 7-16-9zM1212 5355l17 9-22 8-17-10zM1169 5635l17 10-22 9-18-11zM1067 5423l16 10-22 7-17-10zM1303 5437l18 10-22 7-18-10zM1111 5357l17 10-22 8-17-10zM1145 5377l17 10-22 7-18-10zM1224 5381l18 10-23 8-17-10zM1304 5386l18 10-23 7-17-10zM1162 5387l17 9-22 8-17-10zM1202 5389l17 10-22 7-18-10zM1242 5391l17 10-22 8-18-10zM1282 5393l17 10-22 8-18-10zM1140 5394l17 10-23 8-17-10zM1179 5396l18 10-23 8-17-10zM1219 5399l18 10-23 7-17-10zM1157 5404l17 10-23 8-17-10zM1197 5406l17 10-23 8-17-10zM1174 5414l17 10-23 8-17-10zM1214 5416l18 10-23 8-18-10z"/><path class="c5" d="M1022 5686l16 10-22 8-16-10zM1365 5708l17 10-21 8-17-10zM990 5618l16 10-22 8-16-10zM1408 5644l17 10-21 8-17-10zM1006 5628l16 10-22 8-16-10zM1387 5652l17 10-21 8-17-10zM994 5505l16 9-22 8-16-10zM1413 5530l18 10-21 7-18-10zM1010 5514l16 10-22 8-16-10zM1392 5537l18 10-22 8-17-10zM1087 5728l16 11-22 8-16-11zM1279 5740l17 11-21 8-18-10zM1026 5524l16 10-22 8-16-10zM1371 5545l17 10-21 8-17-10zM1042 5534l16 10-22 8-16-10zM1350 5553l17 10-22 8-17-11zM1058 5544l17 10-23 8-16-10zM1328 5560l17 11-21 8-17-11zM1103 5690l16 11-22 8-17-10zM1258 5700l17 11-22 8-17-11zM987 5449l16 9-23 8-16-10zM1411 5474l18 10-22 7-17-10zM1119 5701l17 11-23 8-16-11zM1236 5708l17 11-22 9-17-11zM1091 5564l16 10-22 8-16-10zM1285 5576l17 10-22 8-17-10zM1003 5458l16 10-23 8-16-10zM1390 5481l17 10-21 8-18-10zM1107 5574l17 11-22 8-17-11zM1263 5584l17 10-22 8-17-10zM1124 5585l17 10-23 8-16-10zM1241 5592l17 10-22 8-17-10zM1141 5595l17 10-23 9-17-11zM1219 5600l17 10-22 8-17-10zM1158 5605l16 11-22 8-17-10zM1197 5608l17 10-22 9-18-11zM1017 5394l17 9-23 8-16-10zM1056 5396l17 10-23 7-16-10zM1330 5412l17 10-21 7-18-10zM1369 5414l18 10-22 7-18-9zM1101 5518l17 10-23 8-17-10zM1259 5528l17 10-22 8-18-10zM1089 5415l17 10-23 8-16-10zM1286 5427l17 10-22 7-17-10zM1118 5528l17 11-23 8-17-11zM1236 5536l18 10-23 8-17-11zM1083 5433l17 10-23 7-16-10zM1281 5444l18 10-22 8-18-10z"/><path class="c6" d="M1022 5686l-22 8 0-24 22-8zM1211 5321l-22 7 0-25 22-7zM1036 5527l-23 8 0-25 22-7zM1167 5335l-22 7 0-25 22-7zM1302 5562l-22 8 1-25 22-8zM1017 5394l-22 7-1-25 23-7zM1169 5559l-23 8 0-25 23-8zM1259 5427l-22 7 0-25 22-8z"/><path class="c4" d="M1451 5580l17 10 1-24-18-10zM1305 5689l17 11 1-24-17-11z"/><path class="c1" d="M1000 5670l16 10-1-24-15-10zM1049 5749l16 11 0-24-17-11zM1016 5680l16 11-1-24-16-11zM1000 5646l15 10 0-24-16-10zM1015 5656l16 11 0-24-16-11zM1048 5701l16 11 0-24-16-11zM1081 5747l16 11 0-25-16-10zM1048 5677l16 11 0-24-17-11zM965 5505l16 10 0-24-16-10zM1097 5758l17 11 0-25-17-11zM981 5515l16 10 0-25-16-9zM997 5525l16 10 0-25-16-10zM1113 5720l17 11 0-25-17-10zM1013 5510l16 10 0-24-17-10zM996 5476l16 10 0-25-16-10zM1130 5731l17 11 0-25-17-11zM1012 5486l17 10-1-25-16-10zM1062 5566l17 10 0-25-17-10zM1079 5576l17 10-1-25-16-10zM1147 5693l17 10 0-24-17-11zM1096 5586l16 11 0-25-17-11zM994 5376l17 10-1-26-16-9zM1147 5668l17 11 0-25-18-11zM1112 5597l17 10 0-25-17-10zM1089 5390l17 10 0-25-17-10zM1326 5404l17 10 1-26-18-10zM1112 5547l17 10 0-25-17-11zM1129 5557l17 10 0-25-17-10zM1077 5450l17 10 0-25-17-10zM1060 5415l17 10 0-26-17-10zM1094 5460l17 11 0-26-17-10z"/><path class="c0" d="M1447 5598l-21 8 1-24 21-8zM1383 5670l-22 8 1-24 21-8zM1426 5606l-21 8 0-24 22-8zM1448 5574l-21 8 0-25 21-7zM1427 5582l-22 8 1-25 21-8zM1318 5719l-22 8 1-24 21-8zM1275 5759l-22 9 0-24 22-9zM1318 5695l-21 8 0-25 22-8zM1428 5533l-22 8 1-25 21-8zM1319 5670l-22 8 0-24 22-8zM1406 5541l-21 7 0-24 22-8zM1231 5728l-22 8 0-25 22-8zM1386 5499l-22 8 0-25 22-8zM1298 5580l-22 8 0-25 22-8zM1320 5547l-22 8 0-25 22-8zM1276 5588l-23 8 1-25 22-8zM1298 5555l-22 8 0-25 22-8zM1186 5695l-22 8 0-24 22-9zM1253 5596l-22 8 0-25 23-8zM1186 5670l-22 9 0-25 22-9zM1152 5599l-23 8 0-25 23-8zM1186 5620l-23 9 0-26 23-8zM1231 5554l-22 8 0-25 22-8zM1321 5421l-22 8 0-26 23-7zM1277 5462l-23 8 0-26 23-7zM1299 5429l-22 8 0-26 22-8z"/><path class="c9" d="M1371 5545l-21 8 0-25 21-7zM1306 5617l-22 8 1-24 21-8zM1350 5553l-22 7 0-24 22-8zM1219 5600l-22 8 0-25 22-8zM1040 5386l-23 8 0-25 23-8z"/><path class="c8" d="M1069 5597l16 10-22 8-16-11zM1302 5611l17 10-22 8-17-10zM1167 5335l17 9-22 7-17-9zM1244 5339l17 9-22 8-17-10zM1169 5559l17 11-23 8-17-11zM1100 5417l17 10-23 8-17-10zM1259 5427l18 10-23 7-17-10zM1237 5434l17 10-22 8-18-10z"/><path class="c7" d="M1069 5597l16 10 0-25-16-10zM1036 5527l16 10 0-24-17-10zM1346 5546l17 10 1-24-18-11zM1244 5339l17 9 0-25-17-9zM1352 5379l18 10 0-25-18-10zM1169 5559l17 11 0-25-17-11zM1100 5417l17 10 0-25-17-10zM1259 5427l18 10 0-26-18-10zM1117 5427l17 10 0-25-17-10z"/><path class="c6" d="M1302 5611l-22 8 0-25 22-8zM1346 5546l-22 8 0-25 22-8zM1100 5417l-23 8 0-26 23-7z"/><path class="c0" d="M1385 5548l-22 8 1-24 21-8zM1385 5524l-21 8 0-25 22-8zM1297 5629l-22 9 1-25 22-8zM1052 5513l-23 7 0-24 22-8zM1364 5532l-22 7 0-25 22-7zM1162 5351l-22 8-1-26 23-7zM1387 5399l-22 7 1-25 22-8zM1231 5604l-22 8 0-25 22-8zM1050 5388l-23 7 0-25 23-7zM1365 5406l-22 8 1-26 22-7zM1231 5579l-22 8 0-25 22-8zM1232 5452l-23 8 0-26 23-8z"/><path class="c1" d="M1063 5615l16 10 0-24-16-11zM1324 5529l18 10 0-25-17-10zM1239 5356l17 9 0-25-17-9zM1079 5625l17 11 0-25-17-10zM1256 5365l18 10 0-26-18-9zM1045 5531l17 10 0-25-17-10zM1045 5506l17 10-1-25-16-10zM1192 5602l17 10 0-25-18-10zM1011 5386l16 9 0-25-17-10zM1146 5618l17 11 0-26-17-10zM1044 5405l16 10 0-26-17-9zM1146 5593l17 10 0-25-17-11zM1111 5445l17 10 0-26-17-10zM1128 5455l18 10-1-26-17-10z"/><path class="c2" d="M1085 5582l17 11-23 8-16-11zM1280 5594l18 11-22 8-18-11zM1145 5317l17 9-23 7-16-9zM1261 5323l17 10-22 7-17-9zM1102 5593l16 10-22 8-17-10zM1278 5333l18 9-22 7-18-9zM1178 5336l17 9-22 7-17-9zM1217 5338l17 9-22 8-17-10zM1156 5343l17 9-22 8-17-10zM1234 5347l18 10-23 7-17-9zM1134 5350l17 10-23 7-17-10zM1252 5357l17 9-22 8-18-10zM1370 5364l18 9-22 8-18-10zM1033 5353l17 10-23 7-17-10zM1269 5366l17 10-22 8-17-10zM1348 5371l18 10-22 7-18-10zM1066 5372l17 10-23 7-17-9zM1083 5382l17 10-23 7-17-10zM1122 5384l18 10-23 8-17-10zM1134 5412l17 10-23 7-17-10zM1151 5422l17 10-23 7-17-10z"/><path class="c4" d="M1191 5577l18 10 0-25-18-11z"/><path class="c0" d="M1209 5562l-23 8 0-25 23-8z"/><path class="c1" d="M1140 5458l17 10 0-26-18-11z"/><path class="c2" d="M1163 5424l17 10-23 8-18-11z"/></g><path class="dot" stroke-width="1.9" d="M91.4 530.4h.01M149.6 533.6h.01M116.4 582.6h.01M124.0 520.2h.01M148.6 570.2h.01M92.3 566.6h.01M132.1 548.5h.01M141.7 553.7h.01M131.9 568.2h.01M124.2 562.5h.01M104.5 546.8h.01M97.3 551.0h.01M104.7 566.5h.01M110.4 559.1h.01M112.3 535.4h.01M112.6 528.7h.01M128.2 535.4h.01M129.8 529.6h.01"/>
<g class="v" transform="scale(.1)"><path class="c1" d="M1396 5121l14 9-1-22-14-9zM1820 5148l16 10 0-23-16-9zM1635 4769l15 9 0-23-15-9zM1410 5130l14 10 0-22-15-10zM1836 5158l16 10 0-23-16-10zM1395 5099l14 9 0-22-15-10zM1820 5126l16 9 0-22-16-10zM1880 5036l16 10 1-23-16-9zM1650 4778l16 8 0-23-16-8zM1635 4746l15 9 0-23-15-8zM1424 5140l15 10-1-22-14-10zM1852 5168l16 10 0-23-16-10zM1409 5108l15 10-1-22-14-10zM1836 5135l16 10 0-22-16-10zM1394 5076l15 10-1-22-14-10zM1820 5103l16 10 0-22-16-10zM1896 5046l17 10 0-23-16-10zM1881 5014l16 9 0-22-16-10zM1666 4786l15 9 0-23-15-9zM1650 4755l16 8-1-22-15-9zM1756 4761l16 8 0-23-16-8zM1635 4724l15 8 0-23-15-8zM1439 5150l15 10-1-22-15-10zM1868 5178l16 10 0-23-16-10zM1424 5118l14 10 0-23-15-9zM1852 5145l16 10 0-22-16-10zM1409 5086l14 10 0-23-15-9zM1836 5113l16 10 0-23-16-9zM1394 5054l14 10-1-23-14-9zM1897 5023l16 10 0-23-16-9zM1666 4763l15 9 0-23-16-8zM1772 4769l15 9 1-23-16-9zM1650 4732l15 9 0-23-15-9zM1635 4701l15 8 0-23-15-8zM1454 5160l14 10 0-23-15-9zM1884 5188l16 10 0-23-16-10zM1438 5128l15 10-1-23-14-10zM1868 5155l16 10 0-22-16-10zM1423 5096l15 9-1-22-14-10zM1852 5123l16 10 1-23-17-10zM1408 5064l15 9-1-22-15-10zM1393 5032l14 9 0-22-15-10zM1665 4741l16 8 0-23-16-8zM1650 4709l15 9 0-24-15-8zM1635 4678l15 8 0-23-15-8zM1468 5170l15 10 0-23-15-10zM1900 5198l16 10 1-23-17-10zM1453 5138l15 9-1-22-15-10zM1884 5165l16 10 1-22-17-10zM1438 5105l14 10 0-22-15-10zM1868 5133l16 10 1-23-16-10zM1423 5073l14 10 0-23-15-9zM1407 5041l15 10-1-23-14-9zM1392 5009l15 10-1-23-14-9zM1665 4718l16 8 0-23-16-9zM1650 4686l15 8 0-23-15-8zM1635 4655l15 8 0-23-16-8zM1468 5147l15 10-1-22-15-10zM1900 5175l17 10 0-22-16-10zM1452 5115l15 10 0-23-15-9zM1884 5143l17 10 0-23-16-10zM1437 5083l15 10-1-23-14-10zM1422 5051l15 9-1-22-15-10zM1407 5019l14 9 0-22-15-10zM1549 5028l15 9 0-23-15-9zM1665 4694l16 9 0-23-16-9zM1650 4663l15 8 0-23-15-8zM1467 5125l15 10 0-23-15-10zM1901 5153l16 10 1-23-17-10zM1452 5093l15 9-1-22-15-10zM1437 5060l14 10 0-23-15-9zM1421 5028l15 10-1-23-14-9zM1564 5037l16 10-1-23-15-10zM1549 5005l15 9 0-22-15-10zM1681 4703l15 8 0-23-15-8zM1665 4671l16 9-1-24-15-8zM1467 5102l15 10-1-22-15-10zM1901 5130l17 10 0-23-16-10zM1451 5070l15 10 0-23-15-10zM1436 5038l15 9-1-22-15-10zM1580 5047l15 9 0-22-16-10zM1564 5014l15 10 0-23-15-9zM1533 4950l15 9 0-23-15-9zM1681 4680l15 8 0-23-16-9zM1466 5080l15 10 0-23-15-10zM1610 5089l16 10 0-23-16-10zM1902 5107l16 10 1-23-17-10zM1451 5047l15 10-1-23-15-9zM1595 5056l15 10 0-23-15-9zM1886 5075l16 9 0-23-16-9zM1579 5024l16 10-1-23-15-10zM1564 4992l15 9 0-23-16-9zM1548 4959l15 10 0-23-15-10zM1533 4927l15 9 0-23-16-9zM1696 4688l16 8 0-23-16-8zM1626 5099l15 10 0-23-15-10zM1466 5057l15 10-1-23-15-10zM1610 5066l16 10 0-23-16-10zM1902 5084l17 10 0-23-17-10zM1595 5034l15 9 0-23-16-9zM1579 5001l15 10 0-23-15-10zM1563 4969l16 9-1-23-15-9zM1548 4936l15 10 0-23-15-10zM1532 4904l16 9-1-23-15-9zM1712 4696l15 9 0-24-15-8zM1626 5076l15 10 0-23-15-10zM1610 5043l16 10-1-23-15-10zM1594 5011l16 9 0-23-16-9zM1579 4978l15 10 0-23-16-10zM1563 4946l15 9 0-23-15-9zM1548 4913l15 10-1-23-15-10zM1532 4881l15 9 0-23-15-9zM1574 5241l16 10-1-22-15-11zM1641 5086l16 10 0-23-16-10zM1626 5053l15 10 0-23-16-10zM1610 5020l15 10 0-23-15-10zM1594 4988l16 9-1-23-15-9zM1578 4955l16 10 0-24-16-9zM1563 4923l15 9 0-23-16-9zM1547 4890l15 10 0-24-15-9zM1388 4850l14 9 0-24-15-9zM1532 4858l15 9 0-23-16-9zM1590 5251l15 11 0-23-16-10zM1574 5218l15 11 0-23-16-10zM1657 5096l16 10 0-23-16-10zM1641 5063l16 10 0-23-16-10zM1625 5030l16 10 0-23-16-10zM1610 4997l15 10 0-23-16-10zM1594 4965l15 9 0-23-15-10zM1578 4932l16 9-1-23-15-9zM1562 4900l16 9 0-24-16-9zM1402 4859l15 9-1-24-14-9zM1547 4867l15 9 0-23-15-9zM1387 4826l15 9-1-23-15-9zM1531 4835l16 9-1-24-15-9zM1605 5262l16 11 0-23-16-11zM1589 5229l16 10 0-23-16-10zM1573 5196l16 10 0-23-16-10zM1673 5106l16 10 0-23-16-10zM1657 5073l16 10 0-24-16-9zM1641 5040l16 10 0-24-16-9zM1625 5007l16 10 0-24-16-9zM1609 4974l16 10 0-24-16-9zM1594 4941l15 10 0-23-16-10zM1578 4909l15 9 0-23-15-10zM1417 4868l15 9-1-23-15-10zM1562 4876l16 9-1-23-15-9zM1402 4835l14 9 0-23-15-9zM1547 4844l15 9 0-24-16-9zM1386 4803l15 9-1-23-14-9zM1621 5273l16 10 0-23-16-10zM1605 5239l16 11-1-23-15-11zM1589 5206l16 10-1-23-15-10zM1573 5173l16 10-1-23-15-10zM1673 5083l16 10 0-24-16-10zM1657 5050l16 9 0-23-16-10zM1641 5017l16 9 0-23-16-10zM1625 4984l16 9 0-23-16-10zM1609 4951l16 9 0-23-16-9zM1593 4918l16 10 0-24-16-9zM1432 4877l15 9-1-23-15-9zM1578 4885l15 10 0-24-16-9zM1416 4844l15 10 0-24-15-9zM1562 4853l15 9 0-24-15-9zM1401 4812l15 9-1-24-15-8zM1386 4780l14 9 0-24-15-9zM1637 5283l16 11-1-23-15-11zM1621 5250l16 10-1-23-16-10zM1605 5216l15 11 0-23-16-11zM1589 5183l15 10 0-23-16-10zM1673 5059l16 10 0-23-16-10zM1657 5026l16 10-1-23-15-10zM1641 4993l16 10-1-23-15-10zM1625 4960l16 10-1-24-15-9zM1609 4928l16 9-1-24-15-9zM1447 4886l15 9-1-23-15-9zM1593 4895l16 9-1-24-15-9zM1431 4854l15 9 0-24-15-9zM1577 4862l16 9 0-23-16-10zM1416 4821l15 9-1-24-15-9zM1400 4789l15 8 0-23-15-9zM1385 4756l15 9-1-24-15-8zM1653 5294l16 11 0-23-17-11zM1637 5260l15 11 0-23-16-11zM1620 5227l16 10 0-23-16-10zM1604 5193l16 11 0-23-16-11zM1588 5160l16 10 0-23-16-10zM1673 5036l16 10-1-23-16-10zM1657 5003l15 10 0-24-16-9zM1641 4970l15 10 0-24-16-10zM1625 4937l15 9 0-23-16-10zM1462 4895l15 10 0-24-16-9zM1609 4904l15 9 0-23-16-10zM1905 4922l17 9 0-24-17-9zM1446 4863l15 9 0-24-15-9zM1593 4871l15 9 0-23-15-9zM1431 4830l15 9-1-24-15-9zM1415 4797l15 9 0-23-15-9zM1400 4765l15 9-1-24-15-9zM1840 4790l16 9 1-24-17-9zM1384 4733l15 8-1-23-15-9zM1652 5271l17 11-1-23-16-11zM1636 5237l16 11 0-23-16-11zM1620 5204l16 10 0-23-16-10zM1604 5170l16 11 0-24-16-10zM1672 5013l16 10 0-24-16-10zM1656 4980l16 9 0-23-16-10zM1640 4946l16 10 0-24-16-9zM1624 4913l16 10 0-24-16-9zM1461 4872l16 9-1-24-15-9zM1608 4880l16 10 0-24-16-9zM1905 4898l17 9 1-23-17-10zM1446 4839l15 9-1-23-15-10zM1889 4865l17 9 0-24-17-9zM1430 4806l15 9 0-23-15-9zM1415 4774l15 9-1-24-15-9zM1856 4799l17 9 0-24-16-9zM1399 4741l15 9-1-24-15-8zM1840 4766l17 9 0-24-17-9zM1652 5248l16 11 0-24-16-10zM1636 5214l16 11 0-23-16-11zM1620 5181l16 10 0-23-16-11zM1604 5147l16 10 0-23-16-10zM1672 4989l16 10 0-24-16-9zM1656 4956l16 10 0-24-16-10zM1640 4923l16 9 0-23-16-10zM1624 4890l16 9 0-24-16-9zM1461 4848l15 9 0-23-16-9zM1906 4874l17 10 0-24-17-10zM1445 4815l15 10 0-24-15-9zM1430 4783l15 9-1-24-15-9zM1873 4808l17 9 0-24-17-9zM1414 4750l15 9-1-24-15-9zM1857 4775l16 9 1-24-17-9zM1652 5225l16 10 0-23-16-10zM1636 5191l16 11 0-24-16-10zM1620 5157l16 11 0-24-16-10zM1672 4966l16 9 0-23-16-10zM1656 4932l16 10 0-24-16-9zM1640 4899l16 10 0-24-16-10zM1460 4825l16 9-1-24-15-9zM1906 4850l17 10 0-24-16-10zM1445 4792l15 9-1-24-15-9zM1890 4817l17 9 0-24-17-9zM1429 4759l15 9-1-24-15-9zM1873 4784l17 9 0-24-16-9zM1652 5202l16 10 0-23-16-11zM1636 5168l16 10 0-23-16-11zM1672 4942l16 10 0-24-16-10zM1656 4909l16 9 0-24-16-9zM1460 4801l15 9 0-24-16-9zM1907 4826l16 10 1-25-17-9zM1444 4768l15 9 0-24-16-9zM1890 4793l17 9 0-24-17-9zM1652 5178l16 11 0-24-16-10zM1672 4918l16 10 0-24-16-10zM1459 4777l16 9-1-24-15-9zM1907 4802l17 9 0-24-17-9z"/><path class="c0" d="M2035 5162l-20 7 1-22 19-8zM1586 5142l-20 7 0-22 20-7zM2015 5169l-19 8 0-22 20-8zM1607 5112l-21 8 0-23 20-7zM2035 5139l-19 8 0-22 20-8zM1827 4788l-20 6 0-23 20-6zM1566 5149l-21 8 0-22 21-8zM1996 5177l-20 8 1-23 19-7zM1586 5120l-20 7-1-22 21-8zM2016 5147l-20 8 1-23 19-7zM1606 5090l-20 7 0-22 20-7zM2036 5117l-20 8 1-23 20-8zM1540 5024l-20 7-1-22 21-7zM1807 4794l-20 7 0-23 20-7zM1721 4759l-20 6 0-22 20-7zM1827 4765l-20 6 1-23 19-6zM1847 4735l-20 7 1-23 19-7zM1545 5157l-20 7-1-22 21-7zM1976 5185l-20 7 1-22 20-8zM1566 5127l-21 8 0-23 20-7zM1996 5155l-19 7 0-22 20-8zM1586 5097l-21 8 0-23 21-7zM2016 5125l-19 7 0-22 20-8zM2037 5094l-20 8 1-23 19-7zM1540 5002l-21 7 0-23 21-7zM1701 4765l-20 7 0-23 20-6zM1807 4771l-20 7 1-23 20-7zM1827 4742l-19 6 0-23 20-6zM1847 4712l-19 7 0-23 20-7zM1525 5164l-21 8 0-22 20-8zM1956 5192l-20 8 1-22 20-8zM1545 5135l-21 7 0-22 21-8zM1977 5162l-20 8 0-23 20-7zM1565 5105l-20 7-1-22 21-8zM1997 5132l-20 8 1-23 19-7zM2017 5102l-20 8 1-23 20-8zM2037 5072l-19 7 0-22 20-8zM1808 4748l-20 7 0-23 20-7zM1828 4719l-20 6 0-23 20-6zM1848 4689l-20 7 0-23 20-7zM1504 5172l-21 8 0-23 21-7zM1936 5200l-20 8 1-23 20-7zM1524 5142l-20 8-1-23 21-7zM1957 5170l-20 8 0-23 20-8zM1545 5112l-21 8 0-23 20-7zM1977 5140l-20 7 1-22 20-8zM1997 5110l-19 7 0-23 20-7zM2018 5079l-20 8 1-23 19-7zM1893 5040l-20 8 0-23 20-7zM2038 5049l-20 8 1-23 20-8zM1808 4725l-20 7 0-23 20-7zM1828 4696l-20 6 0-23 20-6zM1848 4666l-20 7 0-24 20-6zM1504 5150l-21 7-1-22 21-8zM1937 5178l-20 7 0-22 20-8zM1524 5120l-21 7 0-22 21-8zM1957 5147l-20 8 1-23 20-7zM1978 5117l-20 8 0-23 20-8zM1998 5087l-20 7 1-22 20-8zM1873 5048l-20 7 0-23 20-7zM2018 5057l-19 7 0-23 20-7zM1808 4702l-20 7 0-24 20-6zM1828 4673l-20 6 0-23 20-7zM1503 5127l-21 8 0-23 21-7zM1937 5155l-20 8 1-23 20-8zM1958 5125l-20 7 0-22 20-8zM1978 5094l-20 8 1-23 20-7zM1853 5055l-20 8 0-23 20-8zM1999 5064l-20 8 0-23 20-8zM1873 5025l-20 7 1-23 20-7zM1788 4709l-20 6 0-23 20-7zM1808 4679l-20 6 0-23 20-6zM1503 5105l-21 7-1-22 21-8zM1938 5132l-20 8 0-23 20-7zM1812 5093l-20 7 0-22 21-8zM1958 5102l-20 8 1-23 20-8zM1833 5063l-20 7 0-23 20-7zM1979 5072l-20 7 0-23 20-7zM1853 5032l-20 8 0-23 21-8zM1874 5002l-20 7 0-23 20-7zM1894 4972l-20 7 0-23 21-7zM1788 4685l-20 7 0-23 20-7zM1502 5082l-21 8 0-23 21-8zM1792 5100l-20 8 0-23 20-7zM1938 5110l-20 7 1-23 20-7zM1813 5070l-21 8 0-23 21-8zM1959 5079l-20 8 0-23 20-8zM1833 5040l-20 7 0-23 20-7zM1854 5009l-21 8 1-23 20-8zM1874 4979l-20 7 0-23 20-7zM1895 4949l-21 7 1-23 20-7zM1748 4722l-21 6 0-23 21-7zM1768 4692l-20 6 0-23 20-6zM1772 5108l-21 8 0-23 21-8zM1502 5059l-21 8-1-23 21-7zM1792 5078l-20 7 0-23 20-7zM1939 5087l-20 7 0-23 20-7zM1813 5047l-21 8 0-23 21-8zM1833 5017l-20 7 0-23 21-7zM1854 4986l-20 8 0-23 20-8zM1874 4956l-20 7 0-23 21-7zM1895 4926l-20 7 0-23 20-7zM1748 4698l-21 7 0-24 21-6zM1772 5085l-21 8 0-23 21-8zM1792 5055l-20 7 0-23 20-7zM1813 5024l-21 8 1-24 20-7zM1834 4994l-21 7 0-23 21-7zM1854 4963l-20 8 0-24 20-7zM1875 4933l-21 7 1-23 20-7zM1895 4903l-20 7 0-24 21-7zM1794 5256l-20 8 0-23 21-8zM1751 5093l-21 7 0-23 21-7zM1772 5062l-21 8 0-23 21-8zM1792 5032l-20 7 0-23 21-8zM1813 5001l-20 7 0-23 20-7zM1834 4971l-21 7 1-23 20-8zM1854 4940l-20 7 0-23 21-7zM1875 4910l-20 7 0-24 20-7zM2043 4888l-20 7 1-24 20-7zM1774 5264l-21 8 0-23 21-8zM1795 5233l-21 8 0-23 21-8zM1730 5100l-20 8 0-23 20-8zM1751 5070l-21 7 0-23 21-7zM1772 5039l-21 8 0-24 21-7zM1793 5008l-21 8 0-23 21-8zM1813 4978l-20 7 0-23 21-7zM1834 4947l-20 8 0-24 20-7zM1855 4917l-21 7 1-23 20-8zM1875 4886l-20 7 0-23 21-7zM2023 4895l-20 7 1-23 20-8zM2044 4864l-20 7 0-23 20-7zM1753 5272l-21 8 0-23 21-8zM1774 5241l-21 8 0-23 21-8zM1795 5210l-21 8 0-23 21-8zM1710 5108l-21 8 0-23 21-8zM1730 5077l-20 8 0-23 20-8zM1751 5047l-21 7 1-23 20-8zM1772 5016l-21 7 0-23 21-7zM1793 4985l-21 8 0-24 21-7zM1814 4955l-21 7 0-24 21-7zM1834 4924l-20 7 0-23 21-7zM1855 4893l-20 8 0-24 20-7zM2003 4902l-20 7 0-23 21-7zM1876 4863l-21 7 1-24 20-7zM2024 4871l-20 8 0-24 20-7zM2044 4841l-20 7 1-24 20-7zM1732 5280l-21 8 0-23 21-8zM1753 5249l-21 8 0-23 21-8zM1774 5218l-21 8 0-23 21-8zM1795 5187l-21 8 0-23 21-8zM1710 5085l-21 8 0-24 21-7zM1730 5054l-20 8 0-24 21-7zM1751 5023l-20 8 0-23 20-8zM1772 4993l-21 7 0-23 21-8zM1793 4962l-21 7 0-23 21-8zM1814 4931l-21 7 0-23 21-7zM1541 4883l-21 7-1-23 22-7zM1835 4901l-21 7 0-24 21-7zM1983 4909l-21 8 1-24 20-7zM1855 4870l-20 7 0-24 21-7zM2004 4879l-21 7 1-24 20-7zM2024 4848l-20 7 1-24 20-7zM2045 4817l-20 7 1-24 20-7zM1711 5288l-21 9 0-23 21-9zM1732 5257l-21 8 0-23 21-8zM1753 5226l-21 8 0-23 21-8zM1774 5195l-21 8 0-23 21-8zM1795 5164l-21 8 0-23 21-8zM1710 5062l-21 7 0-23 21-8zM1731 5031l-21 7 0-23 21-7zM1751 5000l-20 8 0-24 20-7zM1772 4969l-21 8 1-24 20-7zM1793 4938l-21 8 1-24 20-7zM1520 4890l-21 8-1-24 21-7zM1814 4908l-21 7 1-24 20-7zM1962 4917l-20 7 1-24 20-7zM1541 4860l-22 7 0-24 21-7zM1835 4877l-21 7 0-23 21-8zM1983 4886l-20 7 1-24 20-7zM2004 4855l-20 7 0-24 21-7zM2025 4824l-20 7 0-24 21-7zM1603 4768l-21 7 0-23 21-7zM2046 4793l-20 7 0-24 20-6zM1690 5297l-21 8 0-23 21-8zM1711 5265l-21 9 0-24 21-8zM1732 5234l-21 8 0-23 21-8zM1753 5203l-21 8 0-23 21-8zM1774 5172l-21 8 0-23 21-8zM1795 5141l-21 8 1-24 20-8zM1710 5038l-21 8-1-23 22-8zM1731 5008l-21 7 0-23 21-8zM1751 4977l-20 7 0-23 21-8zM1772 4946l-20 7 0-23 21-8zM1499 4898l-22 7 0-24 21-7zM1793 4915l-20 7 0-23 21-8zM1942 4924l-20 7 0-24 21-7zM1519 4867l-21 7 0-24 21-7zM1814 4884l-20 7 0-23 20-7zM1963 4893l-20 7 0-24 21-7zM1984 4862l-20 7 0-24 20-7zM2005 4831l-21 7 1-24 20-7zM1582 4775l-21 7 0-24 21-6zM2026 4800l-21 7 1-24 20-7zM1603 4745l-21 7-1-24 22-7zM2046 4770l-20 6 1-24 20-6zM1690 5274l-21 8-1-23 22-9zM1711 5242l-21 8 0-23 21-8zM1732 5211l-21 8 0-23 21-8zM1753 5180l-21 8 0-23 21-8zM1774 5149l-21 8 0-24 22-8zM1710 5015l-22 8 0-24 22-7zM1731 4984l-21 8 0-24 21-7zM1752 4953l-21 8 0-24 21-7zM1773 4922l-21 8 0-24 21-7zM1498 4874l-21 7-1-24 22-7zM1794 4891l-21 8 0-24 21-7zM1943 4900l-21 7 1-23 20-8zM1519 4843l-21 7-1-23 22-7zM1964 4869l-21 7 1-24 20-7zM1984 4838l-20 7 1-24 20-7zM1561 4782l-21 7-1-24 22-7zM2005 4807l-20 7 1-24 20-7zM1582 4752l-21 6-1-24 21-6zM2026 4776l-20 7 1-24 20-7zM1690 5250l-22 9 0-24 22-8zM1711 5219l-21 8 0-23 21-8zM1732 5188l-21 8 0-23 21-8zM1753 5157l-21 8 0-24 21-8zM1710 4992l-22 7 0-24 22-7zM1731 4961l-21 7 0-24 21-7zM1752 4930l-21 7 0-24 21-7zM1773 4899l-21 7 0-24 21-7zM1498 4850l-22 7 0-23 21-7zM1943 4876l-20 8 0-24 21-8zM1519 4820l-22 7 0-24 21-7zM1964 4845l-20 7 0-24 21-7zM1540 4789l-22 7 0-24 21-7zM1985 4814l-20 7 0-24 21-7zM1561 4758l-22 7 0-24 21-7zM2006 4783l-20 7 0-24 21-7zM1690 5227l-22 8 0-23 22-8zM1711 5196l-21 8 0-23 21-8zM1732 5165l-21 8 0-24 21-8zM1710 4968l-22 7 0-23 22-8zM1731 4937l-21 7 0-24 21-7zM1752 4906l-21 7 0-24 21-7zM1497 4827l-21 7-1-24 22-7zM1944 4852l-21 8 0-24 21-8zM1518 4796l-21 7-1-24 22-7zM1965 4821l-21 7 1-24 20-7zM1539 4765l-21 7-1-24 22-7zM1986 4790l-21 7 1-24 20-7zM1690 5204l-22 8 0-23 22-8zM1711 5173l-21 8 0-24 21-8zM1710 4944l-22 8 0-24 22-8zM1731 4913l-21 7 0-23 21-8zM1497 4803l-22 7 0-24 21-7zM1944 4828l-21 8 1-25 21-7zM1518 4772l-22 7 0-24 21-7zM1965 4797l-20 7 0-24 21-7zM1690 5181l-22 8 0-24 22-8zM1710 4920l-22 8 0-24 22-7zM1496 4779l-21 7-1-24 22-7zM1945 4804l-21 7 0-24 21-7z"/><path class="c5" d="M1561 5039l15 9-20 8-15-10zM1541 5046l15 10-21 7-15-9zM1535 5063l15 10-21 7-15-10zM1550 5073l15 9-21 8-15-10zM1872 5093l17 10-20 7-17-10z"/><path class="c2" d="M1516 4945l14 9-20 7-15-9zM1940 4970l16 9-19 7-17-9zM1754 4595l16 8-20 6-15-8zM1576 5048l15 10-20 7-15-9zM1860 5066l16 10-20 7-16-9zM1495 4952l15 9-21 7-14-9zM1530 4954l15 9-20 7-15-9zM1920 4977l17 9-20 8-16-10zM1956 4979l16 10-19 7-16-10zM1735 4601l15 8-20 6-15-8zM1770 4603l15 8-19 6-16-8zM1556 5056l15 9-21 8-15-10zM1591 5058l15 10-20 7-15-10zM1840 5074l16 9-20 8-16-10zM1876 5076l16 9-20 8-16-10zM1475 4959l14 9-20 7-15-9zM1510 4961l15 9-21 7-15-9zM1545 4963l15 9-20 7-15-9zM1901 4984l16 10-20 7-16-10zM1937 4986l16 10-20 7-16-9zM1972 4989l17 9-20 7-16-9zM1715 4607l15 8-20 6-15-8zM1750 4609l16 8-20 6-16-8zM1785 4611l16 8-20 6-15-8zM1571 5065l15 10-21 7-15-9zM1856 5083l16 10-20 7-16-9zM1454 4966l15 9-21 7-15-9zM1489 4968l15 9-21 7-14-9zM1525 4970l15 9-21 7-15-9zM1917 4994l16 9-20 7-16-9zM1953 4996l16 9-19 7-17-9zM1989 4998l16 9-19 8-17-10zM1695 4613l15 8-20 6-15-8zM1730 4615l16 8-20 6-16-8zM1766 4617l15 8-20 6-15-8zM1801 4619l16 8-20 6-16-8zM1433 4973l15 9-21 7-14-9zM1469 4975l14 9-20 7-15-9zM1504 4977l15 9-21 7-15-9zM1933 5003l17 9-20 8-17-10zM1969 5005l17 10-20 7-16-10zM2005 5007l17 10-20 7-16-9zM1675 4619l15 8-20 7-15-9zM1710 4621l16 8-20 6-16-8zM1746 4623l15 8-20 6-15-8zM1781 4625l16 8-20 6-16-8zM1817 4627l15 8-19 6-16-8zM1413 4980l14 9-21 7-14-9zM1448 4982l15 9-21 7-15-9zM1483 4984l15 9-21 8-14-10zM1950 5012l16 10-20 7-16-9zM1986 5015l16 9-19 8-17-10zM2022 5017l17 9-20 8-17-10zM1716 4751l16 9-20 6-16-8zM1655 4625l15 9-20 6-16-8zM1690 4627l16 8-21 7-15-8zM1726 4629l15 8-20 7-15-9zM1761 4631l16 8-20 7-16-9zM1797 4633l16 8-20 6-16-8zM1832 4635l16 8-20 6-15-8zM1427 4989l15 9-21 8-15-10zM1463 4991l14 10-20 7-15-10zM1966 5022l17 10-20 7-17-10zM2002 5024l17 10-20 7-16-9zM1696 4758l16 8-21 7-15-9zM1732 4760l15 8-20 7-15-9zM1768 4762l15 8-20 7-16-9zM1670 4634l15 8-20 6-15-8zM1706 4635l15 9-20 6-16-8zM1741 4637l16 9-20 6-16-8zM1777 4639l16 8-21 7-15-8zM1813 4641l15 8-20 7-15-9zM1442 4998l15 10-22 7-14-9zM1477 5001l15 9-21 7-14-9zM1983 5032l16 9-20 8-16-10zM1676 4764l15 9-20 7-16-9zM1712 4766l15 9-20 7-16-9zM1747 4768l16 9-20 7-16-9zM1783 4770l16 9-20 7-16-9zM1685 4642l16 8-21 6-15-8zM1721 4644l16 8-21 6-15-8zM1757 4646l15 8-20 6-15-8zM1793 4647l15 9-20 6-16-8zM1457 5008l14 9-21 8-15-10zM1890 5035l16 9-20 8-16-10zM1963 5039l16 10-20 7-16-10zM1655 4771l16 9-21 6-15-8zM1691 4773l16 9-21 6-15-8zM1727 4775l16 9-20 6-16-8zM1763 4777l16 9-20 6-16-8zM1799 4779l16 9-20 6-16-8zM1701 4650l15 8-20 7-16-9zM1737 4652l15 8-20 7-16-9zM1772 4654l16 8-20 7-16-9zM1471 5017l15 10-21 7-15-9zM1507 5020l15 9-21 8-15-10zM1906 5044l17 10-21 7-16-9zM1943 5046l16 10-20 8-16-10zM1635 4778l15 8-20 7-16-9zM1671 4780l15 8-20 7-16-9zM1707 4782l16 8-21 7-16-9zM1743 4784l16 8-21 7-15-9zM1779 4786l16 8-20 7-16-9zM1815 4788l16 9-20 6-16-9zM1716 4658l16 9-20 6-16-8zM1752 4660l16 9-20 6-16-8zM1486 5027l15 10-21 7-15-10zM1923 5054l16 10-20 7-17-10zM1614 4784l16 9-21 7-15-9zM1650 4786l16 9-21 7-15-9zM1686 4788l16 9-21 7-15-9zM1723 4790l15 9-20 7-16-9zM1759 4792l16 9-21 7-16-9zM1795 4794l16 9-20 7-16-9zM1831 4797l16 8-20 7-16-9zM1732 4667l16 8-21 6-15-8zM1594 4791l15 9-21 7-15-9zM1630 4793l15 9-21 7-15-9zM1666 4795l15 9-20 7-16-9zM1702 4797l16 9-21 7-16-9zM1738 4799l16 9-20 7-16-9zM1775 4801l16 9-21 7-16-9zM1811 4803l16 9-20 7-16-9zM1847 4805l17 9-21 7-16-9zM1573 4798l15 9-21 6-15-8zM1609 4800l15 9-20 7-16-9zM1645 4802l16 9-21 7-16-9zM1681 4804l16 9-21 7-15-9zM1718 4806l16 9-21 7-16-9zM1754 4808l16 9-20 7-16-9zM1791 4810l16 9-21 7-16-9zM1827 4812l16 9-20 7-16-9zM1864 4814l16 9-20 7-17-9zM1511 4670l15 8-21 7-15-9zM1946 4693l16 9-20 7-16-9zM1552 4805l15 8-21 7-15-9zM1588 4807l16 9-21 6-16-9zM1624 4809l16 9-21 7-15-9zM1661 4811l15 9-20 7-16-9zM1697 4813l16 9-21 7-16-9zM1734 4815l16 9-21 7-16-9zM1770 4817l16 9-20 7-16-9zM1807 4819l16 9-21 7-16-9zM1843 4821l17 9-21 7-16-9zM1880 4823l16 9-20 7-16-9zM1490 4676l15 9-21 6-15-8zM1526 4678l15 9-21 6-15-8zM1926 4700l16 9-20 6-16-9zM1962 4702l17 9-20 6-17-8zM1567 4813l16 9-21 7-16-9zM1604 4816l15 9-21 7-15-10zM1640 4818l16 9-21 7-16-9zM1676 4820l16 9-21 7-15-9zM1713 4822l16 9-21 7-16-9zM1750 4824l16 9-21 7-16-9zM1786 4826l16 9-20 7-16-9zM1823 4828l16 9-20 7-17-9zM1860 4830l16 9-20 7-17-9zM1469 4683l15 8-21 7-15-9zM1505 4685l15 8-21 7-15-9zM1541 4687l15 8-21 7-15-9zM1906 4706l16 9-20 7-17-9zM1942 4709l17 8-20 7-17-9zM1979 4711l17 8-20 7-17-9zM1636 5080l16 10-21 8-16-10zM1747 5087l16 10-21 8-16-10zM1583 4822l15 10-21 6-15-9zM1619 4825l16 9-21 7-16-9zM1656 4827l15 9-21 7-15-9zM1692 4829l16 9-21 7-16-9zM1729 4831l16 9-21 7-16-9zM1766 4833l16 9-21 7-16-9zM1802 4835l17 9-21 7-16-9zM1839 4837l17 9-21 7-16-9zM1448 4689l15 9-22 6-15-8zM1484 4691l15 9-21 6-15-8zM1520 4693l15 9-21 6-15-8zM1556 4695l16 9-21 6-16-8zM1885 4713l17 9-21 7-16-9zM1922 4715l17 9-21 7-16-9zM1959 4717l17 9-20 7-17-9zM1996 4719l17 9-20 7-17-9zM1615 5088l16 10-22 8-15-10zM1652 5090l16 10-22 8-15-10zM1726 5095l16 10-21 8-16-10zM1763 5097l16 10-21 8-16-10zM1598 4832l16 9-21 7-16-10zM1635 4834l15 9-21 7-15-9zM1671 4836l16 9-21 7-16-9zM1708 4838l16 9-21 7-16-9zM1745 4840l16 9-21 7-16-9zM1782 4842l16 9-21 7-16-9zM1819 4844l16 9-21 8-16-10zM1426 4696l15 8-21 7-15-9zM1463 4698l15 8-22 7-15-9zM1499 4700l15 8-21 7-15-9zM1535 4702l16 8-22 7-15-9zM1572 4704l15 8-21 7-15-9zM1865 4720l16 9-20 6-17-8zM1902 4722l16 9-20 6-17-8zM1939 4724l17 9-21 6-17-8zM1976 4726l17 9-20 6-17-8zM2013 4728l17 9-20 7-17-9zM1594 5096l15 10-21 7-16-10zM1631 5098l15 10-21 8-16-10zM1668 5100l16 10-22 8-16-10zM1705 5103l16 10-21 8-16-11zM1742 5105l16 10-21 8-16-10zM1779 5107l16 10-20 8-17-10zM1614 4841l15 9-21 7-15-9zM1650 4843l16 9-21 7-16-9zM1687 4845l16 9-21 7-16-9zM1724 4847l16 9-21 7-16-9zM1761 4849l16 9-21 7-16-9zM1798 4851l16 10-20 7-17-10zM1405 4702l15 9-22 7-15-9zM1441 4704l15 9-21 7-15-9zM1478 4706l15 9-22 7-15-9zM1514 4708l15 9-21 7-15-9zM1551 4710l15 9-21 7-16-9zM1587 4712l16 9-22 7-15-9zM1844 4727l17 8-21 7-16-9zM1881 4729l17 8-20 7-17-9zM1918 4731l17 8-20 7-17-9zM1956 4733l17 8-21 7-17-9zM1993 4735l17 9-20 6-17-9zM2030 4737l17 9-20 6-17-8zM1609 5106l16 10-21 8-16-11zM1646 5108l16 10-21 8-16-10zM1684 5110l16 11-22 7-16-10zM1721 5113l16 10-21 8-16-10zM1758 5115l17 10-22 8-16-10zM1629 4850l16 9-21 7-16-9zM1666 4852l16 9-21 7-16-9zM1703 4854l16 9-21 7-16-9zM1740 4856l16 9-20 8-17-10zM1777 4858l17 10-21 7-17-10zM1420 4711l15 9-22 6-15-8zM1456 4713l15 9-21 6-15-8zM1493 4715l15 9-21 6-16-8zM1529 4717l16 9-22 6-15-8zM1566 4719l15 9-21 6-15-8zM1861 4735l17 9-21 7-17-9zM1898 4737l17 9-21 7-16-9zM1935 4739l17 9-20 7-17-9zM1973 4741l17 9-21 7-17-9zM2010 4744l17 8-20 7-17-9zM1625 5116l16 10-21 8-16-10zM1662 5118l16 10-21 8-16-10zM1700 5121l16 10-21 8-17-11zM1737 5123l16 10-21 8-16-10zM1645 4859l16 9-21 7-16-9zM1682 4861l16 9-21 8-16-10zM1719 4863l17 10-22 7-16-10zM1756 4865l17 10-21 7-16-9zM1435 4720l15 8-22 7-15-9zM1471 4722l16 8-22 7-15-9zM1508 4724l15 8-21 7-15-9zM1545 4726l15 8-21 7-16-9zM1878 4744l16 9-20 7-17-9zM1915 4746l17 9-21 7-17-9zM1952 4748l17 9-20 7-17-9zM1990 4750l17 9-21 7-17-9zM1641 5126l16 10-21 8-16-10zM1678 5128l17 11-22 8-16-11zM1716 5131l16 10-21 8-16-10zM1661 4868l16 10-21 7-16-10zM1698 4870l16 10-21 7-16-9zM1736 4873l16 9-21 7-17-9zM1450 4728l15 9-22 7-15-9zM1487 4730l15 9-22 7-15-9zM1523 4732l16 9-22 7-15-9zM1894 4753l17 9-21 7-16-9zM1932 4755l17 9-21 7-17-9zM1969 4757l17 9-20 7-17-9zM1657 5136l16 11-21 8-16-11zM1695 5139l16 10-21 8-17-10zM1677 4878l16 9-21 7-16-9zM1714 4880l17 9-21 8-17-10zM1465 4737l15 9-21 7-16-9zM1502 4739l15 9-21 7-16-9zM1911 4762l17 9-21 7-17-9zM1949 4764l17 9-21 7-17-9zM1673 5147l17 10-22 8-16-10zM1693 4887l17 10-22 7-16-10zM1480 4746l16 9-22 7-15-9zM1928 4771l17 9-21 7-17-9z"/><path class="c4" d="M1741 4752l15 9 0-23-15-8zM1756 4738l16 8 0-23-16-8zM1913 5033l16 10 1-23-17-10zM1772 4746l16 9 0-23-16-9z"/><path class="c3" d="M1721 4736l-20 7 0-23 20-7zM1519 5009l-20 7-1-23 21-7zM1701 4743l-20 6 0-23 20-6z"/><path class="c1" d="M1535 5041l15 9-1-22-15-10zM1550 5050l15 10-1-23-15-9zM1534 5018l15 10 0-23-15-9zM1869 5110l16 10 0-23-16-9zM1565 5060l15 9 0-22-16-10zM1534 4996l15 9 0-23-15-9zM1681 4726l15 9 0-24-15-8zM1885 5120l16 10 1-23-17-10zM1580 5069l15 10 0-23-15-9zM1534 4973l15 9-1-23-15-9zM1696 4735l16 8 0-23-16-9zM1595 5079l15 10 0-23-15-10zM1885 5097l17 10 0-23-16-9zM1549 4982l15 10-1-23-15-10zM1696 4711l16 9 0-24-16-8zM1712 4720l15 8 0-23-15-9zM1872 4903l16 9 1-23-17-10zM1823 4805l17 9 0-24-17-9zM1573 5150l15 10 0-23-15-10zM1888 4912l17 10 0-24-16-9zM1872 4879l17 10 0-24-17-9zM1840 4814l16 9 0-24-16-9zM1823 4781l17 9 0-24-16-9zM1573 5127l15 10 0-24-16-10zM1889 4889l16 9 1-24-17-9zM1872 4856l17 9 0-24-16-9zM1856 4823l17 9 0-24-17-9zM1824 4757l16 9 0-24-16-9zM1588 5137l16 10 0-23-16-11zM1873 4832l16 9 1-24-17-9zM1889 4841l17 9 1-24-17-9z"/><path class="c2" d="M1736 4745l16 8-20 7-16-9zM1752 4753l16 9-21 6-15-8zM1498 4993l15 10-21 7-15-9zM1930 5020l16 9-20 8-16-10zM1513 5003l15 9-21 8-15-10zM1910 5027l16 10-20 7-16-9zM1946 5029l17 10-20 7-17-9zM1492 5010l15 10-21 7-15-10zM1528 5012l15 10-21 7-15-9zM1926 5037l17 9-20 8-17-10z"/><path class="c0" d="M1873 5070l-20 8 0-23 20-7zM1544 5090l-20 7-1-22 21-8zM1853 5078l-20 7 0-22 20-8zM1893 5018l-20 7 1-23 20-7zM1788 4732l-20 6 0-23 20-6zM1524 5097l-21 8-1-23 21-7zM1544 5067l-21 8 0-23 21-7zM1833 5085l-21 8 1-23 20-7zM1894 4995l-20 7 0-23 20-7zM1768 4738l-20 7 0-23 20-7zM1523 5075l-21 7 0-23 21-7zM1544 5045l-21 7-1-23 21-7zM1748 4745l-21 7 0-24 21-6zM1768 4715l-20 7 0-24 20-6zM1523 5052l-21 7-1-22 21-8zM1603 4792l-21 7 0-24 21-7zM1582 4799l-21 7 0-24 21-7zM1540 4836l-21 7 0-23 21-7zM1561 4806l-21 7 0-24 21-7zM1540 4813l-21 7-1-24 22-7z"/><path class="c1" d="M1869 5088l16 9 1-22-17-10zM1869 5065l17 10 0-23-16-10zM1712 4743l15 9 0-24-15-8z"/></g><path class="dot" stroke-width="1.9" d="M173.4 475.2h.01"/>
<g class="v" transform="scale(.1)"><path class="c1" d="M1728 5723l16 10-1-23-15-10zM2173 5751l17 11 1-24-17-10zM1697 5657l15 10-1-24-15-10zM1744 5733l15 10-1-23-15-10zM2190 5762l17 10 1-23-17-11zM1696 5633l15 10 0-23-15-10zM1947 5266l16 8 0-24-16-8zM1684 5692l15 10-1-23-15-10zM2133 5720l16 11 1-24-17-10zM1937 5320l16 9 0-24-16-9zM1699 5702l15 10 0-23-16-10zM2149 5731l17 10 1-23-17-11zM2133 5697l17 10 0-24-17-10zM1953 5329l16 9 0-24-16-9zM1937 5296l16 9 0-24-16-9zM1773 5683l16 11-1-24-15-10zM2150 5707l17 11 0-24-17-11zM2226 5712l17 10 1-23-18-11zM1816 5621l15 10 0-24-16-10zM2192 5644l18 10 0-24-17-10zM1800 5587l15 10 0-24-16-9zM1953 5305l16 9 0-24-16-9zM2028 5309l16 9 0-24-16-9zM1848 5665l16 10-1-24-16-10zM1831 5631l16 10 0-24-16-10zM1815 5597l16 10 0-24-16-10zM1799 5564l16 9 0-24-16-9zM1864 5675l16 10-1-24-16-10zM1847 5641l16 10 0-24-16-10zM1831 5607l16 10 0-24-16-10zM1815 5573l16 10-1-24-15-10zM1799 5540l16 9-1-24-16-9zM1880 5685l16 10 0-24-17-10zM1863 5651l16 10 0-24-16-10zM1847 5617l16 10 0-24-16-10zM1831 5583l16 10-1-24-16-10zM1815 5549l15 10 0-24-16-10zM1798 5516l16 9 0-24-16-9zM1896 5695l16 11 0-24-16-11zM1879 5661l17 10-1-24-16-10zM1863 5627l16 10 0-24-16-10zM1847 5593l16 10 0-24-17-10zM1830 5559l16 10 0-24-16-10zM1814 5525l16 10 0-24-16-10zM1798 5492l16 9 0-24-16-9zM1912 5706l17 10-1-24-16-10zM1896 5671l16 11 0-24-17-11zM1879 5637l16 10 0-24-16-10zM1863 5603l16 10 0-24-16-10zM1846 5569l17 10-1-24-16-10zM1830 5535l16 10 0-24-16-10zM1814 5501l16 10-1-24-15-10zM1798 5468l16 9-1-24-16-10zM1918 5849l17 11 0-24-17-11zM1885 5780l16 11 0-24-16-11zM1912 5682l16 10 0-24-16-10zM1895 5647l17 11 0-25-17-10zM1879 5613l16 10 0-24-16-10zM1863 5579l16 10 0-24-17-10zM1846 5545l16 10 0-24-16-10zM1830 5511l16 10 0-25-17-9zM1814 5477l15 10 0-25-16-9zM1722 5439l15 9 0-24-16-9zM1690 5372l15 9-1-25-15-9zM1935 5860l16 11 0-24-16-11zM1885 5756l16 11 0-24-16-11zM1928 5692l17 10 0-24-17-10zM1912 5658l16 10 0-24-16-11zM1895 5623l17 10-1-24-16-10zM1879 5589l16 10 0-24-16-10zM1862 5555l17 10-1-25-16-9zM1846 5521l16 10 0-25-16-10zM1829 5487l17 9-1-24-16-10zM1737 5448l16 10 0-25-16-9zM1813 5453l16 9 0-24-16-10zM2196 5475l17 10 0-25-17-9zM1689 5347l15 9 0-24-16-9zM2145 5373l17 9 1-24-18-10zM1928 5668l17 10 0-24-17-10zM1912 5633l16 11 0-25-17-10zM1895 5599l16 10 0-24-16-10zM1879 5565l16 10 0-25-17-10zM1862 5531l16 9 0-24-16-10zM1846 5496l16 10 0-24-17-10zM1829 5462l16 10 0-25-16-9zM1945 5678l17 11-1-25-16-10zM1928 5644l17 10 0-24-17-11zM1911 5609l17 10 0-24-17-10zM1895 5575l16 10 0-25-16-10zM1878 5540l17 10-1-24-16-10zM1862 5506l16 10 0-25-16-9zM1845 5472l17 10-1-25-16-10zM1829 5438l16 9 0-24-17-10zM1874 5818l16 11 0-24-17-11zM1945 5654l16 10 0-24-16-10zM1928 5619l17 11 0-25-17-10zM1911 5585l17 10 0-25-17-10zM1895 5550l16 10 0-24-17-10zM1878 5516l16 10 0-25-16-10zM1862 5482l16 9 0-24-17-10zM1845 5447l16 10 0-25-16-9zM1676 5405l16 9-1-25-16-9zM1890 5829l17 11 0-24-17-11zM1945 5630l16 10 0-25-16-10zM1928 5595l17 10-1-24-16-11zM1911 5560l17 10 0-24-17-10zM1894 5526l17 10 0-25-17-10zM1878 5491l16 10 0-24-16-10zM1861 5457l17 10-1-25-16-10zM1692 5414l15 10 0-25-16-10zM1945 5605l16 10 0-24-17-10zM1928 5570l16 11 0-25-16-10zM1911 5536l17 10 0-25-17-10zM1894 5501l17 10 0-25-17-9zM1878 5467l16 10 0-25-17-10zM1944 5581l17 10 0-25-17-10zM1928 5546l16 10 0-25-16-10zM1911 5511l17 10-1-25-16-10zM1894 5477l17 9 0-24-17-10zM1944 5556l17 10 0-25-17-10zM1928 5521l16 10 0-25-17-10zM1911 5486l16 10 0-25-16-9zM1944 5531l17 10 0-25-17-10zM1927 5496l17 10 0-25-17-10zM1944 5506l17 10 0-25-17-10z"/><path class="c0" d="M1802 5728l-22 7 0-23 22-8zM2248 5756l-20 8 0-23 21-8zM1844 5666l-21 8-1-24 22-7zM2290 5694l-20 8 1-24 20-8zM2053 5359l-21 6 0-23 21-7zM2095 5297l-21 7 0-24 21-6zM1780 5735l-21 8-1-23 22-8zM2228 5764l-21 8 1-23 20-8zM2291 5670l-20 8 0-23 21-8zM2095 5274l-21 6 0-24 21-6zM1832 5701l-21 8-1-23 22-8zM2284 5730l-21 8 1-24 21-8zM2086 5329l-21 7 0-25 21-6zM1810 5686l-21 8-1-24 22-8zM2264 5714l-21 8 1-23 21-8zM2133 5673l-21 8 0-24 22-7zM1778 5618l-21 8-1-24 22-7zM2155 5642l-21 8 0-24 21-8zM2230 5646l-20 8 0-24 21-7zM2176 5610l-21 8 0-24 21-8zM1990 5307l-21 7 0-24 21-7zM2065 5311l-21 7 0-24 21-7zM2033 5245l-21 7 0-24 21-7zM2112 5681l-21 8 0-24 21-8zM2134 5650l-22 7 1-24 21-7zM2155 5618l-21 8 0-24 21-8zM2176 5586l-21 8 1-24 21-8zM2091 5689l-21 8 0-24 21-8zM2112 5657l-21 8 0-24 22-8zM2134 5626l-21 7 0-24 21-7zM2155 5594l-21 8 0-24 22-8zM2177 5562l-21 8 0-24 21-8zM2070 5697l-22 8 0-24 22-8zM2091 5665l-21 8 0-24 21-8zM2113 5633l-22 8 1-24 21-8zM2134 5602l-21 7 0-24 21-7zM2156 5570l-22 8 1-25 21-7zM2177 5538l-21 8 0-24 21-8zM2048 5705l-21 8 0-24 21-8zM2070 5673l-22 8 1-24 21-8zM2091 5641l-21 8 0-24 22-8zM2113 5609l-21 8 0-24 21-8zM2134 5578l-21 7 0-24 22-8zM2156 5546l-21 7 0-24 21-7zM2177 5514l-21 8 1-25 21-7zM2027 5713l-22 8 0-24 22-8zM2048 5681l-21 8 0-24 22-8zM2070 5649l-21 8 0-24 21-8zM2092 5617l-22 8 0-24 22-8zM2113 5585l-21 8 0-24 21-8zM2135 5553l-22 8 1-24 21-8zM2156 5522l-21 7 0-24 22-8zM2178 5490l-21 7 0-24 21-7zM1995 5854l-22 9 0-24 22-8zM2039 5790l-22 8 0-24 22-8zM2027 5689l-22 8 0-24 22-8zM2049 5657l-22 8 0-24 22-8zM2070 5625l-21 8 0-24 21-8zM2092 5593l-22 8 1-25 21-7zM2113 5561l-21 8 0-25 22-7zM2135 5529l-21 8 0-25 21-7zM2157 5497l-22 8 1-25 21-7zM2255 5470l-21 7 1-24 21-8zM2298 5406l-21 8 1-25 21-7zM1973 5863l-22 8 0-24 22-8zM2039 5766l-22 8 0-24 22-8zM2005 5697l-22 8 0-24 22-8zM2027 5665l-22 8 0-24 22-8zM2049 5633l-22 8 0-25 22-7zM2070 5601l-21 8 0-25 22-8zM2092 5569l-21 7 0-24 21-8zM2114 5537l-22 7 1-24 21-8zM2135 5505l-21 7 0-24 22-8zM1775 5451l-22 7 0-25 22-7zM2157 5473l-21 7 0-24 21-8zM2234 5477l-21 8 0-25 22-7zM1840 5356l-22 7 0-25 22-7zM2299 5382l-21 7 1-25 21-7zM2005 5673l-22 8 0-25 22-7zM2027 5641l-22 8 0-25 22-8zM2049 5609l-22 7 0-24 22-8zM2071 5576l-22 8 0-24 22-8zM2092 5544l-21 8 0-24 22-8zM2114 5512l-21 8 0-25 21-7zM2136 5480l-22 8 1-25 21-7zM1983 5681l-21 8-1-25 22-8zM2005 5649l-22 7 0-24 22-8zM2027 5616l-22 8 0-24 22-8zM2049 5584l-22 8 0-25 22-7zM2071 5552l-22 8 0-25 22-7zM2093 5520l-22 8 0-25 22-8zM2114 5488l-21 7 0-24 22-8zM2136 5456l-21 7 0-25 21-7zM2029 5828l-22 9 0-24 22-9zM1983 5656l-22 8 0-24 22-8zM2005 5624l-22 8 0-24 22-8zM2027 5592l-22 8 0-25 22-8zM2049 5560l-22 7 0-24 22-8zM2071 5528l-22 7 0-25 22-7zM2093 5495l-22 8 0-25 22-7zM2115 5463l-22 8 0-25 22-8zM2292 5440l-21 7 0-24 21-8zM1983 5632l-22 8 0-25 22-7zM2005 5600l-22 8 0-25 22-8zM2027 5567l-22 8 0-24 22-8zM2049 5535l-22 8 0-25 22-8zM2071 5503l-22 7 0-24 22-8zM2093 5471l-22 7 0-25 22-7zM1983 5608l-22 7 0-24 22-8zM2005 5575l-22 8 0-25 22-7zM2027 5543l-22 8 0-25 22-8zM2049 5510l-22 8 1-25 21-7zM2071 5478l-22 8 1-25 21-8zM1983 5583l-22 8 0-25 22-8zM2005 5551l-22 7 0-24 22-8zM2027 5518l-22 8 1-25 22-8zM2049 5486l-21 7 0-25 22-7zM1983 5558l-22 8 0-25 22-7zM2005 5526l-22 8 0-25 23-8zM2028 5493l-22 8 0-25 22-8zM1983 5534l-22 7 0-25 22-7zM2006 5501l-23 8 0-25 23-8zM1983 5509l-22 7 0-25 22-7z"/><path class="c2" d="M1739 5595l15 10-22 7-15-9zM2257 5627l18 10-21 8-17-10zM1989 5228l16 9-21 7-16-9zM2062 5232l17 9-21 7-16-9zM1717 5603l15 9-21 8-15-10zM2275 5637l17 10-21 8-17-10zM1968 5235l16 9-21 6-16-8zM2079 5241l16 9-21 6-16-8zM1768 5568l16 9-22 8-15-10zM2217 5595l18 10-21 8-17-10zM2021 5197l16 9-21 6-16-8zM1747 5575l15 10-22 8-15-10zM1784 5577l16 10-22 8-16-10zM2197 5603l17 10-21 7-17-10zM2235 5605l17 10-21 8-17-10zM2000 5204l16 8-21 7-16-9zM2037 5206l17 8-21 7-17-9zM1794 5652l16 10-22 8-15-10zM2171 5676l17 10-21 8-17-11zM1762 5585l16 10-22 7-16-9zM2214 5613l17 10-21 7-17-10zM1969 5338l17 9-22 7-16-9zM2007 5340l16 9-21 7-16-9zM2044 5342l17 9-22 7-16-9zM2016 5212l17 9-21 7-17-9zM1948 5345l16 9-21 7-16-9zM1986 5347l16 9-21 7-17-9zM2023 5349l16 9-21 7-16-9zM2061 5351l16 10-21 7-17-10zM1927 5352l16 9-22 7-16-9zM1964 5354l17 9-22 7-16-9zM2002 5356l16 9-21 8-16-10zM2039 5358l17 10-21 7-17-10zM2077 5361l17 9-21 7-17-9zM1905 5359l16 9-21 7-16-9zM1943 5361l16 9-21 7-17-9zM1981 5363l16 10-21 7-17-10zM2018 5365l17 10-22 7-16-9zM2056 5368l17 9-22 7-16-9zM2094 5370l17 9-21 7-17-9zM1884 5366l16 9-22 7-16-9zM1921 5368l17 9-22 8-16-10zM1959 5370l17 10-22 7-16-10zM1997 5373l16 9-21 7-16-9zM2035 5375l16 9-21 7-17-9zM2073 5377l17 9-22 7-17-9zM2111 5379l17 9-22 7-16-9zM1862 5373l16 9-22 8-16-10zM1900 5375l16 10-22 7-16-10zM1938 5377l16 10-22 7-16-9zM1976 5380l16 9-22 7-16-9zM2013 5382l17 9-21 7-17-9zM2051 5384l17 9-21 7-17-9zM2090 5386l16 9-21 8-17-10zM2128 5388l17 10-22 7-17-10zM1878 5382l16 10-22 7-16-9zM1916 5385l16 9-21 7-17-9zM1954 5387l16 9-21 7-17-9zM1992 5389l17 9-22 7-17-9zM2030 5391l17 9-22 8-16-10zM2068 5393l17 10-21 7-17-10zM2106 5395l17 10-21 7-17-9zM1733 5309l15 9-22 7-16-9zM1808 5313l16 9-22 7-16-9zM2188 5334l17 9-21 7-17-9zM2264 5338l18 10-21 7-18-9zM1907 5724l16 11-22 8-16-11zM2022 5731l17 11-22 8-17-10zM1856 5390l16 9-21 7-17-9zM1894 5392l17 9-22 7-17-9zM1932 5394l17 9-22 7-16-9zM1970 5396l17 9-22 8-16-10zM2009 5398l16 10-21 7-17-10zM2047 5400l17 10-22 7-17-9zM2085 5403l17 9-21 7-17-9zM2123 5405l18 9-22 8-17-10zM1710 5316l16 9-22 7-16-9zM1824 5322l16 9-22 7-16-9zM2167 5341l17 9-21 8-18-10zM2282 5348l18 9-21 7-18-9zM1872 5399l17 9-22 8-16-10zM1911 5401l16 9-22 8-16-10zM1949 5403l16 10-22 7-16-10zM1987 5405l17 10-22 7-17-9zM2025 5408l17 9-22 7-16-9zM2064 5410l17 9-22 8-17-10zM2102 5412l17 10-21 7-17-10zM1851 5406l16 10-22 7-17-10zM1889 5408l16 10-22 7-16-9zM1927 5410l16 10-21 7-17-9zM1965 5413l17 9-22 8-17-10zM2004 5415l16 9-21 8-17-10zM2042 5417l17 10-22 7-17-10zM2081 5419l17 10-22 7-17-9zM2119 5422l17 9-21 7-17-9zM1867 5416l16 9-22 7-16-9zM1905 5418l17 9-22 8-17-10zM1943 5420l17 10-22 7-16-10zM1982 5422l17 10-22 7-17-9zM2020 5424l17 10-21 7-17-9zM2059 5427l17 9-22 8-17-10zM2098 5429l17 9-22 8-17-10zM1763 5278l16 9-22 7-16-10zM2223 5303l18 9-21 7-18-9zM1883 5425l17 10-23 7-16-10zM1922 5427l16 10-22 7-16-9zM1960 5430l17 9-22 8-17-10zM1999 5432l17 9-22 8-17-10zM2037 5434l17 10-21 7-17-10zM2076 5436l17 10-22 7-17-9zM1741 5284l16 10-23 7-16-10zM1779 5287l16 9-22 7-16-9zM2202 5310l18 9-22 7-17-9zM2241 5312l18 9-22 7-17-9zM1900 5435l16 9-22 8-17-10zM1938 5437l17 10-22 7-17-10zM1977 5439l17 10-22 7-17-9zM2016 5441l17 10-22 8-17-10zM2054 5444l17 9-21 8-17-10zM1757 5294l16 9-23 7-16-9zM2220 5319l17 9-21 8-18-10zM1916 5444l17 10-22 8-17-10zM1955 5447l17 9-23 8-16-10zM1994 5449l17 10-22 7-17-10zM2033 5451l17 10-22 7-17-9zM1933 5454l16 10-22 7-16-9zM1972 5456l17 10-23 8-17-10zM2011 5459l17 9-22 8-17-10zM1949 5464l17 10-22 7-17-10zM1989 5466l17 10-23 8-17-10zM1966 5474l17 10-22 7-17-10z"/><path class="c4" d="M1728 5700l15 10 0-23-16-10zM2174 5728l17 10 0-23-17-10zM1743 5710l15 10 0-23-15-10zM2191 5738l17 11 0-24-17-10zM1711 5643l16 10-1-23-15-10zM1963 5274l16 9 0-24-16-9zM1757 5673l16 10 0-23-16-10zM2209 5702l17 10 0-24-17-10zM1816 5644l16 10-1-23-15-10zM2192 5668l17 10 1-24-18-10zM1800 5611l16 10-1-24-15-10zM2175 5634l17 10 1-24-17-10zM2028 5333l16 9 0-24-16-9zM2012 5300l16 9 0-24-16-9zM1929 5716l16 11 0-25-17-10zM1797 5443l16 10 0-25-16-9zM2178 5466l18 9 0-24-17-10zM2145 5398l17 9 0-25-17-9zM1918 5825l17 11-1-24-16-10zM1721 5415l16 9-1-24-15-10zM1935 5836l16 11 0-24-17-11zM1901 5767l17 11 0-25-17-10zM1945 5702l17 11 0-24-17-11zM1737 5424l16 9-1-24-16-9zM1813 5428l16 10-1-25-16-9zM2196 5451l17 9 1-24-18-10zM1704 5356l16 10-1-25-15-9zM2162 5382l17 10 1-25-17-9zM1951 5799l17 11 0-24-17-11zM1752 5384l16 10-1-25-16-9zM2214 5411l18 9 1-25-18-9z"/><path class="c3" d="M1780 5712l-22 8 0-23 22-8zM2228 5741l-20 8 0-24 21-8zM2271 5678l-21 8 1-24 20-7zM2074 5280l-21 7 0-24 21-7zM1758 5697l-22 8 0-24 21-8zM2208 5725l-21 8 1-23 21-8zM1757 5673l-21 8-1-24 22-7zM2209 5702l-21 8 0-24 21-8zM1779 5642l-22 8 0-24 21-8zM2154 5665l-21 8 1-23 21-8zM2230 5670l-21 8 1-24 20-8zM1800 5611l-22 7 0-23 22-8zM2175 5634l-20 8 0-24 21-8zM1990 5331l-21 7 0-24 21-7zM2012 5300l-22 7 0-24 22-7zM2033 5270l-21 6 0-24 21-7zM2005 5721l-22 8 0-24 22-8zM1797 5443l-22 8 0-25 22-7zM2178 5466l-21 7 0-25 22-7zM1840 5380l-22 7 0-24 22-7zM1995 5831l-22 8 0-24 22-8zM2256 5445l-21 8 0-25 21-7zM1973 5839l-22 8 0-24 22-8zM2017 5774l-22 9 0-25 22-8zM1983 5705l-21 8 0-24 21-8zM1775 5426l-22 7-1-24 22-7zM2157 5448l-21 8 0-25 22-7zM2235 5453l-22 7 1-24 21-8zM1818 5363l-22 7 0-25 22-7zM2278 5389l-21 7 0-25 22-7zM1951 5823l-22 9 0-24 22-9zM1752 5409l-22 7-1-24 23-8zM1951 5799l-22 9 0-25 22-8zM1752 5384l-23 8 0-25 22-7zM2214 5411l-21 7 0-25 22-7z"/><path class="c5" d="M1732 5612l16 10-22 8-15-10zM2254 5645l17 10-20 7-18-10zM1984 5244l16 8-21 7-16-9zM2058 5248l16 8-21 7-16-9zM1726 5630l16 10-22 7-16-10zM2251 5662l17 11-21 7-17-10zM1979 5259l16 8-21 7-16-9zM2053 5263l17 9-21 6-16-8zM1742 5640l15 10-22 7-15-10zM1779 5642l15 10-21 8-16-10zM1816 5644l16 10-22 8-16-10zM2154 5665l17 11-21 7-17-10zM2192 5668l17 10-21 8-17-10zM2230 5670l17 10-21 8-17-10zM1990 5331l17 9-21 7-17-9zM2028 5333l16 9-21 7-16-9zM1995 5267l17 9-22 7-16-9zM2033 5270l16 8-21 7-16-9zM1929 5716l16 11-22 8-16-11zM2005 5721l17 10-22 9-17-11zM1840 5380l16 10-22 7-16-10zM2145 5398l17 9-21 7-18-9zM1786 5320l16 9-22 7-16-9zM2243 5346l18 9-21 7-18-9zM1923 5735l17 10-22 8-17-10zM2000 5740l17 10-22 8-17-10zM1834 5397l17 9-23 7-16-9zM2141 5414l17 10-22 7-17-9zM1726 5325l16 9-23 7-15-9zM1802 5329l16 9-22 7-16-9zM2184 5350l17 10-21 7-17-9zM2261 5355l18 9-22 7-17-9zM1918 5753l16 11-22 9-17-11zM1995 5758l17 11-22 9-17-11zM1719 5341l16 9-22 7-16-9zM1796 5345l16 10-23 7-16-10zM2180 5367l17 9-21 8-18-10zM2257 5371l18 10-21 7-18-9zM1934 5764l17 11-22 8-17-10zM1973 5767l17 11-22 8-17-11zM1735 5350l16 10-22 7-16-10zM1773 5352l16 10-22 7-16-9zM2197 5376l18 10-22 7-17-9zM2236 5379l18 9-21 7-18-9z"/><path class="c4" d="M1758 5697l15 10 0-24-16-10zM2208 5725l17 11 1-24-17-10zM1726 5630l16 10-1-24-15-10zM1979 5259l16 8 0-24-16-8zM1742 5640l15 10 0-24-16-10zM1995 5267l17 9 0-24-17-9zM1951 5823l17 11 0-24-17-11zM1918 5753l16 11 0-24-17-11zM1752 5409l16 9 0-24-16-10zM2214 5436l17 9 1-25-18-9zM1719 5341l16 9 0-25-16-9zM2180 5367l17 9 1-25-18-9zM1934 5764l17 11 0-24-17-11zM1735 5350l16 10 0-25-16-10zM2197 5376l18 10 0-25-17-10z"/><path class="c8" d="M1800 5634l16 10-22 8-15-10zM2175 5658l17 10-21 8-17-11zM2011 5325l17 8-21 7-17-9zM1983 5729l17 11-22 8-16-11zM1818 5387l16 10-22 7-16-9z"/><path class="c6" d="M1800 5634l-21 8-1-24 22-7zM2175 5658l-21 7 1-23 20-8zM2011 5325l-21 6 0-24 22-7zM1797 5419l-22 7-1-24 22-7zM2179 5441l-22 7 1-24 21-8z"/><path class="c7" d="M1800 5634l16 10 0-23-16-10zM2175 5658l17 10 0-24-17-10zM2011 5325l17 8 0-24-16-9zM1797 5419l16 9-1-24-16-9zM2179 5441l17 10 0-25-17-10z"/><path class="c3" d="M2251 5662l-21 8 0-24 21-7zM2053 5263l-20 7 0-25 21-6zM1995 5758l-22 9 0-25 22-8zM2214 5436l-21 7 0-25 21-7zM1796 5345l-23 7 0-24 22-7zM2257 5371l-21 8 1-25 21-8zM1973 5767l-22 8 0-24 22-9zM1773 5352l-22 8 0-25 22-7zM2236 5379l-21 7 0-25 22-7z"/><path class="c0" d="M1736 5705l-22 7 0-23 22-8zM1811 5709l-22 8 0-23 21-8zM2187 5733l-21 8 1-23 21-8zM2263 5738l-20 8 0-24 21-8zM1832 5678l-22 8 0-24 22-8zM2285 5706l-21 8 1-23 20-8zM2251 5639l-21 7 1-23 21-8zM2065 5336l-21 6 0-24 21-7zM2086 5305l-21 6 0-24 21-7zM2054 5239l-21 6 0-24 21-7zM1736 5681l-22 8-1-24 22-8zM2188 5710l-21 8 0-24 21-8zM1828 5413l-22 8 0-25 22-7zM1929 5832l-22 8 0-24 22-8zM2007 5837l-22 8 0-24 22-8zM2029 5804l-22 9 0-25 22-8zM1995 5734l-22 8 0-24 22-8zM1730 5416l-23 8 0-25 22-7zM1806 5421l-22 7 0-25 22-7zM2193 5443l-22 7 0-24 22-8zM2271 5447l-22 8 1-25 21-7zM1828 5389l-22 7 0-25 22-7zM2292 5415l-21 8 1-25 21-8zM1795 5321l-22 7 0-25 22-7zM2258 5346l-21 8 0-26 22-7zM1929 5808l-22 8-1-24 23-9zM2007 5813l-22 8 0-24 22-9zM1973 5742l-22 9 0-25 22-8zM1729 5392l-22 7-1-25 23-7zM1806 5396l-22 7-1-25 23-7zM2193 5418l-22 8 1-26 21-7zM2271 5423l-21 7 0-25 22-7zM1773 5328l-22 7-1-25 23-7zM2237 5354l-22 7 1-25 21-8z"/><path class="c1" d="M1773 5707l16 10 0-23-16-11zM2225 5736l18 10 0-24-17-10zM1683 5669l15 10 0-24-16-10zM1726 5606l15 10-1-23-15-10zM1979 5235l16 8 0-24-16-9zM1698 5679l16 10-1-24-15-10zM1832 5654l16 11-1-24-16-10zM1741 5616l16 10-1-24-16-9zM1995 5243l17 9 0-24-17-9zM2136 5431l18 10 0-25-17-10zM1968 5834l17 11 0-24-17-11zM1873 5794l17 11 0-24-17-11zM1917 5729l17 11 0-24-17-11zM1768 5418l16 10 0-25-16-9zM2154 5441l17 9 0-24-17-10zM2231 5445l18 10 1-25-18-10zM1675 5380l16 9-1-24-15-10zM2137 5406l17 10 0-25-17-10zM1719 5316l16 9-1-24-16-10zM2180 5342l18 9 0-25-17-9zM1890 5805l17 11-1-24-16-11zM1968 5810l17 11 0-24-17-11zM1934 5740l17 11 0-25-17-10zM1691 5389l16 10-1-25-16-9zM1768 5394l16 9-1-25-16-9zM2154 5416l17 10 1-26-18-9zM2232 5420l18 10 0-25-17-10zM1735 5325l16 10-1-25-16-9zM2198 5351l17 10 1-25-18-10z"/><path class="c2" d="M1704 5637l16 10-22 8-16-10zM2268 5673l17 10-20 8-18-11zM1958 5265l16 9-21 7-16-9zM2070 5272l16 8-21 7-16-9zM1720 5647l15 10-22 8-15-10zM2247 5680l18 11-21 8-18-11zM1974 5274l16 9-21 7-16-9zM2049 5278l16 9-21 7-16-9zM1962 5689l16 10-22 8-17-10zM1895 5762l17 11-22 8-17-11zM2012 5769l17 11-22 8-17-10zM1939 5697l17 10-22 9-17-11zM1978 5699l17 11-22 8-17-11zM1697 5348l16 9-23 8-15-10zM1812 5355l16 9-22 7-17-9zM2158 5374l18 10-22 7-17-10zM2275 5381l18 9-21 8-18-10zM1912 5773l17 10-23 9-16-11zM1990 5778l17 10-22 9-17-11zM1956 5707l17 11-22 8-17-10zM1713 5357l16 10-23 7-16-9zM1789 5362l17 9-23 7-16-9zM2176 5384l17 9-21 7-18-9zM2254 5388l18 10-22 7-17-10z"/></g><path class="dot" stroke-width="1.9" d="M204.9 556.0h.01M209.2 554.4h.01M207.0 559.6h.01M203.8 563.7h.01M211.3 560.9h.01M189.5 555.0h.01M186.2 550.6h.01M188.7 560.6h.01M191.1 551.1h.01M198.2 542.2h.01M191.1 540.1h.01M208.5 540.3h.01M196.2 568.9h.01M213.6 543.1h.01M182.8 541.3h.01M217.6 561.0h.01M180.0 558.7h.01M196.9 533.8h.01M213.3 567.3h.01M183.2 565.4h.01"/>
<g class="vf" transform="scale(.1)"><path class="c4" d="M2619 5144l37 23 1-17-38-24zM2225 5132l23 16 0-18-23-15zM2391 5243l37 25 0-18-37-24zM2685 5169l12 8 1-18-13-8zM2177 5015l12 8-1-18-11-7zM2270 5075l11 8 0-18-12-7zM2452 5195l13 8 0-18-13-9zM2445 4624l12 6 0-18-12-6zM2734 4779l13 7 1-18-14-8zM2592 5054l25 16 0-18-25-15zM2204 4964l23 15-1-18-23-15zM2273 5008l12 8 0-18-12-7zM2458 4762l12 6 0-18-13-6zM2259 5121l12 7-1-17-11-8zM2440 5241l13 8 0-18-13-8zM2617 5052l12 7 1-17-13-8zM2270 5111l12 7 0-17-12-8zM2362 5018l12 8 0-18-12-8zM2270 5093l12 8-1-18-11-8zM2452 5213l13 8 0-18-13-8zM2222 4992l11 7 0-18-12-7zM2414 5115l13 8 0-18-13-8zM2646 5018l12 7 1-17-13-8zM2510 4741l12 7 0-19-12-6zM2700 5053l25 15 1-18-26-15zM2526 4699l12 7 0-18-12-7zM2473 4648l12 6 0-18-12-7zM2269 5058l12 7 0-18-12-7zM2285 5034l12 7 0-17-12-8zM2325 4871l24 14 0-18-24-14zM2435 5046l12 8 0-18-12-8zM2207 4859l47 29 0-19-47-28zM2447 5036l25 15 0-18-25-16zM2361 4856l12 7 0-18-13-7zM2271 4882l12 7-1-18-12-7zM2673 4906l13 7 1-18-14-7zM2360 4838l13 7-1-18-12-8zM2181 4735l12 7-1-19-12-7zM2252 4777l12 7-1-19-12-7zM2213 4688l12 6 0-18-12-7zM2486 5236l12 9 0-18-12-9zM2265 4840l12 7-1-19-12-7zM2264 4821l12 7 0-18-12-7zM2427 5142l13 8 0-18-13-9zM2701 4828l13 7 1-19-14-7zM2297 4754l12 7 0-18-12-7zM2688 4783l14 7 0-19-13-7z"/><path class="c0" d="M2803 5131l-15 6 0-17 16-6zM2819 5090l-15 6 1-17 15-6zM2395 5077l-32 12 0-18 32-11zM2331 5101l-16 6-1-18 17-6zM2611 4633l-15 4 0-18 15-5zM2585 4781l-16 5 0-18 16-5zM2601 4758l-32 10 0-18 32-10zM2344 4843l-17 6 0-19 17-5zM2616 4734l-15 6 0-18 16-6zM2569 4750l-15 5 0-18 16-5zM2360 4819l-33 11 0-18 33-11zM2294 4841l-17 6-1-19 17-5zM2770 5139l-31 12 1-17 31-12zM2786 5116l-15 6 0-18 16-6zM2740 5134l-16 6 0-18 16-6zM2515 5220l-17 7 0-19 17-6zM2617 4716l-16 6 0-19 16-5zM2554 4737l-32 11 0-19 32-10zM2360 4801l-33 11-1-19 34-11zM2293 4823l-17 5 0-18 17-6zM2632 4693l-31 10 0-18 31-10zM2554 4719l-16 5 0-18 16-5zM2376 4777l-16 5-1-18 17-5zM2326 4793l-50 17 0-19 50-16zM2331 5118l-16 6 0-17 16-6zM2363 5071l-49 18 0-18 49-17zM2787 5098l-16 6 1-18 15-6zM2740 5116l-16 6 1-18 15-6zM2548 5189l-50 19 0-18 50-19zM2803 5074l-31 12 0-18 31-11zM2740 5098l-15 6 0-18 16-6zM2548 5171l-16 7 0-19 16-6zM2498 5190l-33 13 0-18 33-13zM2632 4675l-46 15 0-18 47-15zM2554 4701l-16 5 0-18 16-6zM2326 4775l-17 5 0-19 17-5zM2363 5054l-16 5-1-17 17-6zM2314 5071l-33 12 0-18 33-12zM2772 5068l-47 18 0-18 48-17zM2548 5153l-16 6 0-18 16-6zM2498 5172l-16 6 0-18 16-6zM2617 5034l-80 29 0-18 80-29zM2696 5120l-16 6 0-18 16-6zM2584 5163l-16 6 0-18 16-6zM2585 5064l-48 17 0-18 48-17zM2773 5051l-16 5 0-18 16-5zM2548 5135l-16 6 0-18 16-6zM2617 5016l-96 35 0-18 96-35zM2633 4993l-128 46 0-18 128-46zM2665 4945l-193 70 0-19 194-69zM2586 4672l-48 16 0-19 48-15zM2326 4756l-17 5 0-18 17-6zM2696 5102l-16 6 1-18 15-6zM2584 5145l-16 6 0-18 16-6zM2314 5053l-33 12 0-18 33-11zM2633 4975l-161 58 0-18 162-58zM2666 4927l-194 69 0-18 194-69zM2510 4723l-16 5 0-19 16-5zM2666 4909l-194 69 0-19 194-68zM2510 4704l-16 5 0-18 16-5zM2634 4902l-162 57 0-18 163-57zM2794 4887l-15 5 0-18 16-5zM2811 4863l-16 6 0-19 16-5zM2619 4890l-147 51 0-19 147-51zM2619 4871l-147 51 0-18 147-51zM2603 4858l-131 46 0-19 131-45zM2810 4820l-16 6 0-19 16-5zM2762 4837l-16 6 0-19 16-6zM2826 4796l-32 11 1-18 31-11zM2762 4818l-16 6 1-19 16-5zM2814 4752l-16 5 0-18 16-6zM2762 4856l-48 17 0-19 48-17zM2795 4789l-48 16 0-19 48-16zM2469 5152l-17 6 0-18 17-7zM2486 5127l-17 6 0-18 17-6zM2701 4809l-16 6 0-19 17-6z"/><path class="c6" d="M2388 5056l-16 6 0-17 16-6zM2788 5137l-16 6 1-17 15-6zM2672 5161l-16 6 1-17 15-6zM2352 5116l-16 6 0-17 16-6zM2804 5096l-15 6 0-18 16-5zM2449 4761l-15 5 0-18 15-5zM2438 4736l-16 5 0-17 15-6zM2264 5142l-16 6 0-18 16-6zM2713 5171l-16 6 1-18 15-6zM2473 5264l-16 6 0-18 16-6zM2383 5052l-16 6 0-18 16-5zM2808 5030l-15 6 0-18 15-6zM2440 5168l-17 6 0-18 17-6zM2437 4718l-15 6 0-18 15-6zM2596 4637l-16 5 0-18 16-5zM2239 4751l-17 6 0-19 17-6zM2248 5130l-17 6 0-17 16-6zM2589 4715l-32 10 0-18 32-10zM2670 5140l-16 6 0-18 16-6zM2657 5114l-16 6 1-17 15-6zM2790 5049l-15 6 0-18 16-6zM2469 5170l-17 6 0-18 17-6zM2216 4989l-17 6 0-18 16-6zM2711 5150l-16 6 0-18 16-6zM2568 5205l-17 6 0-18 17-6zM2486 5236l-17 7 0-18 17-7zM2247 5095l-16 6-1-17 17-6zM2657 5097l-15 6 0-18 16-6zM2645 5071l-16 6 0-18 16-5zM2778 5006l-15 6 0-18 16-6zM2473 4720l-16 6 0-19 16-5zM2605 4655l-16 5 0-18 16-5zM2247 5078l-17 6 0-18 16-6zM2235 5052l-17 6 0-17 16-6zM2645 5054l-16 5 1-17 15-6zM2633 5028l-16 6 0-18 16-6zM2473 4702l-16 5 0-18 16-5zM2461 4678l-16 5 0-19 16-5zM2711 5114l-15 6 0-18 16-6zM2568 5169l-17 6 1-18 16-6zM2234 5035l-16 6-1-18 17-6zM2350 4993l-16 6 0-18 16-6zM2712 5096l-16 6 0-18 16-6zM2568 5151l-16 6 0-18 16-6zM2318 5022l-16 6-1-18 17-6zM2306 4997l-16 6-1-18 17-6zM2526 4717l-16 6 0-19 16-5zM2700 5053l-16 6 0-18 16-6zM2555 5107l-16 6 0-18 16-7zM2514 4674l-16 5 0-18 16-5zM2571 5208l-16 6 0-17 16-7zM2521 5051l-16 6 0-18 16-6zM2349 4867l-17 6 0-19 17-5zM2811 4845l-16 5 1-18 16-6zM2635 4866l-16 5 0-18 16-6zM2444 5262l-16 6 0-18 16-6zM2218 4848l-16 5-1-18 17-6zM2385 4734l-17 5 0-18 16-5zM2702 4908l-16 5 1-18 16-6zM2206 4804l-17 5-1-18 17-5zM2194 4779l-17 5-1-18 17-6zM2428 5250l-17 7 0-18 17-7zM2270 4864l-16 5-1-18 17-6zM2193 4760l-17 6 0-19 17-5zM2813 4771l-16 5 1-19 16-5zM2427 5214l-16 7 0-18 16-7zM2798 4757l-16 6 0-19 16-5zM2427 5196l-16 7 0-19 16-6zM2415 5170l-17 6 0-18 17-6zM2687 4858l-16 6 0-19 16-6zM2415 5152l-17 6 0-18 16-6zM2402 5126l-17 6 0-19 17-6zM2687 4839l-16 6 1-19 16-5zM2675 4813l-17 6 1-19 16-5zM2252 4795l-17 6 0-19 17-5zM2675 4795l-16 5 0-19 16-5zM2662 4769l-16 5 0-19 16-5zM2486 5146l-17 6 0-19 17-6z"/><path class="c3" d="M2603 4781l-15 6 0-18 16-5zM2316 4878l-33 11-1-18 34-11zM2352 5134l-32 11 0-17 32-12zM2772 5161l-46 18 0-18 46-18zM2535 5253l-16 6 0-17 16-7zM2502 5266l-16 6 0-18 16-6zM2804 5114l-16 6 1-18 15-6zM2469 5243l-16 6 0-18 16-6zM2770 4990l-16 6 1-18 15-6zM2635 4717l-16 6 1-18 15-5zM2265 4840l-17 5 0-18 16-6zM2292 5144l-16 6 0-18 16-6zM2820 5055l-15 6 1-18 15-6zM2452 5195l-16 6 0-18 16-7zM2795 5005l-15 5 1-17 15-6zM2669 5157l-15 6 0-17 16-6zM2379 5048l-16 6 0-18 16-6zM2794 5000l-16 6 1-18 15-6zM2569 4768l-15 5 0-18 15-5zM2360 4838l-16 5 0-18 16-6zM2620 4650l-15 5 0-18 15-5zM2297 4754l-34 11 0-18 34-11zM2791 5031l-16 6 1-18 15-6zM2363 5036l-17 6 0-18 16-6zM2617 5052l-16 6 0-18 16-6zM2554 4755l-32 11 0-18 32-11zM2377 4814l-17 5 0-18 16-5zM2695 5138l-15 6 0-18 16-6zM2584 5181l-16 6 0-18 16-6zM2362 5018l-16 6 0-18 16-6zM2633 5010l-16 6 0-18 16-5zM2461 4659l-16 5 0-18 16-5zM2270 5093l-17 6 0-18 17-6zM2510 4741l-16 5 0-18 16-5zM2264 4821l-16 6-1-19 17-5zM2270 5075l-17 6 0-18 16-5zM2526 4699l-16 5 0-18 16-5zM2269 5058l-16 5-1-17 17-6zM2684 5059l-16 6 0-18 16-6zM2572 5101l-17 6 0-19 17-6zM2729 5037l-16 6 0-19 16-5zM2498 4679l-16 5 0-18 16-5zM2384 4716l-16 5 0-19 16-5zM2542 4657l-16 5 0-18 16-5zM2314 4730l-17 6-1-19 17-5zM2666 4891l-32 11 1-18 31-11zM2537 5063l-16 6 0-18 16-6zM2551 5229l-16 6 0-18 16-6zM2635 4884l-16 6 0-19 16-5zM2779 4892l-64 23 1-18 63-23zM2827 4821l-15 5 0-18 16-6zM2546 5085l-16 6 0-18 16-6zM2505 5039l-33 12 0-18 33-12zM2397 4759l-16 6-1-19 17-5zM2803 4733l-16 5 0-19 16-5zM2584 5127l-16 6 0-18 16-6zM2271 4882l-17 6 0-19 16-5zM2619 4853l-16 5 0-18 16-6zM2254 4869l-17 6-1-18 17-6zM2265 4858l-17 6 0-19 17-5zM2452 5213l-16 6 0-18 16-6zM2252 4777l-17 5-1-18 17-6zM2717 4804l-16 5 1-19 16-5zM2692 4752l-16 5 0-19 16-5zM2750 4755l-16 5 1-19 16-5z"/><path class="c2" d="M2535 4588l12 6-16 5-12-7zM2441 4617l12 6-16 5-12-6zM2197 4693l11 7-16 5-12-7zM2284 4919l12 7-32 11-12-7zM2236 4935l11 8-32 11-12-8zM2312 4920l12 8-49 16-11-7zM2231 4948l12 7-17 6-11-7zM2702 4944l12 7-46 17-13-7zM2730 4946l12 7-15 5-13-7zM2683 4962l13 8-16 5-12-7zM2324 4928l11 7-16 5-12-7zM2226 4961l12 7-17 6-11-7zM2742 4953l13 7-15 6-13-8zM2504 4579l12 7-16 4-12-6zM2246 4659l12 6-33 11-12-7zM2559 4582l12 6-47 15-12-6zM2303 4662l12 7-33 10-12-7zM2335 4935l12 7-16 6-12-8zM2755 4960l13 7-15 6-13-7zM2517 5047l13 8-16 6-13-8zM2516 4586l12 6-16 5-12-7zM2291 4655l12 7-66 21-12-7zM2571 4588l13 7-32 10-12-7zM2331 4663l12 7-49 16-12-7zM2608 4626l12 6-15 5-13-6zM2268 4734l12 7-17 6-12-8zM2763 4994l13 7-16 6-13-8zM2566 4762l12 7-193 65-13-7zM2334 4999l12 7-16 6-12-8zM2466 4762l12 7-65 22-12-7zM2494 4764l12 7-97 32-12-7zM2522 4766l12 7-129 43-12-8zM2422 4766l12 7-33 11-12-7zM2563 4774l12 7-178 60-12-7zM2671 5033l13 8-16 6-13-8zM2559 5075l13 7-17 6-12-7zM2289 4985l12 7-16 6-12-7zM2575 4781l13 7-179 60-12-7zM2604 4783l12 7-194 65-13-7zM2600 4795l13 7-179 61-12-8zM2324 4663l12 7-16 5-12-6zM2581 4813l13 7-147 50-13-7zM2691 4677l13 7-48 16-13-7zM2720 4679l13 6-32 11-13-7zM2748 4680l13 7-47 16-13-7zM2578 4826l12 7-131 45-12-8zM2761 4687l14 7-16 5-13-7zM2590 4833l13 7-131 45-13-7zM2343 4670l12 7-16 5-12-7zM2775 4694l13 7-16 5-13-7zM2801 4726l13 7-16 6-13-7z"/><path class="c1" d="M2178 5050l12 7-1-17-11-7zM2354 5166l12 8 0-18-13-8zM2603 5132l51 31 0-17-50-31zM2591 5107l63 39 0-18-63-38zM2422 4759l12 7 0-18-12-7zM2410 4735l12 6 0-17-12-7zM2632 4860l39 22 0-18-39-22zM2197 5113l34 23 0-17-34-23zM2374 5232l37 25 0-18-37-25zM2185 5088l58 38-1-17-57-38zM2362 5206l61 41 0-18-62-41zM2591 5090l50 30 1-17-51-31zM2410 4717l12 7 0-18-12-7zM2434 4730l36 20 0-18-37-20zM2645 4849l26 15 0-19-26-15zM2185 5071l46 30-1-17-46-31zM2361 5188l50 33 0-18-50-33zM2173 5046l57 38 0-18-58-38zM2242 5091l11 8 0-18-12-8zM2349 5162l62 41 0-19-62-40zM2423 5211l13 8 0-18-13-8zM2591 5072l51 31 0-18-50-31zM2654 5110l26 16 0-18-25-15zM2410 4699l47 27 0-19-47-26zM2632 4823l39 22 1-19-40-22zM2172 5028l46 30 0-17-46-30zM2349 5144l49 32 0-18-49-32zM2410 4681l47 26 0-18-48-26zM2469 4714l25 14 0-19-25-13zM2632 4804l26 15 1-19-26-14zM2188 4987l11 8 0-18-12-7zM2440 5150l12 8 0-18-12-8zM2409 4663l36 20 0-19-36-19zM2482 4703l12 6 0-18-12-7zM2620 4779l39 21 0-19-39-21zM2672 4807l13 8 0-19-13-7zM2617 5070l12 7 0-18-12-7zM2667 5100l13 8 1-18-13-7zM2206 5033l12 8-1-18-11-8zM2229 5048l24 15-1-17-23-16zM2373 5142l25 16 0-18-25-16zM2410 5166l13 8 0-18-13-8zM2326 4943l146 90 0-18-146-90zM2642 5067l39 23 0-18-39-23zM2374 5026l12 7 0-18-12-7zM2411 5049l24 15 0-18-24-15zM2362 5000l73 46 0-18-73-45zM2350 4975l97 61 0-19-97-60zM2326 4925l146 90 0-19-146-89zM2326 4907l146 89 0-18-147-89zM2229 5030l12 8-1-18-12-8zM2655 5057l13 8 0-18-13-8zM2700 5035l13 8 0-19-13-7zM2325 4889l147 89 0-19-147-88zM2526 4681l12 7 0-19-12-7zM2354 5184l12 8 0-18-12-8zM2349 4885l123 74 0-18-123-74zM2183 4826l12 7 0-18-12-7zM2361 4874l111 67 0-19-111-66zM2190 4846l12 7-1-18-12-7zM2213 4860l24 15-1-18-23-15zM2178 4821l11 7 0-19-12-7zM2225 4849l23 15 0-19-24-14zM2166 4795l23 14-1-18-23-14zM2212 4824l36 21 0-18-36-22zM2373 4863l99 59 0-18-99-59zM2165 4777l12 7-1-18-11-7zM2212 4805l36 22-1-19-35-21zM2373 4845l99 59 0-19-100-58zM2165 4759l11 7 0-19-12-7zM2188 4773l47 28 0-19-48-28zM2180 4716l12 7 0-18-12-7zM2251 4758l12 7 0-18-12-8zM2700 4865l14 8 0-19-13-7zM2199 4761l36 21-1-18-35-21zM2701 4847l13 7 0-19-13-7zM2633 4767l13 7 0-19-13-7zM2264 4803l12 7 0-19-12-7zM2721 4753l13 7 1-19-14-7zM2264 4784l12 7-1-19-12-7z"/><path class="c5" d="M2492 4591l12 6-16 5-12-6zM2460 4601l12 6-15 5-12-6zM2587 4602l12 6-16 5-12-6zM2599 4608l12 6-15 5-13-6zM2360 4683l12 7-16 5-12-6zM2806 5043l13 8-16 6-13-8zM2655 4961l13 7-16 6-13-8zM2447 5036l13 7-17 6-12-8zM2204 4964l11 7-16 6-12-7zM2794 5000l13 8-16 5-13-7zM2425 4640l12 6-16 5-12-6zM2620 4650l13 7-16 5-12-7zM2554 4755l12 7-32 11-12-7zM2393 4808l12 8-33 11-12-8zM2776 5019l13 8-32 11-13-7zM2535 5109l13 8-50 18-12-8zM2482 4757l12 7-16 5-12-7zM2401 4784l12 7-16 5-12-7zM2589 4642l13 7-64 20-12-7zM2347 4720l12 7-50 16-12-7zM2257 5032l12 8-17 6-11-8zM2301 5010l12 8-16 6-12-8zM2498 4679l12 7-16 5-12-7zM2389 4777l12 7-16 5-12-7zM2616 4790l13 7-16 5-13-7zM2597 4807l13 8-16 5-13-7zM2534 5059l12 8-16 6-13-8zM2505 5039l12 8-16 6-12-8zM2594 4820l12 7-16 6-12-7zM2790 4707l13 7-16 5-13-7zM2572 5101l12 8-16 6-13-8zM2460 5043l12 8-16 6-13-8zM2606 4827l13 7-16 6-13-7zM2372 4690l12 7-16 5-12-7zM2213 4688l12 6-17 6-11-7zM2381 5078l13 7-17 6-12-7zM2208 4700l12 6-17 6-11-7zM2785 4732l13 7-16 5-13-7zM2782 4744l14 7-16 6-14-8zM2649 4743l13 7-16 5-13-7zM2734 4779l13 7-16 6-13-7zM2692 4752l13 7-16 5-13-7z"/><path class="c7" d="M2308 5138l12 7 0-17-12-8zM2672 5161l13 8 0-18-13-7zM2264 5142l12 8 0-18-12-8zM2444 5262l13 8 0-18-13-8zM2713 5171l13 8 0-18-13-8zM2352 5099l12 7-1-17-12-8zM2252 4947l12 8 0-18-12-7zM2431 5060l12 7 0-18-12-8zM2588 4733l13 7 0-18-12-7zM2780 4837l13 7 1-18-13-7zM2248 5130l11 8 0-17-12-8zM2428 5250l12 9 0-18-12-9zM2726 5161l13 8 0-18-13-7zM2758 5114l13 8 0-18-13-8zM2589 4715l12 7 0-19-12-6zM2781 4819l13 7 0-19-13-7zM2457 4612l12 6 0-18-12-6zM2287 5140l12 8 0-18-12-8zM2303 5116l12 8 0-17-12-8zM2758 5096l13 8 1-18-13-7zM2425 4640l12 6 0-18-12-6zM2461 4659l12 7 0-18-12-7zM2662 4769l13 7 1-19-14-7zM2303 5099l12 8-1-18-11-8zM2486 5218l12 9 0-19-12-8zM2335 5052l12 7-1-17-11-8zM2519 5169l13 9 0-19-13-8zM2573 4702l12 7 1-19-13-6zM2335 5034l11 8 0-18-12-7zM2519 5151l13 8 0-18-13-8zM2711 5114l13 8 1-18-13-8zM2350 4993l12 7 0-17-12-8zM2633 5010l13 8 0-18-13-7zM2510 4759l12 7 0-18-12-7zM2687 4858l13 7 1-18-14-8zM2712 5096l13 8 0-18-13-8zM2744 5049l13 7 0-18-13-7zM2526 4717l12 7 0-18-12-7zM2514 4674l12 7 0-19-12-6zM2506 5251l13 8 0-17-13-9zM2320 4865l12 8 0-19-12-7zM2349 4867l12 7 0-18-12-7zM2635 4884l12 7 1-18-13-7zM2473 5264l13 8 0-18-13-8zM2702 4908l13 7 1-18-13-8zM2748 4885l13 8 0-19-13-7zM2270 4864l12 7 0-18-12-8zM2315 4842l12 7 0-19-12-7zM2687 4895l13 7 0-18-13-8zM2716 4897l13 7 0-18-13-8zM2315 4823l12 7 0-18-12-7zM2348 4775l12 7-1-18-12-7zM2225 4694l12 7 0-18-12-7zM2347 4757l12 7 0-19-12-7zM2192 4723l12 7-1-18-11-7zM2239 4751l12 7 0-19-12-7zM2733 4835l13 8 0-19-13-7zM2402 5126l12 8 0-19-12-8zM2687 4839l14 8 0-19-13-7zM2733 4817l13 7 1-19-13-7zM2766 4768l13 7 1-18-14-8zM2232 4713l12 7-1-19-11-6zM2252 4795l12 8 0-19-12-7zM2297 4773l12 7 0-19-12-7zM2721 4772l13 7 0-19-13-7zM2440 5168l12 8 0-18-12-8zM2469 5170l13 8 0-18-13-8zM2486 5146l12 8 0-19-12-8z"/><path class="c0" d="M2399 5046l-16 6 0-17 16-6zM2785 5151l-46 18 0-18 47-18zM2548 5243l-50 20 0-18 50-20zM2801 5127l-31 12 1-17 31-12zM2564 5219l-16 6 0-17 16-7zM2515 5238l-17 7 0-18 17-7zM2600 4775l-15 6 0-18 16-5zM2344 4862l-50 16 0-18 50-17zM2348 5130l-49 18 0-18 48-18zM2802 5110l-16 6 1-18 15-6zM2580 5195l-32 13 0-19 33-12zM2818 5086l-31 12 0-18 31-11zM2632 4711l-15 5 0-18 15-5zM2376 4796l-16 5 0-19 16-5zM2818 5069l-15 5 0-17 16-6zM2564 5165l-16 6 0-18 16-6zM2710 5167l-15 6 0-17 16-6zM2567 5223l-16 6 0-18 17-6zM2469 5261l-16 6 0-18 16-6zM2806 5025l-15 6 0-18 16-5zM2601 4703l-16 6 1-19 15-5zM2601 5058l-16 6 0-18 16-6zM2788 5045l-15 6 0-18 16-6zM2665 4963l-32 12 1-18 31-12zM2584 5199l-16 6 0-18 16-6zM2825 4833l-32 11 1-18 31-11zM2825 4815l-15 5 0-18 16-6z"/><path class="c9" d="M2714 4969l-16 5 1-17 15-6zM2667 4986l-15 5 0-17 16-6zM2352 5099l-16 6-1-18 16-6zM2303 5116l-16 6 0-17 16-6zM2308 4951l-16 5-1-17 16-6zM2259 4968l-16 5 0-18 16-5zM2588 4733l-15 5 0-18 16-5zM2315 4823l-17 6 0-19 17-5zM2758 5114l-16 6 1-18 15-6zM2486 5218l-17 7 0-19 17-6zM2540 4616l-16 5 0-18 16-5zM2758 5096l-15 6 0-18 16-5zM2453 4641l-16 5 0-18 16-5zM2303 5099l-16 6-1-18 17-6zM2335 5052l-16 6-1-18 17-6zM2485 4745l-15 5 0-18 15-5zM2573 4702l-16 5 0-18 16-5zM2348 4775l-17 6 0-19 16-5zM2335 5034l-17 6 0-18 16-5zM2255 4980l-17 6 0-18 16-5zM2699 5071l-16 6 1-18 16-6zM2262 5019l-17 6 0-18 16-6zM2744 5049l-16 6 1-18 15-6zM2535 5217l-16 7 0-18 16-7zM2489 5063l-17 6 0-18 17-6zM2439 5081l-16 6 0-18 16-6zM2622 4822l-16 5 1-18 16-6zM2748 4885l-16 6 0-19 16-5zM2780 4837l-16 6 1-19 16-5zM2687 4708l-15 5 0-19 16-5zM2745 4711l-16 5 1-18 16-6zM2315 4842l-16 5-1-18 17-6zM2781 4819l-16 5 0-18 16-6zM2733 4835l-16 6 0-19 16-5zM2270 4691l-16 5-1-19 17-5zM2327 4694l-16 5-1-18 17-6zM2519 5169l-17 7 0-18 17-7zM2347 4757l-16 5-1-18 17-6zM2297 4773l-16 6-1-19 17-6zM2519 5151l-17 7 0-19 17-6zM2232 4732l-16 5-1-18 17-6zM2733 4817l-16 5 0-18 17-6zM2766 4768l-16 6 0-19 16-6zM2721 4772l-16 6 0-19 16-6z"/><path class="c10" d="M2714 4969l13 7 0-18-13-7zM2308 4951l11 7 0-18-12-7zM2489 5063l12 8 0-18-12-8zM2667 4986l13 7 0-18-12-7zM2724 4989l13 8 0-18-13-8zM2540 4616l12 7 0-18-12-7zM2756 4730l13 7 0-19-13-7zM2259 4968l12 7 0-18-12-7zM2439 5081l13 8 0-18-13-8zM2315 4971l12 7-1-18-11-7zM2497 5085l13 8 0-19-13-7zM2633 5028l12 8 1-18-13-8zM2255 4980l11 8 0-18-12-7zM2448 5103l12 8 0-18-12-8zM2677 5006l13 8 0-18-13-7zM2734 5010l13 7 0-18-13-7zM2549 4634l12 7 0-19-12-6zM2687 4708l13 7 1-19-13-7zM2699 5071l13 7 1-17-13-8zM2262 5019l12 7-1-18-12-7zM2782 4861l13 8 0-19-13-7zM2535 5217l13 8 0-17-13-9zM2555 5125l13 8 0-18-13-8zM2745 4711l13 7 1-19-13-7zM2270 4691l12 7 0-19-12-7zM2327 4694l12 7 0-19-12-7zM2698 4727l13 7 0-19-13-7zM2277 4710l12 6 0-18-12-7z"/><path class="c11" d="M2438 4736l11 7-15 5-12-7zM2588 4733l13 7-16 5-12-7zM2758 5114l13 8-16 6-13-8zM2303 5116l12 8-16 6-12-8zM2657 5114l13 8-16 6-13-8zM2216 4989l11 7-16 6-12-7zM2247 5095l12 8-17 6-11-8zM2335 5052l12 7-17 6-11-7zM2645 5071l13 8-16 6-13-8zM2485 4745l13 7-16 5-12-7zM2473 4720l12 7-15 5-13-6zM2235 5052l11 8-16 6-12-8zM2633 5028l12 8-15 6-13-8zM2461 4678l12 6-16 5-12-6zM2318 5022l12 8-16 6-12-8zM2744 5049l13 7-16 6-13-7zM2782 4861l13 8-16 5-13-7zM2535 5217l13 8-17 7-12-8zM2206 4822l12 7-17 6-12-7zM2622 4822l13 7-16 5-13-7zM2780 4837l13 7-15 6-14-7zM2194 4779l11 7-17 5-11-7zM2315 4842l12 7-16 5-12-7zM2348 4775l12 7-17 6-12-7zM2427 5214l13 9-17 6-12-8zM2519 5169l13 9-17 6-13-8zM2415 5170l12 8-16 6-13-8zM2733 4835l13 8-16 5-13-7zM2335 4713l12 7-17 5-12-7zM2652 4731l13 7-16 5-13-7zM2402 5126l12 8-16 6-13-8zM2506 5107l13 8-17 6-12-8zM2675 4813l13 8-16 5-14-7zM2766 4768l13 7-16 6-13-7zM2297 4773l12 7-16 6-12-7zM2662 4769l13 7-16 5-13-7zM2721 4772l13 7-16 6-13-7z"/><path class="c8" d="M2383 5052l12 8-16 6-12-8zM2193 4992l12 7-17 6-11-7zM2808 5030l13 7-15 6-13-7zM2440 5168l12 8-16 7-13-9zM2188 5005l12 7-17 6-11-7zM2457 4612l12 6-16 5-12-6zM2790 5049l13 8-15 5-13-7zM2469 5170l13 8-17 7-13-9zM2573 4720l12 7-15 5-13-7zM2778 5006l13 7-15 6-13-7zM2456 5125l13 8-17 7-12-8zM2605 4655l12 7-16 5-12-7zM2380 4728l12 7-16 5-12-7zM2592 4631l13 6-16 5-12-6zM2368 4702l12 7-17 5-12-6zM2285 4729l12 7-17 5-12-7zM2711 5114l13 8-15 6-13-8zM2568 5169l13 8-17 6-13-8zM2322 4991l12 8-33 11-11-7zM2350 4993l12 7-16 6-12-7zM2510 4759l12 7-16 5-12-7zM2397 4796l12 7-16 5-12-7zM2526 4717l12 7-16 5-12-6zM2687 5027l13 8-16 6-13-8zM2543 5081l12 7-16 7-13-8zM2514 4674l12 7-16 5-12-7zM2285 5034l12 7-16 6-12-7zM2610 4796l13 7-16 6-13-7zM2385 4734l12 7-17 5-12-7zM2181 4735l12 7-17 5-12-7zM2813 4771l13 7-15 5-14-7zM2717 4804l14 7-16 5-14-7zM2787 4719l14 7-16 6-13-7zM2708 4746l13 7-16 6-13-7zM2192 4723l12 7-17 6-12-7zM2798 4757l13 7-16 6-13-7zM2687 4858l13 7-16 6-13-7zM2252 4795l12 8-17 5-12-7zM2427 5142l13 8-17 6-13-8zM2486 5146l12 8-16 6-13-8zM2239 4751l12 7-17 6-12-7zM2256 4727l12 7-17 5-12-7zM2688 4783l14 7-17 6-13-7z"/><path class="c4" d="M2488 4602l12 6 0-18-12-6zM2669 5157l26 16 0-17-25-16zM2453 4623l12 7 0-19-12-6zM2363 5036l12 8-1-18-12-8zM2695 5138l13 8 1-18-13-8zM2482 4757l12 7 0-18-12-7zM2594 4820l12 7 1-18-13-7zM2449 4635l24 13 0-19-24-13zM2233 4999l12 8 0-18-12-8zM2402 5107l12 8 0-18-12-8zM2261 5001l12 7 0-17-12-8zM2381 5078l25 15 0-18-25-16zM2696 5084l13 8 1-18-13-8zM2647 4891l26 15 0-18-25-15zM2353 5112l12 8 0-18-12-8zM2619 4853l13 7 0-18-13-8zM2597 4752l13 7 0-18-12-7zM2486 5254l12 9 0-18-12-9zM2282 4871l12 7 0-18-12-7zM2265 4858l12 7 0-18-12-7zM2453 5231l12 8 0-18-13-8zM2203 4712l12 7 0-19-12-7z"/><path class="c2" d="M2699 4957l13 7-16 6-13-8zM2443 5049l13 8-33 12-13-8zM2727 4958l13 8-63 23-12-8zM2472 5051l13 8-33 12-13-8zM2423 5069l12 8-33 12-13-8zM2264 4937l11 7-32 11-12-7zM2291 4939l12 7-32 11-12-7zM2243 4955l11 8-16 5-12-7zM2319 4940l12 8-65 22-12-7zM2238 4968l11 8-16 5-12-7zM2740 4966l13 7-16 6-13-8zM2693 4983l13 7-16 6-13-7zM2501 5053l13 8-100 36-12-8zM2472 4589l12 6-15 5-12-6zM2500 4590l12 7-47 14-12-6zM2584 4595l12 6-63 20-12-7zM2310 4681l12 6-33 11-12-7zM2512 4597l12 6-15 5-13-6zM2465 4611l12 7-16 5-12-7zM2253 4677l12 7-50 16-12-7zM2524 4603l13 7-16 4-12-6zM2282 4679l12 7-51 15-11-6zM2437 4628l12 7-16 5-12-7zM2565 4611l12 6-16 5-12-6zM2355 4677l13 7-67 21-12-7zM2282 4964l12 8-49 17-12-8zM2438 4761l12 7-16 5-12-7zM2578 4769l13 7-16 5-12-7zM2278 4977l11 8-16 6-12-8zM2703 5004l13 7-16 6-13-8zM2591 4776l13 7-16 5-13-7zM2245 5007l12 7-17 6-12-8zM2630 4705l13 6-16 6-13-7zM2530 5055l13 7-33 12-13-7zM2464 5079l13 8-17 6-12-8zM2672 4694l13 7-16 5-13-6zM2701 4696l13 7-32 10-13-7zM2730 4698l13 6-32 11-13-7zM2759 4699l13 7-48 16-13-7zM2724 4722l13 7-16 5-13-7zM2301 4705l12 7-17 5-12-7zM2473 5101l13 8-17 6-13-8zM2676 4757l13 7-17 6-13-7zM2705 4759l13 7-16 5-13-7z"/><path class="c6" d="M2768 4985l-16 6 1-18 15-6zM2726 5161l-16 6 1-17 15-6zM2259 5121l-16 5-1-17 17-6zM2322 4991l-16 6 0-18 16-6zM2510 4759l-16 5 0-18 16-5zM2397 4796l-16 5 0-18 16-5zM2687 5027l-16 6 1-18 15-6zM2543 5081l-17 6 0-19 17-6zM2285 5034l-16 6-1-18 17-6zM2206 4822l-17 6 0-19 17-5zM2787 4719l-15 6 0-19 16-5zM2708 4746l-16 6 0-19 16-6zM2687 4895l-17 6 1-19 16-6zM2716 4897l-16 5 0-18 16-6zM2380 4728l-16 5-1-19 17-5zM2368 4702l-17 6 0-19 17-5zM2285 4729l-17 5-1-19 17-5zM2440 5241l-17 6 0-18 17-6zM2785 4732l-16 5 0-19 16-5zM2427 5142l-17 6 0-18 17-7zM2256 4727l-17 5 0-18 16-6zM2456 5125l-16 7-1-19 17-6zM2688 4783l-16 6 0-19 17-6z"/><path class="c1" d="M2434 4748l24 14-1-18-23-14zM2671 4882l13 7 0-18-13-7zM2259 5138l12 8 0-18-12-7zM2440 5259l13 8 0-18-13-8zM2667 5154l12 8 1-18-13-8zM2654 5128l26 16 0-18-26-16zM2421 4651l24 13 0-18-24-13zM2457 4671l25 13 0-18-25-13zM2659 4781l13 8 0-19-13-7zM2242 5109l12 8-1-18-11-8zM2423 5229l13 8 0-18-13-8zM2642 5085l25 15 1-17-26-16zM2375 5044l36 22 0-17-37-23zM2210 4984l12 8-1-18-11-7zM2470 4732l24 14 0-18-25-14zM2607 4809l25 14 0-19-25-14zM2230 5066l23 15 0-18-24-15zM2411 5184l25 17 0-18-26-17zM2630 5042l25 15 0-18-25-15zM2457 4689l25 14 0-19-25-13zM2594 4765l26 14 0-19-26-14zM2386 5033l25 16 0-18-25-16zM2597 4789l13 7 0-18-13-7zM2597 4771l13 7 0-19-13-7zM2632 4879l38 22 1-19-39-22zM2201 4835l24 14-1-18-23-14zM2619 4834l26 15 0-19-26-14zM2349 5126l24 16 0-18-25-16zM2201 4817l11 7 0-19-12-7zM2188 4791l24 14 0-18-24-14zM2607 4790l25 14 1-18-26-14zM2672 4826l13 7 0-18-13-8zM2176 4747l23 14 0-18-24-14zM2187 4736l35 21 0-19-35-21zM2398 5140l12 8 0-18-12-8z"/><path class="c0" d="M2347 5112l-16 6 0-17 16-6zM2363 5089l-32 12 0-18 32-12zM2298 5112l-16 6 0-17 16-6zM2379 5066l-16 5 0-17 16-6zM2314 5089l-32 12-1-18 33-12zM2585 4745l-16 5 1-18 15-5zM2310 4836l-16 5-1-18 17-6zM2739 5151l-15 6 0-17 16-6zM2531 5232l-16 6 0-18 16-6zM2755 5128l-15 6 0-18 16-6zM2548 5208l-33 12 0-18 33-13zM2482 5233l-17 6 0-18 17-6zM2695 5156l-16 6 1-18 15-6zM2756 5110l-16 6 0-18 16-6zM2564 5183l-16 6 0-18 16-6zM2498 5208l-33 13 0-18 33-13zM2772 5086l-32 12 1-18 31-12zM2515 5184l-17 6 0-18 17-6zM2788 5062l-16 6 1-17 15-6zM2725 5086l-16 6 1-18 15-6zM2581 5141l-33 12 0-18 33-12zM2515 5166l-17 6 0-18 17-7zM2570 4732l-16 5 0-18 16-5zM2327 4812l-34 11 0-19 33-11zM2330 5065l-16 6 0-18 16-5zM2570 4714l-16 5 0-18 16-5zM2343 4788l-17 5 0-18 17-6zM2586 4690l-32 11 0-19 32-10zM2393 4753l-34 11 0-19 33-10zM2343 4769l-17 6 0-19 17-5zM2293 4786l-17 5-1-19 17-5zM2601 4667l-15 5 0-18 16-5zM2376 4740l-50 16 0-19 50-16zM2330 5048l-16 5 0-17 16-6zM2346 5024l-16 6 0-18 16-6zM2314 5036l-17 5 0-17 16-6zM2741 5062l-16 6 1-18 16-6zM2532 5141l-34 13 0-19 34-12zM2792 4881l-31 12 0-19 32-11zM2745 4898l-16 6 0-18 16-6zM2809 4857l-96 34 1-18 95-34zM2778 4850l-16 6 0-19 16-6zM2311 4854l-34 11 0-18 33-11zM2778 4831l-16 6 0-19 16-5zM2730 4848l-16 6 0-19 16-5zM2794 4807l-32 11 1-18 32-11zM2730 4830l-16 5 1-19 16-5zM2811 4783l-16 6 0-19 16-6zM2747 4805l-16 6 0-19 16-6zM2795 4770l-16 5 1-18 16-6zM2763 4781l-16 5 1-18 16-6zM2718 4785l-16 5 0-19 16-5z"/><path class="c7" d="M2188 5005l12 7-1-17-11-8zM2711 5150l13 7 0-17-13-8zM2211 5002l11 8 0-18-12-8zM2257 5032l12 8-1-18-11-8zM2322 4991l12 8 0-18-12-8zM2506 5107l13 8 0-19-13-8zM2318 5022l12 8 0-18-12-8zM2687 5027l13 8 0-18-13-8zM2614 4728l12 7 1-18-13-7zM2335 4713l12 7 0-19-13-7zM2708 4746l13 7 0-19-13-7zM2717 4804l14 7 0-19-13-7zM2285 4729l12 7-1-19-12-7zM2456 5125l13 8 0-18-13-8z"/><path class="c3" d="M2806 5043l-16 6 1-18 15-6zM2696 5084l-15 6 0-18 16-6zM2596 4619l-16 5 0-18 16-5zM2287 5140l-16 6 0-18 16-6zM2665 4981l-32 12 0-18 32-12zM2270 5111l-16 6-1-18 17-6zM2776 5019l-47 18 0-18 47-18zM2552 5103l-33 12 0-19 33-12zM2573 4647l-31 10 0-18 32-10zM2363 4714l-16 6 0-19 16-5zM2261 5001l-16 6 0-18 16-6zM2257 5032l-16 6-1-18 17-6zM2301 5010l-16 6 0-18 16-6zM2397 4778l-16 5 0-18 16-6zM2361 4856l-17 6 0-19 16-5zM2393 4808l-16 6-1-18 17-6zM2486 5254l-17 7 0-18 17-7zM2700 4884l-16 5 0-18 16-6zM2453 5231l-17 6 0-18 16-6zM2232 4713l-17 6 0-19 17-5zM2782 4744l-32 11 1-19 32-11zM2701 4828l-16 5 0-18 16-6z"/><path class="c9" d="M2724 4989l-16 6 1-18 15-6zM2677 5006l-16 6 1-18 15-5zM2315 4971l-16 6-1-18 17-6zM2496 4620l-15 5 0-18 15-5zM2734 5010l-16 6 1-18 15-6zM2549 4634l-16 5 0-18 16-5zM2497 5085l-16 6 0-18 16-6zM2448 5103l-17 6 0-18 17-6zM2698 4727l-16 5 0-19 16-5zM2756 4730l-16 5 0-18 16-6zM2277 4710l-16 5-1-19 17-5zM2335 4713l-17 5 0-19 16-5zM2506 5107l-16 6 0-18 16-7z"/><path class="c5" d="M2331 4948l12 7-17 5-11-7zM2199 4995l12 7-17 6-11-8zM2326 4960l12 8-16 5-12-7zM2665 4981l12 8-31 11-13-7zM2470 4750l12 7-16 5-12-6zM2338 4968l12 7-16 6-12-8zM2449 4635l12 6-16 5-12-6zM2203 4712l12 7-17 5-11-7zM2222 4992l11 7-16 6-12-7zM2646 5018l12 7-15 6-13-7zM2233 4999l12 8-17 5-11-7zM2658 5025l13 8-16 6-12-8zM2414 5115l13 8-17 7-12-8zM2473 4648l12 6-16 5-12-6zM2227 4726l12 6-17 6-12-7zM2684 5059l13 7-16 6-13-7zM2713 5061l12 7-15 6-13-8zM2568 5115l13 8-16 6-13-8zM2273 5008l12 8-17 6-11-8zM2729 5037l13 7-16 6-13-7zM2552 5103l13 8-17 6-13-8zM2485 4654l13 7-16 5-13-7zM2646 4699l13 7-16 5-13-6zM2369 5088l13 8-17 6-12-8zM2614 4728l12 7-16 6-12-7zM2365 5102l12 8-16 6-13-8zM2627 4717l13 7-17 5-12-7zM2363 4714l13 7-17 6-12-7zM2215 4719l12 7-17 5-12-7zM2750 4755l14 7-16 6-14-8zM2280 4760l12 7-17 5-12-7z"/><path class="c2" d="M2753 4973l13 8-94 34-13-7zM2481 5073l12 8-16 6-13-8zM2431 5091l13 8-17 6-13-8zM2781 4975l13 7-47 17-13-7zM2719 4998l13 7-16 6-13-7zM2526 5068l13 8-100 37-12-8zM2709 4977l13 8-16 5-13-7zM2662 4994l12 8-15 6-13-8zM2580 4606l13 7-16 4-12-6zM2533 4621l12 6-15 5-13-6zM2289 4698l12 7-34 10-12-7zM2298 4959l12 7-16 6-12-8zM2481 4607l12 6-16 5-12-7zM2310 4966l12 7-33 12-11-8zM2454 4756l12 6-16 6-12-7zM2747 4999l13 8-47 17-13-7zM2539 5076l13 8-33 12-13-8zM2490 5095l12 8-16 6-13-8zM2477 4618l12 6-16 5-12-6zM2561 4622l13 7-32 10-12-7zM2351 4689l12 7-16 5-13-7zM2318 4699l12 7-17 6-12-7zM2414 5047l13 8-33 12-13-8zM2410 5061l13 8-17 6-12-8zM2772 4706l13 7-16 5-13-7zM2740 4717l14 7-17 5-13-7zM2682 4713l13 7-16 6-13-7zM2711 4715l13 7-32 11-13-7zM2769 4718l14 7-48 16-14-7zM2260 4696l12 7-33 11-12-7z"/><path class="c10" d="M2496 4620l13 6 0-18-13-6zM2505 4638l12 6 0-18-12-7z"/><path class="c1" d="M2183 5018l23 15 0-18-23-15zM2271 5128l11 8 0-18-12-7zM2427 5123l13 9-1-19-12-8z"/><path class="c6" d="M2592 4631l-15 5 0-19 16-4z"/><path class="c0" d="M2299 5130l-17 6 0-18 16-6zM2724 5140l-16 6 1-18 15-6zM2393 4790l-17 6 0-19 17-5zM2393 4772l-17 5 0-18 17-6zM2565 5129l-17 6 0-18 17-6z"/><path class="c8" d="M2211 5002l11 8-16 5-12-7zM2610 4741l13 7-16 5-13-7z"/><path class="c4" d="M2326 4960l24 15 0-18-24-14zM2658 5025l13 8 1-18-13-7zM2514 4656l12 6 0-18-12-6zM2643 4711l13 7 0-18-13-7zM2700 4884l13 7 1-18-14-8zM2623 4729l13 7 1-19-13-7zM2227 4726l12 6 0-18-12-7z"/><path class="c2" d="M2509 4608l12 6-32 10-12-6zM2521 4614l12 7-16 5-12-7zM2577 4617l12 7-15 5-13-7zM2530 4632l12 7-16 5-12-6zM2656 4700l13 6-32 11-13-7zM2669 4706l13 7-16 6-13-7z"/><path class="c9" d="M2505 4638l-16 5 0-19 16-5zM2394 5104l-17 6 0-19 17-6z"/><path class="c3" d="M2589 4642l-16 5 1-18 15-5zM2330 4725l-16 5-1-18 17-6zM2514 4656l-16 5 0-18 16-5zM2502 5121l-16 6 0-18 16-6z"/><path class="c1" d="M2206 5015l23 15-1-18-23-14z"/><path class="c2" d="M2489 4624l12 7-16 5-12-7zM2517 4626l13 6-32 11-13-7z"/><path class="c4" d="M2485 4654l13 7 0-18-13-7zM2389 5099l13 8 0-18-13-8z"/><path class="c7" d="M2365 5102l12 8 0-19-12-7zM2610 4741l13 7 0-19-12-7zM2256 4727l12 7-1-19-12-7z"/><path class="c1" d="M2361 5116l24 16 0-19-25-15zM2607 4753l26 14 0-19-26-14z"/><path class="c2" d="M2377 5091l12 8-16 6-13-7z"/><path class="c5" d="M2623 4729l13 7-16 5-13-7zM2389 5099l13 8-17 6-12-8zM2636 4736l13 7-16 5-13-7z"/><path class="c6" d="M2652 4731l-16 5 1-19 16-5z"/><path class="c10" d="M2652 4731l13 7 1-19-13-7z"/><path class="c4" d="M2649 4743l27 14 0-19-26-14z"/><path class="c2" d="M2666 4719l13 7-16 5-13-7zM2679 4726l13 7-16 5-13-7z"/></g><path class="dot" stroke-width="1.6" d="M247.2 493.2h.01M247.2 505.1h.01M252.1 486.8h.01M236.0 481.9h.01M244.0 486.6h.01M266.5 496.3h.01M265.8 491.2h.01M232.5 487.1h.01M248.2 475.7h.01"/>
<g class="v" transform="scale(.1)" opacity="0.88"><path class="c1" d="M1204 7627l20 13-1-30-20-13zM1224 7640l19 13-1-30-19-13zM1203 7597l20 13-1-30-20-13zM1243 7653l20 14-1-30-20-14zM1223 7610l19 13 0-30-20-13zM1202 7567l20 13-1-31-20-12zM1263 7667l20 13-1-30-20-13zM1242 7623l20 14 0-31-20-13zM1222 7580l20 13-1-31-20-13zM1201 7537l20 12-1-30-20-13zM1283 7680l20 14 0-31-21-13zM1262 7637l20 13 0-31-20-13zM1242 7593l20 13-1-31-20-13zM1221 7549l20 13-1-30-20-13zM1200 7506l20 13-1-31-19-13zM1303 7694l21 14-1-31-20-14zM1282 7650l21 13-1-30-20-14zM1262 7606l20 13-1-30-20-14zM1241 7562l20 13-1-30-20-13zM1220 7519l20 13-1-31-20-13zM1200 7475l19 13-1-31-19-12zM1324 7708l20 14 0-31-21-14zM1303 7663l20 14-1-31-20-13zM1282 7619l20 14-1-31-20-13zM1261 7575l20 14-1-31-20-13zM1240 7532l20 13-1-31-20-13zM1219 7488l20 13-1-31-20-13zM1199 7445l19 12 0-31-20-12zM1344 7722l21 14-1-31-20-14zM1323 7677l21 14-1-31-21-14zM1302 7633l20 13 0-31-21-13zM1281 7589l20 13 0-31-21-13zM1260 7545l20 13 0-31-21-13zM1239 7501l20 13 0-31-21-13zM1218 7457l20 13 0-31-20-13zM1198 7414l20 12-1-31-20-13zM1365 7736l21 14-1-31-21-14zM1344 7691l20 14 0-31-21-14zM1322 7646l21 14 0-31-21-14zM1301 7602l21 13-1-31-20-13zM1280 7558l21 13-1-31-20-13zM1259 7514l21 13-1-32-20-12zM1238 7470l21 13-1-32-20-12zM1218 7426l20 13-1-32-20-12zM1197 7382l20 13-1-32-20-12zM1386 7750l21 14 0-31-22-14zM1364 7705l21 14 0-31-21-14zM1343 7660l21 14 0-31-21-14zM1322 7615l21 14-1-31-21-14zM1301 7571l20 13 0-31-21-13zM1280 7527l20 13-1-32-20-13zM1259 7483l20 12-1-31-20-13zM1238 7439l20 12-1-31-20-13zM1217 7395l20 12-1-32-20-12zM1196 7351l20 12-1-32-20-12zM1407 7764l21 14 0-31-21-14zM1385 7719l22 14-1-31-21-14zM1364 7674l21 14 0-32-21-13zM1343 7629l21 14-1-32-21-13zM1321 7584l21 14 0-32-21-13zM1300 7540l21 13-1-31-21-14zM1279 7495l20 13 0-31-21-13zM1258 7451l20 13 0-32-21-12zM1237 7407l20 13-1-32-20-13zM1216 7363l20 12-1-31-20-13zM1195 7319l20 12-1-31-20-12zM1428 7778l22 15 0-31-22-15zM1407 7733l21 14 0-31-22-14zM1385 7688l21 14 0-32-21-14zM1364 7643l21 13-1-31-21-14zM1342 7598l21 13 0-31-21-14zM1321 7553l21 13-1-31-21-13zM1299 7508l21 14 0-32-21-13zM1278 7464l21 13-1-32-20-13zM1257 7420l21 12-1-31-21-13zM1236 7375l20 13 0-32-21-12zM1215 7331l20 13-1-32-20-12zM1194 7288l20 12-1-32-20-12zM1450 7793l22 14-1-31-21-14zM1428 7747l22 15-1-32-21-14zM1406 7702l22 14 0-31-22-15zM1385 7656l21 14 0-31-22-14zM1363 7611l21 14 0-32-21-13zM1342 7566l21 14-1-32-21-13zM1320 7522l21 13 0-32-21-13zM1299 7477l21 13-1-32-21-13zM1278 7432l20 13 0-32-21-12zM1256 7388l21 13-1-32-20-13zM1235 7344l21 12-1-32-21-12zM1214 7300l20 12 0-32-21-12zM1193 7256l20 12-1-33-20-11zM1450 7762l21 14 0-31-22-15zM1428 7716l21 14 0-31-21-14zM1406 7670l22 15-1-32-21-14zM1384 7625l22 14-1-32-21-14zM1363 7580l21 13 0-31-22-14zM1341 7535l21 13 0-32-21-13zM1320 7490l21 13-1-32-21-13zM1298 7445l21 13-1-32-20-13zM1277 7401l21 12-1-32-21-12zM1256 7356l20 13-1-33-20-12zM1234 7312l21 12-1-32-20-12zM1213 7268l21 12-1-33-21-12zM1449 7730l22 15 0-32-22-14zM1428 7685l21 14 0-32-22-14zM1406 7639l21 14 0-32-22-14zM1384 7593l21 14 0-32-21-13zM1362 7548l22 14-1-32-21-14zM1341 7503l21 13-1-32-21-13zM1319 7458l21 13 0-32-22-13zM1298 7413l20 13 0-32-21-13zM1276 7369l21 12-1-32-21-13zM1255 7324l20 12 0-32-21-12zM1234 7280l20 12-1-33-20-12zM1449 7699l22 14 0-32-22-14zM1427 7653l22 14 0-32-22-14zM1405 7607l22 14 0-32-22-14zM1384 7562l21 13 0-32-22-13zM1362 7516l21 14 0-32-22-14zM1340 7471l21 13 0-32-21-13zM1318 7426l22 13-1-32-21-13zM1297 7381l21 13-1-33-21-12zM1275 7336l21 13 0-33-21-12zM1254 7292l21 12-1-33-21-12zM1449 7667l22 14 0-32-22-14zM1427 7621l22 14 0-32-22-14zM1405 7575l22 14-1-32-21-14zM1383 7530l22 13-1-32-21-13zM1361 7484l22 14-1-33-21-13zM1340 7439l21 13-1-32-21-13zM1318 7394l21 13-1-33-21-13zM1296 7349l21 12 0-32-21-13zM1275 7304l21 12-1-32-21-13zM1449 7635l22 14 0-32-22-14zM1427 7589l22 14-1-32-22-14zM1405 7543l21 14 0-33-22-13zM1383 7498l21 13 0-33-22-13zM1361 7452l21 13 0-32-22-13zM1339 7407l21 13 0-33-22-13zM1317 7361l21 13 0-33-21-12zM1296 7316l21 13-1-33-21-12zM1449 7603l22 14 0-32-23-14zM1426 7557l22 14 0-33-22-14zM1404 7511l22 13 0-32-22-14zM1382 7465l22 13 0-32-22-13zM1360 7420l22 13 0-33-22-13zM1338 7374l22 13-1-33-21-13zM1317 7329l21 12-1-33-21-12zM1448 7571l23 14-1-33-22-14zM1426 7524l22 14 0-33-22-13zM1404 7478l22 14 0-33-22-13zM1382 7433l22 13-1-33-21-13zM1360 7387l22 13-1-33-22-13zM1338 7341l21 13 0-33-22-13zM1448 7538l22 14 0-33-22-14zM1426 7492l22 13 0-33-22-13zM1404 7446l22 13-1-33-22-13zM1382 7400l21 13 0-33-22-13zM1359 7354l22 13 0-33-22-13zM1448 7505l22 14 0-33-22-14zM1426 7459l22 13 0-33-23-13zM1403 7413l22 13 0-33-22-13zM1381 7367l22 13 0-34-22-12zM1448 7472l22 14 0-33-22-14zM1425 7426l23 13-1-33-22-13zM1403 7380l22 13 0-34-22-13zM1448 7439l22 14 0-34-23-13zM1425 7393l22 13 0-34-22-13zM1447 7406l23 13 0-33-23-14z"/><path class="c0" d="M1830 7667l-26 10 1-30 26-10zM1804 7677l-27 11 1-31 27-10zM1831 7637l-26 10 0-30 27-11zM1777 7688l-27 10 1-30 27-11zM1805 7647l-27 10 1-30 26-10zM1832 7606l-27 11 1-31 27-10zM1750 7698l-27 11 1-31 27-10zM1778 7657l-27 11 1-31 27-10zM1805 7617l-26 10 0-31 27-10zM1833 7576l-27 10 1-31 27-10zM1723 7709l-27 11 1-31 27-11zM1751 7668l-27 10 1-30 27-11zM1779 7627l-27 10 0-31 27-10zM1806 7586l-27 10 1-31 27-10zM1834 7545l-27 10 1-31 27-10zM1696 7720l-27 10 0-30 28-11zM1724 7678l-27 11 0-31 28-10zM1752 7637l-27 11 0-31 27-11zM1779 7596l-27 10 1-31 27-10zM1807 7555l-27 10 1-31 27-10zM1835 7514l-27 10 1-31 27-10zM1669 7730l-28 11 1-31 27-10zM1697 7689l-28 11 1-31 27-11zM1725 7648l-28 10 1-31 27-10zM1752 7606l-27 11 1-31 27-11zM1780 7565l-27 10 1-31 27-10zM1808 7524l-27 10 1-31 27-10zM1836 7483l-27 10 1-32 27-9zM1641 7741l-28 11 1-31 28-11zM1669 7700l-27 10 0-31 28-10zM1697 7658l-27 11 0-31 28-11zM1725 7617l-27 10 0-31 28-10zM1753 7575l-27 11 0-32 28-10zM1781 7534l-27 10 0-31 28-10zM1809 7493l-27 10 1-32 27-10zM1837 7452l-27 9 1-31 27-10zM1613 7752l-28 11 1-31 28-11zM1642 7710l-28 11 0-31 28-11zM1670 7669l-28 10 0-31 28-10zM1698 7627l-28 11 1-32 27-10zM1726 7586l-28 10 1-31 27-11zM1754 7544l-28 10 1-31 27-10zM1782 7503l-28 10 1-32 28-10zM1810 7461l-27 10 0-32 28-9zM1838 7420l-27 10 0-32 28-10zM1585 7763l-28 11 0-31 29-11zM1614 7721l-28 11 0-31 28-11zM1642 7679l-28 11 0-31 28-11zM1670 7638l-28 10 1-31 28-11zM1698 7596l-27 10 0-31 28-10zM1726 7554l-27 11 0-32 28-10zM1754 7513l-27 10 1-32 27-10zM1783 7471l-28 10 1-32 27-10zM1811 7430l-28 9 1-31 27-10zM1839 7388l-28 10 1-32 28-10zM1557 7774l-28 11 0-31 28-11zM1586 7732l-29 11 1-31 28-11zM1614 7690l-28 11 0-32 28-10zM1642 7648l-28 11 1-32 28-10zM1671 7606l-28 11 0-32 28-10zM1699 7565l-28 10 0-32 28-10zM1727 7523l-28 10 1-32 28-10zM1755 7481l-27 10 0-32 28-10zM1783 7439l-27 10 1-32 27-9zM1811 7398l-27 10 1-32 27-10zM1840 7356l-28 10 1-32 27-10zM1529 7785l-29 11 0-31 29-11zM1557 7743l-28 11 0-31 29-11zM1586 7701l-28 11 0-32 28-11zM1614 7659l-28 10 0-31 29-11zM1643 7617l-28 10 0-31 28-11zM1671 7575l-28 10 0-31 28-11zM1699 7533l-28 10 1-32 28-10zM1728 7491l-28 10 0-32 28-10zM1756 7449l-28 10 1-32 28-10zM1784 7408l-27 9 0-32 28-9zM1812 7366l-27 10 1-33 27-9zM1840 7324l-27 10 1-33 27-9zM1500 7796l-28 11-1-31 29-11zM1529 7754l-29 11 0-31 29-11zM1558 7712l-29 11 0-32 29-11zM1586 7669l-28 11 0-31 28-11zM1615 7627l-29 11 0-32 29-10zM1643 7585l-28 11 0-32 28-10zM1671 7543l-28 11 1-32 28-11zM1700 7501l-28 10 0-32 28-10zM1728 7459l-28 10 1-32 28-10zM1757 7417l-28 10 1-32 27-10zM1785 7376l-28 9 1-32 28-10zM1813 7334l-27 9 1-32 27-10zM1841 7292l-27 9 1-32 27-9zM1500 7765l-29 11 0-31 29-11zM1529 7723l-29 11 0-32 29-11zM1558 7680l-29 11 0-32 29-10zM1586 7638l-28 11 0-32 28-11zM1615 7596l-29 10 1-32 28-10zM1643 7554l-28 10 0-32 29-10zM1672 7511l-28 11 0-33 28-10zM1700 7469l-28 10 1-32 28-10zM1729 7427l-28 10 1-32 28-10zM1757 7385l-27 10 0-32 28-10zM1786 7343l-28 10 1-33 28-9zM1814 7301l-27 10 0-33 28-9zM1500 7734l-29 11 0-32 29-11zM1529 7691l-29 11 0-32 29-11zM1558 7649l-29 10 0-31 29-11zM1586 7606l-28 11 0-32 29-11zM1615 7564l-28 10 0-32 28-10zM1644 7522l-29 10 1-32 28-11zM1672 7479l-28 10 1-32 28-10zM1701 7437l-28 10 0-32 29-10zM1730 7395l-28 10 0-33 28-9zM1758 7353l-28 10 1-33 28-10zM1787 7311l-28 9 1-32 27-10zM1500 7702l-29 11 0-32 29-11zM1529 7659l-29 11 0-32 29-10zM1558 7617l-29 11 0-33 29-10zM1587 7574l-29 11 0-32 29-11zM1615 7532l-28 10 0-32 29-10zM1644 7489l-28 11 0-33 29-10zM1673 7447l-28 10 0-32 28-10zM1702 7405l-29 10 1-33 28-10zM1730 7363l-28 9 1-32 28-10zM1759 7320l-28 10 1-33 28-9zM1500 7670l-29 11 0-32 29-11zM1529 7628l-29 10 0-32 29-11zM1558 7585l-29 10 0-32 29-10zM1587 7542l-29 11 0-33 29-10zM1616 7500l-29 10 0-33 29-10zM1645 7457l-29 10 0-32 29-10zM1673 7415l-28 10 0-33 29-10zM1702 7372l-28 10 0-33 29-9zM1731 7330l-28 10 0-33 29-10zM1500 7638l-29 11 0-32 29-11zM1529 7595l-29 11 0-32 29-11zM1558 7553l-29 10 0-32 29-11zM1587 7510l-29 10 0-32 29-11zM1616 7467l-29 10 1-32 28-10zM1645 7425l-29 10 1-33 28-10zM1674 7382l-29 10 1-33 28-10zM1703 7340l-29 9 1-33 28-9zM1500 7606l-29 11 0-32 29-11zM1529 7563l-29 11 0-33 29-10zM1558 7520l-29 11 0-33 29-10zM1587 7477l-29 11 1-33 29-10zM1616 7435l-28 10 0-33 29-10zM1645 7392l-28 10 0-33 29-10zM1674 7349l-28 10 0-33 29-10zM1500 7574l-29 11-1-33 30-11zM1529 7531l-29 10 0-32 29-11zM1558 7488l-29 10 0-33 30-10zM1588 7445l-29 10 0-33 29-10zM1617 7402l-29 10 0-33 29-10zM1646 7359l-29 10 0-33 29-10zM1500 7541l-30 11 0-33 30-10zM1529 7498l-29 11 0-33 29-11zM1559 7455l-30 10 0-33 30-10zM1588 7412l-29 10 0-33 29-10zM1617 7369l-29 10 0-33 29-10zM1500 7509l-30 10 0-33 30-10zM1529 7465l-29 11 0-34 29-10zM1559 7422l-30 10 0-33 30-10zM1588 7379l-29 10 0-34 29-9zM1500 7476l-30 10 0-33 30-11zM1529 7432l-29 10 0-33 29-10zM1559 7389l-30 10 0-34 30-10zM1500 7442l-30 11 0-34 30-10zM1529 7399l-29 10 0-33 29-11zM1500 7409l-30 10 0-33 30-10z"/><path class="c2" d="M1556 7112l21 10-27 9-21-11zM1529 7120l21 11-27 8-21-11zM1577 7122l21 11-27 9-21-11zM1502 7128l21 11-28 9-20-11zM1550 7131l21 11-27 8-21-11zM1598 7133l21 11-27 9-21-11zM1475 7137l20 11-27 8-21-11zM1523 7139l21 11-28 9-21-11zM1571 7142l21 11-27 8-21-11zM1619 7144l21 11-27 9-21-11zM1447 7145l21 11-28 9-20-12zM1495 7148l21 11-27 8-21-11zM1544 7150l21 11-28 9-21-11zM1592 7153l21 11-27 8-21-11zM1640 7155l22 11-27 9-22-11zM1420 7153l20 12-28 8-20-11zM1468 7156l21 11-28 9-21-11zM1516 7159l21 11-27 9-21-12zM1565 7161l21 11-27 9-22-11zM1613 7164l22 11-27 9-22-12zM1662 7166l22 12-27 8-22-11zM1392 7162l20 11-28 9-20-11zM1440 7165l21 11-28 9-21-12zM1489 7167l21 12-28 8-21-11zM1537 7170l22 11-28 9-21-11zM1586 7172l22 12-28 9-21-12zM1635 7175l22 11-28 9-21-11zM1684 7178l22 11-27 9-22-12zM1364 7171l20 11-28 9-20-12zM1412 7173l21 12-28 8-21-11zM1461 7176l21 11-28 9-21-11zM1510 7179l21 11-28 9-21-12zM1559 7181l21 12-27 8-22-11zM1608 7184l21 11-27 9-22-11zM1657 7186l22 12-28 9-22-12zM1706 7189l22 12-27 8-22-11zM1336 7179l20 12-28 8-21-11zM1384 7182l21 11-28 9-21-11zM1433 7185l21 11-28 9-21-12zM1482 7187l21 12-28 9-21-12zM1531 7190l22 11-28 9-22-11zM1580 7193l22 11-28 9-21-12zM1629 7195l22 12-27 9-22-12zM1679 7198l22 11-27 9-23-11zM1728 7201l23 11-28 9-22-12zM1307 7188l21 11-29 9-20-11zM1356 7191l21 11-29 9-20-12zM1405 7193l21 12-28 9-21-12zM1454 7196l21 12-28 8-21-11zM1503 7199l22 11-28 9-22-11zM1553 7201l21 12-28 9-21-12zM1602 7204l22 12-28 9-22-12zM1651 7207l23 11-28 9-22-11zM1701 7209l22 12-27 9-22-12zM1751 7212l22 12-27 9-23-12zM1279 7197l20 11-28 9-21-11zM1328 7199l20 12-28 9-21-12zM1377 7202l21 12-29 9-21-12zM1426 7205l21 11-28 9-21-11zM1475 7208l22 11-28 9-22-12zM1525 7210l21 12-28 9-21-12zM1574 7213l22 12-28 9-22-12zM1624 7216l22 11-28 9-22-11zM1674 7218l22 12-28 9-22-12zM1723 7221l23 12-28 9-22-12zM1773 7224l23 12-27 9-23-12zM1250 7206l21 11-29 9-21-11zM1299 7208l21 12-29 9-20-12zM1348 7211l21 12-28 9-21-12zM1398 7214l21 11-29 9-21-11zM1447 7216l22 12-29 9-21-12zM1497 7219l21 12-28 9-21-12zM1546 7222l22 12-28 9-22-12zM1596 7225l22 11-28 10-22-12zM1646 7227l22 12-28 9-22-12zM1696 7230l22 12-27 9-23-12zM1746 7233l23 12-28 9-23-12zM1796 7236l23 11-27 10-23-12zM1221 7215l21 11-30 9-20-11zM1271 7217l20 12-29 9-20-12zM1320 7220l21 12-29 9-21-12zM1369 7223l21 11-28 10-21-12zM1419 7225l21 12-29 9-21-12zM1469 7228l21 12-28 9-22-12zM1518 7231l22 12-28 9-22-12zM1568 7234l22 12-28 9-22-12zM1618 7236l22 12-28 10-22-12zM1668 7239l23 12-28 9-23-12zM1718 7242l23 12-28 9-22-12zM1769 7245l23 12-28 9-23-12zM1819 7247l23 13-27 9-23-12zM1242 7226l20 12-29 9-21-12zM1291 7229l21 12-29 9-21-12zM1341 7232l21 12-29 9-21-12zM1390 7234l21 12-28 10-21-12zM1440 7237l22 12-29 9-22-12zM1490 7240l22 12-29 9-21-12zM1540 7243l22 12-28 9-22-12zM1590 7246l22 12-28 9-22-12zM1640 7248l23 12-28 10-23-12zM1691 7251l22 12-27 9-23-12zM1741 7254l23 12-28 9-23-12zM1792 7257l23 12-28 9-23-12zM1262 7238l21 12-30 9-20-12zM1312 7241l21 12-30 9-20-12zM1362 7244l21 12-29 9-21-12zM1411 7246l22 12-29 10-21-12zM1462 7249l21 12-29 9-21-12zM1512 7252l22 12-29 9-22-12zM1562 7255l22 12-28 9-22-12zM1612 7258l23 12-29 9-22-12zM1663 7260l23 12-29 10-22-12zM1713 7263l23 12-28 10-22-13zM1764 7266l23 12-27 10-24-13zM1283 7250l20 12-29 9-21-12zM1333 7253l21 12-30 9-21-12zM1383 7256l21 12-29 9-21-12zM1433 7258l21 12-29 10-21-12zM1483 7261l22 12-29 10-22-13zM1534 7264l22 12-29 10-22-13zM1584 7267l22 12-28 9-22-12zM1635 7270l22 12-28 9-23-12zM1686 7272l22 13-28 9-23-12zM1736 7275l24 13-28 9-24-12zM1303 7262l21 12-29 10-21-13zM1354 7265l21 12-29 9-22-12zM1404 7268l21 12-29 9-21-12zM1454 7270l22 13-29 9-22-12zM1505 7273l22 13-29 9-22-12zM1556 7276l22 12-29 10-22-12zM1606 7279l23 12-28 10-23-13zM1657 7282l23 12-28 10-23-13zM1708 7285l24 12-29 10-23-13zM1324 7274l22 12-30 10-21-12zM1375 7277l21 12-29 10-21-13zM1425 7280l22 12-29 10-22-13zM1476 7283l22 12-29 10-22-13zM1527 7286l22 12-29 9-22-12zM1578 7288l23 13-29 9-23-12zM1629 7291l23 13-29 9-22-12zM1680 7294l23 13-28 9-23-12zM1346 7286l21 13-30 9-21-12zM1396 7289l22 13-29 9-22-12zM1447 7292l22 13-29 9-22-12zM1498 7295l22 12-29 10-22-12zM1549 7298l23 12-29 10-23-13zM1601 7301l22 12-29 10-22-13zM1652 7304l23 12-29 10-23-13zM1367 7299l22 12-30 10-22-13zM1418 7302l22 12-30 10-21-13zM1469 7305l22 12-29 10-22-13zM1520 7307l23 13-29 10-23-13zM1572 7310l22 13-29 10-22-13zM1623 7313l23 13-29 10-23-13zM1389 7311l21 13-29 10-22-13zM1440 7314l22 13-30 10-22-13zM1491 7317l23 13-30 10-22-13zM1543 7320l22 13-29 10-22-13zM1594 7323l23 13-29 10-23-13zM1410 7324l22 13-29 9-22-12zM1462 7327l22 13-29 9-23-12zM1514 7330l22 13-29 9-23-12zM1565 7333l23 13-29 9-23-12zM1432 7337l23 12-30 10-22-13zM1484 7340l23 12-30 10-22-13zM1536 7343l23 12-30 10-22-13zM1455 7349l22 13-30 10-22-13zM1507 7352l22 13-29 11-23-14zM1477 7362l23 14-30 10-23-14z"/></g>
<g class="vf" transform="scale(.1)"><path class="c1" d="M2154 7011l100 67-1-17-99-67zM2322 7125l107 72 0-18-107-72zM2154 6994l99 67 0-17-100-66zM2322 7107l107 72 0-17-107-72zM2153 6978l44 29 0-17-44-29zM2230 7029l23 15 0-17-23-15zM2322 7090l47 32 0-18-47-31zM2405 7146l24 16 0-18-24-16zM2153 6961l44 29-1-17-44-29zM2393 7120l36 24 0-17-36-24zM2152 6944l22 15 0-17-22-15zM2207 6980l11 8 0-17-11-8zM2321 7056l12 7 0-17-12-8zM2369 7087l24 16-1-18-24-16zM2316 7055l23 15 0-17-23-15zM2152 6927l22 15-1-17-22-15zM2196 6956l22 15 0-17-23-15zM2252 6993l23 15-1-17-23-15zM2321 7038l12 8 0-17-12-8zM2380 7077l12 8 0-17-12-8zM2417 7101l12 8 0-18-12-8zM2151 6910l33 22 0-17-33-22zM2240 6968l23 15 0-17-23-15zM2333 7029l11 7 0-17-12-8zM2417 7083l12 8 0-17-12-8zM2380 6575l11 7 0-18-11-6zM2632 6714l13 7 0-18-13-7zM2639 7090l25 15 0-17-25-15zM2151 6893l33 22-1-17-33-22zM2228 6944l35 22-1-17-34-23zM2286 6981l11 7 0-17-12-8zM2321 7004l35 23 0-18-36-23zM2404 7058l25 16 0-18-25-16zM2380 6558l11 6 0-17-11-6zM2150 6876l33 22 0-18-33-21zM2217 6919l34 22-1-17-34-22zM2285 6963l24 15-1-17-23-15zM2344 7001l24 16 0-18-24-15zM2416 7048l13 8 0-18-13-8zM2380 6541l23 12 0-18-24-12zM2658 6692l13 7 0-19-13-7zM2205 6895l34 21 0-17-34-22zM2273 6938l35 23 0-18-35-22zM2356 6991l24 16 0-18-24-15zM2205 6877l11 8 0-18-12-7zM2262 6914l58 37 0-18-59-37zM2147 6755l33 21 0-18-34-20zM2203 6790l34 21-1-18-34-21zM2283 6840l24 14-1-17-23-15zM2343 6877l36 22 0-18-37-22zM2146 6738l34 20-1-17-33-21zM2225 6786l23 15 0-18-24-14zM2271 6815l35 22 0-18-35-22zM2330 6851l36 22 0-18-36-22zM2204 6843l163 103 0-18-164-103zM2192 6818l23 14-1-17-22-14zM2249 6854l94 59 0-18-94-59zM2146 6720l33 21 0-18-34-20zM2236 6776l23 14 0-18-23-14zM2330 6833l24 15 0-18-24-15zM2416 6885l12 8 0-18-13-8zM2192 6801l22 14 0-18-23-14zM2272 6850l47 30 0-18-48-29zM2367 6910l12 7 0-18-12-7zM2145 6703l34 20-1-18-33-20zM2247 6765l12 7-1-18-11-7zM2282 6786l12 7 0-18-12-7zM2318 6808l24 14 0-18-24-14zM2403 6859l25 16 0-19-25-15zM2238 6882l105 66 0-18-105-66zM2145 6685l22 14-1-18-22-14zM2201 6719l11 7 0-18-12-7zM2258 6754l12 7 0-18-12-7zM2318 6790l12 7-1-18-12-8zM2366 6819l25 15-1-19-24-15zM2144 6667l22 14 0-18-23-13zM2189 6694l23 14-1-18-23-13zM2378 6808l12 7 0-18-12-8zM2415 6830l13 8 0-19-13-7zM2143 6650l45 27 0-18-45-27zM2403 6804l25 15 0-19-25-14zM2143 6632l45 27 0-18-46-27zM2211 6672l35 21-1-18-35-21zM2353 6756l12 8 0-19-12-7zM2390 6778l38 22 0-18-38-22zM2142 6614l103 61 0-19-103-60zM2341 6731l87 51 0-19-87-51zM2456 6973l37 23 1-18-38-23zM2323 6697l24 13-1-18-23-14zM2481 7006l12 8 0-18-12-8zM2456 6955l25 16 0-18-25-16zM2323 6678l47 28 0-18-48-28zM2456 6937l25 16 0-18-25-15zM2322 6660l12 7 0-18-12-7zM2456 6920l25 15 0-18-25-15zM2481 6917l13 7 0-18-13-7z"/><path class="c0" d="M2798 7052l-134 53 0-17 135-52zM2572 7141l-143 56 0-18 143-55zM2799 7036l-135 52 0-17 135-52zM2572 7124l-143 55 0-17 143-55zM2799 7019l-59 23 0-17 60-23zM2710 7053l-30 12 0-17 30-12zM2572 7107l-63 24 0-17 63-25zM2477 7143l-48 19 0-18 48-18zM2800 7002l-60 23 1-18 59-22zM2477 7126l-48 18 0-17 48-19zM2800 6985l-29 11 0-17 30-11zM2741 7007l-30 12 0-17 30-12zM2509 7096l-32 12 0-17 32-12zM2445 7121l-16 6 0-18 16-6zM2615 7074l-31 12 0-17 31-12zM2801 6968l-30 11 0-17 30-11zM2756 6985l-45 17 0-17 46-18zM2665 7019l-15 6 0-17 16-6zM2588 7049l-31 12 0-18 31-12zM2509 7079l-32 12 0-18 32-12zM2445 7103l-16 6 0-18 16-6zM2752 6870l-14 6 0-17 15-6zM2396 7001l-16 6 0-18 16-6zM2801 6951l-44 16 0-17 45-17zM2681 6996l-31 12 1-18 30-11zM2619 7019l-15 6 0-17 16-6zM2573 7037l-32 12 0-18 32-11zM2461 7079l-32 12 0-17 32-12zM2753 6853l-30 11 0-17 30-11zM2428 6971l-48 18-1-18 49-18zM2622 6589l-15 5 0-18 15-5zM2295 6695l-16 5-1-18 17-5zM2285 7067l-31 11-1-17 32-11zM2600 7063l-16 6 1-17 15-6zM2802 6933l-45 17 0-17 45-17zM2697 6973l-46 17 0-17 46-17zM2620 7002l-16 6 0-18 16-6zM2573 7020l-48 17 0-17 48-18zM2461 7062l-32 12 0-18 32-12zM2622 6571l-15 5 0-18 15-4zM2802 6916l-30 11 1-17 30-11zM2712 6950l-46 17 1-17 45-18zM2635 6979l-46 17 0-18 47-17zM2557 7008l-48 18 1-18 47-18zM2445 7050l-16 6 0-18 16-6zM2622 6554l-30 9 0-17 30-10zM2262 6669l-17 6 0-19 16-5zM2269 7055l-16 6 0-17 16-6zM2728 6927l-46 17 0-18 46-17zM2636 6961l-47 17 0-17 47-18zM2541 6996l-48 18 0-18 49-18zM2806 6794l-45 16 0-17 45-17zM2745 6816l-61 22 0-18 62-22zM2637 6855l-47 17 0-18 47-17zM2542 6889l-48 17 0-18 48-17zM2806 6776l-45 17 1-18 45-16zM2715 6809l-46 17 0-18 47-17zM2637 6837l-47 17 0-18 48-17zM2558 6865l-48 17 0-18 48-17zM2461 6900l-33 11 0-18 33-12zM2807 6759l-45 16 0-18 46-16zM2700 6797l-47 16 1-18 46-16zM2622 6824l-16 6 0-18 16-6zM2574 6841l-48 17 0-18 49-17zM2461 6881l-33 12 0-18 33-12zM2714 6880l-204 74 0-18 204-74zM2808 6741l-46 16 0-18 46-16zM2685 6784l-31 11 0-18 31-11zM2622 6806l-16 6 1-18 15-6zM2575 6823l-33 11 1-18 32-11zM2461 6863l-33 12 0-19 33-11zM2683 6909l-141 52 0-18 141-52zM2808 6723l-30 11 0-18 31-11zM2747 6744l-31 11 1-18 31-11zM2670 6772l-32 11 1-19 31-11zM2591 6799l-32 11 0-18 32-11zM2510 6827l-33 12 0-19 33-11zM2444 6850l-16 6 0-18 16-6zM2651 6938l-78 29 0-18 79-29zM2510 6990l-17 6 1-18 16-6zM2809 6705l-31 11 1-18 30-11zM2748 6726l-31 11 0-18 31-11zM2510 6809l-33 11 0-18 33-11zM2444 6832l-16 6 0-19 16-6zM2683 6873l-141 52 0-18 142-51zM2809 6687l-61 21 0-18 62-21zM2477 6802l-49 17 0-19 49-17zM2810 6669l-62 21 1-18 61-21zM2718 6701l-47 16 0-18 47-16zM2543 6761l-33 11 0-19 33-11zM2477 6783l-49 17 0-18 49-17zM2810 6651l-139 48 0-19 140-47zM2559 6737l-131 45 0-19 131-45zM2653 6867l-79 28 0-18 79-28zM2510 6918l-16 6 0-18 16-6zM2604 6713l-48 16 1-19 47-16zM2428 6953l-32 12 0-18 32-11zM2604 6694l-63 22 0-18 63-22zM2620 6671l-32 11 1-19 31-10zM2541 6698l-16 5 0-18 16-6zM2428 6936l-32 11 0-18 32-11zM2428 6918l-32 11-1-18 33-11zM2395 6911l-16 6 0-18 16-6z"/><path class="c2" d="M2516 6481l11 6-136 42-12-6zM2286 6552l11 6-144 45-11-7zM2527 6487l12 6-136 42-12-6zM2297 6558l12 6-145 45-11-6zM2539 6493l12 6-60 19-12-6zM2449 6521l11 6-46 15-11-7zM2309 6564l11 7-63 20-12-7zM2213 6594l11 7-48 15-12-7zM2551 6499l12 6-61 19-11-6zM2208 6606l12 6-33 11-11-7zM2563 6505l11 6-30 10-11-6zM2363 6567l12 7-31 10-12-7zM2203 6617l12 7-16 5-12-6zM2574 6511l12 6-30 10-12-6zM2499 6535l12 6-16 5-11-6zM2375 6574l12 6-48 15-11-6zM2280 6604l11 6-32 11-12-7zM2197 6843l11 7-47 16-11-7zM2586 6517l12 7-30 9-12-6zM2449 6561l12 6-15 5-12-7zM2355 6590l12 7-16 5-12-7zM2226 6631l12 6-16 6-12-7zM2778 6885l12 7-15 5-12-7zM2598 6524l12 6-45 14-12-6zM2477 6562l11 6-31 10-11-6zM2351 6602l12 6-16 5-12-6zM2238 6637l12 7-17 5-11-6zM2192 6855l11 7-31 11-11-7zM2790 6892l13 7-15 5-13-7zM2610 6530l12 6-45 14-12-6zM2504 6564l12 6-31 10-12-7zM2426 6588l12 7-16 5-12-7zM2363 6608l12 7-32 10-12-7zM2266 6639l12 7-33 10-12-7zM2531 6565l12 6-31 10-12-6zM2438 6595l12 6-32 10-12-6zM2359 6620l11 7-32 10-12-7zM2559 6567l12 6-16 5-12-7zM2466 6596l12 7-48 15-12-7zM2338 6637l12 7-16 5-12-7zM2696 6574l13 6-46 15-13-6zM2635 6594l13 6-31 10-13-6zM2526 6629l13 7-48 16-12-7zM2398 6671l13 7-17 5-12-7zM2349 6687l12 7-16 6-12-7zM2709 6580l12 7-46 15-12-7zM2617 6610l12 7-31 10-12-6zM2523 6641l12 7-32 11-12-7zM2443 6667l12 7-32 11-12-7zM2361 6694l13 7-33 11-13-7zM2721 6587l13 6-46 15-13-6zM2614 6622l12 7-31 10-12-7zM2535 6648l13 7-16 5-13-7zM2471 6669l13 7-33 11-12-7zM2374 6701l12 7-33 11-12-7zM2623 6587l12 7-15 5-13-7zM2530 6618l12 6-79 26-12-7zM2734 6593l12 7-45 15-13-7zM2611 6634l12 7-31 10-13-7zM2484 6676l12 7-16 5-12-7zM2369 6714l13 7-17 5-12-7zM2746 6600l13 7-30 10-13-7zM2608 6646l12 7-16 5-12-7zM2512 6678l13 7-16 5-13-7zM2382 6721l12 7-17 6-12-8zM2537 6594l12 7-143 46-12-7zM2759 6607l13 6-31 10-12-6zM2683 6632l12 7-15 5-13-7zM2460 6706l12 7-32 11-13-7zM2493 6598l12 6-79 26-12-7zM2549 6601l12 6-142 47-13-7zM2772 6613l13 7-31 10-13-7zM2406 6735l13 8-17 5-12-7zM2785 6620l13 6-62 21-12-7zM2550 6699l13 7-33 11-12-8zM2436 6737l12 7-33 12-13-8zM2798 6626l13 7-62 21-13-7zM2705 6658l13 6-47 16-13-7zM2563 6706l13 7-66 22-12-7zM2465 6739l12 7-49 17-13-7zM2440 6997l13 7-16 6-13-7zM2307 6720l12 7-49 16-12-7zM2616 6738l13 7-63 22-13-8zM2263 6724l11 6-16 6-12-7zM2319 6727l12 7-33 11-12-8zM2629 6745l13 7-64 22-12-7zM2657 6746l13 7-31 11-13-7zM2578 6774l13 7-16 6-13-8zM2331 6734l11 7-32 11-12-7zM2326 6746l12 7-16 6-12-7z"/><path class="c6" d="M2305 7048l-16 5 0-17 16-5zM2572 7078l-15 6 0-17 15-6zM2407 6577l-16 5 0-18 16-5zM2235 6999l-16 6-1-17 16-6zM2200 6926l-16 6 0-17 16-6zM2204 6880l-16 5 0-17 15-6zM2418 6566l-15 5 0-18 15-5zM2460 6545l-15 5 0-18 15-5zM2289 6599l-16 5 0-18 16-5zM2245 6989l-15 6-1-17 16-6zM2234 6965l-16 6 0-17 15-6zM2211 6916l-16 6-1-17 16-6zM2457 6556l-16 5 0-18 16-5zM2511 6559l-16 5 0-18 16-5zM2276 6633l-17 6 0-18 16-6zM2731 6862l-15 5 1-17 15-6zM2497 6947l-16 6 0-18 16-6zM2349 7058l-16 5 0-17 16-6zM2195 6736l-16 5 0-18 16-5zM2647 6618l-15 5 0-18 16-5zM2411 6696l-17 6 0-19 17-5zM2361 7048l-16 6-1-18 17-6zM2644 6630l-15 5 0-18 16-5zM2439 6698l-16 5 0-18 16-5zM2372 7038l-16 6 0-17 16-6zM2642 6642l-16 5 0-18 16-5zM2468 6700l-17 5 0-18 17-6zM2384 7028l-16 6 0-17 16-6zM2444 6983l-16 6 0-18 16-6zM2228 6703l-16 5-1-18 17-5zM2311 6708l-16 5 0-18 16-5zM2619 6725l-15 6 0-18 15-6zM2639 6654l-16 5 0-18 16-5zM2560 6680l-16 5 0-18 16-5zM2496 6701l-16 6 0-19 16-5zM2424 7020l-16 6 0-17 16-6zM2453 7022l-16 6 0-18 16-6zM2660 6716l-15 5 0-18 16-5zM2648 6691l-16 5 1-18 15-5zM2384 6958l-17 5 0-17 16-6zM2497 6965l-16 6 0-18 16-6zM2286 6756l-16 5 0-18 16-6zM2626 6775l-32 11 0-18 32-11zM2350 6662l-16 5 0-18 16-5zM2383 6940l-16 6 0-18 16-6zM2383 6868l-17 5 0-18 17-5zM2371 6842l-17 6 0-18 16-6zM2358 6817l-16 5 0-18 16-5zM2346 6791l-16 6-1-18 17-6z"/><path class="c4" d="M2305 7048l11 7 0-17-11-7zM2615 7040l12 8 1-17-13-8zM2565 6562l12 6 0-18-12-6zM2650 6607l13 6 0-18-13-6zM2748 6803l13 7 0-17-13-7zM2457 6991l24 15 0-18-25-15zM2444 6965l12 8 0-18-12-7zM2632 6732l25 14 1-18-26-14zM2311 6690l12 7 0-19-12-6zM2619 6707l13 7 0-18-12-7zM2444 6948l12 7 0-18-12-7zM2311 6672l12 6-1-18-11-6zM2620 6689l12 7 1-18-13-7zM2444 6930l12 7 0-17-12-8zM2469 6909l12 8 0-18-12-8zM2481 6899l13 7 0-18-13-8zM2382 6695l12 7 0-19-12-7z"/><path class="c3" d="M2630 7068l-15 6 0-17 15-5zM2752 6887l-15 6 1-17 14-6zM2396 7018l-16 6 0-17 16-6zM2316 7038l-16 6 0-17 16-6zM2615 7057l-15 6 0-17 15-6zM2738 6876l-15 5 0-17 15-5zM2428 6989l-32 12 0-18 32-12zM2199 6892l-16 6 0-18 16-5zM2430 6554l-16 5 0-17 16-5zM2321 6589l-16 5 0-18 15-5zM2196 6771l-16 5 0-18 16-5zM2444 6965l-16 6 0-18 16-5zM2295 6713l-32 11-1-19 33-10zM2604 6731l-32 10 0-18 32-10zM2311 6690l-16 5 0-18 16-5zM2619 6707l-15 6 0-19 16-5zM2444 6948l-16 5 0-17 16-6zM2311 6672l-16 5-1-18 17-5zM2620 6689l-16 5 0-18 16-5zM2636 6666l-16 5 0-18 16-5zM2525 6703l-16 5 0-18 16-5zM2444 6930l-16 6 0-18 16-6zM2412 6906l-17 5 0-18 17-5zM2395 6893l-16 6 0-18 16-6z"/><path class="c11" d="M2213 7001l11 8-16 5-11-7zM2727 7034l13 8-15 5-13-7zM2497 7123l12 8-16 6-12-8zM2190 6953l11 7-16 6-11-7zM2758 6989l13 7-15 6-13-8zM2465 7100l12 8-16 6-12-8zM2279 6977l11 8-16 6-11-8zM2638 7000l12 8-15 6-13-8zM2591 7018l13 7-16 6-12-8zM2232 6879l11 7-16 6-11-7zM2700 6908l13 7-15 6-13-8zM2529 6971l13 7-16 6-13-7zM2267 6935l11 8-16 6-11-8zM2654 6960l12 7-15 6-13-8zM2576 6988l13 8-16 6-13-8zM2255 6911l11 7-16 6-11-8zM2669 6936l13 8-15 6-13-8zM2313 7000l12 7-16 6-12-7zM2231 6827l11 7-16 5-11-7zM2701 6855l13 7-15 6-13-7zM2529 6917l13 8-16 6-13-8zM2385 7116l12 8-16 6-12-8zM2183 6693l11 7-16 5-11-6zM2765 6727l13 7-16 5-12-7zM2465 6831l12 8-16 6-13-8zM2325 6973l11 7-16 6-11-8zM2253 6823l12 8-16 5-12-7zM2671 6848l13 8-16 5-13-7zM2561 6888l13 7-16 6-13-7zM2409 7097l12 8-16 6-12-8zM2205 6671l11 7-16 5-12-6zM2735 6701l13 7-15 6-13-7zM2498 6783l12 8-16 5-13-7zM2360 6960l12 8-16 6-12-8zM2275 6784l12 7-16 6-12-7zM2641 6806l12 7-15 6-13-8zM2594 6823l12 7-16 6-12-8zM2299 6647l12 7-17 5-11-7zM2636 6666l12 7-15 5-13-7zM2335 6874l12 7-16 6-12-7zM2323 6849l12 7-16 6-12-8zM2577 6864l13 8-16 5-13-7zM2359 6907l12 7-16 6-12-7zM2311 6806l11 7-16 6-12-8zM2407 6828l12 7-16 6-12-7zM2382 6776l12 8-16 5-12-7z"/><path class="c9" d="M2213 7001l-16 6 0-17 15-6zM2727 7034l-15 6 1-17 15-6zM2497 7123l-16 6 0-17 16-6zM2190 6953l-16 6 0-17 15-6zM2479 6529l-15 5 0-18 15-4zM2246 6602l-16 5-1-18 16-5zM2533 6532l-16 5 0-18 16-4zM2236 6625l-16 5 0-18 16-5zM2289 7036l-16 6 0-17 16-6zM2595 6587l-15 5 0-17 15-5zM2267 6693l-16 6-1-18 17-6zM2273 7025l-16 6 0-17 16-6zM2698 7029l-15 5 0-17 15-6zM2528 7093l-15 7 0-18 16-6zM2744 6960l-15 6 0-17 15-6zM2714 6971l-15 6 0-17 15-6zM2638 7000l-16 6 1-17 15-6zM2591 7018l-15 5 0-17 16-6zM2513 7047l-16 6 0-17 16-6zM2481 7059l-16 6 0-17 16-6zM2683 7017l-15 6 0-17 15-6zM2544 7070l-15 6 0-17 15-6zM2465 7100l-16 6 0-17 16-6zM2698 6994l-15 6 1-17 15-6zM2529 7059l-16 6 0-18 16-6zM2729 6949l-15 5 1-17 15-6zM2497 7036l-16 6 0-18 16-6zM2279 6977l-16 6 0-17 16-6zM2232 6879l-16 6 0-18 16-5zM2700 6908l-15 5 0-17 16-6zM2529 6971l-16 6 0-18 16-6zM2434 6583l-16 5 0-18 16-5zM2387 6598l-16 5 0-18 16-5zM2543 6589l-15 5 0-18 15-5zM2371 6645l-16 5-1-18 16-5zM2267 6935l-16 6-1-17 16-6zM2654 6960l-16 5 1-17 15-6zM2576 6988l-16 6 1-17 15-6zM2481 7024l-16 6 0-18 16-6zM2255 6911l-16 5 0-17 16-6zM2669 6936l-15 6 0-17 16-6zM2561 6977l-16 6 0-18 16-6zM2473 6591l-16 5 0-18 16-5zM2500 6593l-15 5 0-18 15-5zM2313 7000l-16 6 0-18 16-5zM2231 6827l-16 5-1-17 16-6zM2701 6855l-15 6 0-18 16-6zM2529 6917l-16 6 0-18 16-6zM2733 6791l-15 5 0-17 15-6zM2497 6875l-16 5 0-18 16-5zM2749 6768l-16 5 1-18 15-5zM2718 6779l-15 5 0-18 16-5zM2641 6806l-16 5 0-18 16-5zM2594 6823l-16 5 0-18 16-5zM2514 6851l-17 6 0-19 17-5zM2481 6862l-16 6 0-18 16-6zM2385 7116l-16 6 0-18 16-6zM2183 6693l-16 6-1-18 17-5zM2765 6727l-15 5 0-18 15-5zM2688 6754l-15 5 0-18 15-5zM2546 6803l-16 6 0-19 16-5zM2465 6831l-17 6 0-18 17-6zM2716 6628l-16 5 1-18 15-5zM2325 6973l-16 5-1-17 16-6zM2253 6823l-16 6 0-18 16-5zM2671 6848l-16 6 1-18 15-5zM2561 6888l-16 6 1-18 15-6zM2561 6625l-16 5 0-18 16-5zM2451 6661l-16 6 0-18 16-6zM2336 6963l-16 5 0-17 16-6zM2264 6813l-16 5 0-17 16-6zM2656 6836l-16 6 0-18 16-6zM2577 6864l-16 6 1-18 15-6zM2481 6899l-16 5 0-18 16-6zM2703 6766l-15 6 0-18 16-6zM2530 6827l-16 6 0-19 16-5zM2558 6637l-16 5 0-18 16-5zM2479 6663l-16 5 0-18 16-5zM2409 7097l-16 6-1-18 17-6zM2205 6671l-17 6 0-18 16-6zM2735 6701l-15 6 0-18 16-6zM2498 6783l-17 6 0-19 17-5zM2710 6652l-15 5 0-18 16-5zM2472 6732l-16 5 0-18 16-6zM2704 6730l-16 6 1-19 15-5zM2673 6741l-16 5 1-18 15-5zM2530 6790l-16 6 0-18 16-6zM2360 6960l-16 6-1-18 17-6zM2275 6784l-16 6 0-18 16-6zM2283 6670l-16 5-1-18 17-5zM2335 6874l-16 6 0-18 16-6zM2323 6849l-16 5-1-17 17-6zM2359 6907l-16 6 0-18 16-6zM2311 6806l-17 5 0-18 16-5zM2407 6665l-17 5 0-18 16-5zM2519 6671l-16 6 0-18 16-6zM2407 6828l-16 6-1-19 17-5zM2382 6776l-16 6-1-18 17-6z"/><path class="c10" d="M2727 7034l13 8 0-17-12-8zM2758 6989l13 7 0-17-13-7zM2479 6529l12 6 0-17-12-6zM2710 6652l13 6 1-18-13-6zM2533 6532l11 6 0-17-11-6zM2716 6628l12 7 1-18-13-7zM2638 7000l12 8 1-18-13-7zM2700 6908l13 7 0-18-12-7zM2434 6583l12 7 0-18-12-7zM2543 6589l12 7 0-18-12-7zM2654 6960l12 7 1-17-13-8zM2669 6936l13 8 0-18-12-7zM2473 6591l12 7 0-18-12-7zM2500 6593l12 6 0-18-12-6zM2591 7018l13 7 0-17-12-8zM2701 6855l13 7 0-17-12-8zM2387 6598l12 7 0-18-12-7zM2519 6671l13 7 0-18-13-7zM2497 7123l12 8 0-17-12-8zM2765 6727l13 7 0-18-13-7zM2246 6602l11 7 0-18-12-7zM2576 6988l13 8 0-18-13-7zM2671 6848l13 8 0-18-13-7zM2395 6616l12 7-1-18-11-7zM2479 6663l12 7 0-18-12-7zM2561 6977l12 7 0-17-12-8zM2656 6836l12 7 1-17-13-8zM2465 7100l12 8 0-17-12-8zM2735 6701l13 7 0-18-12-7zM2236 6625l12 7-1-18-11-7zM2529 6971l13 7 0-17-13-8zM2641 6806l12 7 1-18-13-7zM2396 7018l12 8 0-17-12-8zM2251 6717l12 7-1-19-11-6zM2561 6888l13 7 0-18-13-7zM2577 6864l13 8 0-18-13-8zM2451 6661l12 7 0-18-12-7zM2529 6917l13 8 0-18-13-8zM2594 6823l12 7 0-18-12-7zM2407 6665l12 7 0-18-13-7zM2465 6831l12 8 0-19-12-7zM2498 6783l12 8 0-19-12-7z"/><path class="c0" d="M2301 7061l-16 6 0-17 15-6zM2725 7047l-15 6 0-17 15-6zM2493 7137l-16 6 0-17 16-6zM2740 7025l-30 11 1-17 30-12zM2509 7114l-32 12 0-18 32-12zM2756 7002l-15 5 0-17 15-5zM2525 7090l-16 6 0-17 16-6zM2461 7114l-16 7 0-18 16-6zM2771 6979l-15 6 1-18 14-5zM2681 7013l-16 6 1-17 15-6zM2477 7091l-32 12 0-18 32-12zM2592 6598l-15 5 0-17 15-5zM2569 7075l-15 6 0-17 15-6zM2696 6990l-15 6 0-17 16-6zM2635 7014l-16 5 1-17 15-6zM2588 7031l-15 6 0-17 15-6zM2712 6967l-15 6 0-17 15-6zM2651 6990l-31 12 0-18 31-11zM2604 7008l-31 12 0-18 31-12zM2477 7055l-16 7 0-18 16-6zM2727 6944l-15 6 0-18 16-5zM2651 6973l-16 6 1-18 15-6zM2573 7002l-16 6 0-18 16-6zM2698 6921l-47 17 1-18 46-17zM2573 6967l-31 11 0-17 31-12zM2526 6984l-16 6 0-18 16-6zM2713 6897l-30 12 0-18 31-11zM2542 6961l-32 11 0-18 32-11zM2667 6950l-31 11 0-18 31-11zM2589 6978l-16 6 0-17 16-6zM2729 6857l-15 5 0-17 16-6zM2699 6868l-16 5 1-17 15-6zM2526 6931l-16 5 0-18 16-5zM2761 6793l-15 5 0-18 16-5zM2669 6826l-32 11 1-18 31-11zM2590 6854l-32 11 0-18 32-11zM2477 6894l-16 6 0-19 16-5zM2714 6845l-30 11 0-18 31-11zM2668 6861l-15 6 0-18 15-6zM2558 6901l-48 17 0-18 48-17zM2747 6762l-16 6 1-18 15-6zM2654 6795l-32 11 0-18 32-11zM2606 6812l-31 11 0-18 32-11zM2510 6846l-16 5 0-18 16-6zM2477 6857l-16 6 0-18 16-6zM2762 6739l-15 5 1-18 15-5zM2526 6822l-16 5 0-18 16-6zM2461 6845l-17 5 0-18 17-6zM2778 6716l-30 10 0-18 31-10zM2477 6820l-33 12 0-19 33-11zM2684 6838l-16 5 1-17 15-6zM2574 6877l-32 12 0-18 32-12zM2477 6912l-49 18 0-19 49-17zM2733 6714l-16 5 1-18 15-5zM2702 6724l-16 6 0-18 16-6zM2527 6785l-17 6 0-19 17-6zM2494 6796l-17 6 0-19 17-5zM2748 6690l-30 11 0-18 31-11zM2510 6772l-33 11 0-18 33-12zM2638 6819l-16 5 0-18 16-5zM2590 6836l-16 5 1-18 15-6zM2262 6687l-16 6-1-18 17-6zM2278 6664l-16 5-1-18 17-5zM2575 6731l-16 6 0-19 17-5z"/><path class="c8" d="M2289 7036l11 8-15 6-12-8zM2642 7059l13 8-16 6-12-8zM2741 6829l12 7-15 5-12-7zM2384 6958l12 7-17 6-12-8zM2273 7025l11 8-15 5-12-7zM2235 6999l11 8-16 5-11-7zM2698 7029l12 7-15 6-12-8zM2528 7093l13 8-16 6-12-7zM2200 6926l11 7-16 6-11-7zM2744 6960l13 7-15 6-13-7zM2714 6971l12 8-15 6-12-8zM2513 7047l12 8-16 6-12-8zM2481 7059l12 8-16 6-12-8zM2580 6575l12 6-15 5-12-7zM2283 6670l12 7-17 5-11-7zM2245 6989l12 8-16 6-11-8zM2683 7017l12 8-15 6-12-8zM2234 6965l11 7-16 6-11-7zM2698 6994l13 8-15 6-13-8zM2529 7059l12 8-16 6-12-8zM2222 6941l11 7-15 6-12-8zM2211 6916l11 8-16 5-11-7zM2729 6949l13 7-15 6-13-8zM2497 7036l12 7-16 6-12-7zM2199 6892l11 7-16 6-11-7zM2745 6926l12 7-15 6-12-8zM2481 7024l12 8-16 6-12-8zM2209 6847l11 8-16 5-11-7zM2361 7083l12 7-16 6-12-7zM2349 7058l12 7-16 6-12-8zM2207 6760l11 7-16 5-11-7zM2733 6791l13 7-15 6-13-8zM2497 6875l13 7-16 6-13-8zM2195 6736l11 6-16 6-11-7zM2749 6768l13 7-16 5-13-7zM2718 6779l13 7-15 5-13-7zM2514 6851l12 7-16 6-13-7zM2481 6862l13 8-17 6-12-8zM2361 7048l12 8-17 6-11-8zM2372 7038l12 8-16 6-12-8zM2703 6766l13 7-16 6-12-7zM2530 6827l12 7-16 6-12-7zM2396 7054l12 8-16 6-12-8zM2384 7028l12 8-16 6-12-8zM2444 6983l13 8-17 6-12-8zM2688 6754l13 7-16 5-12-7zM2626 6775l12 8-31 11-13-8zM2546 6803l13 7-16 6-13-7zM2228 6703l12 7-17 5-11-7zM2311 6708l12 7-16 5-12-7zM2619 6725l13 7-16 6-12-7zM2704 6730l13 7-16 6-13-7zM2530 6790l13 8-17 5-12-7zM2396 7018l12 8-16 6-12-8zM2267 6693l12 7-17 5-11-6zM2660 6716l13 7-15 5-13-7zM2648 6691l13 7-16 5-13-7zM2497 6965l13 7-16 6-13-7zM2286 6756l12 7-16 5-12-7zM2350 6662l12 7-16 5-12-7zM2576 6675l12 7-31 10-13-7zM2298 6763l12 7-16 5-12-7zM2362 6669l12 7-16 5-12-7zM2383 6868l12 7-16 6-13-8zM2371 6842l12 8-17 5-12-7zM2358 6817l12 7-16 6-12-8zM2346 6791l12 8-16 5-12-7zM2395 6857l12 8-16 5-12-7zM2358 6780l12 8-16 5-13-7z"/><path class="c7" d="M2572 7078l12 8 0-17-12-8zM2289 7036l11 8 0-17-11-8zM2750 6900l12 7 1-17-13-7zM2595 6587l12 7 0-18-12-6zM2273 7025l11 8 0-17-11-8zM2698 7029l12 7 1-17-13-8zM2744 6960l13 7 0-17-13-7zM2580 6575l12 6 0-18-12-6zM2460 6545l12 6 0-17-12-7zM2484 6557l11 7 0-18-11-6zM2642 6642l12 7 0-19-12-6zM2667 6655l12 7 1-18-13-7zM2541 6549l12 6 0-17-12-6zM2675 6620l13 6 0-18-13-6zM2667 7040l13 8 0-17-12-8zM2683 7017l12 8 1-17-13-8zM2698 6994l13 8 0-17-12-8zM2714 6971l12 8 1-17-13-8zM2729 6949l13 7 0-17-12-8zM2430 6554l11 7 0-18-11-6zM2636 6666l12 7 1-19-13-6zM2457 6556l11 6 0-17-11-7zM2639 6654l12 7 0-19-12-6zM2511 6559l12 6 0-18-12-6zM2644 6630l13 7 0-18-12-7zM2528 7093l13 8 0-17-12-8zM2733 6791l13 7 0-18-13-7zM2749 6768l13 7 0-18-13-7zM2289 6599l11 6 0-18-11-6zM2468 6700l12 7 0-19-12-7zM2492 6714l13 7 0-19-12-7zM2316 6600l12 7 0-18-12-7zM2496 6701l13 7 0-18-13-7zM2647 6618l13 7 0-18-12-7zM2529 7059l12 8 0-18-12-8zM2718 6779l13 7 0-18-12-7zM2513 7047l12 8 0-18-12-7zM2703 6766l13 7 0-18-12-7zM2481 7059l12 8 0-18-12-7zM2497 7036l12 7 0-17-12-8zM2444 6983l13 8-1-18-12-8zM2688 6754l13 7 0-18-13-7zM2311 6708l12 7 0-18-12-7zM2619 6725l13 7 0-18-13-7zM2704 6730l13 7 0-18-13-7zM2276 6633l11 7 0-18-12-7zM2407 6709l12 7 0-19-13-7zM2424 7020l13 8 0-18-13-7zM2453 7022l12 8 0-18-12-8zM2673 6741l13 7 0-18-13-7zM2267 6693l12 7-1-18-11-7zM2283 6670l12 7-1-18-11-7zM2384 6958l12 7 0-18-13-7zM2497 6965l13 7 0-18-13-7zM2286 6756l24 14 0-18-24-15zM2626 6775l12 8 1-19-13-7zM2350 6662l24 14 0-19-24-13zM2411 6696l12 7 0-18-12-7zM2383 6940l13 7 0-18-13-7zM2497 6947l13 7 0-18-13-7zM2497 6875l13 7 0-18-13-7zM2514 6851l12 7 0-18-12-7zM2530 6827l12 7 1-18-13-7zM2546 6803l13 7 0-18-13-7zM2439 6698l12 7 0-18-12-7zM2481 6862l13 8 0-19-13-7zM2530 6790l13 8 0-19-13-7z"/><path class="c1" d="M2627 7082l12 8 0-17-12-8zM2208 7014l22 15 0-17-22-15zM2381 7130l24 16 0-18-24-16zM2197 6990l22 15-1-17-22-15zM2230 7012l11 8 0-17-11-8zM2369 7104l24 16 0-17-24-16zM2185 6966l22 14 0-17-22-14zM2218 6988l12 7-1-17-11-7zM2264 7018l11 7 0-17-12-8zM2310 7048l11 8 0-18-12-7zM2405 7111l24 16 0-18-24-16zM2174 6942l22 14-1-17-22-14zM2229 6978l23 15-1-17-22-15zM2309 7031l12 7 0-17-12-8zM2333 7046l12 8-1-18-11-7zM2356 7062l24 15 0-17-24-16zM2392 7085l25 16 0-18-25-15zM2391 6564l12 7 0-18-12-6zM2645 6703l26 14 0-18-26-14zM2652 7080l12 8 0-17-12-8zM2195 6939l11 7 0-17-11-7zM2229 6961l11 7 0-17-12-7zM2274 6991l23 15 0-18-23-15zM2309 7013l24 16-1-18-23-15zM2344 7036l12 8 0-17-12-8zM2368 7052l12 8 0-18-12-8zM2404 7076l13 7 0-17-13-8zM2184 6915l11 7-1-17-11-7zM2263 6966l23 15-1-18-23-14zM2297 6988l24 16-1-18-23-15zM2356 7027l12 7 0-17-12-8zM2403 6553l11 6 0-17-11-7zM2633 6678l25 14 0-19-25-13zM2194 6905l23 14-1-17-22-14zM2262 6949l23 14 0-17-23-15zM2320 6986l24 15 0-17-24-16zM2368 7017l12 7 0-17-12-8zM2392 7032l24 16 0-18-24-16zM2193 6870l12 7-1-17-11-7zM2227 6892l35 22-1-18-34-22zM2320 6951l24 15-1-18-23-15zM2356 6974l24 15-1-18-24-15zM2204 6860l34 22 0-18-34-21zM2343 6948l24 15 0-17-24-16zM2250 6924l23 14 0-17-23-15zM2308 6961l12 7 0-17-12-8zM2191 6783l12 7-1-18-11-7zM2237 6811l11 7 0-17-12-8zM2319 6862l24 15-1-18-24-15zM2391 6907l37 23 0-19-37-22zM2180 6758l11 7-1-17-11-7zM2213 6779l12 7-1-17-11-7zM2248 6801l23 14 0-18-23-14zM2306 6837l24 14 0-18-24-14zM2379 6881l49 30 0-18-49-30zM2226 6839l23 15 0-18-23-14zM2355 6920l24 15 0-18-24-15zM2214 6815l23 14 0-18-23-14zM2249 6836l23 14-1-17-23-15zM2331 6887l36 23 0-18-36-23zM2179 6723l22 14 0-18-23-14zM2259 6772l23 14 0-18-24-14zM2294 6793l24 15 0-18-24-15zM2354 6830l24 15 0-19-24-15zM2178 6705l23 14-1-18-22-13zM2294 6775l24 15-1-19-24-14zM2342 6804l24 15 0-19-25-14zM2403 6841l25 15 0-18-25-15zM2166 6681l23 13-1-17-22-14zM2366 6800l12 8 0-19-12-7zM2390 6815l25 15 0-18-25-15zM2200 6683l34 21 0-18-35-21zM2378 6789l25 15 0-18-25-15zM2188 6659l23 13-1-18-22-13zM2329 6742l24 14 0-18-24-15zM2365 6764l25 14 0-18-25-15zM2271 6797l23 14 0-18-24-14zM2306 6819l24 14 0-18-24-15zM2366 6855l13 8-1-18-12-8zM2403 6878l13 7-1-18-12-8zM2658 6728l12 7 1-18-13-7zM2481 6935l13 7 0-18-13-7zM2358 6681l24 14 0-19-24-13z"/><path class="c6" d="M2642 7059l-15 6 0-17 16-6zM2750 6900l-15 6 0-18 15-5zM2655 7050l-15 6 0-18 15-5zM2747 6913l-15 5 1-17 15-5zM2541 6549l-15 5 0-18 15-4zM2308 6623l-16 5-1-18 16-5zM2257 7014l-16 6 0-17 16-6zM2222 6941l-16 5 0-17 16-5zM2484 6557l-16 5 0-17 16-5zM2312 6612l-16 5 0-18 16-5zM2538 6560l-15 5 0-18 15-4zM2303 6635l-16 5 0-18 16-5zM2565 6562l-15 5 0-18 15-5zM2299 6647l-16 5-1-18 17-5zM2586 6586l-15 5 0-18 15-5zM2606 7046l-15 6 0-17 16-6zM2207 6760l-16 5-1-17 16-6zM2316 6600l-16 5 0-18 16-5zM2675 6620l-15 5 0-18 15-5zM2407 6709l-17 5 0-18 16-6zM2218 6749l-16 6-1-18 16-5zM2229 6739l-16 5-1-18 16-5zM2396 7054l-16 6 0-18 16-6zM2240 6728l-16 5-1-18 17-5zM2667 6655l-16 6 0-19 16-5zM2492 6714l-16 5 0-18 17-6zM2251 6717l-16 5-1-18 17-5zM2395 6857l-16 6-1-18 17-6z"/><path class="c4" d="M2615 7057l12 8 0-17-12-8zM2640 7038l12 8 1-17-13-8zM2481 7024l12 8 0-18-12-8z"/><path class="c5" d="M2738 6876l12 7-15 5-12-7zM2428 6989l12 8-32 12-12-8zM2257 7014l11 7-15 6-12-7zM2667 7040l13 8-15 6-13-8zM2560 7081l12 8-16 6-12-8zM2338 7067l11 8-16 6-11-8zM2457 6991l12 7-16 6-13-7zM2295 6713l12 7-33 10-11-6zM2323 6715l12 6-16 6-12-7zM2604 6731l12 7-47 16-13-7zM2632 6732l12 7-15 6-13-7zM2469 6998l12 8-16 6-12-8zM2251 6717l12 7-17 5-11-7zM2644 6739l13 7-15 6-13-7zM2566 6767l12 7-16 5-12-7zM2673 6741l13 7-16 5-13-7zM2562 6779l13 8-16 5-13-7zM2338 6753l12 7-16 6-12-7zM2334 6766l12 7-17 6-12-8z"/><path class="c2" d="M2765 6877l13 8-15 5-13-7zM2735 6888l13 8-15 5-13-7zM2408 7009l12 7-16 6-12-8zM2464 6516l11 7-15 4-11-6zM2229 6589l12 7-17 5-11-7zM2491 6518l11 6-30 10-12-7zM2445 6532l12 6-16 5-11-6zM2305 6576l11 6-16 5-11-6zM2273 6586l11 6-64 20-12-6zM2517 6519l12 6-61 20-11-7zM2441 6543l12 6-47 15-11-6zM2332 6577l12 7-16 5-12-7zM2300 6587l12 7-65 20-11-7zM2220 6612l11 7-16 5-12-7zM2544 6521l12 6-45 14-12-6zM2468 6545l12 6-62 19-12-6zM2328 6589l11 6-16 5-11-6zM2296 6599l11 6-16 5-11-6zM2247 6614l12 7-49 15-11-7zM2763 6890l12 7-15 6-12-7zM2437 7010l12 8-33 12-12-8zM2556 6527l12 6-15 5-12-6zM2526 6536l12 7-15 4-12-6zM2495 6546l12 6-46 15-12-6zM2371 6585l12 7-16 5-12-7zM2339 6595l12 7-16 5-12-7zM2291 6610l12 7-16 5-12-7zM2259 6621l12 6-33 10-12-6zM2775 6897l13 7-15 6-13-7zM2465 7012l12 8-48 18-13-8zM2188 6868l11 7-16 5-11-7zM2553 6538l12 6-15 5-12-6zM2523 6547l12 7-47 14-11-6zM2446 6572l11 6-94 30-12-6zM2287 6622l12 7-49 15-12-7zM2519 6559l12 6-15 5-12-6zM2457 6578l12 7-31 10-12-7zM2410 6593l12 7-16 5-11-7zM2282 6634l12 7-16 5-12-7zM2571 6573l12 6-78 25-12-6zM2528 6576l12 7-62 20-12-7zM2418 6611l12 7-16 5-12-7zM2354 6632l12 7-16 5-12-7zM2583 6579l12 7-46 15-12-7zM2610 6581l13 6-31 10-12-6zM2390 6652l12 7-32 11-12-7zM2485 6580l12 6-47 15-12-6zM2607 6592l13 7-16 5-12-7zM2545 6612l13 7-16 5-12-6zM2435 6649l12 6-65 21-12-6zM2663 6595l12 7-15 5-12-7zM2632 6605l13 7-16 5-12-7zM2539 6636l12 7-16 5-12-7zM2491 6652l12 7-48 15-12-7zM2394 6683l12 7-32 11-13-7zM2660 6607l13 7-16 5-12-7zM2629 6617l13 7-16 5-12-7zM2503 6659l13 6-32 11-13-7zM2423 6685l12 7-16 5-13-7zM2390 6696l12 7-16 5-12-7zM2688 6608l13 7-47 15-12-6zM2626 6629l13 7-16 5-12-7zM2532 6660l12 7-48 16-12-7zM2451 6687l13 7-82 27-13-7zM2701 6615l12 7-62 20-12-6zM2623 6641l13 7-16 5-12-7zM2544 6667l13 7-32 11-13-7zM2480 6688l13 7-66 22-12-7zM2729 6617l12 6-46 16-12-7zM2651 6642l13 7-15 5-13-6zM2509 6690l12 7-16 5-12-7zM2476 6701l13 7-17 5-12-7zM2741 6623l13 7-30 10-13-6zM2695 6639l13 7-62 21-13-7zM2521 6697l13 7-49 16-13-7zM2456 6719l13 7-17 5-12-7zM2542 6624l12 7-15 5-13-7zM2463 6650l12 7-64 21-13-7zM2366 6682l12 7-17 5-12-7zM2333 6693l12 7-17 5-12-7zM2724 6640l12 7-78 26-12-6zM2518 6709l12 8-32 11-13-8zM2452 6731l13 8-17 5-12-7zM2736 6647l13 7-31 10-13-6zM2310 6752l12 7-17 5-12-7zM2594 6768l13 7-16 6-13-7zM2322 6759l12 7-17 5-12-7z"/><path class="c0" d="M2285 7050l-16 5 0-17 15-5zM2584 7069l-15 6 0-17 16-6zM2300 7027l-16 6 0-17 16-6zM2269 7038l-16 6 0-17 15-6zM2607 6576l-15 5 0-18 15-5zM2278 6682l-16 5 0-18 16-5zM2695 7042l-15 6 0-17 15-6zM2525 7107l-16 7 0-18 16-6zM2711 7019l-16 6 1-17 15-6zM2603 7060l-31 12 0-17 32-12zM2742 6973l-16 6 1-17 15-6zM2711 6985l-15 5 1-17 15-6zM2541 7049l-16 6 0-18 16-6zM2509 7061l-16 6 0-18 16-6zM2477 7073l-16 6 0-17 16-7zM2757 6950l-15 6 0-17 15-6zM2727 6962l-15 5 0-17 15-6zM2525 7037l-16 6 0-17 16-6zM2493 7049l-16 6 0-17 16-6zM2592 6563l-15 5 0-18 15-4zM2294 6659l-16 5 0-18 16-5zM2696 7008l-15 5 0-17 15-6zM2650 7025l-15 6 0-17 15-6zM2604 7043l-16 6 0-18 16-6zM2525 7073l-16 6 0-18 16-6zM2743 6904l-30 11 0-18 31-11zM2745 6851l-16 6 1-18 15-5zM2510 6936l-16 6 0-18 16-6zM2745 6834l-31 11 1-18 30-11zM2731 6804l-16 5 1-18 15-5zM2494 6888l-17 6 0-18 17-6zM2746 6780l-15 6 0-18 16-6zM2716 6791l-16 6 0-18 16-6zM2510 6864l-16 6 0-19 16-5zM2477 6876l-16 5 0-18 16-6zM2762 6757l-15 5 0-18 15-5zM2731 6768l-15 5 0-18 16-5zM2700 6779l-15 5 0-18 16-5zM2526 6840l-16 6 0-19 16-5zM2494 6851l-17 6 0-18 17-6zM2716 6755l-15 6 0-18 16-6zM2685 6766l-15 6 0-19 16-5zM2607 6794l-16 5 0-18 16-6zM2543 6816l-17 6 0-19 17-5zM2509 7026l-16 6 0-18 17-6zM2477 7038l-32 12 0-18 32-12zM2701 6743l-15 5 0-18 16-6zM2526 6803l-16 6 0-18 17-6zM2717 6719l-15 5 0-18 16-5zM2686 6730l-16 5 1-18 15-5zM2543 6779l-16 6 0-19 16-5zM2262 6705l-16 6 0-18 16-6zM2396 6929l-17 6 0-18 16-6zM2557 6692l-16 6 0-19 16-5zM2575 6750l-32 11 0-19 32-11z"/><path class="c1" d="M2639 7073l13 7 0-17-12-7zM2627 7048l13 8 0-18-12-7zM2241 7003l23 15-1-18-23-15zM2218 6954l11 7-1-17-11-8zM2392 7068l12 8 0-18-12-8zM2206 6929l22 15 0-18-23-14zM2380 7042l24 16 0-18-24-16zM2194 6888l11 7 0-18-12-7zM2333 7081l12 8 0-18-12-8zM2202 6772l11 7 0-17-11-7zM2190 6748l12 7-1-18-11-7zM2391 6870l12 8 0-19-12-7zM2201 6737l12 7-1-18-11-7zM2378 6845l25 14 0-18-25-15zM2212 6726l12 7-1-18-11-7zM2223 6715l12 7-1-18-11-7zM2329 6779l12 7 0-19-12-7zM2234 6704l12 7 0-18-12-7zM2317 6753l24 14 0-18-24-14zM2317 6735l12 7 0-19-12-7zM2317 6716l24 15 0-19-25-14z"/><path class="c8" d="M2655 7050l12 7-15 6-12-7zM2731 6879l13 7-16 6-12-7zM2218 6749l11 7-16 6-11-7zM2229 6739l11 6-16 6-11-7zM2240 6728l11 7-16 5-11-7z"/><path class="c7" d="M2747 6913l13 7 0-17-12-7zM2538 6560l12 7 0-18-12-6zM2291 7019l11 8 0-17-11-8zM2622 7041l12 7 1-17-13-8zM2395 6575l11 7 0-18-11-6zM2312 6612l12 6-1-18-11-6zM2308 6623l11 7 0-18-12-7zM2303 6635l12 7 0-18-12-7z"/><path class="c0" d="M2680 7065l-16 6 1-17 15-6zM2772 6927l-15 6 1-17 15-6zM2650 7042l-16 6 1-17 15-6z"/><path class="c1" d="M2652 7063l12 8 1-17-13-8zM2298 7040l12 8-1-17-11-8zM2298 7023l11 8 0-18-12-7zM2213 6762l23 14 0-18-23-14zM2224 6751l23 14 0-18-23-14zM2235 6740l23 14 0-18-23-14zM2311 6654l11 6 0-18-12-7z"/><path class="c9" d="M2667 7040l-15 6 1-17 15-6zM2560 7081l-16 6 0-17 16-6zM2745 6926l-15 5 0-17 15-6zM2580 6609l-16 5 0-18 16-5zM2395 6616l-16 5 0-18 16-5zM2391 6628l-16 5 0-18 16-5zM2562 6779l-16 6 0-19 16-5zM2415 6728l-17 6 0-19 17-5z"/><path class="c4" d="M2745 6926l12 7 1-17-13-8zM2299 6647l12 7-1-19-11-6z"/><path class="c2" d="M2760 6903l13 7-15 6-13-8zM2550 6549l12 6-31 10-12-6zM2379 6603l12 7-16 5-12-7zM2331 6618l12 7-33 10-11-6zM2562 6555l12 7-31 9-12-6zM2406 6605l12 6-16 5-11-6zM2375 6615l11 7-16 5-11-7zM2326 6630l12 7-16 5-12-7zM2574 6562l12 6-15 5-12-6zM2406 6564l12 6-31 10-12-6zM2418 6570l12 7-31 10-12-7zM2323 6600l12 7-16 5-12-7zM2564 6596l13 6-16 5-12-6zM2335 6607l12 6-32 11-12-7zM2537 6692l13 7-16 5-13-7zM2398 6715l13 8-17 5-12-7zM2394 6728l12 7-16 6-13-7z"/><path class="c0" d="M2680 7031l-30 11 0-17 31-12zM2572 7072l-15 6 0-17 15-6zM2742 6939l-15 5 1-17 15-6zM2743 6921l-15 6 0-18 15-5zM2556 7095l-15 6 0-17 16-6zM2559 6792l-16 6 0-19 16-5zM2575 6768l-32 11 0-18 32-11z"/><path class="c6" d="M2291 7019l-16 6 0-17 16-6zM2622 7041l-16 5 1-17 15-6zM2731 6879l-15 6 0-18 15-5zM2361 7083l-16 6 0-18 16-6zM2358 6780l-17 6 0-19 17-5z"/><path class="c1" d="M2275 7008l23 15-1-17-23-15zM2357 7096l12 8 0-17-12-8zM2345 7071l24 16-1-18-23-15zM2354 6793l12 7 0-18-13-7zM2341 6767l25 15-1-18-24-15z"/><path class="c0" d="M2635 7031l-31 12 0-18 31-11zM2728 6892l-15 5 1-17 15-6zM2729 6874l-15 6 0-18 15-5z"/><path class="c10" d="M2580 6609l12 6 0-18-12-6zM2561 6625l12 7 0-18-12-7zM2391 6628l12 7-1-19-11-6zM2558 6637l12 7 0-18-12-7zM2371 6645l12 7-1-19-12-6zM2567 6656l12 7 0-19-12-6zM2415 6728l12 8 0-19-12-7zM2472 6732l13 7 0-19-13-7z"/><path class="c8" d="M2544 7070l13 8-16 6-12-8z"/><path class="c7" d="M2544 7070l13 8 0-17-13-8zM2576 6675l12 7 1-19-13-7z"/><path class="c2" d="M2592 6597l12 7-31 10-12-7zM2604 6604l13 6-47 16-12-7zM2586 6621l12 6-47 16-12-7zM2402 6616l12 7-32 10-12-6zM2414 6623l12 7-64 21-12-7zM2583 6632l12 7-16 5-12-6zM2394 6640l12 7-32 10-12-6zM2592 6651l12 7-15 5-13-7zM2427 6717l13 7-34 11-12-7zM2485 6720l13 8-33 11-13-8zM2440 6724l12 7-33 12-13-8zM2498 6728l12 7-33 11-12-7z"/><path class="c0" d="M2541 7084l-16 6 0-17 16-6zM2557 7061l-16 6 0-18 16-6z"/><path class="c11" d="M2336 6963l12 7-16 6-12-8zM2561 6977l12 7-16 6-12-7zM2264 6813l12 7-16 5-12-7zM2656 6836l12 7-15 6-13-7z"/><path class="c1" d="M2332 6976l24 15 0-17-24-16zM2260 6825l23 15 0-18-24-14z"/><path class="c0" d="M2557 6990l-16 6 1-18 15-5zM2653 6849l-16 6 0-18 16-6z"/><path class="c9" d="M2567 6656l-16 5 0-18 16-5z"/><path class="c2" d="M2551 6643l13 7-16 5-13-7zM2579 6644l13 7-48 16-12-7z"/><path class="c6" d="M2576 6675l-16 5 0-18 16-6z"/></g><path class="dot" stroke-width="1.6" d="M252.5 705.5h.01M235.6 704.4h.01M271.6 677.3h.01M221.3 674.4h.01M264.2 662.4h.01M230.7 660.5h.01M249.4 688.8h.01M237.9 688.1h.01M239.4 668.3h.01M257.5 676.8h.01M231.7 675.3h.01M253.7 669.2h.01M246.1 693.6h.01M240.4 693.2h.01M259.1 674.4h.01M230.5 672.8h.01M266.5 705.4h.01M225.3 702.7h.01M274.2 693.9h.01M219.4 690.5h.01"/>
<g class="v" transform="scale(.1)"><path class="c1" d="M1895 7657l16 10-1-24-16-11zM1911 7667l16 11 0-25-17-10zM1894 7632l16 11 0-25-17-11zM1927 7678l17 11-1-25-16-11zM1910 7643l17 10-1-25-16-10zM1893 7607l17 11-1-26-16-10zM1944 7689l16 12 0-26-17-11zM2063 7697l17 11 0-25-17-11zM1927 7653l16 11-1-25-16-11zM1910 7618l16 10-1-25-16-11zM1893 7582l16 10-1-25-16-10zM1960 7701l17 11-1-25-16-12zM1943 7664l17 11-1-25-17-11zM1926 7628l16 11 0-25-17-11zM1909 7592l16 11 0-25-17-11zM1892 7557l16 10-1-25-16-11zM1977 7712l16 11 0-25-17-11zM1960 7675l16 12 0-26-17-11zM1942 7639l17 11-1-25-16-11zM1925 7603l17 11-1-25-16-11zM1908 7567l17 11-1-26-17-10zM1891 7531l16 11 0-26-17-10zM2119 7199l17 9-1-26-17-9zM1959 7650l17 11-1-25-17-11zM1942 7614l16 11 0-26-17-10zM1925 7578l16 11-1-26-16-11zM2062 7769l17 12 0-26-18-12zM1991 7621l17 12 0-26-17-11zM1974 7585l17 11-1-26-17-11zM1939 7512l17 10-1-25-16-11zM1887 7403l17 10-1-26-16-10zM2079 7781l17 11 0-25-17-12zM2008 7633l17 11 0-26-17-11zM1991 7596l17 11-1-26-17-11zM1973 7559l17 11 0-26-17-11zM1956 7522l17 11-1-26-17-10zM1939 7486l16 11 0-27-17-10zM1887 7377l16 10-1-26-16-10zM2096 7792l18 12 0-25-18-12zM1990 7570l17 11 0-26-17-11zM1955 7497l17 10 0-26-17-11zM1938 7460l17 10-1-26-17-10zM1886 7351l16 10 0-26-17-10zM2114 7804l18 12 0-25-18-12zM1955 7470l17 11-1-26-17-11zM1937 7434l17 10-1-26-16-10zM1902 7361l17 10-1-26-16-10zM1885 7325l17 10-1-27-17-10zM2132 7816l18 12 0-25-18-12zM2114 7779l18 12-1-26-17-12zM2096 7741l18 12-1-26-17-12zM1954 7444l17 11-1-27-17-10zM1919 7371l17 10-1-26-17-10zM1902 7335l16 10 0-27-17-10zM1884 7298l17 10-1-26-16-10zM2150 7828l18 13 0-26-18-12zM2132 7791l18 12-1-26-18-12zM2114 7753l17 12 0-26-18-12zM2024 7566l18 11-1-26-17-11zM2006 7529l18 11-1-27-17-11zM1971 7455l17 10 0-26-18-11zM1918 7345l17 10 0-27-17-10zM1901 7308l17 10-1-27-17-9zM1884 7272l16 10-1-27-16-10zM2150 7803l18 12-1-26-18-12zM2131 7765l18 12 0-26-18-12zM2077 7652l18 11 0-26-18-11zM2059 7614l18 12 0-27-18-11zM2042 7577l17 11 0-26-18-11zM2024 7540l17 11 0-27-18-11zM2006 7502l17 11 0-26-18-11zM1988 7465l17 11 0-26-17-11zM1935 7355l17 10 0-27-17-10zM1918 7318l17 10-1-27-17-10zM1900 7282l17 9-1-26-17-10zM2149 7777l18 12 0-27-18-11zM2131 7739l18 12 0-27-18-11zM2077 7626l18 11-1-26-17-12zM2041 7551l18 11-1-27-17-11zM2023 7513l18 11-1-26-17-11zM1988 7439l17 11-1-27-17-11zM1935 7328l17 10-1-27-17-10zM1917 7291l17 10-1-26-17-10zM2149 7751l18 11 0-26-18-12zM2095 7637l18 11-1-26-18-11zM2221 7645l18 11 0-26-18-12zM2203 7607l18 11 0-26-18-11zM2041 7524l17 11 0-26-18-11zM1952 7338l17 11-1-27-17-11zM2076 7345l18 11-1-27-17-10zM1934 7301l17 10-1-26-17-10zM2149 7724l18 12 0-26-18-12zM2221 7618l18 12 0-27-18-11zM2203 7581l18 11 0-27-18-11zM2004 7423l18 10-1-26-17-11zM2094 7356l17 10 0-27-18-10zM1951 7311l17 11 0-27-18-10zM2076 7319l17 10 0-27-18-10zM2094 7584l18 11 0-26-18-12zM2221 7592l18 11 0-26-18-12zM2022 7433l17 11 0-27-18-10zM2093 7329l18 10 0-27-18-10zM2094 7557l18 12 0-27-18-11zM2221 7565l18 12 1-27-19-12zM2076 7520l18 11-1-27-18-11zM2058 7482l17 11 0-27-18-11zM2039 7444l18 11 0-27-18-11zM2111 7339l18 10 0-27-18-10zM2094 7531l18 11-1-27-18-11zM2075 7493l18 11 0-27-18-11zM2057 7455l18 11 0-27-18-11zM2129 7499l19 11 0-27-19-12zM2111 7460l18 11 0-27-18-11zM2148 7510l18 11 0-27-18-11zM2129 7471l19 12-1-28-18-11zM2111 7433l18 11 0-28-19-10zM2148 7483l18 11 0-28-19-11zM2129 7444l18 11 0-28-18-11zM2147 7455l19 11 0-28-19-11zM2129 7416l18 11 0-27-18-11zM2147 7427l19 11 0-28-19-10z"/><path class="c0" d="M2533 7697l-21 9 0-25 22-9zM2512 7706l-23 9 1-26 22-8zM2534 7672l-22 9 1-25 22-9zM2489 7715l-22 8 1-25 22-9zM2512 7681l-22 8 1-25 22-8zM2535 7647l-22 9 1-26 22-8zM2345 7715l-22 9 0-25 23-9zM2467 7723l-22 9 1-25 22-9zM2490 7689l-22 9 1-25 22-9zM2513 7656l-22 8 0-25 23-9zM2536 7622l-22 8 0-25 22-9zM2482 7513l-22 9 0-26 23-8zM2323 7724l-23 9 0-25 23-9zM2445 7732l-22 9 0-26 23-8zM2468 7698l-22 9 0-26 23-8zM2491 7664l-22 9 0-26 22-8zM2514 7630l-23 9 1-26 22-8zM2536 7596l-22 9 1-26 22-8zM2483 7488l-23 8 1-26 22-8zM2300 7733l-23 9 1-26 22-8zM2446 7707l-23 8 1-25 22-9zM2469 7673l-23 8 1-25 22-9zM2491 7639l-22 8 1-25 22-9zM2514 7605l-22 8 1-25 22-9zM2483 7462l-22 8 1-26 22-8zM2446 7681l-22 9 0-26 23-8zM2469 7647l-22 9 0-26 23-8zM2492 7613l-22 9 0-26 23-8zM2309 7785l-23 9 0-25 23-9zM2402 7647l-23 9 1-26 22-8zM2425 7613l-23 9 1-26 23-9zM2448 7579l-22 8 0-26 23-8zM2541 7441l-22 8 0-26 23-8zM2286 7794l-24 10 0-26 24-9zM2402 7622l-22 8 0-26 23-8zM2426 7587l-23 9 0-27 23-8zM2542 7415l-23 8 1-26 23-8zM2262 7804l-23 9 0-26 23-9zM2403 7596l-23 8 0-26 23-9zM2543 7389l-23 8 1-27 22-8zM2239 7813l-24 9 0-26 24-9zM2262 7778l-23 9 0-26 24-9zM2333 7673l-23 9 0-26 23-9zM2450 7500l-23 8 1-26 23-8zM2520 7397l-22 8 0-27 23-8zM2543 7362l-22 8 1-27 22-8zM2215 7822l-23 9 0-26 23-9zM2239 7787l-24 9 0-26 24-9zM2263 7752l-24 9 0-26 24-9zM2310 7682l-24 9 1-26 23-9zM2380 7578l-23 8 1-26 23-8zM2451 7474l-23 8 0-27 23-8zM2498 7405l-23 8 0-27 23-8zM2521 7370l-23 8 1-27 23-8zM2544 7335l-22 8 0-27 23-7zM2192 7831l-24 10 0-26 24-10zM2215 7796l-23 9-1-26 24-9zM2239 7761l-24 9 0-26 24-9zM2310 7656l-23 9 0-26 23-9zM2357 7586l-23 9 0-26 24-9zM2381 7552l-23 8 0-26 23-9zM2428 7482l-23 8 0-26 23-9zM2498 7378l-23 8 1-27 23-8zM2522 7343l-23 8 1-27 22-8zM2545 7309l-23 7 1-27 23-7zM2192 7805l-24 10-1-26 24-10zM2215 7770l-24 9 0-26 24-9zM2239 7735l-24 9 0-26 24-9zM2287 7665l-24 9 0-26 24-9zM2310 7630l-23 9 0-27 23-8zM2334 7595l-24 9 1-27 23-8zM2358 7560l-24 9 0-27 24-8zM2381 7525l-23 9 0-27 24-8zM2405 7490l-23 9 0-27 23-8zM2428 7455l-23 9 1-27 23-8zM2475 7386l-23 8 1-27 23-8zM2499 7351l-23 8 1-27 23-8zM2522 7316l-22 8 0-27 23-8zM2191 7779l-24 10 0-27 24-9zM2215 7744l-24 9 0-26 24-9zM2287 7639l-24 9 0-27 24-9zM2334 7569l-23 8 0-26 23-9zM2358 7534l-24 8 1-27 23-8zM2405 7464l-23 8 0-27 24-8zM2476 7359l-23 8 1-27 23-8zM2500 7324l-23 8 0-27 23-8zM2191 7753l-24 9 0-26 24-9zM2215 7718l-24 9 0-26 24-9zM2137 7640l-24 8-1-26 25-9zM2263 7648l-24 8 0-26 24-9zM2161 7604l-24 9-1-26 24-9zM2334 7542l-23 9 0-27 24-9zM2406 7437l-24 8 1-27 23-8zM2327 7360l-24 8 0-27 24-8zM2453 7367l-23 8 0-27 24-8zM2350 7325l-23 8 0-27 24-8zM2477 7332l-23 8 0-27 23-8zM2191 7727l-24 9 0-26 24-9zM2137 7613l-25 9 0-27 24-8zM2263 7621l-24 9 0-27 24-8zM2160 7578l-24 9 0-27 24-9zM2382 7445l-23 8 0-27 24-8zM2303 7368l-23 8 0-27 23-8zM2327 7333l-24 8 1-27 23-8zM2454 7340l-24 8 1-27 23-8zM2136 7587l-24 8 0-26 24-9zM2263 7595l-24 8 0-26 24-9zM2311 7524l-24 8 1-26 23-9zM2359 7453l-24 9 1-27 23-9zM2303 7341l-23 8 0-28 24-7zM2136 7560l-24 9 0-27 24-9zM2263 7568l-24 9 1-27 24-9zM2287 7532l-23 9 0-27 24-8zM2311 7497l-23 9 0-28 24-8zM2335 7462l-23 8 0-27 24-8zM2280 7349l-24 8 0-28 24-8zM2264 7541l-24 9 0-27 24-9zM2288 7506l-24 8 0-27 24-9zM2312 7470l-24 8 0-27 24-8zM2215 7504l-24 9 0-28 24-8zM2240 7468l-25 9 0-28 25-8zM2215 7477l-24 8 0-27 24-9zM2240 7441l-25 8 0-28 25-8zM2191 7485l-25 9 0-28 25-8zM2215 7449l-24 9 0-28 24-9zM2240 7413l-25 8 0-27 25-9zM2191 7458l-25 8 0-28 25-8zM2215 7421l-24 9 0-28 24-8zM2191 7430l-25 8 0-28 25-8z"/><path class="c2" d="M2253 7131l18 9-22 7-18-9zM2231 7138l18 9-23 7-17-9zM2271 7140l17 9-22 7-17-9zM2209 7145l17 9-22 7-18-9zM2249 7147l17 9-23 7-17-9zM2288 7149l18 9-23 7-17-9zM2186 7152l18 9-23 7-17-9zM2226 7154l17 9-22 7-17-9zM2266 7156l17 9-22 7-18-9zM2306 7158l17 9-22 7-18-9zM2164 7159l17 9-23 7-17-9zM2204 7161l17 9-23 7-17-9zM2243 7163l18 9-23 7-17-9zM2283 7165l18 9-22 7-18-9zM2323 7167l18 9-22 7-18-9zM1914 7498l16 10-23 8-17-10zM2519 7535l19 10-22 9-19-11zM2141 7166l17 9-23 7-17-9zM2181 7168l17 9-22 7-18-9zM2221 7170l17 9-22 7-18-9zM2261 7172l18 9-23 7-18-9zM2301 7174l18 9-23 7-17-9zM2341 7176l18 9-22 8-18-10zM2198 7177l18 9-23 7-17-9zM2238 7179l18 9-23 7-17-9zM2279 7181l17 9-22 8-18-10zM2026 7201l17 10-24 7-17-10zM2432 7223l19 10-23 7-18-10zM2002 7208l17 10-24 7-16-9zM2124 7215l17 9-23 8-18-10zM2205 7219l18 10-23 7-18-9zM2246 7222l18 9-23 8-18-10zM2451 7233l19 9-23 8-19-10zM1979 7216l16 9-23 7-17-9zM2100 7222l18 10-24 7-17-9zM2141 7224l18 10-24 7-17-9zM2223 7229l18 10-24 7-17-10zM2470 7242l18 10-22 8-19-10zM1955 7223l17 9-24 8-17-10zM1995 7225l17 10-23 7-17-10zM2077 7230l17 9-23 8-18-10zM2118 7232l17 9-23 8-18-10zM2364 7245l19 10-23 8-19-10zM2488 7252l19 10-22 8-19-10zM1931 7230l17 10-24 7-17-9zM1972 7232l17 10-24 8-17-10zM2094 7239l18 10-24 7-17-9zM2466 7260l19 10-23 7-19-10zM2507 7262l20 10-23 7-19-9zM1907 7238l17 9-25 8-16-10zM1948 7240l17 10-24 7-17-10zM1989 7242l17 10-24 7-17-9zM2112 7249l17 10-23 7-18-10zM2443 7267l19 10-23 8-19-10zM2485 7270l19 9-23 8-19-10zM2527 7272l19 10-23 7-19-10zM1924 7247l17 10-25 8-17-10zM1965 7250l17 9-24 8-17-10zM2006 7252l17 10-24 7-17-10zM2171 7261l17 10-23 8-18-10zM2212 7263l18 10-23 8-19-10zM2253 7266l19 10-24 7-18-10zM2337 7270l18 10-23 8-19-10zM2462 7277l19 10-23 8-19-10zM2504 7279l19 10-23 8-19-10zM1941 7257l17 10-25 8-17-10zM1982 7259l17 10-24 8-17-10zM2106 7266l17 10-24 8-17-10zM2188 7271l19 10-24 8-18-10zM2230 7273l18 10-23 8-18-10zM2313 7278l19 10-23 8-19-11zM2439 7285l19 10-23 8-19-10zM2481 7287l19 10-23 8-19-10zM2011 7378l17 10-24 8-17-10zM2052 7380l18 10-24 9-18-11zM2345 7397l19 11-24 8-18-11zM2387 7400l19 10-23 8-19-10zM1958 7267l17 10-25 8-17-10zM1999 7269l17 10-24 8-17-10zM2207 7281l18 10-24 8-18-10zM2332 7288l19 10-24 8-18-10zM2458 7295l19 10-23 8-19-10zM2028 7388l18 11-25 8-17-11zM2070 7390l18 11-25 8-17-10zM2322 7405l18 11-23 8-19-11zM2364 7408l19 10-24 8-19-10zM1975 7277l17 10-24 8-18-10zM2099 7284l18 10-24 8-18-10zM2435 7303l19 10-23 8-19-11zM2046 7399l17 10-24 8-18-10zM2340 7416l19 10-23 9-19-11zM2063 7409l18 11-24 8-18-11zM2317 7424l19 11-24 8-19-11zM2135 7304l18 10-24 8-18-10zM2261 7311l19 10-24 8-18-10zM2153 7314l18 11-24 7-18-10zM2195 7317l19 10-24 8-19-10zM2238 7319l18 10-24 8-18-10zM2159 7361l19 11-25 8-18-10zM2202 7364l19 11-24 8-19-11zM2178 7372l19 11-25 8-19-11zM2221 7375l19 10-25 9-18-11zM2153 7380l19 11-25 9-18-11zM2197 7383l18 11-24 8-19-11zM2172 7391l19 11-25 8-19-10z"/><path class="c6" d="M2047 7686l-24 9 0-25 23-9zM2340 7254l-22 7 0-26 23-7zM2023 7670l-23 8-1-25 24-9zM2318 7235l-22 8 0-26 23-8zM1999 7653l-23 8-1-25 24-9zM1982 7617l-24 8 0-26 23-8zM1965 7580l-24 9-1-26 24-8zM2216 7212l-23 7 0-26 23-7zM2256 7214l-23 8 0-27 23-7zM2296 7217l-22 7 0-26 22-8zM2291 7722l-23 9 0-25 23-9zM1997 7525l-24 8-1-26 24-8zM2477 7447l-22 8 0-26 23-8zM1996 7499l-24 8 0-26 24-8zM2159 7261l-24 7 0-27 24-7zM2102 7695l-24 9 0-26 24-9zM1961 7400l-24 8-1-27 24-8zM2054 7264l-24 7 0-27 23-7zM2382 7282l-23 7 1-26 23-8zM2184 7622l-23 9 0-27 23-8zM2083 7579l-24 9 0-26 24-9zM2059 7362l-24 8-1-27 24-8zM2350 7379l-24 8 1-27 23-8zM2272 7302l-24 8 0-27 24-7zM2179 7668l-24 9 0-26 24-9zM2221 7671l-24 9 0-26 24-9zM2083 7553l-24 9-1-27 24-8zM2410 7391l-23 9 1-27 23-8zM2017 7333l-24 8-1-27 25-8zM2392 7354l-23 8 0-27 23-8zM2248 7310l-23 8 0-27 23-8zM2118 7495l-25 9 0-27 24-9zM2099 7457l-24 9 0-27 24-9zM2171 7352l-24 8 0-28 24-7zM2214 7354l-24 8 0-27 24-8z"/><path class="c4" d="M2047 7686l16 11 0-25-17-11zM2386 7718l18 11 1-25-19-11zM2141 7217l18 10-1-26-17-9zM2405 7704l18 11 1-25-19-11zM2158 7201l18 9 0-26-18-9zM2500 7439l19 10 0-26-19-10zM2409 7257l19 10 0-27-18-10zM2203 7633l18 12 0-27-18-11zM2184 7596l19 11 0-26-19-12zM2368 7389l19 11 1-27-19-11zM2058 7335l18 10 0-26-18-11zM2350 7352l19 10 0-27-19-10zM2184 7569l19 12 0-27-19-11zM2411 7365l19 10 0-27-19-10zM2203 7554l18 11 0-27-19-11zM2111 7366l18 10 0-27-18-10zM2221 7538l19 12 0-27-19-12zM2129 7349l18 11 0-28-18-10z"/><path class="c3" d="M2368 7707l-23 8 1-25 22-8zM2481 7539l-22 8 1-25 22-9zM2023 7695l-23 8 0-25 23-8zM2341 7228l-23 7 1-26 22-7zM2063 7672l-23 9-1-26 24-8zM2000 7678l-24 9 0-26 23-8zM2158 7201l-22 7-1-26 23-7zM2319 7209l-23 8 0-27 23-7zM1928 7405l-24 8-1-26 24-8zM2043 7237l-23 7-1-26 24-7zM2161 7631l-24 9 0-27 24-9zM2184 7596l-23 8-1-26 24-9zM2035 7370l-24 8-1-27 24-8zM2326 7387l-23 8 0-27 24-8zM2058 7335l-24 8 0-27 24-8zM2350 7352l-23 8 0-27 23-8zM2184 7569l-24 9 0-27 24-8zM2303 7395l-24 8 1-27 23-8zM1993 7341l-24 8-1-27 24-8zM2017 7306l-25 8 0-27 24-8zM2160 7551l-24 9 0-27 24-8zM2280 7376l-24 8 0-27 24-8zM2136 7533l-24 9-1-27 25-9zM2256 7357l-24 8 0-28 24-8z"/><path class="c7" d="M2368 7707l18 11 0-25-18-11zM2023 7670l17 11-1-26-16-11zM2386 7693l19 11 0-25-18-11zM2159 7227l17 9 0-26-18-9zM1999 7653l17 11 0-25-17-12zM2405 7679l19 11 0-26-18-11zM2428 7645l19 11 0-26-18-11zM2451 7611l19 11 0-26-18-11zM2176 7210l17 9 0-26-17-9zM2216 7212l17 10 0-27-17-9zM2256 7214l18 10 0-26-18-10zM2408 7550l18 11 1-26-19-11zM2264 7258l18 9 0-26-18-10zM2408 7524l19 11 0-27-19-10zM2282 7267l18 10 0-26-18-10zM2268 7706l18 11 0-26-18-11zM2455 7429l19 10 1-26-19-11zM2054 7264l17 9 0-26-18-10zM2382 7282l19 10 0-27-18-10zM2184 7622l19 11 0-26-19-11zM2292 7592l18 12 1-27-19-11zM2059 7362l17 10 0-27-18-10zM2350 7379l18 10 1-27-19-10zM2147 7295l18 10 0-26-18-10zM2137 7666l18 11 0-26-18-11zM2179 7668l18 12 0-26-18-12zM2292 7566l19 11 0-26-19-11zM1993 7367l18 11-1-27-17-10zM2017 7333l17 10 0-27-17-10zM2392 7354l19 11 0-27-19-11zM2165 7305l18 10 0-26-18-10zM2184 7543l19 11-1-27-18-11zM2136 7533l18 11 0-27-18-11zM2245 7503l19 11 0-27-19-11zM2269 7468l19 10 0-27-19-11zM2171 7352l19 10 0-27-19-10zM2214 7354l18 11 0-28-18-10z"/><path class="c8" d="M2481 7539l19 10-22 9-19-11zM1954 7526l17 10-23 8-17-10zM2478 7558l18 10-22 9-19-11zM1982 7617l17 10-24 9-17-11zM2428 7645l19 11-23 8-18-11zM1965 7580l16 11-23 8-17-10zM2451 7611l19 11-23 8-18-11zM1948 7544l16 11-24 8-16-11zM2474 7577l19 11-23 8-18-11zM2032 7598l17 11-24 9-17-11zM2361 7619l19 11-24 9-18-11zM2049 7609l17 11-24 9-17-11zM2338 7628l18 11-23 8-18-11zM2102 7695l17 11-23 9-18-11zM2268 7706l18 11-23 9-19-12zM1961 7400l16 10-24 8-16-10zM2455 7429l19 10-23 8-19-10zM2119 7680l18 12-24 9-18-12zM1977 7384l17 10-24 8-17-10zM2184 7622l19 11-24 9-18-11zM2029 7468l18 11-24 8-18-11zM2363 7488l19 11-24 8-19-11zM2059 7362l17 10-24 8-17-10zM2350 7379l18 10-23 8-19-10zM2179 7668l18 12-24 9-18-12zM2047 7479l17 10-24 9-17-11zM2339 7496l19 11-23 8-19-11zM2017 7333l17 10-24 8-17-10zM2392 7354l19 11-23 8-19-11zM2041 7298l17 10-24 8-17-10zM2374 7317l18 10-23 8-19-10zM2279 7403l19 10-24 8-18-10zM2118 7495l18 11-25 9-18-11zM2245 7503l19 11-24 9-19-12zM2099 7457l18 11-24 9-18-11zM2269 7468l19 10-24 9-19-11z"/><path class="c5" d="M1938 7515l16 11-23 8-16-11zM2500 7549l18 11-22 8-18-10zM2460 7522l18 10-22 8-18-10zM2000 7678l16 11-23 9-17-11zM2405 7704l18 11-22 9-19-11zM1931 7534l17 10-24 8-17-10zM2496 7568l19 11-22 9-19-11zM2085 7735l17 11-23 9-18-12zM2291 7748l18 12-23 9-18-12zM2161 7631l18 11-24 9-18-11zM2203 7633l18 12-24 9-18-12zM2035 7370l17 10-24 8-17-10zM2076 7372l18 11-24 7-18-10zM2326 7387l19 10-23 8-19-10zM2368 7389l19 11-23 8-19-11zM2155 7677l18 12-24 9-18-12zM2197 7680l18 12-24 9-18-12zM2094 7383l18 10-24 8-18-11zM2303 7395l19 10-24 8-19-10zM2088 7401l17 11-24 8-18-11zM2298 7413l19 11-24 8-19-11zM2081 7420l18 10-24 9-18-11zM2293 7432l19 11-24 8-19-11z"/><path class="c6" d="M2386 7693l-22 8 0-25 23-8zM2478 7558l-23 8 1-26 22-8zM2182 7253l-23 8 0-27 23-7zM2119 7680l-24 9 0-26 24-9zM1977 7384l-24 8-1-27 24-8zM2047 7281l-24 7 0-26 24-8zM2378 7299l-23 8 0-27 23-7zM2221 7538l-24 9 0-27 24-9zM2293 7432l-24 8 0-27 24-8z"/><path class="c4" d="M2346 7690l18 11 0-25-18-11zM2496 7568l19 11 1-25-19-11zM2319 7209l17 10 1-26-18-10zM2364 7676l19 11 0-25-18-11z"/><path class="c0" d="M2017 7714l-24 9 0-25 23-9zM2423 7741l-23 9 1-26 22-9zM2537 7571l-22 8 1-25 22-9zM2359 7212l-23 7 1-26 22-8zM2379 7682l-23 9 0-26 23-9zM2472 7544l-23 9 1-27 22-8zM2356 7691l-23 8 0-26 23-8zM2379 7656l-23 9 0-26 24-9zM2449 7553l-23 8 1-26 23-9zM2472 7518l-22 8 0-26 23-8zM2286 7769l-24 9 1-26 23-9zM2333 7699l-24 9 1-26 23-9zM2356 7665l-23 8 0-26 23-8zM2450 7526l-23 9 0-27 23-8zM2473 7492l-23 8 1-26 23-8zM2519 7423l-22 8 1-26 22-8zM2286 7743l-23 9 0-26 23-9zM2309 7708l-23 9 0-26 24-9zM2474 7466l-23 8 0-27 23-8zM2497 7431l-23 8 1-26 23-8zM2191 7701l-24 9 0-27 24-9zM2010 7324l-25 8 0-27 24-8zM2312 7388l-24 9 1-28 24-8z"/><path class="c1" d="M2382 7738l18 12 1-26-19-11zM1975 7636l17 11-1-26-17-11zM1958 7599l16 11 0-25-17-11zM1940 7563l17 11 0-26-17-10zM1992 7647l17 11-1-25-17-12zM1974 7610l17 11 0-25-17-11zM1957 7574l17 11-1-26-16-11zM1940 7538l17 10-1-26-17-10zM2009 7658l17 11-1-25-17-11zM1957 7548l16 11 0-26-17-11zM2026 7669l17 12 0-26-18-11zM2079 7755l17 12 0-26-18-12zM2043 7681l18 11-1-26-17-11zM2025 7644l18 11-1-26-17-11zM1903 7387l17 10-1-26-17-10zM2096 7767l18 12 0-26-18-12zM2078 7729l18 12 0-26-18-11zM2061 7692l17 12 0-26-18-12zM2043 7655l17 11 0-26-18-11zM1920 7397l17 11-1-27-17-10zM2060 7666l18 12-1-26-17-12zM1989 7518l17 11 0-27-17-10zM1972 7481l17 11-1-27-17-10zM2096 7715l17 12 0-26-18-12zM2078 7678l17 11 0-26-18-11zM2060 7640l17 12 0-26-18-12zM1989 7492l17 10-1-26-17-11zM1953 7418l17 10 0-26-17-10zM1936 7381l17 11-1-27-17-10zM2113 7727l18 12 0-26-18-12zM1970 7428l18 11-1-27-17-10zM2113 7701l18 12 0-27-18-11zM2095 7663l18 12 0-27-18-11zM1970 7402l17 10 0-26-18-11zM1952 7365l17 10 0-26-17-11zM2131 7713l18 11 0-26-18-12zM1987 7412l17 11 0-27-17-10zM2076 7573l18 11 0-27-18-11zM2058 7535l18 11 0-26-18-11zM2076 7546l18 11 0-26-18-11zM2058 7509l18 11-1-27-17-11zM1968 7322l17 10 0-27-17-10zM2111 7515l19 11-1-27-18-11zM2093 7477l18 11 0-28-18-11zM2075 7439l18 10-1-27-18-11zM2148 7564l19 12-1-27-18-12zM2130 7526l18 11 0-27-19-11zM2111 7488l18 11 0-28-18-11zM2093 7449l18 11 0-27-19-11zM2074 7411l18 11 0-27-18-11zM2056 7373l18 11 0-27-18-11zM2148 7537l18 12 0-28-18-11zM2092 7422l19 11-1-27-18-11zM2074 7384l18 11 0-28-18-10zM2092 7395l18 11 0-28-18-11zM2110 7406l19 10 0-27-19-11z"/><path class="c3" d="M1931 7534l-24 8 0-26 23-8zM2137 7666l-24 9 0-27 24-8zM2374 7317l-24 8 1-27 23-8z"/><path class="c6" d="M2405 7679l-22 8 0-25 23-9zM2474 7577l-22 8 0-26 23-8zM1993 7367l-24 8 0-26 24-8zM2041 7298l-24 8-1-27 24-7z"/><path class="c9" d="M2428 7645l-22 8 0-25 23-9zM2451 7611l-22 8 0-26 23-8zM2032 7598l-24 9-1-26 24-9zM2361 7619l-23 9 0-27 23-8zM2408 7550l-23 8 0-26 23-8zM2264 7258l-23 7 0-26 23-8zM2338 7628l-23 8 0-26 23-9zM2408 7524l-23 8 0-26 23-8zM2268 7706l-24 8 0-26 24-8zM2455 7429l-23 8 1-27 23-8zM2244 7688l-23 9 0-26 24-9zM2433 7410l-23 8 0-27 23-8zM2292 7592l-24 9 0-26 24-9zM2029 7468l-24 8 0-26 24-9zM2363 7488l-24 8 1-27 23-8zM2147 7295l-24 8 0-27 24-7zM2292 7566l-24 9 1-27 23-8zM2339 7496l-23 8 0-26 24-9zM2245 7503l-24 8 0-27 24-8zM2269 7468l-24 8 0-27 24-9z"/><path class="c0" d="M2424 7664l-22 9 0-26 23-8zM2447 7630l-22 9 0-26 23-9zM2470 7596l-22 8 0-25 23-9zM2402 7673l-23 9 0-26 23-9zM2425 7639l-23 8 0-25 23-9zM2448 7604l-23 9 1-26 22-8zM2471 7570l-23 9 1-26 23-9zM2333 7647l-23 9 0-26 24-9zM2357 7613l-23 8 0-26 23-9zM2404 7543l-23 9 0-27 23-8zM2427 7508l-23 9 1-27 23-8zM2263 7726l-24 9 0-26 24-9zM2286 7691l-23 9 0-26 24-9zM2334 7621l-24 9 0-26 24-9zM2404 7517l-23 8 1-26 23-9zM2451 7447l-23 8 1-26 23-8zM2475 7413l-23 8 0-27 23-8zM2287 7586l-24 9 0-27 24-9zM2311 7551l-24 8 0-27 24-8zM2335 7515l-24 9 0-27 24-8zM2359 7480l-24 9 0-27 24-9zM2287 7559l-24 9 1-27 23-9zM2335 7489l-24 8 1-27 23-8zM2240 7523l-25 8 0-27 25-9zM2264 7487l-24 8 0-27 24-8zM2288 7451l-24 9 0-28 24-8zM2240 7495l-25 9 0-27 25-9zM2264 7460l-24 8 0-27 24-9z"/><path class="c2" d="M2193 7193l17 10-23 7-17-10zM2233 7195l18 10-23 7-18-9zM2274 7198l18 9-23 7-18-9zM2170 7200l17 10-23 7-17-9zM2210 7203l18 9-23 7-18-9zM2251 7205l18 9-23 8-18-10zM2292 7207l17 9-22 8-18-10zM2147 7208l17 9-23 7-17-9zM2187 7210l18 9-23 8-18-10zM2228 7212l18 10-23 7-18-10zM2269 7214l18 10-23 7-18-9zM2309 7216l19 10-23 7-18-9zM2164 7217l18 10-23 7-18-10zM2287 7224l18 9-23 8-18-10zM2328 7226l18 10-23 7-18-10zM2019 7218l17 9-24 8-17-10zM2305 7233l18 10-23 8-18-10zM2346 7236l18 9-23 8-18-10zM2428 7240l19 10-23 7-18-9zM2036 7227l17 10-23 7-18-9zM2241 7239l18 9-24 8-18-10zM2323 7243l18 10-23 7-18-9zM2406 7248l18 9-23 8-18-10zM2447 7250l19 10-23 7-19-10zM2012 7235l18 9-24 8-17-10zM2135 7241l18 10-24 8-17-10zM2259 7248l18 10-24 8-18-10zM2300 7251l18 9-23 8-18-10zM2341 7253l19 10-23 7-19-10zM2424 7257l19 10-23 8-19-10zM2030 7244l17 10-24 8-17-10zM2071 7247l17 9-24 8-17-10zM2153 7251l18 10-24 8-18-10zM2235 7256l18 10-23 7-18-10zM2277 7258l18 10-23 8-19-10zM2318 7260l19 10-24 8-18-10zM2360 7263l18 10-23 7-18-10zM2401 7265l19 10-23 7-19-9zM2088 7256l18 10-24 8-18-10zM2129 7259l18 10-24 7-17-10zM2295 7268l18 10-23 7-18-9zM2420 7275l19 10-23 8-19-11zM2023 7262l17 10-24 7-17-10zM2355 7280l19 10-23 8-19-10zM2123 7276l18 10-24 8-18-10zM2141 7286l18 10-24 8-18-10zM2183 7289l18 10-24 7-18-10zM2225 7291l18 10-24 8-18-10zM2173 7663l18 11-24 9-18-11zM1992 7287l17 10-24 8-17-10zM2117 7294l18 10-24 8-18-10zM2159 7296l18 10-24 8-18-10zM2201 7299l18 10-24 8-18-11zM2243 7301l18 10-23 8-19-10zM2177 7306l18 11-24 8-18-11zM2219 7309l19 10-24 8-19-10zM2147 7332l18 11-24 8-18-11zM2190 7335l18 10-24 8-19-10zM2232 7337l19 11-24 8-19-11zM2080 7338l18 10-24 9-18-11zM2123 7340l18 11-25 8-18-11zM2165 7343l19 10-25 8-18-10zM2208 7345l19 11-25 8-18-11zM2251 7348l19 10-25 8-18-10zM2294 7350l19 11-24 8-19-11zM2098 7348l18 11-24 8-18-10zM2141 7351l18 10-24 9-19-11zM2184 7353l18 11-24 8-19-11zM2227 7356l18 10-24 9-19-11zM2270 7358l19 11-25 8-19-11zM2116 7359l19 11-25 8-18-11zM2245 7366l19 11-24 8-19-10zM2135 7370l18 10-24 9-19-11z"/><path class="c10" d="M2032 7598l17 11-1-26-17-11zM2361 7619l19 11 0-26-19-11zM2182 7253l18 10 0-27-18-9zM2029 7468l18 11 0-27-18-11zM2363 7488l19 11 0-27-19-11zM2272 7302l18 10 0-27-18-9z"/><path class="c11" d="M1997 7525l17 11-24 8-17-11zM2408 7550l18 11-23 8-18-11zM2083 7579l18 12-24 8-18-11zM2292 7592l18 12-23 8-19-11z"/><path class="c1" d="M2007 7581l18 11-1-26-17-11zM1990 7544l17 11-1-26-17-11zM2042 7629l18 11-1-26-17-11zM2025 7592l17 11 0-26-18-11zM2007 7555l17 11 0-26-18-11zM2042 7603l17 11 0-26-17-11zM2077 7599l17 12 0-27-18-11zM2005 7450l17 10 0-27-18-10zM2094 7611l18 11 0-27-18-11zM2040 7498l18 11 0-27-18-11zM2022 7460l18 11-1-27-17-11zM2040 7471l18 11-1-27-18-11z"/><path class="c0" d="M2380 7604l-23 9 0-27 23-8zM2403 7569l-23 9 1-26 23-9zM2287 7612l-24 9 0-26 24-9zM2382 7472l-23 8 0-27 23-8z"/><path class="c2" d="M2200 7236l17 10-23 7-18-9zM2176 7244l18 9-23 8-18-10zM2217 7246l18 10-23 7-18-10zM2194 7253l18 10-24 8-17-10zM2290 7285l19 11-24 7-18-10zM2267 7293l18 10-24 8-18-10zM2309 7296l18 10-23 8-19-11zM2285 7303l19 11-24 7-19-10z"/><path class="c8" d="M2244 7688l19 12-24 9-18-12zM2433 7410l19 11-23 8-19-11zM2137 7666l18 11-24 9-18-11zM2221 7671l18 12-24 9-18-12zM2275 7394l18 11-24 8-18-11z"/><path class="c7" d="M2244 7688l19 12 0-26-18-12zM2433 7410l19 11 0-27-19-11zM2047 7281l18 10-1-27-17-10zM2378 7299l19 10 0-27-19-9zM2410 7391l19 11 1-27-19-10zM2178 7536l19 11 0-27-19-11z"/><path class="c0" d="M2239 7709l-24 9 0-26 24-9zM2263 7674l-24 9 0-27 24-8zM2429 7429l-23 8 0-27 23-8zM2452 7394l-23 8 1-27 23-8zM2191 7567l-24 9-1-27 25-9zM2215 7531l-24 9 0-27 24-9zM2288 7424l-24 8 0-27 24-8zM2191 7540l-25 9 0-28 25-8zM2264 7432l-24 9 0-28 24-8zM2288 7397l-24 8 0-28 25-8zM2191 7513l-25 8 0-27 25-9zM2264 7405l-24 8 0-28 24-8z"/><path class="c4" d="M2221 7671l18 12 0-27-18-11zM2041 7298l17 10 0-26-18-10zM2392 7327l19 11 1-28-19-10z"/><path class="c5" d="M1993 7367l18 11-24 8-18-11zM2410 7391l19 11-23 8-19-10z"/><path class="c2" d="M2064 7264l18 10-24 8-18-10zM2397 7282l19 11-23 7-19-10zM2082 7274l17 10-24 8-17-10zM2416 7293l19 10-23 7-19-10z"/><path class="c7" d="M2374 7317l18 10 1-27-19-10z"/><path class="c1" d="M2058 7308l18 11-1-27-17-10zM2149 7698l18 12 0-27-18-11zM2388 7345l19 11 1-27-20-11z"/><path class="c0" d="M2430 7348l-23 8 1-27 23-8z"/><path class="c2" d="M2412 7310l19 11-23 8-20-11z"/></g><path class="dot" stroke-width="1.9" d="M226.3 770.0h.01M209.5 768.9h.01M245.2 742.1h.01M195.3 739.2h.01M237.8 727.3h.01M204.7 725.4h.01M224.0 752.3h.01M211.1 751.5h.01M214.7 733.2h.01"/>
<path d="M252.2 65.5L252.7 56.6" stroke="#36ab88" stroke-width="2" fill="none"/>
<path d="M252.2 65.5L252.7 56.6" stroke="#cc3594" stroke-width="1.9" stroke-dasharray="1.4 2.2" stroke-dashoffset="-1.5" fill="none"/>
<circle cx="252.7" cy="56.6" r="1.5" fill="#3bb38e"/>
<path d="M227.5 74.8L217.0 69.2" stroke="#36ab88" stroke-width="2" fill="none"/>
<path d="M227.5 74.8L217.0 69.2" stroke="#cc3594" stroke-width="1.9" stroke-dasharray="1.4 2.2" stroke-dashoffset="-1.5" fill="none"/>
<circle cx="217.0" cy="69.2" r="1.5" fill="#3bb38e"/>
<path d="M269.5 77.2L280.4 72.7" stroke="#36ab88" stroke-width="2" fill="none"/>
<path d="M269.5 77.2L280.4 72.7" stroke="#cc3594" stroke-width="1.9" stroke-dasharray="1.4 2.2" stroke-dashoffset="-1.5" fill="none"/>
<circle cx="280.4" cy="72.7" r="1.5" fill="#3bb38e"/>
<path d="M227.0 101.2L219.0 106.2" stroke="#36ab88" stroke-width="2" fill="none"/>
<path d="M227.0 101.2L219.0 106.2" stroke="#cc3594" stroke-width="1.9" stroke-dasharray="1.4 2.2" stroke-dashoffset="-1.5" fill="none"/>
<circle cx="219.0" cy="106.2" r="1.5" fill="#3bb38e"/>
<path d="M271.4 104.5L278.4 110.0" stroke="#36ab88" stroke-width="2" fill="none"/>
<path d="M271.4 104.5L278.4 110.0" stroke="#cc3594" stroke-width="1.9" stroke-dasharray="1.4 2.2" stroke-dashoffset="-1.5" fill="none"/>
<circle cx="278.4" cy="110.0" r="1.5" fill="#3bb38e"/>
<path d="M245.5 114.8L244.4 123.9" stroke="#36ab88" stroke-width="2" fill="none"/>
<path d="M245.5 114.8L244.4 123.9" stroke="#cc3594" stroke-width="1.9" stroke-dasharray="1.4 2.2" stroke-dashoffset="-1.5" fill="none"/>
<circle cx="244.4" cy="123.9" r="1.5" fill="#3bb38e"/>
<path class="dot" stroke-width="1.9" d="M132.5 140.2h.01M125.9 148.6h.01M120.4 156.5h.01M115.1 165.3h.01"/>
<path d="M199.2 288.6l1.6-.8 1 1.2-1.3 1zM202.6 291.8l1.5-.5.6 1.3-1.4.6zM198.6 292.4l1.2-.4.5 1-1.1.5zM203.2 288.0l1-.3.4.9-.9.4zM249.3 332.6l1.3-.5.7 1.1-1.2.7z" fill="#fff"/>
<path d="M74.5 172.4L83.6 168.5" stroke="#f01515" stroke-width="1.2" stroke-dasharray="1.3 1.2" fill="none"/>
<path d="M87.5 166.8L84.3 170.0L83.0 166.9z" fill="#f01515"/>
<path d="M106.6 65.4L162.7 141.4" stroke="#f01515" stroke-width="1.2" stroke-dasharray="1.3 1.2" fill="none"/>
<path d="M165.2 144.8L161.3 142.4L164.1 140.4z" fill="#f01515"/>
<path d="M154.9 55.2L157.8 60.2" stroke="#f01515" stroke-width="1.2" stroke-dasharray="1.3 1.2" fill="none"/>
<path d="M159.9 63.8L156.3 61.0L159.3 59.3z" fill="#f01515"/>
<path d="M282.5 39.6L265.2 60.2" stroke="#f01515" stroke-width="1.2" stroke-dasharray="1.3 1.2" fill="none"/>
<path d="M262.5 63.4L263.9 59.1L266.5 61.3z" fill="#f01515"/>
<path d="M74.5 387.7L92.4 373.7" stroke="#f01515" stroke-width="1.2" stroke-dasharray="1.3 1.2" fill="none"/>
<path d="M95.7 371.1L93.4 375.0L91.3 372.4z" fill="#f01515"/>
<path d="M92.9 291.0L162.6 323.7" stroke="#f01515" stroke-width="1.2" stroke-dasharray="1.3 1.2" fill="none"/>
<path d="M166.4 325.5L161.9 325.3L163.3 322.2z" fill="#f01515"/>
<path d="M155.3 278.4L163.3 288.7" stroke="#f01515" stroke-width="1.2" stroke-dasharray="1.3 1.2" fill="none"/>
<path d="M165.9 292.0L162.0 289.7L164.7 287.6z" fill="#f01515"/>
<path d="M282.5 246.5L257.2 292.9" stroke="#f01515" stroke-width="1.2" stroke-dasharray="1.3 1.2" fill="none"/>
<path d="M255.2 296.6L255.7 292.1L258.7 293.7z" fill="#f01515"/>
<path d="M74.5 558.5L82.7 555.1" stroke="#f01515" stroke-width="1.2" stroke-dasharray="1.3 1.2" fill="none"/>
<path d="M86.6 553.5L83.4 556.7L82.1 553.5z" fill="#f01515"/>
<path d="M94.1 470.0L159.0 533.7" stroke="#f01515" stroke-width="1.2" stroke-dasharray="1.3 1.2" fill="none"/>
<path d="M162.0 536.6L157.8 534.9L160.2 532.4z" fill="#f01515"/>
<path d="M154.7 458.2L157.6 463.7" stroke="#f01515" stroke-width="1.2" stroke-dasharray="1.3 1.2" fill="none"/>
<path d="M159.6 467.4L156.1 464.5L159.1 462.9z" fill="#f01515"/>
<path d="M282.5 436.5L271.7 455.7" stroke="#f01515" stroke-width="1.2" stroke-dasharray="1.3 1.2" fill="none"/>
<path d="M269.7 459.4L270.3 454.9L273.2 456.6z" fill="#f01515"/>
<path d="M74.5 783.4L111.7 757.7" stroke="#f01515" stroke-width="1.2" stroke-dasharray="1.3 1.2" fill="none"/>
<path d="M115.2 755.3L112.7 759.1L110.8 756.3z" fill="#f01515"/>
<path d="M163.6 656.4L199.8 711.5" stroke="#f01515" stroke-width="1.2" stroke-dasharray="1.3 1.2" fill="none"/>
<path d="M202.1 715.0L198.4 712.4L201.2 710.6z" fill="#f01515"/>
<path d="M282.5 639.2L270.0 651.7" stroke="#f01515" stroke-width="1.2" stroke-dasharray="1.3 1.2" fill="none"/>
<path d="M267.0 654.7L268.8 650.5L271.2 652.9z" fill="#f01515"/>
<path d="M154 206.3h2.2M186.2 206.6h1" stroke="#555" stroke-width="1" fill="none"/>
<g>
<rect x="349.00" y="65.40" width="208.50" height="108.98" fill="#c0c0c0"/>
<path d="M349.0 38.6C355.3 38.6 371.2 38.7 383.8 38.7C396.3 38.6 406.0 38.5 418.5 38.4C431.0 38.3 445.4 38.1 453.2 38.0C461.1 37.9 459.3 38.0 461.9 37.8C464.6 37.7 464.9 36.6 467.8 37.0C470.8 37.5 474.6 40.3 478.3 40.3C481.9 40.3 484.7 37.5 488.0 37.0C491.3 36.6 493.6 37.4 496.7 37.8C499.8 38.3 502.2 39.6 505.4 39.7C508.5 39.8 510.9 38.8 514.1 38.6C517.2 38.5 518.1 39.0 522.8 38.8C527.4 38.6 533.9 38.0 540.1 37.5C546.4 37.1 554.4 36.5 557.5 36.3" fill="none" stroke="#a85860" stroke-width="1" stroke-linejoin="round"/>
<path d="M349.0 41.7 L557.5 41.7" fill="none" stroke="#808080" stroke-width="1" stroke-linejoin="round"/>
<path d="M349.0 50.3C352.1 50.7 360.1 51.7 366.4 52.4C372.6 53.1 377.5 54.1 383.8 54.1C390.0 54.1 394.9 53.1 401.1 52.4C407.4 51.7 412.2 50.3 418.5 50.3C424.8 50.3 429.6 51.7 435.9 52.4C442.1 53.1 447.0 54.0 453.2 54.1C459.5 54.2 464.4 53.2 470.6 52.7C476.9 52.2 481.7 51.4 488.0 51.5C494.3 51.5 499.7 52.7 505.4 53.0C511.0 53.4 515.8 53.7 519.3 53.3C522.7 52.9 520.7 51.1 524.5 50.9C528.2 50.6 534.2 51.6 540.1 52.1C546.1 52.5 554.4 53.1 557.5 53.3" fill="none" stroke="#30b8c8" stroke-width="1.1" stroke-linejoin="round"/>
<path d="M349.0 54.4C355.3 54.4 371.2 54.4 383.8 54.4C396.3 54.4 406.0 54.4 418.5 54.4C431.0 54.4 443.9 54.5 453.2 54.4C462.6 54.3 464.4 53.8 470.6 53.8C476.9 53.8 481.7 54.4 488.0 54.4C494.3 54.4 499.1 53.8 505.4 53.8C511.6 53.8 516.5 54.3 522.8 54.3C529.0 54.2 533.9 53.7 540.1 53.6C546.4 53.6 554.4 54.0 557.5 54.1" fill="none" stroke="#20c060" stroke-width="1.6" stroke-linejoin="round"/>
<path d="M453.2 54.1C456.4 54.2 464.4 54.7 470.6 54.7C476.9 54.7 481.7 54.1 488.0 54.1C494.3 54.1 499.1 54.9 505.4 54.9C511.6 54.9 519.6 54.2 522.8 54.1" fill="none" stroke="#c08020" stroke-width="0.9" stroke-linejoin="round"/>
<path d="M349.0 50.3C355.3 50.3 371.2 50.3 383.8 50.3C396.3 50.3 406.0 50.3 418.5 50.3C431.0 50.3 445.1 50.1 453.2 50.3C461.4 50.5 459.9 51.5 463.7 51.5C467.4 51.4 469.7 50.2 474.1 50.1C478.5 50.0 483.0 51.0 488.0 51.0C493.0 51.0 496.9 50.0 501.9 49.9C506.9 49.8 512.0 50.5 515.8 50.5C519.6 50.6 518.4 49.9 522.8 50.1C527.1 50.3 533.9 51.7 540.1 51.8C546.4 51.8 554.4 50.6 557.5 50.4" fill="none" stroke="#2a2aa8" stroke-width="1.3" stroke-linejoin="round"/>
<path d="M453.2 50.3C455.1 50.4 459.9 50.6 463.7 50.9C467.4 51.1 469.7 51.9 474.1 51.8C478.5 51.7 483.0 50.4 488.0 50.3C493.0 50.3 496.9 51.5 501.9 51.5C506.9 51.4 512.0 50.0 515.8 50.1C519.6 50.1 518.4 51.7 522.8 51.8C527.1 51.9 533.9 51.0 540.1 50.7C546.4 50.4 554.4 50.4 557.5 50.3" fill="none" stroke="#8838b0" stroke-width="1" stroke-linejoin="round"/>
<path d="M349.0 60.9C352.1 61.1 360.1 61.8 366.4 62.2C372.6 62.6 377.5 63.0 383.8 63.1C390.0 63.2 394.9 63.0 401.1 62.8C407.4 62.6 412.2 62.2 418.5 62.0C424.8 61.7 429.6 61.6 435.9 61.4C442.1 61.2 447.0 60.6 453.2 60.8C459.5 60.9 464.4 61.6 470.6 62.2C476.9 62.7 481.7 63.8 488.0 63.9C494.3 63.9 499.1 62.8 505.4 62.5C511.6 62.2 519.6 62.2 522.8 62.2" fill="none" stroke="#a89020" stroke-width="1" stroke-linejoin="round"/>
<path d="M418.5 62.0C421.0 61.8 428.0 61.1 432.4 60.8C436.8 60.5 439.1 60.3 442.8 60.3C446.6 60.3 449.5 60.5 453.2 60.8C457.0 61.0 459.9 61.3 463.7 61.7C467.4 62.1 469.7 62.5 474.1 62.9C478.5 63.3 482.4 63.8 488.0 63.9C493.6 63.9 499.1 63.5 505.4 63.2C511.6 63.0 519.6 62.6 522.8 62.5" fill="none" stroke="#d03030" stroke-width="1" stroke-linejoin="round"/>
<path d="M349.0 60.9C352.1 60.4 360.1 59.0 366.4 58.1C372.6 57.3 377.5 56.1 383.8 56.1C390.0 56.1 394.9 57.1 401.1 58.1C407.4 59.2 412.2 61.6 418.5 62.0C424.8 62.4 429.6 60.8 435.9 60.6C442.1 60.4 447.9 60.9 453.2 60.8C458.6 60.6 461.0 59.5 465.4 59.7C469.8 59.9 473.5 61.2 477.6 62.0C481.6 62.8 484.2 63.7 488.0 63.9C491.8 64.0 492.9 64.3 498.4 62.9C503.9 61.5 514.2 56.3 518.6 56.1C523.0 55.9 518.9 60.6 522.8 61.8C526.6 63.1 533.9 62.8 540.1 63.2C546.4 63.7 554.4 64.0 557.5 64.2" fill="none" stroke="#3070b8" stroke-width="1.1" stroke-linejoin="round"/>
<path d="M418.5 178.4C421.0 178.6 427.4 178.9 432.4 179.6C437.4 180.4 442.5 181.9 446.3 182.7C450.1 183.6 451.1 184.6 453.2 184.6C455.4 184.6 457.5 183.1 458.5 182.7" fill="none" stroke="#000000" stroke-width="1" stroke-linejoin="round"/>
<path d="M383.8 176.6C386.9 176.7 394.9 176.9 401.1 177.3C407.4 177.8 412.9 178.8 418.5 179.0C424.1 179.3 428.0 178.4 432.4 178.7C436.8 179.1 439.1 179.8 442.8 180.9C446.6 181.9 450.7 184.4 453.2 184.6C455.8 184.8 454.2 183.5 456.7 182.1C459.2 180.8 461.5 178.2 467.1 177.2C472.8 176.1 478.3 176.4 488.0 176.2C497.7 176.1 514.4 175.7 521.0 176.2C527.6 176.8 521.7 178.9 524.5 179.3C527.3 179.8 532.6 179.2 536.6 178.7C540.7 178.2 543.3 177.1 547.1 176.6C550.8 176.0 555.6 175.8 557.5 175.6" fill="none" stroke="#e0208a" stroke-width="1.2" stroke-linejoin="round"/>
<path d="M349.0 184.6C352.1 183.5 360.1 180.3 366.4 178.7C372.6 177.1 377.5 176.0 383.8 175.6C390.0 175.2 394.9 176.1 401.1 176.4C407.4 176.7 413.5 177.4 418.5 177.3C423.5 177.2 425.2 176.3 428.9 175.9C432.7 175.6 435.9 174.7 439.4 175.5C442.8 176.2 445.5 178.6 448.0 180.3C450.5 181.9 451.1 184.7 453.2 184.6C455.4 184.5 456.4 181.1 460.2 179.6C464.0 178.2 469.1 177.2 474.1 176.6C479.1 175.9 482.4 175.8 488.0 175.8C493.6 175.7 499.1 176.4 505.4 176.4C511.6 176.4 517.1 175.6 522.8 175.8C528.4 175.9 532.3 177.1 536.6 177.2C541.0 177.2 543.3 176.2 547.1 175.9C550.8 175.6 555.6 175.6 557.5 175.5" fill="none" stroke="#208040" stroke-width="1" stroke-linejoin="round"/>
<path d="M349.0 180.7C352.1 180.5 360.1 179.6 366.4 179.2C372.6 178.7 374.4 178.4 383.8 178.2C393.1 178.1 408.5 178.3 418.5 178.4C428.5 178.5 434.0 178.2 439.4 178.6C444.7 179.0 445.5 179.7 448.0 180.6C450.5 181.5 451.4 183.7 453.2 183.7C455.1 183.7 456.0 181.5 458.5 180.6C461.0 179.7 461.8 179.1 467.1 178.7C472.5 178.3 478.0 178.4 488.0 178.3C498.0 178.2 510.2 178.3 522.8 178.3C535.3 178.3 551.2 178.3 557.5 178.3" fill="none" stroke="#2222ff" stroke-width="1.2" stroke-linejoin="round"/>
<path d="M349.0 184.6C350.6 184.0 353.9 182.8 357.7 181.5C361.4 180.2 365.2 178.3 369.9 177.2C374.5 176.1 378.1 175.6 383.8 175.3C389.4 175.1 394.9 175.7 401.1 175.8C407.4 175.9 412.2 175.9 418.5 175.8C424.8 175.7 431.2 175.1 435.9 175.3C440.6 175.6 441.4 175.5 444.6 177.2C447.7 178.8 450.7 184.0 453.2 184.6C455.8 185.2 455.6 181.8 458.5 180.3C461.3 178.7 463.6 176.9 468.9 176.1C474.2 175.2 481.4 175.5 488.0 175.5C494.6 175.4 499.1 175.8 505.4 175.8C511.6 175.7 516.5 175.3 522.8 175.3C529.0 175.3 533.9 175.6 540.1 175.6C546.4 175.6 554.4 175.2 557.5 175.2" fill="none" stroke="#10108a" stroke-width="1.3" stroke-linejoin="round"/>
<rect x="349.00" y="29.80" width="208.50" height="154.80" fill="none" stroke="#8a8a8a" stroke-width="1"/>
<text x="343.0" y="189.2" font-size="14.2" text-anchor="end">0.0</text>
<text x="343.0" y="158.2" font-size="14.2" text-anchor="end">0.1</text>
<text x="343.0" y="127.3" font-size="14.2" text-anchor="end">0.2</text>
<text x="343.0" y="96.3" font-size="14.2" text-anchor="end">0.3</text>
<text x="343.0" y="65.4" font-size="14.2" text-anchor="end">0.4</text>
<text x="343.0" y="34.4" font-size="14.2" text-anchor="end">0.5</text>
<text x="349.0" y="201.6" font-size="15.7" text-anchor="middle">Γ</text>
<text x="383.8" y="201.6" font-size="15.7" text-anchor="middle">X</text>
<text x="418.5" y="201.6" font-size="15.7" text-anchor="middle">M</text>
<text x="453.2" y="201.6" font-size="15.7" text-anchor="middle">Γ</text>
<text x="488.0" y="201.6" font-size="15.7" text-anchor="middle">R</text>
<text x="522.8" y="201.6" font-size="15.7" text-anchor="middle">X/M</text>
<text x="557.5" y="201.6" font-size="15.7" text-anchor="middle">R</text>
<path d="M349.00 184.60h-3.2M349.00 153.64h-3.2M349.00 122.68h-3.2M349.00 91.72h-3.2M349.00 60.76h-3.2M349.00 29.80h-3.2M349.00 184.60v3M383.75 184.60v3M418.50 184.60v3M453.25 184.60v3M488.00 184.60v3M522.75 184.60v3M557.50 184.60v3" stroke="#777" stroke-width="0.9" fill="none"/>
<text x="452.9" y="124.8" font-size="13.4" text-anchor="middle">6th-7th RBGW=168%</text>
<text transform="translate(316.3 116.7) rotate(-90)" font-size="15.3" text-anchor="middle">Non-dimensional frequency</text>
</g>
<g>
<rect x="349.00" y="246.72" width="208.50" height="127.07" fill="#c0c0c0"/>
<path d="M349.0 237.9C358.4 237.9 382.4 237.7 401.1 237.7C419.9 237.7 434.5 237.9 453.2 237.9C472.0 237.9 486.6 237.7 505.4 237.7C524.1 237.7 548.1 237.9 557.5 237.9" fill="none" stroke="#8020d0" stroke-width="1.3" stroke-linejoin="round"/>
<path d="M349.0 241.4C355.3 241.4 371.2 241.4 383.8 241.4C396.3 241.5 406.0 241.5 418.5 241.5C431.0 241.5 440.7 241.4 453.2 241.4C465.8 241.4 475.5 241.6 488.0 241.5C500.5 241.5 510.2 241.3 522.8 241.3C535.3 241.3 551.2 241.4 557.5 241.4" fill="none" stroke="#e0209a" stroke-width="1.5" stroke-linejoin="round"/>
<path d="M404.6 241.4C407.1 241.4 413.5 241.2 418.5 241.2C423.5 241.2 429.9 241.4 432.4 241.4" fill="none" stroke="#3030c0" stroke-width="1.2" stroke-linejoin="round"/>
<path d="M519.3 241.3C523.0 241.2 533.2 241.0 540.1 241.0C547.0 241.0 554.4 241.2 557.5 241.3" fill="none" stroke="#3030c0" stroke-width="1.2" stroke-linejoin="round"/>
<path d="M349.0 244.2C355.3 244.3 371.2 244.3 383.8 244.3C396.3 244.4 406.0 244.6 418.5 244.5C431.0 244.5 440.7 244.3 453.2 244.2C465.8 244.2 475.5 244.4 488.0 244.4C500.5 244.4 510.2 244.3 522.8 244.2C535.3 244.2 551.2 244.2 557.5 244.2" fill="none" stroke="#30a0b0" stroke-width="1.2" stroke-linejoin="round"/>
<path d="M349.0 245.3C355.3 245.3 371.2 245.3 383.8 245.4C396.3 245.5 406.0 245.8 418.5 245.8C431.0 245.8 440.7 245.3 453.2 245.3C465.8 245.3 475.5 245.7 488.0 245.7C500.5 245.7 510.2 245.4 522.8 245.3C535.3 245.3 551.2 245.4 557.5 245.4" fill="none" stroke="#80a030" stroke-width="1" stroke-linejoin="round"/>
<path d="M349.0 378.4C352.1 378.4 360.1 378.3 366.4 378.4C372.6 378.4 377.5 378.6 383.8 378.8C390.0 379.0 394.9 379.3 401.1 379.4C407.4 379.5 412.2 379.6 418.5 379.5C424.8 379.5 429.6 379.3 435.9 379.2C442.1 379.1 447.0 379.0 453.2 378.9C459.5 378.8 464.4 378.8 470.6 378.8C476.9 378.7 481.7 378.7 488.0 378.7C494.3 378.6 499.1 378.6 505.4 378.6C511.6 378.6 516.5 378.7 522.8 378.8C529.0 379.0 533.9 379.2 540.1 379.4C546.4 379.5 554.4 379.6 557.5 379.7" fill="none" stroke="#80a030" stroke-width="1.1" stroke-linejoin="round"/>
<path d="M349.0 377.6C352.1 377.8 360.1 378.5 366.4 378.7C372.6 378.9 377.5 378.9 383.8 378.7C390.0 378.5 394.9 377.9 401.1 377.8C407.4 377.6 412.2 377.8 418.5 377.9C424.8 378.0 429.6 378.2 435.9 378.3C442.1 378.4 447.0 378.3 453.2 378.3C459.5 378.2 464.4 378.1 470.6 378.0C476.9 377.9 481.7 377.7 488.0 377.8C494.3 377.9 499.1 378.5 505.4 378.6C511.6 378.8 516.5 378.9 522.8 378.8C529.0 378.6 533.9 377.8 540.1 377.6C546.4 377.4 554.4 377.6 557.5 377.7" fill="none" stroke="#20a060" stroke-width="1.1" stroke-linejoin="round"/>
<path d="M349.0 378.0C352.1 378.0 360.1 378.1 366.4 378.1C372.6 378.1 377.5 378.0 383.8 377.9C390.0 377.8 394.9 377.7 401.1 377.6C407.4 377.6 412.2 377.5 418.5 377.5C424.8 377.4 429.6 377.4 435.9 377.4C442.1 377.3 447.0 377.3 453.2 377.2C459.5 377.1 464.4 377.0 470.6 376.9C476.9 376.8 481.7 376.7 488.0 376.7C494.3 376.7 499.1 376.8 505.4 376.9C511.6 377.0 516.5 377.1 522.8 377.2C529.0 377.4 533.9 377.5 540.1 377.6C546.4 377.7 554.4 377.7 557.5 377.7" fill="none" stroke="#30a0a8" stroke-width="1.1" stroke-linejoin="round"/>
<path d="M349.0 377.1C352.1 377.0 360.1 377.1 366.4 377.0C372.6 376.9 377.5 376.7 383.8 376.6C390.0 376.5 394.9 376.5 401.1 376.6C407.4 376.6 412.2 376.8 418.5 376.9C424.8 377.0 429.6 377.2 435.9 377.1C442.1 377.0 447.0 376.5 453.2 376.3C459.5 376.1 464.4 375.9 470.6 376.1C476.9 376.2 481.7 377.0 488.0 377.2C494.3 377.4 499.1 377.4 505.4 377.3C511.6 377.1 516.5 376.6 522.8 376.4C529.0 376.3 533.9 376.4 540.1 376.5C546.4 376.6 554.4 376.8 557.5 376.8" fill="none" stroke="#c03030" stroke-width="1.1" stroke-linejoin="round"/>
<path d="M349.0 375.8C352.1 375.8 360.1 375.9 366.4 375.9C372.6 375.9 377.5 375.9 383.8 376.0C390.0 376.1 394.9 376.2 401.1 376.3C407.4 376.4 412.2 376.6 418.5 376.6C424.8 376.6 429.6 376.6 435.9 376.5C442.1 376.4 447.0 376.2 453.2 376.0C459.5 375.8 464.4 375.5 470.6 375.4C476.9 375.4 481.7 375.4 488.0 375.4C494.3 375.5 499.1 375.7 505.4 375.8C511.6 375.9 516.5 376.0 522.8 376.0C529.0 376.1 533.9 376.1 540.1 376.1C546.4 376.2 554.4 376.2 557.5 376.3" fill="none" stroke="#308050" stroke-width="1.1" stroke-linejoin="round"/>
<path d="M349.0 375.1C352.1 375.1 360.1 375.1 366.4 375.2C372.6 375.3 377.5 375.7 383.8 375.8C390.0 375.8 394.9 375.8 401.1 375.5C407.4 375.3 412.2 374.6 418.5 374.5C424.8 374.4 429.6 374.8 435.9 375.0C442.1 375.3 447.0 375.8 453.2 375.9C459.5 376.0 464.4 375.6 470.6 375.5C476.9 375.3 481.7 375.1 488.0 375.0C494.3 375.0 499.1 375.1 505.4 375.2C511.6 375.3 516.5 375.4 522.8 375.5C529.0 375.5 533.9 375.6 540.1 375.4C546.4 375.3 554.4 374.9 557.5 374.8" fill="none" stroke="#a07830" stroke-width="1.1" stroke-linejoin="round"/>
<path d="M349.0 374.7C352.1 374.8 360.1 375.2 366.4 375.2C372.6 375.1 377.5 374.6 383.8 374.4C390.0 374.1 394.9 373.7 401.1 373.8C407.4 373.8 412.2 374.5 418.5 374.8C424.8 375.0 429.6 375.2 435.9 375.1C442.1 375.1 447.0 374.6 453.2 374.5C459.5 374.4 464.4 374.4 470.6 374.4C476.9 374.4 481.7 374.5 488.0 374.6C494.3 374.7 499.1 374.9 505.4 374.8C511.6 374.8 516.5 374.6 522.8 374.4C529.0 374.3 533.9 373.9 540.1 373.9C546.4 374.0 554.4 374.6 557.5 374.8" fill="none" stroke="#2aa0a0" stroke-width="1.1" stroke-linejoin="round"/>
<path d="M349.0 377.9C352.1 378.1 360.1 378.4 366.4 379.0C372.6 379.6 377.5 380.6 383.8 381.3C390.0 382.1 394.9 382.7 401.1 383.1C407.4 383.6 412.2 384.1 418.5 383.9C424.8 383.7 429.6 383.2 435.9 382.1C442.1 381.0 447.0 378.1 453.2 377.9C459.5 377.8 464.4 380.1 470.6 381.1C476.9 382.0 481.1 382.7 488.0 383.4C494.9 384.0 502.6 384.8 508.9 384.7C515.1 384.5 517.1 383.2 522.8 382.6C528.4 382.1 533.9 381.7 540.1 381.6C546.4 381.5 554.4 382.0 557.5 382.1" fill="none" stroke="#c02020" stroke-width="1.1" stroke-linejoin="round"/>
<path d="M349.0 379.8C352.1 379.9 360.1 380.3 366.4 380.8C372.6 381.3 377.5 382.2 383.8 382.4C390.0 382.5 394.9 381.9 401.1 381.6C407.4 381.3 412.2 380.8 418.5 380.8C424.8 380.8 429.6 382.0 435.9 381.8C442.1 381.6 447.0 379.9 453.2 379.8C459.5 379.7 464.4 381.1 470.6 381.3C476.9 381.5 481.7 380.7 488.0 380.8C494.3 380.9 499.1 382.1 505.4 382.1C511.6 382.1 516.5 381.2 522.8 380.8C529.0 380.4 533.9 380.0 540.1 380.0C546.4 380.0 554.4 380.7 557.5 380.8" fill="none" stroke="#9020c0" stroke-width="1.2" stroke-linejoin="round"/>
<path d="M349.0 382.8C355.3 382.8 371.2 382.8 383.8 382.8C396.3 382.8 409.1 382.8 418.5 382.8C427.9 382.8 430.9 382.7 435.9 382.8C440.9 382.9 443.2 382.6 446.3 383.4C449.4 384.2 450.7 387.0 453.2 387.0C455.8 387.0 457.1 384.2 460.2 383.4C463.3 382.6 465.6 382.8 470.6 382.6C475.6 382.4 478.6 382.3 488.0 382.4C497.4 382.4 510.2 382.9 522.8 382.9C535.3 382.9 551.2 382.4 557.5 382.4" fill="none" stroke="#2020f0" stroke-width="1.2" stroke-linejoin="round"/>
<path d="M349.0 387.8C352.1 387.0 360.1 384.8 366.4 383.4C372.6 381.9 377.5 380.2 383.8 379.7C390.0 379.2 394.9 380.5 401.1 380.8C407.4 381.1 412.2 381.3 418.5 381.3C424.8 381.3 430.9 380.4 435.9 380.8C440.9 381.2 443.2 382.4 446.3 383.7C449.4 384.9 450.4 387.9 453.2 387.8C456.1 387.7 458.2 384.4 461.9 383.1C465.7 381.9 469.4 381.3 474.1 380.8C478.8 380.3 482.4 380.3 488.0 380.3C493.6 380.3 499.1 380.2 505.4 380.8C511.6 381.4 516.5 383.3 522.8 383.4C529.0 383.5 533.9 381.8 540.1 381.3C546.4 380.8 554.4 380.9 557.5 380.8" fill="none" stroke="#101090" stroke-width="1.2" stroke-linejoin="round"/>
<path d="M349.0 387.8C352.1 387.4 360.1 386.1 366.4 385.5C372.6 384.8 377.5 384.5 383.8 384.2C390.0 383.8 394.9 383.6 401.1 383.4C407.4 383.2 412.2 382.8 418.5 382.9C424.8 383.0 429.6 383.0 435.9 383.9C442.1 384.8 448.2 387.6 453.2 387.8C458.3 388.0 459.3 386.2 463.7 385.2C468.1 384.2 473.2 383.0 477.6 382.4C482.0 381.7 483.0 381.7 488.0 381.8C493.0 381.9 499.1 382.4 505.4 382.9C511.6 383.3 516.5 384.3 522.8 384.4C529.0 384.5 533.9 383.7 540.1 383.4C546.4 383.1 554.4 383.0 557.5 382.9" fill="none" stroke="#d02020" stroke-width="1.1" stroke-linejoin="round"/>
<path d="M383.8 381.3C386.9 381.5 394.9 382.3 401.1 382.4C407.4 382.4 412.2 382.1 418.5 381.8C424.8 381.6 429.6 381.1 435.9 381.1C442.1 381.1 450.1 381.7 453.2 381.8" fill="none" stroke="#a020a0" stroke-width="1.1" stroke-linejoin="round"/>
<rect x="349.00" y="232.20" width="208.50" height="155.60" fill="none" stroke="#8a8a8a" stroke-width="1"/>
<text x="343.0" y="392.4" font-size="14.2" text-anchor="end">0.0</text>
<text x="343.0" y="340.5" font-size="14.2" text-anchor="end">0.1</text>
<text x="343.0" y="288.7" font-size="14.2" text-anchor="end">0.2</text>
<text x="343.0" y="236.8" font-size="14.2" text-anchor="end">0.3</text>
<text x="349.0" y="404.8" font-size="15.7" text-anchor="middle">Γ</text>
<text x="383.8" y="404.8" font-size="15.7" text-anchor="middle">X</text>
<text x="418.5" y="404.8" font-size="15.7" text-anchor="middle">M</text>
<text x="453.2" y="404.8" font-size="15.7" text-anchor="middle">Γ</text>
<text x="488.0" y="404.8" font-size="15.7" text-anchor="middle">R</text>
<text x="522.8" y="404.8" font-size="15.7" text-anchor="middle">X/M</text>
<text x="557.5" y="404.8" font-size="15.7" text-anchor="middle">R</text>
<path d="M349.00 387.80h-3.2M349.00 335.93h-3.2M349.00 284.07h-3.2M349.00 232.20h-3.2M349.00 387.80v3M383.75 387.80v3M418.50 387.80v3M453.25 387.80v3M488.00 387.80v3M522.75 387.80v3M557.50 387.80v3" stroke="#777" stroke-width="0.9" fill="none"/>
<text x="452.9" y="320.7" font-size="13.4" text-anchor="middle">18th-19th RBGW=164%</text>
<text transform="translate(316.3 319.5) rotate(-90)" font-size="15.3" text-anchor="middle">Non-dimensional frequency</text>
</g>
<g>
<rect x="349.00" y="445.98" width="208.50" height="122.14" fill="#c0c0c0"/>
<path d="M349.0 434.9C358.4 434.9 382.4 434.8 401.1 434.8C419.9 434.8 434.5 434.9 453.2 434.9C472.0 434.9 486.6 434.8 505.4 434.8C524.1 434.8 548.1 434.9 557.5 434.9" fill="none" stroke="#6a22c8" stroke-width="1.5" stroke-linejoin="round"/>
<path d="M349.0 435.2C367.8 435.2 415.7 435.1 453.2 435.1C490.8 435.1 538.7 435.2 557.5 435.2" fill="none" stroke="#2a2a9a" stroke-width="0.9" stroke-linejoin="round"/>
<path d="M349.0 442.6C355.3 442.6 371.2 442.7 383.8 442.7C396.3 442.8 406.0 442.8 418.5 442.8C431.0 442.8 440.7 442.6 453.2 442.6C465.8 442.6 475.5 442.8 488.0 442.8C500.5 442.8 510.2 442.6 522.8 442.6C535.3 442.5 551.2 442.6 557.5 442.6" fill="none" stroke="#30a8c0" stroke-width="1.1" stroke-linejoin="round"/>
<path d="M349.0 443.9C361.5 443.9 399.7 444.0 418.5 444.0C437.3 444.0 434.5 443.9 453.2 443.9C472.0 443.9 504.0 444.0 522.8 444.0C541.5 444.0 551.2 443.9 557.5 443.9" fill="none" stroke="#3a3aa0" stroke-width="0.9" stroke-linejoin="round"/>
<path d="M349.0 445.4C355.3 445.4 371.2 445.4 383.8 445.5C396.3 445.5 406.0 445.6 418.5 445.5C431.0 445.5 440.7 445.4 453.2 445.4C465.8 445.4 475.5 445.5 488.0 445.5C500.5 445.5 510.2 445.4 522.8 445.4C535.3 445.3 551.2 445.4 557.5 445.4" fill="none" stroke="#30a060" stroke-width="1.1" stroke-linejoin="round"/>
<path d="M349.0 568.6C352.1 568.9 360.1 569.6 366.4 570.3C372.6 570.9 377.5 572.1 383.8 572.1C390.0 572.2 394.9 571.2 401.1 570.6C407.4 570.0 413.5 569.0 418.5 568.9C423.5 568.8 426.1 569.6 428.9 570.0C431.7 570.3 431.6 571.0 434.1 570.9C436.6 570.8 439.4 569.6 442.8 569.2C446.3 568.8 448.2 568.4 453.2 568.6C458.3 568.8 464.4 569.6 470.6 570.3C476.9 570.9 481.7 572.3 488.0 572.1C494.3 572.0 499.6 569.7 505.4 569.7C511.2 569.6 517.1 572.2 520.3 572.0C523.6 571.7 519.9 568.6 523.4 568.3C527.0 567.9 534.0 569.3 540.1 570.0C546.3 570.7 554.4 571.8 557.5 572.1" fill="none" stroke="#30a8a0" stroke-width="1.1" stroke-linejoin="round"/>
<path d="M418.5 568.9C420.4 568.9 425.8 568.8 428.9 568.9C432.1 569.0 432.7 569.7 435.9 569.7C439.0 569.7 443.2 569.1 446.3 568.9C449.4 568.7 452.0 568.6 453.2 568.6" fill="none" stroke="#40b0c0" stroke-width="0.9" stroke-linejoin="round"/>
<path d="M383.8 572.6C386.9 572.6 394.9 572.7 401.1 572.7C407.4 572.7 411.9 572.7 418.5 572.7C425.1 572.7 432.6 573.1 437.6 572.7C442.6 572.3 443.5 571.3 446.3 570.6C449.1 569.9 450.7 568.6 453.2 568.6C455.8 568.6 457.6 569.9 460.2 570.6C462.8 571.3 462.8 572.3 467.8 572.7C472.8 573.1 478.1 572.7 488.0 572.7C497.9 572.7 510.2 572.7 522.8 572.7C535.3 572.7 551.2 572.7 557.5 572.7" fill="none" stroke="#a09820" stroke-width="1.1" stroke-linejoin="round"/>
<path d="M349.0 580.3C355.3 580.3 371.2 580.3 383.8 580.3C396.3 580.3 406.6 580.3 418.5 580.3C430.4 580.3 443.5 580.3 449.8 580.3C456.0 580.3 452.6 580.3 453.2 580.3" fill="none" stroke="#c02020" stroke-width="1.1" stroke-linejoin="round"/>
<path d="M349.0 580.3C351.5 580.3 358.5 580.9 362.9 580.3C367.3 579.7 369.6 577.7 373.3 576.8C377.1 575.9 378.7 575.5 383.8 575.2C388.8 575.0 394.9 575.2 401.1 575.2C407.4 575.2 413.5 575.2 418.5 575.2C423.5 575.2 425.2 575.0 428.9 575.2C432.7 575.5 435.9 575.5 439.4 576.8C442.8 578.1 445.5 580.7 448.0 582.4C450.5 584.1 451.1 586.4 453.2 586.1C455.4 585.8 457.6 582.4 460.2 580.5C462.8 578.6 465.3 576.2 467.8 575.6C470.3 574.9 471.7 576.9 474.1 577.0C476.5 577.0 478.5 576.2 481.0 575.9C483.6 575.5 483.6 575.1 488.0 574.9C492.4 574.8 499.1 574.9 505.4 574.9C511.6 574.9 516.5 574.9 522.8 574.9C529.0 574.9 533.9 574.9 540.1 574.9C546.4 574.9 554.4 574.9 557.5 574.9" fill="none" stroke="#a02030" stroke-width="1.2" stroke-linejoin="round"/>
<path d="M349.0 580.3C352.1 579.8 360.1 578.3 366.4 577.4C372.6 576.6 378.1 575.6 383.8 575.6C389.4 575.6 392.6 576.5 397.6 577.4C402.7 578.3 407.8 579.7 411.6 580.5C415.3 581.4 416.0 582.4 418.5 582.1C421.0 581.7 422.6 579.9 425.4 578.7C428.3 577.5 431.0 575.3 434.1 575.4C437.3 575.5 439.4 577.4 442.8 579.3C446.3 581.2 449.5 586.0 453.2 586.1C457.0 586.2 459.9 581.6 463.7 579.9C467.4 578.2 469.7 577.6 474.1 576.8C478.5 576.0 483.9 575.2 488.0 575.2C492.1 575.3 493.6 576.6 496.7 577.1C499.8 577.6 502.2 578.1 505.4 578.0C508.5 578.0 511.2 577.3 514.1 576.8C516.9 576.3 519.3 574.3 521.0 575.2C522.8 576.2 521.0 580.7 523.8 581.9C526.6 583.2 532.5 582.8 536.6 582.2C540.8 581.6 543.3 580.0 547.1 578.7C550.8 577.3 555.6 575.6 557.5 574.9" fill="none" stroke="#9020b0" stroke-width="1.2" stroke-linejoin="round"/>
<path d="M383.8 582.4C386.9 582.5 394.9 582.9 401.1 583.2C407.4 583.4 412.2 583.7 418.5 583.9C424.8 584.2 429.6 584.3 435.9 584.7C442.1 585.1 447.0 586.4 453.2 586.1C459.5 585.8 464.4 583.8 470.6 583.2C476.9 582.5 481.7 582.7 488.0 582.7C494.3 582.7 499.1 583.1 505.4 583.2C511.6 583.2 516.5 583.2 522.8 583.2C529.0 583.1 533.9 582.9 540.1 582.7C546.4 582.5 554.4 582.3 557.5 582.2" fill="none" stroke="#e020a0" stroke-width="1.1" stroke-linejoin="round"/>
<path d="M453.2 586.1C454.5 585.6 457.1 583.9 460.2 583.2C463.3 582.4 465.6 582.1 470.6 581.9C475.6 581.7 484.9 581.9 488.0 581.9" fill="none" stroke="#107030" stroke-width="0.9" stroke-linejoin="round"/>
<path d="M349.0 586.1C351.5 585.7 356.6 584.6 362.9 583.9C369.2 583.3 376.9 582.8 383.8 582.5C390.6 582.2 394.9 582.4 401.1 582.4C407.4 582.4 412.2 582.4 418.5 582.4C424.8 582.4 430.9 582.3 435.9 582.5C440.9 582.7 443.2 583.0 446.3 583.6C449.4 584.3 450.7 585.9 453.2 586.1C455.8 586.3 456.4 585.2 460.2 584.6C464.0 583.9 469.1 583.2 474.1 582.7C479.1 582.2 479.2 582.1 488.0 581.9C496.8 581.8 510.2 581.9 522.8 581.9C535.3 581.9 551.2 581.9 557.5 581.9" fill="none" stroke="#2020f0" stroke-width="1.3" stroke-linejoin="round"/>
<path d="M349.0 586.1C350.9 585.6 355.7 584.0 359.4 583.3C363.2 582.6 365.5 582.6 369.9 582.4C374.2 582.1 375.0 582.0 383.8 581.9C392.5 581.8 408.5 581.9 418.5 581.9C428.5 582.0 433.1 581.5 439.4 582.2C445.6 583.0 450.4 585.6 453.2 586.1C456.1 586.6 453.1 585.4 455.0 584.9C456.9 584.3 457.7 583.4 463.7 582.8C469.6 582.3 477.4 581.8 488.0 581.6C498.6 581.4 510.2 581.8 522.8 581.8C535.3 581.8 551.2 581.6 557.5 581.6" fill="none" stroke="#101090" stroke-width="1.1" stroke-linejoin="round"/>
<rect x="349.00" y="431.10" width="208.50" height="155.00" fill="none" stroke="#8a8a8a" stroke-width="1"/>
<text x="343.0" y="590.7" font-size="14.2" text-anchor="end">0.0</text>
<text x="343.0" y="559.7" font-size="14.2" text-anchor="end">0.1</text>
<text x="343.0" y="528.7" font-size="14.2" text-anchor="end">0.2</text>
<text x="343.0" y="497.7" font-size="14.2" text-anchor="end">0.3</text>
<text x="343.0" y="466.7" font-size="14.2" text-anchor="end">0.4</text>
<text x="343.0" y="435.7" font-size="14.2" text-anchor="end">0.5</text>
<text x="349.0" y="603.1" font-size="15.7" text-anchor="middle">Γ</text>
<text x="383.8" y="603.1" font-size="15.7" text-anchor="middle">X</text>
<text x="418.5" y="603.1" font-size="15.7" text-anchor="middle">M</text>
<text x="453.2" y="603.1" font-size="15.7" text-anchor="middle">Γ</text>
<text x="488.0" y="603.1" font-size="15.7" text-anchor="middle">R</text>
<text x="522.8" y="603.1" font-size="15.7" text-anchor="middle">X/M</text>
<text x="557.5" y="603.1" font-size="15.7" text-anchor="middle">R</text>
<path d="M349.00 586.10h-3.2M349.00 555.10h-3.2M349.00 524.10h-3.2M349.00 493.10h-3.2M349.00 462.10h-3.2M349.00 431.10h-3.2M349.00 586.10v3M383.75 586.10v3M418.50 586.10v3M453.25 586.10v3M488.00 586.10v3M522.75 586.10v3M557.50 586.10v3" stroke="#777" stroke-width="0.9" fill="none"/>
<text x="452.9" y="513.4" font-size="13.4" text-anchor="middle">12th-13th RBGW=160%</text>
<text transform="translate(316.3 518.1) rotate(-90)" font-size="15.3" text-anchor="middle">Non-dimensional frequency</text>
</g>
<g>
<rect x="349.00" y="638.53" width="208.50" height="120.95" fill="#c0c0c0"/>
<path d="M349.0 632.7C361.5 632.7 399.7 632.6 418.5 632.7C437.3 632.7 440.7 632.9 453.2 632.9C465.8 632.9 469.2 632.7 488.0 632.7C506.8 632.6 545.0 632.7 557.5 632.7" fill="none" stroke="#7030d0" stroke-width="1.6" stroke-linejoin="round"/>
<path d="M349.0 637.1 L557.5 637.1" fill="none" stroke="#f040d0" stroke-width="1.6" stroke-linejoin="round"/>
<path d="M349.0 771.2C352.1 771.5 360.1 772.5 366.4 772.6C372.6 772.7 377.5 772.3 383.8 771.9C390.0 771.4 394.9 770.3 401.1 770.2C407.4 770.0 412.2 770.8 418.5 771.1C424.8 771.5 429.6 772.1 435.9 772.2C442.1 772.3 447.0 771.8 453.2 771.6C459.5 771.4 464.4 771.2 470.6 771.2C476.9 771.1 481.7 771.2 488.0 771.4C494.3 771.5 499.1 772.0 505.4 772.0C511.6 772.1 516.5 772.1 522.8 771.8C529.0 771.4 533.9 770.4 540.1 770.2C546.4 770.1 554.4 770.9 557.5 771.0" fill="none" stroke="#80a030" stroke-width="1" stroke-linejoin="round"/>
<path d="M349.0 770.3C352.1 770.5 360.1 771.1 366.4 771.4C372.6 771.7 377.5 771.9 383.8 771.9C390.0 772.0 394.9 771.8 401.1 771.6C407.4 771.4 412.2 771.1 418.5 770.9C424.8 770.7 429.6 770.7 435.9 770.6C442.1 770.5 447.0 770.5 453.2 770.5C459.5 770.4 464.4 770.3 470.6 770.3C476.9 770.3 481.7 770.3 488.0 770.5C494.3 770.7 499.1 771.0 505.4 771.3C511.6 771.5 516.5 771.9 522.8 772.0C529.0 772.2 533.9 772.1 540.1 772.0C546.4 771.8 554.4 771.2 557.5 771.1" fill="none" stroke="#20a060" stroke-width="1" stroke-linejoin="round"/>
<path d="M349.0 768.7C352.1 768.9 360.1 769.2 366.4 769.5C372.6 769.9 377.5 770.6 383.8 770.7C390.0 770.8 394.9 770.3 401.1 770.2C407.4 770.0 412.2 769.8 418.5 769.7C424.8 769.7 429.6 769.7 435.9 769.9C442.1 770.0 447.0 770.5 453.2 770.6C459.5 770.7 464.4 770.7 470.6 770.4C476.9 770.1 481.7 769.0 488.0 768.8C494.3 768.6 499.1 769.0 505.4 769.4C511.6 769.9 516.5 771.0 522.8 771.2C529.0 771.4 533.9 770.7 540.1 770.4C546.4 770.1 554.4 769.6 557.5 769.4" fill="none" stroke="#30a0a8" stroke-width="1" stroke-linejoin="round"/>
<path d="M349.0 769.9C352.1 769.9 360.1 769.9 366.4 769.8C372.6 769.8 377.5 769.6 383.8 769.5C390.0 769.4 394.9 769.4 401.1 769.3C407.4 769.1 412.2 769.1 418.5 768.9C424.8 768.8 429.6 768.5 435.9 768.4C442.1 768.3 447.0 768.3 453.2 768.5C459.5 768.6 464.4 769.0 470.6 769.3C476.9 769.6 481.7 770.1 488.0 770.3C494.3 770.5 499.1 770.5 505.4 770.4C511.6 770.3 516.5 770.0 522.8 769.8C529.0 769.6 533.9 769.4 540.1 769.2C546.4 769.1 554.4 769.1 557.5 769.0" fill="none" stroke="#c03030" stroke-width="1" stroke-linejoin="round"/>
<path d="M349.0 768.3C352.1 768.3 360.1 768.2 366.4 768.2C372.6 768.3 377.5 768.2 383.8 768.4C390.0 768.5 394.9 768.7 401.1 768.9C407.4 769.1 412.2 769.5 418.5 769.5C424.8 769.6 429.6 769.4 435.9 769.1C442.1 768.8 447.0 768.1 453.2 767.7C459.5 767.4 464.4 767.2 470.6 767.2C476.9 767.3 481.7 767.8 488.0 768.1C494.3 768.4 499.1 768.7 505.4 768.9C511.6 769.0 516.5 768.9 522.8 768.9C529.0 768.8 533.9 768.8 540.1 768.7C546.4 768.5 554.4 768.3 557.5 768.3" fill="none" stroke="#308050" stroke-width="1" stroke-linejoin="round"/>
<path d="M349.0 767.6C352.1 767.5 360.1 767.4 366.4 767.3C372.6 767.2 377.5 767.0 383.8 767.0C390.0 766.9 394.9 766.9 401.1 767.0C407.4 767.1 412.2 767.3 418.5 767.6C424.8 767.8 429.6 768.1 435.9 768.3C442.1 768.5 447.0 768.6 453.2 768.7C459.5 768.7 464.4 768.6 470.6 768.6C476.9 768.5 481.7 768.3 488.0 768.2C494.3 768.1 499.1 768.0 505.4 768.0C511.6 767.9 516.5 767.9 522.8 767.8C529.0 767.8 533.9 767.7 540.1 767.6C546.4 767.4 554.4 767.1 557.5 767.0" fill="none" stroke="#a07830" stroke-width="1" stroke-linejoin="round"/>
<path d="M349.0 767.4C352.1 767.5 360.1 768.1 366.4 767.9C372.6 767.7 377.5 766.7 383.8 766.3C390.0 765.9 394.9 765.6 401.1 765.9C407.4 766.1 412.2 767.4 418.5 767.8C424.8 768.1 429.6 768.0 435.9 767.8C442.1 767.6 447.0 766.9 453.2 766.7C459.5 766.5 464.4 766.7 470.6 766.8C476.9 766.9 481.7 767.1 488.0 767.2C494.3 767.3 499.1 767.6 505.4 767.4C511.6 767.3 516.5 766.8 522.8 766.6C529.0 766.4 533.9 765.9 540.1 766.1C546.4 766.3 554.4 767.5 557.5 767.8" fill="none" stroke="#2aa0a0" stroke-width="1" stroke-linejoin="round"/>
<path d="M349.0 766.6C352.1 766.4 360.1 765.9 366.4 765.6C372.6 765.3 377.5 765.0 383.8 765.0C390.0 765.0 394.9 765.2 401.1 765.4C407.4 765.6 412.2 765.9 418.5 766.2C424.8 766.4 429.6 766.5 435.9 766.5C442.1 766.6 447.0 766.6 453.2 766.6C459.5 766.6 464.4 766.7 470.6 766.6C476.9 766.6 481.7 766.6 488.0 766.5C494.3 766.3 499.1 766.0 505.4 765.8C511.6 765.5 516.5 765.2 522.8 765.0C529.0 764.9 533.9 764.9 540.1 765.1C546.4 765.3 554.4 765.9 557.5 766.0" fill="none" stroke="#8030c0" stroke-width="1" stroke-linejoin="round"/>
<path d="M349.0 766.6C352.1 766.6 360.1 766.8 366.4 766.8C372.6 766.8 377.5 766.6 383.8 766.5C390.0 766.3 394.9 766.1 401.1 766.0C407.4 765.8 412.2 765.8 418.5 765.7C424.8 765.6 429.6 765.6 435.9 765.5C442.1 765.4 447.0 765.4 453.2 765.2C459.5 765.1 464.4 764.9 470.6 764.8C476.9 764.6 481.7 764.5 488.0 764.4C494.3 764.4 499.1 764.4 505.4 764.6C511.6 764.7 516.5 765.0 522.8 765.2C529.0 765.4 533.9 765.7 540.1 765.9C546.4 766.0 554.4 766.1 557.5 766.1" fill="none" stroke="#3060c0" stroke-width="1" stroke-linejoin="round"/>
<path d="M349.0 764.5C352.1 764.4 360.1 764.2 366.4 764.2C372.6 764.2 377.5 764.4 383.8 764.5C390.0 764.6 394.9 764.6 401.1 764.7C407.4 764.8 412.2 764.9 418.5 765.0C424.8 765.1 429.6 765.3 435.9 765.5C442.1 765.6 447.0 765.8 453.2 765.8C459.5 765.8 464.4 765.6 470.6 765.4C476.9 765.1 481.7 764.6 488.0 764.3C494.3 764.0 499.1 763.7 505.4 763.7C511.6 763.6 516.5 763.8 522.8 763.9C529.0 764.1 533.9 764.4 540.1 764.6C546.4 764.8 554.4 764.9 557.5 765.0" fill="none" stroke="#c040a0" stroke-width="1" stroke-linejoin="round"/>
<path d="M349.0 764.5C352.1 764.4 360.1 764.3 366.4 764.2C372.6 764.1 377.5 764.1 383.8 764.0C390.0 763.9 394.9 763.9 401.1 763.7C407.4 763.6 412.2 763.4 418.5 763.3C424.8 763.1 429.6 763.0 435.9 763.0C442.1 762.9 447.0 763.0 453.2 763.1C459.5 763.3 464.4 763.6 470.6 763.8C476.9 764.0 481.7 764.3 488.0 764.4C494.3 764.6 499.1 764.7 505.4 764.7C511.6 764.7 516.5 764.6 522.8 764.5C529.0 764.5 533.9 764.4 540.1 764.4C546.4 764.4 554.4 764.4 557.5 764.4" fill="none" stroke="#50b0d0" stroke-width="1" stroke-linejoin="round"/>
<path d="M349.0 763.7C352.1 763.6 360.1 763.6 366.4 763.5C372.6 763.4 377.5 763.1 383.8 762.9C390.0 762.7 394.9 762.3 401.1 762.3C407.4 762.3 412.2 762.6 418.5 762.9C424.8 763.3 429.6 764.0 435.9 764.3C442.1 764.6 447.0 764.7 453.2 764.6C459.5 764.5 464.4 764.0 470.6 763.7C476.9 763.4 481.7 763.1 488.0 763.0C494.3 762.9 499.1 763.0 505.4 763.0C511.6 763.1 516.5 763.2 522.8 763.3C529.0 763.4 533.9 763.5 540.1 763.7C546.4 763.9 554.4 764.1 557.5 764.2" fill="none" stroke="#707070" stroke-width="1" stroke-linejoin="round"/>
<path d="M349.0 762.4C352.1 762.5 360.1 762.8 366.4 763.0C372.6 763.2 377.5 763.6 383.8 763.8C390.0 764.0 394.9 764.0 401.1 763.9C407.4 763.8 412.2 763.5 418.5 763.1C424.8 762.8 429.6 762.4 435.9 762.2C442.1 762.0 447.0 761.9 453.2 762.0C459.5 762.0 464.4 762.1 470.6 762.3C476.9 762.4 481.7 762.4 488.0 762.5C494.3 762.6 499.1 762.7 505.4 762.8C511.6 762.9 516.5 763.1 522.8 763.3C529.0 763.4 533.9 763.6 540.1 763.6C546.4 763.6 554.4 763.2 557.5 763.1" fill="none" stroke="#9a6a20" stroke-width="1" stroke-linejoin="round"/>
<path d="M349.0 762.0C352.1 762.2 360.1 763.0 366.4 763.1C372.6 763.3 377.5 763.3 383.8 763.0C390.0 762.8 394.9 762.1 401.1 761.8C407.4 761.4 412.2 761.1 418.5 761.1C424.8 761.0 429.6 761.3 435.9 761.5C442.1 761.6 447.0 761.8 453.2 761.9C459.5 762.1 464.4 762.1 470.6 762.2C476.9 762.3 481.7 762.4 488.0 762.3C494.3 762.2 499.1 762.1 505.4 761.8C511.6 761.5 516.5 761.0 522.8 760.8C529.0 760.6 533.9 760.6 540.1 760.8C546.4 761.0 554.4 761.8 557.5 762.1" fill="none" stroke="#207070" stroke-width="1" stroke-linejoin="round"/>
<path d="M349.0 759.1C352.1 759.4 360.1 760.0 366.4 760.5C372.6 761.0 377.5 761.5 383.8 761.8C390.0 762.1 394.9 761.9 401.1 761.9C407.4 761.9 412.2 762.1 418.5 761.8C424.8 761.5 429.6 761.0 435.9 760.5C442.1 760.0 447.6 759.2 453.2 759.1C458.9 759.0 462.8 760.0 467.1 760.0C471.5 760.0 473.8 759.3 477.6 759.2C481.3 759.1 483.0 759.1 488.0 759.4C493.0 759.6 499.1 760.3 505.4 760.5C511.6 760.8 516.5 761.0 522.8 760.8C529.0 760.6 533.9 759.5 540.1 759.4C546.4 759.2 554.4 759.9 557.5 760.0" fill="none" stroke="#000000" stroke-width="1.2" stroke-linejoin="round"/>
<path d="M349.0 769.3C352.1 769.6 360.1 770.7 366.4 771.3C372.6 772.0 377.5 772.5 383.8 772.9C390.0 773.2 394.9 773.4 401.1 773.4C407.4 773.4 412.2 773.2 418.5 772.9C424.8 772.5 429.6 772.0 435.9 771.3C442.1 770.7 447.0 769.1 453.2 769.3C459.5 769.4 464.4 771.6 470.6 772.3C476.9 773.1 481.7 773.6 488.0 773.6C494.3 773.7 499.7 773.0 505.4 772.6C511.0 772.2 515.8 771.2 519.3 771.3C522.7 771.4 520.7 772.7 524.5 773.1C528.2 773.5 534.2 773.4 540.1 773.6C546.1 773.9 554.4 774.3 557.5 774.4" fill="none" stroke="#9020c0" stroke-width="1.3" stroke-linejoin="round"/>
<path d="M349.0 774.4C350.9 774.4 355.7 774.7 359.4 774.4C363.2 774.1 365.5 773.6 369.9 772.9C374.2 772.1 378.1 770.6 383.8 770.3C389.4 770.0 394.9 770.8 401.1 771.1C407.4 771.3 412.2 771.5 418.5 771.8C424.8 772.2 429.6 772.4 435.9 772.9C442.1 773.3 448.9 774.2 453.2 774.4C457.6 774.6 457.4 774.4 460.2 773.9C463.0 773.4 465.8 771.8 468.9 771.8C472.0 771.8 474.1 773.4 477.6 773.9C481.0 774.4 479.9 774.6 488.0 774.4C496.1 774.2 510.2 772.8 522.8 772.9C535.3 773.0 551.2 774.6 557.5 774.9" fill="none" stroke="#101090" stroke-width="1.3" stroke-linejoin="round"/>
<path d="M349.0 784.7C352.1 783.5 360.1 780.2 366.4 778.0C372.6 775.8 377.5 773.6 383.8 772.6C390.0 771.6 394.9 772.6 401.1 772.6C407.4 772.6 412.9 772.4 418.5 772.6C424.1 772.8 427.7 772.6 432.4 773.9C437.1 775.1 440.8 777.6 444.6 779.6C448.3 781.5 450.7 784.4 453.2 784.7C455.8 785.0 456.0 782.8 458.5 781.1C461.0 779.4 461.8 776.7 467.1 775.4C472.5 774.1 481.1 774.3 488.0 773.9C494.9 773.5 499.1 773.6 505.4 773.4C511.6 773.2 516.5 772.8 522.8 772.9C529.0 773.0 533.9 773.4 540.1 773.9C546.4 774.4 554.4 775.2 557.5 775.4" fill="none" stroke="#2020f0" stroke-width="1.3" stroke-linejoin="round"/>
<path d="M349.0 784.7C352.1 783.7 360.1 781.0 366.4 779.0C372.6 777.0 377.5 774.7 383.8 773.6C390.0 772.6 394.9 773.4 401.1 773.4C407.4 773.3 413.5 773.3 418.5 773.4C423.5 773.4 425.2 773.0 428.9 773.6C432.7 774.3 435.0 775.1 439.4 777.0C443.7 778.9 448.9 783.6 453.2 784.2C457.6 784.7 459.9 781.4 463.7 780.1C467.4 778.8 469.7 777.9 474.1 777.0C478.5 776.1 482.4 775.5 488.0 774.9C493.6 774.3 502.2 773.9 505.4 773.6" fill="none" stroke="#e02020" stroke-width="1.1" stroke-linejoin="round"/>
<path d="M418.5 773.4C421.0 774.0 427.4 775.4 432.4 777.0C437.4 778.6 442.5 780.9 446.3 782.1C450.1 783.4 452.0 783.6 453.2 783.9" fill="none" stroke="#000000" stroke-width="1" stroke-linejoin="round"/>
<path d="M383.8 772.6C386.9 772.8 394.9 773.5 401.1 773.6C407.4 773.7 412.2 773.4 418.5 773.1C424.8 772.8 432.7 772.3 435.9 772.1" fill="none" stroke="#e020a0" stroke-width="1.1" stroke-linejoin="round"/>
<path d="M498.4 772.9C500.9 773.0 507.9 773.4 512.3 773.4C516.7 773.4 520.9 773.0 522.8 772.9" fill="none" stroke="#e020a0" stroke-width="1.1" stroke-linejoin="round"/>
<rect x="349.00" y="630.30" width="208.50" height="154.40" fill="none" stroke="#8a8a8a" stroke-width="1"/>
<text x="343.0" y="789.3" font-size="14.2" text-anchor="end">0.0</text>
<text x="343.0" y="763.6" font-size="14.2" text-anchor="end">0.1</text>
<text x="343.0" y="737.8" font-size="14.2" text-anchor="end">0.2</text>
<text x="343.0" y="712.1" font-size="14.2" text-anchor="end">0.3</text>
<text x="343.0" y="686.4" font-size="14.2" text-anchor="end">0.4</text>
<text x="343.0" y="660.6" font-size="14.2" text-anchor="end">0.5</text>
<text x="343.0" y="634.9" font-size="14.2" text-anchor="end">0.6</text>
<text x="349.0" y="801.7" font-size="15.7" text-anchor="middle">Γ</text>
<text x="383.8" y="801.7" font-size="15.7" text-anchor="middle">X</text>
<text x="418.5" y="801.7" font-size="15.7" text-anchor="middle">M</text>
<text x="453.2" y="801.7" font-size="15.7" text-anchor="middle">Γ</text>
<text x="488.0" y="801.7" font-size="15.7" text-anchor="middle">R</text>
<text x="522.8" y="801.7" font-size="15.7" text-anchor="middle">X/M</text>
<text x="557.5" y="801.7" font-size="15.7" text-anchor="middle">R</text>
<path d="M349.00 784.70h-3.2M349.00 758.97h-3.2M349.00 733.23h-3.2M349.00 707.50h-3.2M349.00 681.77h-3.2M349.00 656.03h-3.2M349.00 630.30h-3.2M349.00 784.70v3M383.75 784.70v3M418.50 784.70v3M453.25 784.70v3M488.00 784.70v3M522.75 784.70v3M557.50 784.70v3" stroke="#777" stroke-width="0.9" fill="none"/>
<text x="452.9" y="710.7" font-size="13.4" text-anchor="middle">24th-25th RBGW=141%</text>
<text transform="translate(316.3 717.0) rotate(-90)" font-size="15.3" text-anchor="middle">Non-dimensional frequency</text>
</g>
</svg></body></html>
